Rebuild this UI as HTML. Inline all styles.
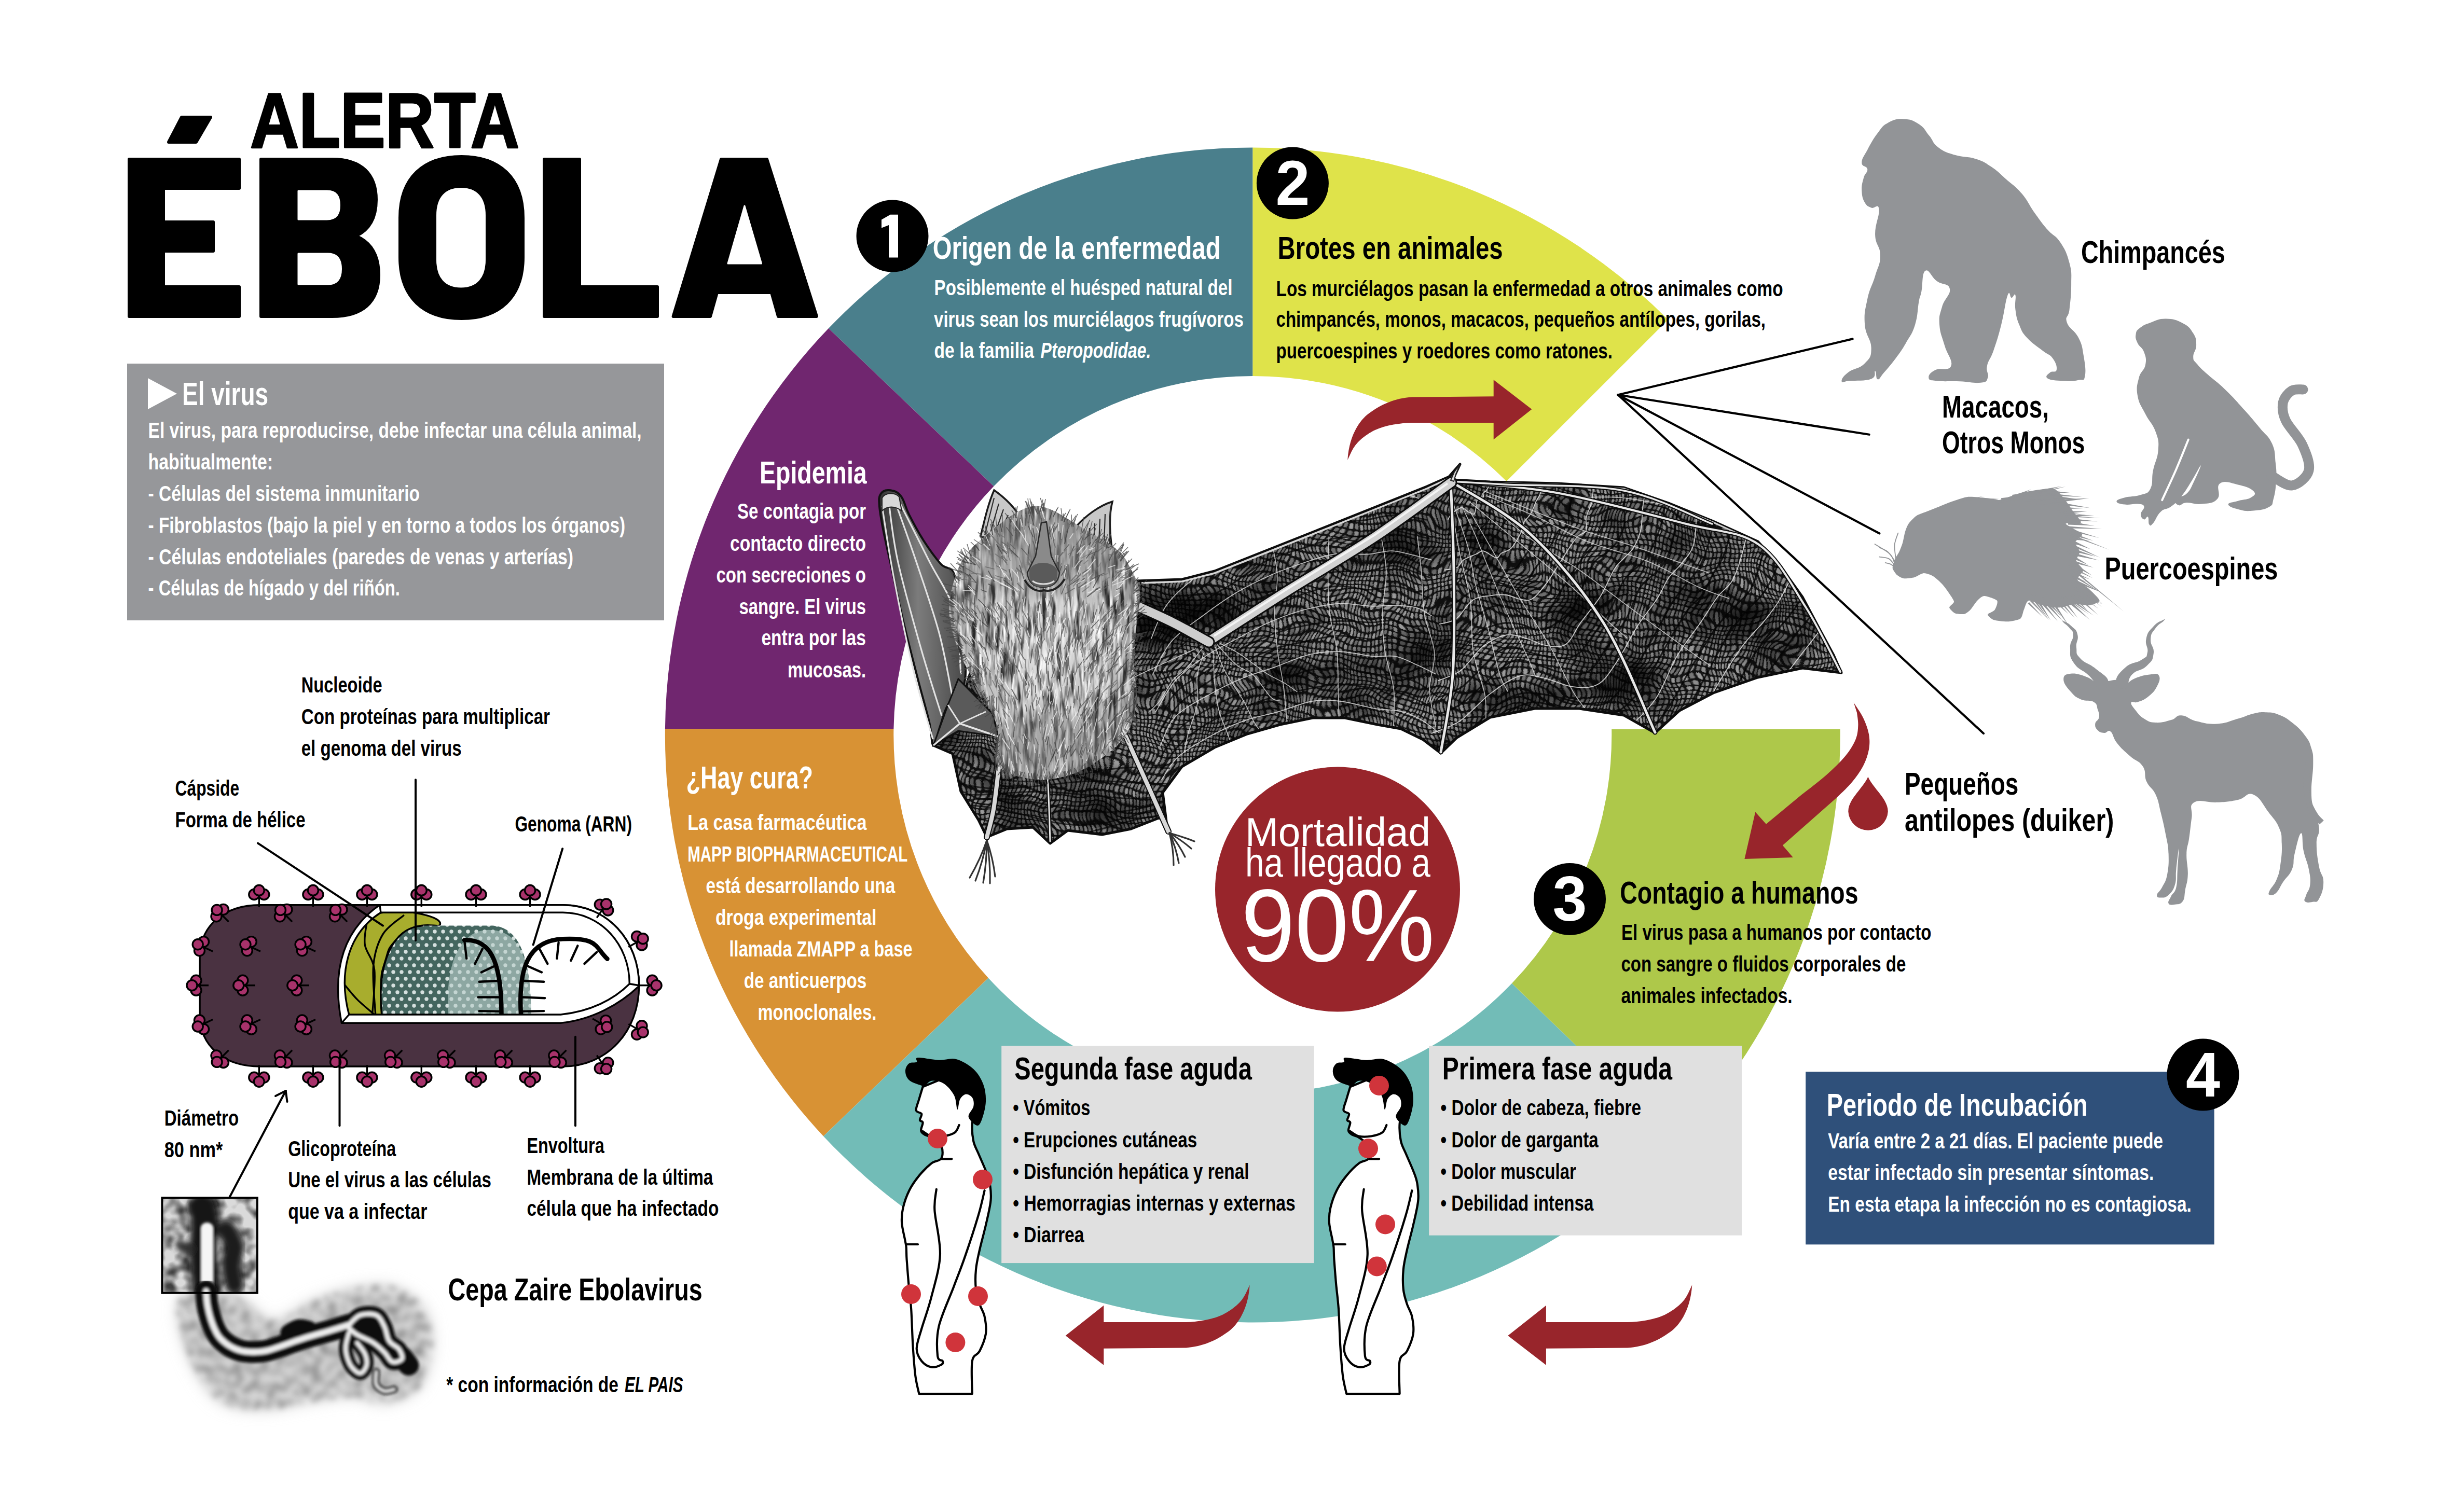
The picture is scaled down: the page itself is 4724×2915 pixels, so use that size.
<!DOCTYPE html>
<html lang="es"><head><meta charset="utf-8"><title>Alerta Ébola</title>
<style>html,body{margin:0;padding:0;background:#fff}body{width:4724px;height:2915px;overflow:hidden}svg{display:block}text{font-family:"Liberation Sans",sans-serif}</style>
</head><body>
<svg width="4724" height="2915" viewBox="0 0 4724 2915" font-family="Liberation Sans, sans-serif">
<rect width="4724" height="2915" fill="#fff"/>
<path d="M3215.1,616.2 A1132.5,1132.5 0 0 0 2414.3,284.5 L2414.3,725.0 A692.0,692.0 0 0 1 2903.6,927.7Z" fill="#DFE34A"/>
<path d="M2414.3,284.5 A1132.5,1132.5 0 0 0 1596.9,633.1 L1915.3,937.6 A692.0,692.0 0 0 1 2414.3,725.0Z" fill="#4A7F8C"/>
<path d="M1596.9,633.1 A1132.5,1132.5 0 0 0 1281.9,1405.2 L1722.4,1405.2 A692.0,692.0 0 0 1 1915.3,937.6Z" fill="#70266F"/>
<path d="M1281.9,1405.2 A1132.5,1132.5 0 0 0 1587.0,2190.4 L1904.9,1885.4 A692.0,692.0 0 0 1 1722.4,1405.2Z" fill="#D89234"/>
<path d="M1587.0,2190.4 A1132.5,1132.5 0 0 0 3230.3,2202.3 L2914.0,1895.7 A692.0,692.0 0 0 1 1904.9,1885.4Z" fill="#72BCB7"/>
<path d="M3230.3,2202.3 A1132.5,1132.5 0 0 0 3546.7,1405.7 L3106.2,1405.7 A692.0,692.0 0 0 1 2914.0,1895.7Z" fill="#AEC84A"/>
<g fill="#000" stroke="#000" stroke-width="6" stroke-linejoin="round">
<path d="M249,307 H461 V363 H315 V428 H411 V484 H315 V553 H461 V610 H249 Z"/>
<path d="M503,307 H640 C698,307 725,337 725,385 C725,420 712,443 686,455 C717,468 730,495 730,530 C730,583 698,610 640,610 H503 Z"/>
<path d="M771,420 C771,342 817,302 889.5,302 C962,302 1008,342 1008,420 V496 C1008,574 962,614 889.5,614 C817,614 771,574 771,496 Z"/>
<path d="M1049,307 H1117 V553 H1267 V610 H1049 Z"/>
<path d="M1390,307 H1478 L1574,610 H1500 L1487,564 H1382 L1369,610 H1297.6 Z"/>
<path d="M350,226 H406 L378,274 H325 Z"/>
</g>
<g fill="#fff" stroke="#fff" stroke-width="3" stroke-linejoin="round">
<path d="M575,368 H630 C649,368 654.5,379 654.5,395.5 C654.5,412 649,423 630,423 H575 Z"/>
<path d="M575,489 H632 C651,489 657.5,501 657.5,518.5 C657.5,536 651,548 632,548 H575 Z"/>
<path d="M842.5,415 C842.5,381 859,363.5 888.5,363.5 C918,363.5 934.5,381 934.5,415 V501 C934.5,535 918,553 888.5,553 C859,553 842.5,535 842.5,501 Z"/>
<path d="M1435,397 L1467.5,508 H1403 Z"/>
</g>
<text x="482.0" y="284.0" font-size="150" font-weight="bold" fill="#000" textLength="519.0" lengthAdjust="spacingAndGlyphs" text-anchor="start" stroke="#000" stroke-width="3.5" stroke-linejoin="round">ALERTA</text>
<defs>
<pattern id="wingtex" width="17" height="26" patternUnits="userSpaceOnUse" patternTransform="rotate(8)">
<rect width="17" height="26" fill="#121212"/>
<rect x="1.5" y="2" width="6" height="10" rx="2.6" fill="#9a9a9a"/><rect x="10" y="1" width="5.5" height="10" rx="2.6" fill="#777"/>
<rect x="2" y="15" width="5.5" height="9.5" rx="2.6" fill="#6e6e6e"/><rect x="9.5" y="14.5" width="6" height="10" rx="2.6" fill="#8c8c8c"/>
</pattern>
<filter id="wob" x="0" y="0" width="100%" height="100%" color-interpolation-filters="sRGB">
<feTurbulence type="fractalNoise" baseFrequency="0.009 0.012" numOctaves="2" seed="3" result="t"/>
<feDisplacementMap in="SourceGraphic" in2="t" scale="70" xChannelSelector="R" yChannelSelector="G"/>
</filter>
<filter id="blotch" x="0" y="0" width="100%" height="100%" color-interpolation-filters="sRGB">
<feTurbulence type="fractalNoise" baseFrequency="0.006 0.008" numOctaves="3" seed="9" result="n"/>
<feColorMatrix in="n" type="matrix" values="0 0 0 0 0  0 0 0 0 0  0 0 0 0 0  2.2 0 0 0 -0.95"/>
</filter>
<filter id="furtex" x="0" y="0" width="100%" height="100%" color-interpolation-filters="sRGB">
<feTurbulence type="fractalNoise" baseFrequency="0.11 0.016" numOctaves="3" seed="21" result="n"/>
<feColorMatrix in="n" type="matrix" values="0 0 0 0 0.16  0 0 0 0 0.16  0 0 0 0 0.16  3.2 0 0 0 -1.35"/>
</filter>
<filter id="furtex2" x="0" y="0" width="100%" height="100%" color-interpolation-filters="sRGB">
<feTurbulence type="fractalNoise" baseFrequency="0.13 0.02" numOctaves="2" seed="5" result="n"/>
<feColorMatrix in="n" type="matrix" values="0 0 0 0 1  0 0 0 0 1  0 0 0 0 1  0 3.0 0 0 -1.45"/>
</filter>
<radialGradient id="fur" cx="50%" cy="52%" r="58%"><stop offset="0" stop-color="#E2E2E2"/><stop offset="0.55" stop-color="#C2C2C2"/><stop offset="1" stop-color="#858585"/></radialGradient>
<linearGradient id="fold" x1="0" y1="0" x2="1" y2="0"><stop offset="0" stop-color="#333"/><stop offset="0.45" stop-color="#7c7c7c"/><stop offset="1" stop-color="#484848"/></linearGradient>
</defs>
<clipPath id="wingclip"><path d="M2190.0,1120.0 L2278.0,1117.0 L2341.0,1101.0 L2404.0,1076.0 L2530.0,1026.0 L2655.0,976.0 L2750.0,938.0 L2793.0,919.0 L2814.0,895.0 L2800.0,925.0 L2872.0,929.0 L3001.0,932.0 L3130.0,940.0 L3216.0,970.0 L3302.0,1005.0 L3388.0,1044.0 L3431.0,1091.0 L3474.0,1151.0 L3508.0,1215.0 L3534.0,1263.0 L3549.0,1297.0 L3474.0,1288.0 L3388.0,1306.0 L3302.0,1336.0 L3237.0,1370.0 L3190.0,1413.0 L3130.0,1379.0 L3044.0,1366.0 L2958.0,1366.0 L2872.0,1383.0 L2808.0,1422.0 L2777.0,1452.0 L2743.0,1426.0 L2700.0,1405.0 L2655.0,1397.0 L2592.0,1384.0 L2530.0,1384.0 L2467.0,1397.0 L2404.0,1415.0 L2341.0,1441.0 L2278.0,1478.0 L2241.0,1528.0 L2250.0,1600.0 L2236.0,1576.0 L2180.0,1598.0 L2124.0,1609.0 L2058.0,1601.0 L2024.0,1626.0 L1991.0,1595.0 L1941.0,1598.0 L1902.0,1614.0 L1886.0,1581.0 L1852.0,1526.0 L1836.0,1453.0 L1799.0,1437.0 L1847.0,1409.0 L1860.0,1330.0 L1900.0,1200.0Z"/></clipPath>
<g clip-path="url(#wingclip)">
<rect x="1750" y="850" width="1850" height="820" fill="url(#wingtex)" filter="url(#wob)"/>
<rect x="1750" y="850" width="1850" height="820" fill="#000" filter="url(#blotch)"/>
<path d="M2865.5,929.7 C2866.2,930.9 2869.9,934.2 2869.6,937.0 C2869.4,939.8 2865.8,943.9 2863.9,946.3 C2862.0,948.7 2859.0,949.5 2858.2,951.5 C2857.5,953.5 2860.7,957.1 2859.3,958.3 C2857.9,959.5 2852.2,956.2 2849.8,958.5 C2847.4,960.7 2845.6,969.3 2844.9,971.9 C2844.1,974.6 2845.7,971.2 2845.2,974.3 C2844.7,977.4 2844.1,988.2 2841.8,990.5 C2839.6,992.7 2835.4,989.8 2831.7,987.9 C2828.0,986.0 2822.1,980.6 2819.4,979.1 C2816.7,977.6 2818.0,977.8 2815.5,978.8 C2813.0,979.8 2807.7,982.6 2804.2,985.3 C2800.7,988.0 2796.8,992.0 2794.5,994.9 C2792.2,997.8 2791.2,1001.3 2790.5,1002.6" fill="none" stroke="#e6e6e6" stroke-width="1.8" opacity="0.85"/>
<path d="M2900.2,931.1 C2900.0,933.1 2899.7,940.1 2899.1,943.5 C2898.4,947.0 2896.5,947.7 2896.4,951.7 C2896.2,955.7 2898.9,964.5 2898.1,967.7 C2897.3,970.8 2894.6,969.7 2891.6,970.7 C2888.6,971.7 2883.3,971.2 2880.2,973.5 C2877.0,975.8 2874.4,979.5 2872.6,984.4 C2870.7,989.2 2871.0,997.9 2868.9,1002.6 C2866.9,1007.3 2863.3,1010.1 2860.4,1012.8 C2857.5,1015.4 2856.3,1019.5 2851.3,1018.7 C2846.4,1018.0 2834.7,1009.7 2830.9,1008.2 C2827.1,1006.7 2830.9,1008.4 2828.6,1009.7 C2826.4,1011.0 2822.9,1012.6 2817.6,1015.9 C2812.2,1019.1 2800.9,1026.6 2796.5,1029.2 C2792.2,1031.8 2792.4,1031.1 2791.5,1031.4" fill="none" stroke="#050505" stroke-width="3.2" opacity="0.8"/>
<path d="M2929.9,928.5 C2931.1,932.0 2938.1,943.8 2937.4,949.0 C2936.8,954.2 2928.7,956.4 2925.9,959.9 C2923.2,963.3 2921.7,966.5 2920.9,969.6 C2920.1,972.8 2923.0,975.1 2921.3,978.7 C2919.6,982.3 2914.7,986.1 2910.7,991.4 C2906.7,996.8 2901.5,1004.5 2897.3,1010.9 C2893.1,1017.2 2889.6,1024.7 2885.5,1029.7 C2881.5,1034.8 2877.2,1039.2 2873.0,1041.2 C2868.8,1043.1 2863.7,1041.4 2860.5,1041.5 C2857.3,1041.5 2858.4,1041.5 2853.7,1041.3 C2848.9,1041.2 2838.3,1040.1 2831.9,1040.7 C2825.5,1041.3 2819.7,1041.4 2815.4,1044.9 C2811.0,1048.5 2811.4,1057.3 2805.9,1062.0 C2800.4,1066.7 2786.3,1071.3 2782.4,1073.2" fill="none" stroke="#050505" stroke-width="3.2" opacity="0.8"/>
<path d="M2965.1,928.3 C2965.8,931.8 2969.9,942.9 2969.2,949.3 C2968.5,955.6 2963.4,960.5 2960.6,966.6 C2957.9,972.8 2955.0,981.3 2952.6,986.2 C2950.1,991.1 2948.5,992.7 2945.9,996.2 C2943.3,999.7 2939.5,1001.9 2937.0,1007.2 C2934.4,1012.6 2934.7,1020.0 2930.7,1028.2 C2926.7,1036.4 2919.1,1050.3 2912.9,1056.7 C2906.8,1063.1 2898.4,1063.4 2893.6,1066.6 C2888.8,1069.7 2889.7,1076.2 2884.0,1075.5 C2878.4,1074.8 2865.9,1063.6 2859.5,1062.4 C2853.1,1061.1 2852.1,1065.2 2845.6,1068.0 C2839.1,1070.9 2827.0,1075.2 2820.7,1079.6 C2814.4,1083.9 2814.0,1091.1 2807.8,1094.3 C2801.5,1097.5 2787.3,1098.1 2783.2,1098.9" fill="none" stroke="#e6e6e6" stroke-width="1.8" opacity="0.85"/>
<path d="M2997.4,935.9 C2997.4,939.5 2998.2,949.8 2997.6,957.6 C2996.9,965.3 2994.6,976.4 2993.2,982.6 C2991.8,988.8 2992.3,990.0 2989.4,994.7 C2986.4,999.4 2979.9,1006.4 2975.4,1010.7 C2970.8,1015.1 2965.9,1013.9 2962.0,1020.7 C2958.2,1027.6 2956.7,1042.6 2952.4,1051.7 C2948.1,1060.9 2941.6,1068.3 2936.3,1075.5 C2931.1,1082.7 2928.3,1091.3 2920.8,1095.2 C2913.4,1099.0 2899.4,1099.7 2891.7,1098.5 C2884.0,1097.4 2881.6,1089.8 2874.5,1088.3 C2867.5,1086.7 2856.7,1087.1 2849.3,1089.1 C2841.9,1091.2 2837.5,1093.7 2830.0,1100.4 C2822.4,1107.2 2811.4,1123.5 2804.1,1129.9 C2796.9,1136.3 2789.4,1137.5 2786.4,1139.0" fill="none" stroke="#050505" stroke-width="3.2" opacity="0.8"/>
<path d="M3037.9,932.7 C3036.6,936.5 3032.6,945.5 3030.3,955.4 C3027.9,965.3 3025.1,982.4 3023.8,992.0 C3022.4,1001.5 3025.5,1007.5 3022.2,1012.7 C3018.9,1017.9 3008.6,1018.4 3004.0,1023.2 C2999.3,1028.0 2999.0,1033.2 2994.3,1041.5 C2989.6,1049.8 2982.4,1062.8 2975.7,1073.0 C2969.0,1083.3 2960.0,1093.4 2953.9,1102.9 C2947.8,1112.4 2945.4,1125.4 2939.0,1130.2 C2932.6,1135.0 2923.5,1132.4 2915.5,1131.4 C2907.5,1130.3 2900.2,1126.0 2891.1,1124.0 C2881.9,1121.9 2869.1,1116.9 2860.4,1119.1 C2851.7,1121.3 2847.8,1129.8 2838.7,1136.9 C2829.7,1144.0 2815.5,1155.6 2806.2,1161.5 C2796.9,1167.5 2786.8,1170.8 2782.9,1172.7" fill="none" stroke="#050505" stroke-width="3.2" opacity="0.8"/>
<path d="M3071.2,931.2 C3070.7,937.0 3070.7,954.6 3068.4,965.7 C3066.1,976.8 3059.3,988.2 3057.3,997.7 C3055.4,1007.3 3059.6,1017.2 3056.9,1023.2 C3054.2,1029.3 3046.5,1028.5 3041.2,1034.0 C3035.8,1039.4 3031.4,1046.2 3024.9,1055.8 C3018.5,1065.3 3010.6,1079.0 3002.6,1091.3 C2994.6,1103.6 2985.4,1119.0 2976.9,1129.6 C2968.5,1140.3 2959.7,1151.0 2951.8,1155.3 C2943.9,1159.5 2937.7,1156.6 2929.5,1155.2 C2921.4,1153.8 2912.7,1148.1 2903.2,1147.0 C2893.6,1145.8 2883.2,1146.5 2872.3,1148.3 C2861.4,1150.0 2848.7,1149.9 2837.8,1157.4 C2826.8,1164.9 2817.3,1185.5 2806.6,1193.1 C2796.0,1200.7 2779.4,1201.5 2773.9,1203.2" fill="none" stroke="#e6e6e6" stroke-width="1.8" opacity="0.85"/>
<path d="M3108.0,934.5 C3106.8,941.0 3103.2,961.1 3100.7,973.1 C3098.1,985.0 3096.1,997.0 3092.7,1006.5 C3089.4,1016.0 3084.1,1022.4 3080.7,1030.1 C3077.2,1037.7 3076.4,1045.9 3072.1,1052.5 C3067.7,1059.1 3061.5,1060.7 3054.5,1069.6 C3047.5,1078.5 3038.8,1092.2 3029.8,1105.9 C3020.8,1119.6 3008.8,1138.5 3000.4,1151.8 C2992.1,1165.1 2988.5,1179.3 2979.8,1185.8 C2971.1,1192.4 2959.7,1193.4 2948.4,1190.9 C2937.1,1188.4 2923.4,1174.6 2912.0,1170.9 C2900.6,1167.2 2891.6,1165.3 2880.0,1168.6 C2868.5,1171.9 2854.3,1181.3 2842.8,1190.5 C2831.4,1199.7 2823.2,1214.9 2811.5,1223.9 C2799.8,1232.9 2779.1,1241.1 2772.7,1244.5" fill="none" stroke="#050505" stroke-width="3.2" opacity="0.8"/>
<path d="M3142.8,933.0 C3140.8,939.0 3132.6,956.4 3130.7,969.0 C3128.8,981.6 3133.4,996.4 3131.2,1008.7 C3129.0,1021.0 3123.2,1033.5 3117.5,1042.8 C3111.9,1052.1 3104.5,1057.9 3097.3,1064.6 C3090.0,1071.2 3081.2,1073.1 3074.0,1082.8 C3066.8,1092.5 3061.5,1107.6 3054.2,1122.8 C3046.9,1138.0 3040.6,1160.1 3030.3,1173.9 C3020.1,1187.8 3003.8,1199.2 2992.7,1205.9 C2981.7,1212.6 2974.9,1214.9 2964.2,1214.4 C2953.5,1213.9 2940.5,1204.9 2928.6,1202.9 C2916.7,1200.9 2905.5,1199.8 2892.9,1202.3 C2880.3,1204.7 2866.6,1208.9 2853.0,1217.4 C2839.5,1225.9 2825.8,1243.8 2811.5,1253.4 C2797.2,1263.1 2774.6,1271.7 2767.3,1275.4" fill="none" stroke="#050505" stroke-width="3.2" opacity="0.8"/>
<path d="M3174.1,930.8 C3172.8,938.5 3168.3,961.5 3166.4,976.7 C3164.4,991.9 3165.4,1008.8 3162.3,1022.0 C3159.3,1035.2 3154.0,1046.7 3148.3,1056.0 C3142.7,1065.3 3134.5,1070.8 3128.2,1077.9 C3122.0,1084.9 3118.2,1086.1 3111.0,1098.1 C3103.7,1110.1 3095.5,1132.5 3084.7,1149.6 C3073.9,1166.8 3057.5,1185.3 3046.3,1200.8 C3035.1,1216.3 3028.8,1235.4 3017.5,1242.6 C3006.2,1249.8 2990.5,1246.0 2978.3,1244.1 C2966.1,1242.3 2956.6,1234.8 2944.1,1231.5 C2931.7,1228.2 2918.0,1221.6 2903.6,1224.1 C2889.3,1226.6 2872.9,1235.1 2858.2,1246.5 C2843.5,1257.9 2830.1,1281.5 2815.6,1292.5 C2801.1,1303.5 2778.6,1309.1 2771.2,1312.4" fill="none" stroke="#e6e6e6" stroke-width="1.8" opacity="0.85"/>
<path d="M3203.1,938.6 C3203.8,946.7 3208.7,971.8 3207.2,987.5 C3205.6,1003.3 3198.7,1019.6 3193.7,1033.2 C3188.7,1046.7 3182.3,1060.0 3177.2,1068.9 C3172.0,1077.8 3170.7,1078.6 3163.0,1086.7 C3155.3,1094.8 3140.3,1103.5 3130.9,1117.4 C3121.5,1131.3 3116.3,1152.6 3106.6,1169.9 C3096.9,1187.3 3084.1,1205.9 3072.9,1221.2 C3061.6,1236.6 3051.5,1254.3 3039.3,1262.2 C3027.0,1270.1 3013.7,1269.3 2999.1,1268.7 C2984.5,1268.1 2967.4,1262.1 2951.7,1258.6 C2936.0,1255.1 2919.8,1244.1 2904.9,1247.8 C2890.0,1251.5 2876.8,1268.1 2862.3,1280.8 C2847.9,1293.5 2833.4,1313.2 2818.3,1323.9 C2803.2,1334.6 2779.6,1341.3 2771.9,1344.7" fill="none" stroke="#050505" stroke-width="3.2" opacity="0.8"/>
<path d="M3244.4,931.0 C3242.6,940.4 3236.6,969.2 3233.3,987.6 C3229.9,1005.9 3227.7,1026.2 3224.2,1041.0 C3220.6,1055.8 3217.3,1066.2 3212.1,1076.4 C3206.9,1086.6 3201.5,1092.8 3193.0,1102.1 C3184.5,1111.5 3170.9,1117.7 3161.3,1132.6 C3151.7,1147.4 3146.6,1170.8 3135.3,1191.1 C3123.9,1211.4 3105.5,1236.9 3093.0,1254.2 C3080.6,1271.5 3074.0,1287.7 3060.8,1294.9 C3047.5,1302.1 3029.1,1299.5 3013.4,1297.5 C2997.8,1295.5 2982.5,1286.9 2966.8,1282.9 C2951.0,1278.9 2934.6,1269.2 2918.9,1273.4 C2903.2,1277.5 2889.6,1293.7 2872.3,1307.8 C2855.1,1321.8 2833.3,1345.8 2815.5,1357.7 C2797.7,1369.6 2774.0,1375.7 2765.7,1379.3" fill="none" stroke="#050505" stroke-width="3.2" opacity="0.8"/>
<path d="M3275.8,931.3 C3274.9,941.3 3272.1,971.0 3270.1,991.0 C3268.1,1011.0 3268.8,1035.4 3263.8,1051.5 C3258.8,1067.5 3248.1,1076.8 3240.2,1087.2 C3232.2,1097.7 3223.6,1103.1 3216.0,1114.1 C3208.4,1125.2 3204.2,1138.3 3194.4,1153.5 C3184.7,1168.7 3170.4,1184.6 3157.3,1205.1 C3144.2,1225.6 3128.7,1257.6 3115.8,1276.6 C3103.0,1295.5 3094.2,1311.1 3080.2,1319.0 C3066.3,1327.0 3049.4,1326.2 3032.1,1324.2 C3014.8,1322.3 2993.6,1310.9 2976.4,1307.3 C2959.2,1303.8 2946.5,1298.0 2929.1,1303.1 C2911.6,1308.2 2890.8,1323.5 2871.7,1337.9 C2852.5,1352.3 2832.9,1377.0 2814.1,1389.7 C2795.3,1402.4 2768.1,1410.0 2758.9,1414.0" fill="none" stroke="#e6e6e6" stroke-width="1.8" opacity="0.85"/>
<path d="M3305.4,933.2 C3305.1,943.6 3306.2,975.5 3303.8,995.7 C3301.3,1016.0 3295.8,1038.2 3290.9,1054.9 C3286.1,1071.5 3281.9,1083.0 3274.5,1095.4 C3267.2,1107.9 3255.9,1117.7 3246.9,1129.4 C3237.9,1141.1 3230.8,1149.1 3220.8,1165.6 C3210.8,1182.0 3199.3,1205.9 3186.8,1227.9 C3174.2,1249.9 3160.2,1276.4 3145.5,1297.4 C3130.7,1318.4 3114.2,1344.2 3098.3,1353.9 C3082.4,1363.6 3067.9,1357.8 3049.9,1355.7 C3032.0,1353.6 3010.0,1344.6 2990.7,1341.5 C2971.3,1338.3 2951.7,1333.3 2933.7,1336.7 C2915.7,1340.1 2901.9,1347.8 2882.5,1362.1 C2863.0,1376.4 2837.8,1408.6 2817.0,1422.3 C2796.2,1436.0 2767.7,1440.8 2757.9,1444.5" fill="none" stroke="#050505" stroke-width="3.2" opacity="0.8"/>
<path d="M3345.2,936.0 C3344.4,946.2 3343.6,975.5 3340.0,997.2 C3336.5,1018.9 3330.6,1047.7 3324.1,1066.1 C3317.7,1084.4 3308.2,1094.0 3301.2,1107.2 C3294.1,1120.4 3290.0,1133.8 3281.8,1145.5 C3273.7,1157.2 3264.3,1159.9 3252.2,1177.2 C3240.1,1194.4 3223.6,1224.3 3209.0,1249.2 C3194.5,1274.1 3181.0,1305.8 3164.9,1326.7 C3148.8,1347.6 3130.4,1365.5 3112.7,1374.6 C3095.0,1383.7 3076.3,1383.1 3058.6,1381.4 C3040.8,1379.8 3024.8,1369.0 3006.1,1364.6 C2987.4,1360.2 2967.4,1350.4 2946.5,1355.0 C2925.7,1359.5 2901.3,1374.8 2880.9,1391.9 C2860.6,1409.0 2844.4,1443.1 2824.6,1457.6 C2804.8,1472.1 2772.6,1475.4 2762.2,1479.0" fill="none" stroke="#050505" stroke-width="3.2" opacity="0.8"/>
<path d="M3371.5,941.8 C3371.4,952.9 3373.0,986.4 3370.5,1008.1 C3367.9,1029.9 3361.8,1053.6 3356.3,1072.4 C3350.9,1091.1 3345.4,1107.9 3337.9,1120.8 C3330.4,1133.7 3321.2,1136.6 3311.1,1149.8 C3301.1,1163.0 3290.9,1180.8 3277.6,1200.2 C3264.4,1219.6 3246.1,1241.3 3231.5,1266.0 C3216.9,1290.7 3206.7,1325.6 3190.2,1348.6 C3173.8,1371.5 3151.2,1393.4 3132.7,1403.6 C3114.2,1413.8 3097.6,1411.2 3079.2,1409.7 C3060.9,1408.2 3042.9,1398.1 3022.6,1394.6 C3002.2,1391.1 2979.2,1384.2 2957.2,1388.9 C2935.3,1393.7 2913.1,1406.9 2890.9,1422.9 C2868.6,1439.0 2845.5,1469.1 2823.7,1485.4 C2802.0,1501.7 2770.9,1514.8 2760.4,1520.7" fill="none" stroke="#e6e6e6" stroke-width="1.8" opacity="0.85"/>
<path d="M3407.5,942.0 C3407.4,953.8 3409.2,989.7 3407.0,1012.8 C3404.8,1035.8 3399.7,1059.6 3394.2,1080.2 C3388.6,1100.9 3382.1,1121.6 3373.5,1136.7 C3364.8,1151.7 3353.4,1158.1 3342.2,1170.6 C3331.0,1183.1 3319.7,1193.0 3306.4,1211.6 C3293.1,1230.1 3278.8,1255.0 3262.6,1282.0 C3246.4,1309.1 3227.9,1348.6 3209.2,1373.9 C3190.6,1399.2 3169.5,1421.9 3150.8,1433.6 C3132.1,1445.4 3117.4,1446.1 3097.1,1444.4 C3076.8,1442.6 3050.8,1428.9 3029.0,1423.2 C3007.2,1417.6 2988.2,1405.5 2966.2,1410.5 C2944.1,1415.6 2920.3,1435.9 2896.7,1453.7 C2873.1,1471.4 2847.7,1500.3 2824.6,1516.9 C2801.6,1533.6 2769.2,1547.5 2758.2,1553.6" fill="none" stroke="#050505" stroke-width="3.2" opacity="0.8"/>
<path d="M3445.9,941.0 C3445.4,952.5 3446.5,984.6 3443.0,1009.8 C3439.6,1034.9 3432.5,1069.8 3425.1,1092.0 C3417.7,1114.3 3408.7,1128.9 3398.8,1143.2 C3388.9,1157.6 3377.3,1164.7 3365.9,1178.2 C3354.5,1191.7 3344.3,1202.3 3330.6,1224.3 C3316.9,1246.3 3299.7,1281.1 3283.6,1310.2 C3267.6,1339.3 3251.5,1373.4 3234.3,1399.0 C3217.1,1424.6 3199.8,1451.5 3180.2,1463.8 C3160.7,1476.2 3139.3,1476.7 3117.2,1473.0 C3095.2,1469.3 3071.6,1446.9 3047.8,1441.7 C3024.1,1436.5 3000.1,1434.1 2974.8,1441.6 C2949.5,1449.0 2921.4,1468.2 2896.0,1486.3 C2870.6,1504.5 2847.2,1533.7 2822.5,1550.4 C2797.7,1567.2 2760.0,1580.7 2747.5,1586.7" fill="none" stroke="#050505" stroke-width="3.2" opacity="0.8"/>
<path d="M3479.0,934.5 C3478.6,948.5 3480.0,990.9 3476.4,1018.3 C3472.8,1045.7 3464.6,1076.6 3457.2,1099.1 C3449.7,1121.6 3440.8,1137.4 3431.7,1153.4 C3422.5,1169.4 3414.4,1179.7 3402.1,1195.1 C3389.8,1210.6 3373.2,1225.2 3357.8,1246.2 C3342.4,1267.2 3327.1,1292.3 3309.8,1321.1 C3292.5,1349.9 3273.8,1390.3 3254.2,1419.1 C3234.6,1447.8 3213.1,1479.6 3192.1,1493.8 C3171.0,1507.9 3149.7,1508.3 3127.8,1504.1 C3105.8,1499.9 3083.5,1474.3 3060.3,1468.6 C3037.0,1463.0 3014.5,1462.5 2988.1,1470.2 C2961.6,1478.0 2928.7,1496.3 2901.8,1515.2 C2874.9,1534.0 2851.5,1565.9 2826.7,1583.2 C2802.0,1600.4 2765.4,1612.8 2753.2,1618.7" fill="none" stroke="#e6e6e6" stroke-width="1.8" opacity="0.85"/>
<path d="M3512.1,943.9 C3511.4,957.1 3510.8,995.7 3507.9,1023.3 C3505.0,1051.0 3501.7,1086.5 3494.6,1109.8 C3487.6,1133.1 3476.3,1146.8 3465.8,1163.1 C3455.3,1179.3 3445.4,1192.0 3431.9,1207.4 C3418.5,1222.7 3400.8,1232.9 3385.1,1255.3 C3369.4,1277.8 3355.5,1309.6 3337.8,1342.1 C3320.2,1374.5 3299.6,1420.9 3279.2,1450.0 C3258.7,1479.2 3237.1,1503.9 3215.0,1516.9 C3192.8,1529.9 3169.8,1530.6 3146.3,1527.9 C3122.7,1525.2 3098.4,1505.7 3073.6,1500.6 C3048.8,1495.5 3024.1,1490.9 2997.5,1497.1 C2970.9,1503.3 2942.6,1517.1 2913.9,1537.6 C2885.2,1558.0 2852.6,1600.1 2825.2,1620.0 C2797.7,1639.9 2761.6,1650.9 2748.9,1657.1" fill="none" stroke="#050505" stroke-width="3.2" opacity="0.8"/>
<path d="M3544.5,937.8 C3543.9,952.9 3544.6,999.0 3541.2,1028.8 C3537.7,1058.6 3530.7,1092.0 3523.7,1116.4 C3516.7,1140.8 3510.0,1156.9 3499.1,1175.1 C3488.2,1193.4 3471.4,1208.5 3458.3,1225.9 C3445.2,1243.3 3437.0,1256.8 3420.4,1279.3 C3403.8,1301.9 3378.6,1329.1 3358.7,1361.3 C3338.7,1393.4 3320.8,1441.9 3300.4,1472.3 C3280.1,1502.7 3259.5,1530.0 3236.6,1543.4 C3213.6,1556.8 3188.6,1555.3 3162.5,1552.9 C3136.3,1550.6 3106.4,1534.6 3079.7,1529.2 C3053.1,1523.9 3029.7,1514.1 3002.3,1520.7 C2975.0,1527.3 2944.9,1547.9 2915.8,1569.0 C2886.6,1590.1 2856.0,1626.4 2827.7,1647.2 C2799.4,1668.0 2759.7,1686.0 2746.1,1693.8" fill="none" stroke="#050505" stroke-width="3.2" opacity="0.8"/>
<path d="M3575.6,936.8 C3575.7,953.0 3579.0,1003.3 3576.1,1033.9 C3573.3,1064.6 3566.5,1095.2 3558.4,1120.7 C3550.3,1146.2 3538.3,1168.4 3527.5,1187.2 C3516.8,1205.9 3507.7,1214.9 3494.1,1233.1 C3480.5,1251.2 3463.7,1270.7 3445.9,1296.2 C3428.1,1321.7 3406.8,1351.7 3387.2,1386.0 C3367.6,1420.3 3350.2,1470.6 3328.1,1502.0 C3306.0,1533.3 3280.1,1559.6 3254.5,1574.1 C3228.9,1588.7 3201.6,1593.4 3174.6,1589.5 C3147.7,1585.5 3119.8,1557.7 3092.7,1550.5 C3065.6,1543.2 3039.9,1538.4 3011.8,1546.0 C2983.7,1553.7 2953.8,1574.4 2924.4,1596.3 C2894.9,1618.2 2865.9,1655.5 2834.9,1677.2 C2803.9,1698.9 2754.5,1718.4 2738.4,1726.6" fill="none" stroke="#e6e6e6" stroke-width="1.8" opacity="0.85"/>
<path d="M2855.8,937.0 C2868.9,937.3 2905.4,935.3 2934.5,938.7 C2963.5,942.1 2998.2,953.9 3029.8,957.3 C3061.5,960.7 3092.0,956.1 3124.3,959.3 C3156.6,962.4 3198.6,971.5 3223.4,976.0 C3248.3,980.6 3265.2,984.7 3273.5,986.5" fill="none" stroke="#e0e0e0" stroke-width="1.6" opacity="0.8"/>
<path d="M2860.1,946.6 C2873.9,952.2 2911.2,967.4 2943.1,980.0 C2975.0,992.7 3018.4,1010.8 3051.4,1022.6 C3084.5,1034.4 3109.7,1040.1 3141.6,1050.7 C3173.5,1061.4 3217.7,1077.4 3243.0,1086.4 C3268.3,1095.4 3284.9,1101.5 3293.3,1104.5" fill="none" stroke="#e0e0e0" stroke-width="1.6" opacity="0.8"/>
<path d="M2864.5,955.6 C2880.6,962.4 2929.0,981.6 2961.5,996.4 C2993.9,1011.1 3023.6,1029.8 3059.4,1044.1 C3095.2,1058.5 3141.1,1068.0 3176.4,1082.5 C3211.8,1096.9 3245.6,1118.8 3271.6,1130.7 C3297.6,1142.7 3322.3,1150.1 3332.4,1154.0" fill="none" stroke="#e0e0e0" stroke-width="1.6" opacity="0.8"/>
<path d="M2861.0,964.2 C2875.6,976.5 2918.1,1015.5 2948.5,1037.8 C2978.9,1060.2 3009.1,1074.7 3043.3,1098.5 C3077.5,1122.3 3119.9,1155.7 3153.7,1180.5 C3187.4,1205.3 3221.9,1230.0 3245.8,1247.3 C3269.7,1264.6 3288.7,1278.0 3297.3,1284.1" fill="none" stroke="#e0e0e0" stroke-width="1.6" opacity="0.8"/>
<path d="M2832.5,967.6 C2843.3,976.6 2875.7,1003.5 2897.4,1021.5 C2919.2,1039.4 2939.5,1055.6 2963.0,1075.3 C2986.5,1095.0 3015.8,1119.4 3038.5,1139.8 C3061.2,1160.2 3082.9,1182.7 3099.2,1197.8 C3115.5,1212.8 3130.0,1224.7 3136.1,1230.1" fill="none" stroke="#e0e0e0" stroke-width="1.6" opacity="0.8"/>
<path d="M2832.0,984.0 C2839.9,997.8 2862.9,1037.6 2879.5,1066.5 C2896.1,1095.3 2913.9,1127.7 2931.6,1157.1 C2949.3,1186.6 2969.0,1213.7 2985.7,1243.1 C3002.4,1272.5 3019.3,1311.7 3032.0,1333.6 C3044.7,1355.4 3057.1,1367.5 3062.1,1374.3" fill="none" stroke="#e0e0e0" stroke-width="1.6" opacity="0.8"/>
<path d="M2819.6,979.7 C2823.8,989.0 2835.5,1013.1 2844.9,1035.4 C2854.3,1057.8 2865.2,1087.0 2876.3,1113.7 C2887.3,1140.5 2900.3,1171.4 2911.3,1196.1 C2922.2,1220.7 2933.7,1243.6 2941.8,1261.5 C2949.8,1279.5 2956.5,1296.6 2959.4,1303.6" fill="none" stroke="#e0e0e0" stroke-width="1.6" opacity="0.8"/>
<path d="M2802.9,976.5 C2807.4,989.9 2823.0,1031.4 2829.8,1056.5 C2836.7,1081.6 2837.6,1101.5 2844.0,1127.2 C2850.3,1152.9 2860.1,1181.9 2867.8,1210.6 C2875.5,1239.3 2883.9,1279.0 2890.3,1299.4 C2896.7,1319.9 2903.6,1327.8 2906.2,1333.5" fill="none" stroke="#e0e0e0" stroke-width="1.6" opacity="0.8"/>
<path d="M2799.4,986.9 C2801.8,1000.2 2807.7,1038.3 2813.4,1066.8 C2819.2,1095.3 2829.5,1126.4 2833.9,1157.9 C2838.2,1189.4 2834.8,1225.3 2839.4,1255.7 C2844.1,1286.1 2857.9,1317.0 2862.0,1340.2 C2866.0,1363.3 2863.2,1385.7 2863.5,1394.8" fill="none" stroke="#e0e0e0" stroke-width="1.6" opacity="0.8"/>
<path d="M2238.9,1503.3 C2244.5,1495.7 2255.3,1472.4 2272.4,1457.6 C2289.5,1442.8 2319.8,1426.2 2341.4,1414.6 C2363.0,1403.0 2381.9,1395.2 2402.2,1388.1 C2422.5,1381.1 2442.0,1378.5 2463.2,1372.4 C2484.4,1366.4 2508.8,1355.3 2529.3,1351.9 C2549.7,1348.5 2565.6,1349.9 2586.1,1352.3 C2606.5,1354.7 2633.0,1363.2 2652.0,1366.4 C2670.9,1369.6 2685.3,1367.9 2699.7,1371.3 C2714.1,1374.8 2725.9,1380.4 2738.3,1387.3 C2750.6,1394.1 2767.7,1408.4 2773.6,1412.6" fill="none" stroke="#e6e6e6" stroke-width="1.7" opacity="0.8"/>
<path d="M2240.0,1483.1 C2245.8,1474.9 2259.2,1449.4 2275.1,1433.9 C2291.0,1418.5 2314.8,1402.1 2335.1,1390.3 C2355.5,1378.5 2376.6,1371.1 2397.2,1363.2 C2417.9,1355.2 2437.1,1348.7 2459.0,1342.6 C2480.9,1336.5 2507.8,1330.5 2528.8,1326.6 C2549.7,1322.7 2564.0,1319.0 2584.7,1319.2 C2605.3,1319.4 2634.2,1325.0 2652.7,1327.8 C2671.3,1330.5 2680.9,1331.3 2695.8,1335.7 C2710.8,1340.2 2729.3,1348.1 2742.6,1354.7 C2756.0,1361.3 2770.3,1372.0 2775.9,1375.4" fill="none" stroke="#050505" stroke-width="3" opacity="0.75"/>
<path d="M2237.3,1459.8 C2243.7,1450.3 2258.6,1419.0 2275.3,1402.7 C2292.1,1386.4 2317.1,1373.6 2337.6,1362.2 C2358.1,1350.7 2378.2,1342.2 2398.3,1334.2 C2418.5,1326.2 2437.6,1321.1 2458.3,1314.2 C2479.0,1307.2 2501.8,1296.9 2522.5,1292.5 C2543.2,1288.1 2561.6,1286.7 2582.6,1287.9 C2603.6,1289.2 2630.4,1297.2 2648.7,1299.7 C2667.1,1302.2 2678.7,1300.1 2692.9,1303.0 C2707.1,1305.9 2720.9,1310.4 2733.8,1317.2 C2746.8,1323.9 2764.6,1338.9 2770.7,1343.2" fill="none" stroke="#050505" stroke-width="3" opacity="0.75"/>
<path d="M2235.6,1439.2 C2240.7,1429.5 2249.6,1398.1 2266.1,1381.0 C2282.6,1364.0 2312.9,1349.3 2334.7,1336.9 C2356.4,1324.5 2376.4,1315.0 2396.5,1306.7 C2416.6,1298.3 2433.8,1294.4 2455.1,1286.9 C2476.4,1279.4 2502.8,1266.8 2524.4,1261.7 C2546.0,1256.6 2564.7,1255.7 2584.9,1256.3 C2605.2,1256.9 2628.4,1263.8 2646.0,1265.3 C2663.6,1266.9 2675.7,1262.7 2690.4,1265.7 C2705.1,1268.7 2721.4,1277.7 2734.1,1283.3 C2746.9,1289.0 2761.6,1296.9 2767.1,1299.6" fill="none" stroke="#e6e6e6" stroke-width="1.7" opacity="0.8"/>
<path d="M2232.9,1414.1 C2239.3,1404.9 2254.9,1375.5 2271.6,1358.5 C2288.2,1341.5 2311.9,1325.8 2332.8,1312.2 C2353.6,1298.5 2376.4,1286.9 2396.6,1276.7 C2416.8,1266.6 2433.3,1258.1 2454.1,1251.3 C2474.9,1244.4 2500.5,1239.9 2521.4,1235.7 C2542.3,1231.4 2558.4,1226.2 2579.4,1225.7 C2600.5,1225.2 2629.8,1232.0 2647.7,1232.7 C2665.6,1233.5 2673.0,1228.6 2686.7,1230.3 C2700.5,1232.0 2717.0,1237.9 2730.3,1243.0 C2743.5,1248.1 2760.3,1258.1 2766.3,1261.1" fill="none" stroke="#050505" stroke-width="3" opacity="0.75"/>
<path d="M2232.4,1392.4 C2238.0,1382.9 2249.6,1352.2 2266.1,1335.2 C2282.6,1318.2 2310.3,1304.5 2331.1,1290.6 C2352.0,1276.6 2370.6,1263.1 2391.1,1251.7 C2411.6,1240.2 2433.3,1229.8 2454.3,1222.1 C2475.3,1214.4 2495.6,1209.7 2517.2,1205.6 C2538.8,1201.5 2562.7,1198.3 2583.9,1197.3 C2605.0,1196.4 2627.6,1200.0 2644.3,1199.9 C2661.0,1199.8 2669.9,1194.8 2684.1,1196.6 C2698.4,1198.5 2716.8,1206.3 2729.7,1211.2 C2742.7,1216.1 2756.5,1223.6 2761.9,1226.0" fill="none" stroke="#050505" stroke-width="3" opacity="0.75"/>
<path d="M2227.1,1372.8 C2233.7,1362.5 2250.4,1328.9 2266.6,1310.9 C2282.8,1292.9 2303.2,1278.7 2324.3,1264.6 C2345.4,1250.5 2372.0,1237.6 2393.2,1226.4 C2414.5,1215.2 2431.8,1205.9 2451.8,1197.5 C2471.8,1189.1 2491.5,1181.4 2513.1,1175.7 C2534.8,1170.1 2560.3,1164.8 2581.9,1163.6 C2603.5,1162.5 2625.8,1168.1 2642.7,1168.7 C2659.7,1169.3 2669.0,1166.6 2683.6,1167.1 C2698.1,1167.5 2717.3,1168.2 2730.0,1171.6 C2742.7,1175.0 2754.7,1184.8 2759.7,1187.5" fill="none" stroke="#e6e6e6" stroke-width="1.7" opacity="0.8"/>
<path d="M2225.6,1349.6 C2231.4,1339.6 2244.3,1308.2 2260.6,1289.4 C2277.0,1270.6 2303.2,1251.1 2323.9,1236.7 C2344.6,1222.3 2364.3,1213.5 2385.0,1202.8 C2405.7,1192.0 2426.5,1181.9 2448.1,1172.2 C2469.6,1162.5 2492.9,1151.5 2514.3,1144.5 C2535.7,1137.5 2555.2,1131.4 2576.5,1130.1 C2597.8,1128.9 2623.9,1137.0 2642.3,1136.9 C2660.6,1136.9 2672.9,1129.2 2686.5,1129.8 C2700.2,1130.4 2711.9,1136.4 2724.0,1140.6 C2736.1,1144.8 2753.4,1152.7 2759.3,1155.2" fill="none" stroke="#050505" stroke-width="3" opacity="0.75"/>
<path d="M2220.9,1326.1 C2227.9,1315.0 2245.6,1279.1 2262.6,1259.5 C2279.7,1239.8 2303.4,1223.1 2323.4,1208.1 C2343.3,1193.1 2360.7,1180.1 2382.3,1169.4 C2403.8,1158.8 2431.1,1153.5 2452.9,1144.0 C2474.7,1134.5 2492.9,1119.4 2513.3,1112.5 C2533.7,1105.5 2554.9,1104.4 2575.4,1102.4 C2595.8,1100.4 2617.9,1102.7 2636.1,1100.7 C2654.2,1098.8 2670.0,1090.5 2684.4,1090.6 C2698.9,1090.8 2710.6,1097.9 2722.6,1101.7 C2734.5,1105.6 2750.6,1111.6 2756.1,1113.6" fill="none" stroke="#050505" stroke-width="3" opacity="0.75"/>
<path d="M2221.6,1300.4 C2227.7,1289.7 2241.5,1255.4 2258.2,1236.1 C2274.8,1216.8 2300.4,1200.5 2321.5,1184.7 C2342.7,1168.9 2364.0,1153.9 2385.1,1141.3 C2406.3,1128.7 2426.9,1118.6 2448.4,1109.2 C2469.8,1099.7 2493.1,1091.6 2513.7,1084.8 C2534.2,1078.0 2551.4,1071.0 2571.8,1068.3 C2592.1,1065.6 2617.6,1069.6 2636.0,1068.5 C2654.4,1067.5 2667.6,1061.8 2682.1,1062.0 C2696.5,1062.3 2709.9,1067.0 2722.9,1070.0 C2735.8,1072.9 2753.6,1078.2 2759.7,1079.8" fill="none" stroke="#e6e6e6" stroke-width="1.7" opacity="0.8"/>
<path d="M2218.3,1280.0 C2224.6,1269.5 2239.7,1237.1 2256.5,1217.2 C2273.4,1197.4 2298.4,1176.7 2319.2,1160.7 C2340.0,1144.7 2360.7,1134.7 2381.5,1121.2 C2402.2,1107.8 2422.2,1090.6 2443.6,1079.9 C2465.0,1069.3 2488.4,1064.1 2509.8,1057.2 C2531.2,1050.3 2551.0,1042.4 2571.9,1038.3 C2592.7,1034.2 2617.2,1035.1 2635.0,1032.4 C2652.8,1029.7 2664.9,1022.5 2678.7,1022.1 C2692.6,1021.6 2705.3,1026.8 2718.0,1029.6 C2730.7,1032.3 2748.9,1037.2 2755.0,1038.7" fill="none" stroke="#050505" stroke-width="3" opacity="0.75"/>
<path d="M2213.4,1259.6 C2220.2,1247.6 2237.2,1208.8 2254.2,1187.9 C2271.2,1167.0 2294.8,1150.9 2315.5,1134.2 C2336.1,1117.4 2356.1,1100.1 2377.9,1087.5 C2399.7,1075.0 2424.7,1068.8 2446.3,1058.7 C2467.9,1048.6 2487.1,1035.3 2507.3,1026.9 C2527.5,1018.6 2547.1,1012.4 2567.4,1008.4 C2587.6,1004.4 2610.6,1005.3 2628.8,1003.0 C2647.0,1000.6 2662.0,995.3 2676.5,994.2 C2691.0,993.1 2703.5,995.0 2715.8,996.3 C2728.0,997.7 2744.3,1001.3 2750.0,1002.3" fill="none" stroke="#050505" stroke-width="3" opacity="0.75"/>
<path d="M2218.6,1231.5 C2223.8,1220.3 2234.1,1185.3 2250.0,1164.4 C2265.8,1143.5 2291.7,1122.3 2313.6,1106.0 C2335.5,1089.7 2360.1,1080.0 2381.2,1066.5 C2402.3,1053.1 2419.6,1038.0 2440.2,1025.4 C2460.8,1012.7 2484.3,998.3 2504.7,990.4 C2525.0,982.4 2541.8,981.4 2562.2,977.7 C2582.7,974.0 2608.3,970.9 2627.5,968.0 C2646.7,965.1 2662.6,962.4 2677.5,960.3 C2692.4,958.3 2704.8,954.4 2716.8,955.7 C2728.8,956.9 2743.9,965.8 2749.4,967.9" fill="none" stroke="#e6e6e6" stroke-width="1.7" opacity="0.8"/>
<path d="M2351.1,1240.2 C2357.6,1243.6 2374.8,1251.4 2389.7,1261.0 C2404.6,1270.6 2426.5,1288.8 2440.5,1297.9 C2454.6,1307.1 2464.1,1309.9 2474.0,1315.9 C2484.0,1321.9 2496.1,1331.1 2500.5,1334.1" fill="none" stroke="#e0e0e0" stroke-width="1.6" opacity="0.8"/>
<path d="M2345.6,1242.4 C2351.9,1249.0 2371.8,1272.4 2383.5,1282.2 C2395.1,1292.0 2404.4,1290.9 2415.6,1301.3 C2426.7,1311.8 2441.7,1337.0 2450.4,1345.1 C2459.0,1353.2 2464.5,1349.1 2467.4,1349.9" fill="none" stroke="#e0e0e0" stroke-width="1.6" opacity="0.8"/>
<path d="M2342.4,1247.1 C2345.6,1255.1 2352.4,1277.7 2361.5,1295.0 C2370.6,1312.4 2387.1,1334.4 2396.8,1351.3 C2406.5,1368.2 2411.8,1384.5 2419.7,1396.6 C2427.6,1408.7 2440.3,1419.3 2444.4,1423.8" fill="none" stroke="#e0e0e0" stroke-width="1.6" opacity="0.8"/>
<path d="M2339.4,1257.0 C2339.6,1265.8 2338.9,1291.3 2340.5,1309.9 C2342.1,1328.5 2344.8,1351.2 2349.0,1368.7 C2353.3,1386.2 2361.9,1403.0 2366.1,1414.7 C2370.4,1426.4 2373.1,1434.9 2374.5,1439.0" fill="none" stroke="#e0e0e0" stroke-width="1.6" opacity="0.8"/>
<path d="M2320.0,1259.0 C2317.9,1266.5 2309.3,1287.5 2307.3,1303.7 C2305.2,1319.8 2310.7,1337.6 2307.9,1356.0 C2305.0,1374.3 2294.4,1397.9 2290.1,1413.7 C2285.9,1429.6 2283.9,1444.8 2282.6,1451.1" fill="none" stroke="#e0e0e0" stroke-width="1.6" opacity="0.8"/>
<path d="M2316.4,1250.7 C2311.6,1256.8 2296.7,1277.8 2287.6,1287.6 C2278.5,1297.5 2270.6,1299.2 2261.9,1309.8 C2253.2,1320.4 2243.0,1341.0 2235.3,1351.3 C2227.6,1361.7 2218.9,1368.6 2215.6,1372.0" fill="none" stroke="#e0e0e0" stroke-width="1.6" opacity="0.8"/>
<path d="M2305.7,1250.3 C2296.9,1254.3 2270.1,1266.5 2252.7,1274.5 C2235.2,1282.5 2219.4,1289.5 2201.0,1298.3 C2182.7,1307.2 2158.2,1319.6 2142.4,1327.6 C2126.6,1335.6 2112.1,1343.2 2106.1,1346.4" fill="none" stroke="#e0e0e0" stroke-width="1.6" opacity="0.8"/>
<path d="M2448.8,1033.3 C2451.0,1045.8 2460.4,1084.1 2461.7,1108.5 C2463.0,1132.9 2456.6,1155.3 2456.7,1179.9 C2456.8,1204.4 2459.5,1231.9 2462.4,1256.0 C2465.3,1280.1 2470.7,1299.2 2474.0,1324.4 C2477.2,1349.7 2480.6,1393.7 2481.9,1407.6" fill="none" stroke="#dedede" stroke-width="1.6" opacity="0.8"/>
<path d="M2561.5,1034.5 C2561.1,1045.5 2559.5,1076.6 2559.6,1100.8 C2559.8,1125.1 2559.5,1154.4 2562.4,1180.0 C2565.2,1205.5 2573.9,1228.7 2576.7,1254.3 C2579.5,1279.9 2578.5,1307.7 2579.3,1333.6 C2580.1,1359.5 2581.1,1397.2 2581.5,1409.9" fill="none" stroke="#dedede" stroke-width="1.6" opacity="0.8"/>
<path d="M2661.4,1030.5 C2663.1,1042.4 2671.2,1077.3 2671.8,1101.9 C2672.4,1126.4 2665.4,1152.6 2664.9,1177.7 C2664.4,1202.9 2665.3,1227.3 2668.8,1252.8 C2672.4,1278.2 2683.7,1304.8 2686.4,1330.3 C2689.2,1355.9 2685.5,1393.4 2685.3,1406.1" fill="none" stroke="#dedede" stroke-width="1.6" opacity="0.8"/>
<path d="M2731.8,1033.8 C2733.0,1045.2 2737.2,1077.3 2739.4,1102.1 C2741.7,1126.8 2741.0,1156.2 2745.2,1182.3 C2749.4,1208.4 2762.9,1234.0 2764.6,1258.4 C2766.3,1282.9 2754.8,1305.1 2755.2,1328.9 C2755.7,1352.8 2765.3,1389.5 2767.3,1401.6" fill="none" stroke="#dedede" stroke-width="1.6" opacity="0.8"/>
<path d="M1850.0,1480.9 C1857.5,1483.2 1880.0,1490.8 1895.0,1494.6 C1910.0,1498.5 1925.0,1501.9 1940.0,1503.9 C1955.0,1505.9 1970.0,1506.8 1985.0,1506.7 C2000.0,1506.6 2015.0,1505.2 2030.0,1503.3 C2045.0,1501.4 2060.0,1498.0 2075.0,1495.1 C2090.0,1492.2 2105.0,1488.3 2120.0,1485.9 C2135.0,1483.4 2150.0,1481.4 2165.0,1480.3 C2180.0,1479.2 2195.0,1479.2 2210.0,1479.3 C2225.0,1479.5 2247.5,1480.8 2255.0,1481.1" fill="none" stroke="#050505" stroke-width="3" opacity="0.7"/>
<path d="M1850.0,1511.0 C1857.5,1512.3 1880.0,1517.3 1895.0,1518.8 C1910.0,1520.3 1925.0,1520.5 1940.0,1520.2 C1955.0,1519.9 1970.0,1518.2 1985.0,1516.8 C2000.0,1515.4 2015.0,1513.5 2030.0,1512.0 C2045.0,1510.4 2060.0,1508.6 2075.0,1507.6 C2090.0,1506.5 2105.0,1505.7 2120.0,1505.7 C2135.0,1505.7 2150.0,1506.8 2165.0,1507.6 C2180.0,1508.4 2195.0,1510.1 2210.0,1510.6 C2225.0,1511.2 2247.5,1511.0 2255.0,1511.1" fill="none" stroke="#050505" stroke-width="3" opacity="0.7"/>
<path d="M1850.0,1531.8 C1857.5,1531.9 1880.0,1532.5 1895.0,1532.0 C1910.0,1531.6 1925.0,1529.9 1940.0,1529.0 C1955.0,1528.1 1970.0,1526.8 1985.0,1526.5 C2000.0,1526.2 2015.0,1526.6 2030.0,1527.3 C2045.0,1528.1 2060.0,1529.5 2075.0,1530.8 C2090.0,1532.2 2105.0,1534.0 2120.0,1535.3 C2135.0,1536.7 2150.0,1538.5 2165.0,1539.0 C2180.0,1539.6 2195.0,1539.7 2210.0,1538.5 C2225.0,1537.3 2247.5,1532.9 2255.0,1531.7" fill="none" stroke="#050505" stroke-width="3" opacity="0.7"/>
<path d="M1850.0,1542.6 C1857.5,1542.3 1880.0,1540.9 1895.0,1540.5 C1910.0,1540.2 1925.0,1539.9 1940.0,1540.7 C1955.0,1541.5 1970.0,1543.0 1985.0,1545.2 C2000.0,1547.4 2015.0,1550.9 2030.0,1553.7 C2045.0,1556.5 2060.0,1559.9 2075.0,1561.9 C2090.0,1563.9 2105.0,1565.5 2120.0,1565.8 C2135.0,1566.2 2150.0,1565.8 2165.0,1564.1 C2180.0,1562.4 2195.0,1559.3 2210.0,1555.7 C2225.0,1552.1 2247.5,1544.6 2255.0,1542.4" fill="none" stroke="#050505" stroke-width="3" opacity="0.7"/>
<path d="M1850.0,1551.8 C1857.5,1552.3 1880.0,1553.1 1895.0,1554.9 C1910.0,1556.7 1925.0,1559.6 1940.0,1562.8 C1955.0,1566.0 1970.0,1570.4 1985.0,1574.1 C2000.0,1577.9 2015.0,1582.5 2030.0,1585.2 C2045.0,1588.0 2060.0,1590.2 2075.0,1590.5 C2090.0,1590.9 2105.0,1589.7 2120.0,1587.6 C2135.0,1585.5 2150.0,1581.9 2165.0,1578.1 C2180.0,1574.3 2195.0,1569.2 2210.0,1564.8 C2225.0,1560.4 2247.5,1553.9 2255.0,1551.7" fill="none" stroke="#050505" stroke-width="3" opacity="0.7"/>
<path d="M1850.0,1569.4 C1857.5,1571.2 1880.0,1576.3 1895.0,1580.3 C1910.0,1584.3 1925.0,1589.4 1940.0,1593.5 C1955.0,1597.6 1970.0,1602.1 1985.0,1605.1 C2000.0,1608.0 2015.0,1610.6 2030.0,1611.3 C2045.0,1611.9 2060.0,1610.9 2075.0,1608.9 C2090.0,1606.8 2105.0,1602.7 2120.0,1599.0 C2135.0,1595.3 2150.0,1590.5 2165.0,1586.6 C2180.0,1582.7 2195.0,1578.7 2210.0,1575.8 C2225.0,1573.0 2247.5,1570.5 2255.0,1569.5" fill="none" stroke="#050505" stroke-width="3" opacity="0.7"/>
</g>
<path d="M2190.0,1120.0 L2278.0,1117.0 L2341.0,1101.0 L2404.0,1076.0 L2530.0,1026.0 L2655.0,976.0 L2750.0,938.0 L2793.0,919.0 L2814.0,895.0 L2800.0,925.0 L2872.0,929.0 L3001.0,932.0 L3130.0,940.0 L3216.0,970.0 L3302.0,1005.0 L3388.0,1044.0 L3431.0,1091.0 L3474.0,1151.0 L3508.0,1215.0 L3534.0,1263.0 L3549.0,1297.0 L3474.0,1288.0 L3388.0,1306.0 L3302.0,1336.0 L3237.0,1370.0 L3190.0,1413.0 L3130.0,1379.0 L3044.0,1366.0 L2958.0,1366.0 L2872.0,1383.0 L2808.0,1422.0 L2777.0,1452.0 L2743.0,1426.0 L2700.0,1405.0 L2655.0,1397.0 L2592.0,1384.0 L2530.0,1384.0 L2467.0,1397.0 L2404.0,1415.0 L2341.0,1441.0 L2278.0,1478.0 L2241.0,1528.0 L2250.0,1600.0 L2236.0,1576.0 L2180.0,1598.0 L2124.0,1609.0 L2058.0,1601.0 L2024.0,1626.0 L1991.0,1595.0 L1941.0,1598.0 L1902.0,1614.0 L1886.0,1581.0 L1852.0,1526.0 L1836.0,1453.0 L1799.0,1437.0 L1847.0,1409.0 L1860.0,1330.0 L1900.0,1200.0Z" fill="none" stroke="#0c0c0c" stroke-width="5" stroke-linejoin="round"/>
<path d="M2800,927 L2872,931 L3001,934 L3130,942 L3216,972 L3302,1007 L3388,1046" fill="none" stroke="#cfcfcf" stroke-width="3"/>
<path d="M2200,1124 L2278,1121 L2341,1105 L2404,1080 L2530,1030 L2655,980 L2750,942 L2793,922" fill="none" stroke="#d6d6d6" stroke-width="3.5"/>
<path d="M2796.0,928.0 C2797.0,956.7 2801.3,1038.0 2802.0,1100.0 C2802.7,1162.0 2804.2,1241.7 2800.0,1300.0 C2795.8,1358.3 2780.8,1425.0 2777.0,1450.0" fill="none" stroke="#0c0c0c" stroke-width="9" stroke-linecap="round"/>
<path d="M2796.0,928.0 C2797.0,956.7 2801.3,1038.0 2802.0,1100.0 C2802.7,1162.0 2804.2,1241.7 2800.0,1300.0 C2795.8,1358.3 2780.8,1425.0 2777.0,1450.0" fill="none" stroke="#E8E8E8" stroke-width="5" stroke-linecap="round"/>
<path d="M2796.0,928.0 C2821.7,945.0 2901.0,984.7 2950.0,1030.0 C2999.0,1075.3 3050.0,1136.3 3090.0,1200.0 C3130.0,1263.7 3173.3,1376.7 3190.0,1412.0" fill="none" stroke="#0c0c0c" stroke-width="9" stroke-linecap="round"/>
<path d="M2796.0,928.0 C2821.7,945.0 2901.0,984.7 2950.0,1030.0 C2999.0,1075.3 3050.0,1136.3 3090.0,1200.0 C3130.0,1263.7 3173.3,1376.7 3190.0,1412.0" fill="none" stroke="#E8E8E8" stroke-width="5" stroke-linecap="round"/>
<path d="M2796.0,928.0 C2830.0,931.7 2924.3,936.3 3000.0,950.0 C3075.7,963.7 3185.0,993.3 3250.0,1010.0 C3315.0,1026.7 3351.7,1023.3 3390.0,1050.0 C3428.3,1076.7 3453.8,1129.2 3480.0,1170.0 C3506.2,1210.8 3535.8,1274.2 3547.0,1295.0" fill="none" stroke="#0c0c0c" stroke-width="8" stroke-linecap="round"/>
<path d="M2796.0,928.0 C2830.0,931.7 2924.3,936.3 3000.0,950.0 C3075.7,963.7 3185.0,993.3 3250.0,1010.0 C3315.0,1026.7 3351.7,1023.3 3390.0,1050.0 C3428.3,1076.7 3453.8,1129.2 3480.0,1170.0 C3506.2,1210.8 3535.8,1274.2 3547.0,1295.0" fill="none" stroke="#E8E8E8" stroke-width="4" stroke-linecap="round"/>
<path d="M2796.0,928.0 C2813.3,929.0 2844.3,931.0 2900.0,934.0 C2955.7,937.0 3063.3,933.3 3130.0,946.0 C3196.7,958.7 3271.7,999.3 3300.0,1010.0" fill="none" stroke="#0c0c0c" stroke-width="7.5" stroke-linecap="round"/>
<path d="M2796.0,928.0 C2813.3,929.0 2844.3,931.0 2900.0,934.0 C2955.7,937.0 3063.3,933.3 3130.0,946.0 C3196.7,958.7 3271.7,999.3 3300.0,1010.0" fill="none" stroke="#E8E8E8" stroke-width="3.5" stroke-linecap="round"/>
<path d="M2330.0,1236.0 C2355.0,1220.0 2426.7,1173.5 2480.0,1140.0 C2533.3,1106.5 2597.2,1070.0 2650.0,1035.0 C2702.8,1000.0 2772.5,947.5 2797.0,930.0" fill="none" stroke="#0c0c0c" stroke-width="23" stroke-linecap="round"/>
<path d="M2330.0,1236.0 C2355.0,1220.0 2426.7,1173.5 2480.0,1140.0 C2533.3,1106.5 2597.2,1070.0 2650.0,1035.0 C2702.8,1000.0 2772.5,947.5 2797.0,930.0" fill="none" stroke="#D2D2D2" stroke-width="17" stroke-linecap="round"/>
<path d="M2340,1226 L2480,1136 L2650,1031 L2790,932" fill="none" stroke="#f4f4f4" stroke-width="4"/>
<path d="M2195.0,1170.0 C2205.8,1175.0 2237.5,1188.7 2260.0,1200.0 C2282.5,1211.3 2318.3,1231.7 2330.0,1238.0" fill="none" stroke="#0c0c0c" stroke-width="23" stroke-linecap="round"/>
<path d="M2195.0,1170.0 C2205.8,1175.0 2237.5,1188.7 2260.0,1200.0 C2282.5,1211.3 2318.3,1231.7 2330.0,1238.0" fill="none" stroke="#CDCDCD" stroke-width="17" stroke-linecap="round"/>
<path d="M2796,926 L2803,910 L2814,895 L2806,914 L2802,928Z" fill="#ddd" stroke="#222" stroke-width="2"/>
<path d="M1697.0,953.0 C1700.6,946.8 1705.2,944.4 1713.0,945.0 C1720.8,945.6 1728.2,946.6 1736.0,956.0 C1743.8,965.4 1743.2,974.8 1752.0,992.0 C1760.8,1009.2 1767.8,1023.0 1780.0,1042.0 C1792.2,1061.0 1801.0,1073.4 1813.0,1087.0 C1825.0,1100.6 1832.6,1087.4 1840.0,1110.0 C1847.4,1132.6 1846.0,1160.0 1850.0,1200.0 C1854.0,1240.0 1864.6,1278.2 1860.0,1310.0 C1855.4,1341.8 1836.6,1341.0 1827.0,1359.0 C1817.4,1377.0 1817.6,1384.4 1812.0,1400.0 C1806.4,1415.6 1803.2,1438.6 1799.0,1437.0 C1794.8,1435.4 1797.0,1417.6 1791.0,1392.0 C1785.0,1366.4 1779.0,1347.8 1769.0,1309.0 C1759.0,1270.2 1751.0,1240.2 1741.0,1198.0 C1731.0,1155.8 1726.8,1133.6 1719.0,1098.0 C1711.2,1062.4 1706.8,1044.4 1702.0,1020.0 C1697.2,995.6 1696.0,989.4 1695.0,976.0 C1694.0,962.6 1693.4,959.2 1697.0,953.0Z" fill="url(#fold)" stroke="#111" stroke-width="4"/>
<path d="M1712.0,960.0 C1715.0,980.0 1719.5,1031.7 1730.0,1080.0 C1740.5,1128.3 1760.8,1200.0 1775.0,1250.0 C1789.2,1300.0 1808.3,1358.3 1815.0,1380.0" fill="none" stroke="#E2E2E2" stroke-width="3.2"/>
<path d="M1722.0,958.0 C1729.2,978.3 1750.3,1036.3 1765.0,1080.0 C1779.7,1123.7 1798.3,1176.7 1810.0,1220.0 C1821.7,1263.3 1830.8,1320.0 1835.0,1340.0" fill="none" stroke="#E2E2E2" stroke-width="3.2"/>
<path d="M1700.0,975.0 C1703.7,997.5 1712.0,1057.5 1722.0,1110.0 C1732.0,1162.5 1747.3,1237.5 1760.0,1290.0 C1772.7,1342.5 1791.7,1402.5 1798.0,1425.0" fill="none" stroke="#E2E2E2" stroke-width="3.2"/>
<path d="M1732.0,965.0 C1741.7,984.2 1772.0,1044.2 1790.0,1080.0 C1808.0,1115.8 1829.7,1143.3 1840.0,1180.0 C1850.3,1216.7 1850.0,1280.0 1852.0,1300.0" fill="none" stroke="#E2E2E2" stroke-width="3.2"/>
<path d="M1700,960 C1705,950 1725,948 1733,958 L1738,985 C1725,975 1710,975 1700,985Z" fill="#d8d8d8" stroke="#222" stroke-width="2"/>
<path d="M1799,1437 L1847,1409 L1924,1420 L1913,1376 L1847,1309 L1827,1359 Z" fill="#5a5a5a" stroke="#111" stroke-width="3"/>
<path d="M1799,1437 L1850,1395 L1924,1420" fill="none" stroke="#e4e4e4" stroke-width="3.5"/>
<path d="M1827,1359 L1850,1395 M1850,1395 L1900,1372" fill="none" stroke="#e4e4e4" stroke-width="3"/>
<path d="M1925.0,1480.0 C1923.3,1493.3 1918.8,1537.7 1915.0,1560.0 C1911.2,1582.3 1904.2,1605.0 1902.0,1614.0" fill="none" stroke="#0c0c0c" stroke-width="12" stroke-linecap="round"/>
<path d="M1925.0,1480.0 C1923.3,1493.3 1918.8,1537.7 1915.0,1560.0 C1911.2,1582.3 1904.2,1605.0 1902.0,1614.0" fill="none" stroke="#d8d8d8" stroke-width="8" stroke-linecap="round"/>
<path d="M2170.0,1420.0 C2177.5,1436.7 2201.3,1489.5 2215.0,1520.0 C2228.7,1550.5 2245.8,1589.2 2252.0,1603.0" fill="none" stroke="#0c0c0c" stroke-width="12" stroke-linecap="round"/>
<path d="M2170.0,1420.0 C2177.5,1436.7 2201.3,1489.5 2215.0,1520.0 C2228.7,1550.5 2245.8,1589.2 2252.0,1603.0" fill="none" stroke="#d8d8d8" stroke-width="8" stroke-linecap="round"/>
<path d="M2019.0,1490.0 C2019.5,1501.7 2021.2,1538.0 2022.0,1560.0 C2022.8,1582.0 2023.7,1611.7 2024.0,1622.0" fill="none" stroke="#0c0c0c" stroke-width="7" stroke-linecap="round"/>
<path d="M2019.0,1490.0 C2019.5,1501.7 2021.2,1538.0 2022.0,1560.0 C2022.8,1582.0 2023.7,1611.7 2024.0,1622.0" fill="none" stroke="#E8E8E8" stroke-width="3" stroke-linecap="round"/>
<path d="M1902,1620 Q1890,1656 1869,1692" fill="none" stroke="#333" stroke-width="3.2" stroke-linecap="round"/>
<path d="M1902,1620 Q1895,1659 1880,1698" fill="none" stroke="#333" stroke-width="3.2" stroke-linecap="round"/>
<path d="M1902,1620 Q1902,1661 1895,1702" fill="none" stroke="#333" stroke-width="3.2" stroke-linecap="round"/>
<path d="M1902,1620 Q1909,1662 1908,1703" fill="none" stroke="#333" stroke-width="3.2" stroke-linecap="round"/>
<path d="M1902,1620 Q1914,1655 1918,1690" fill="none" stroke="#333" stroke-width="3.2" stroke-linecap="round"/>
<path d="M2254,1606 Q2262,1637 2262,1668" fill="none" stroke="#333" stroke-width="3.2" stroke-linecap="round"/>
<path d="M2254,1606 Q2267,1635 2272,1664" fill="none" stroke="#333" stroke-width="3.2" stroke-linecap="round"/>
<path d="M2254,1606 Q2273,1629 2284,1652" fill="none" stroke="#333" stroke-width="3.2" stroke-linecap="round"/>
<path d="M2254,1606 Q2279,1621 2296,1636" fill="none" stroke="#333" stroke-width="3.2" stroke-linecap="round"/>
<path d="M2254,1606 Q2282,1614 2302,1622" fill="none" stroke="#333" stroke-width="3.2" stroke-linecap="round"/>
<path d="M1916,945 C1940,962 1958,982 1968,1000 L1952,1055 L1890,1034 C1898,1000 1905,970 1916,945Z" fill="#C8C8C8" stroke="#1a1a1a" stroke-width="3.5"/>
<path d="M2144,967 C2118,975 2092,995 2075,1014 L2088,1064 L2143,1056 C2138,1020 2138,990 2144,967Z" fill="#C8C8C8" stroke="#1a1a1a" stroke-width="3.5"/>
<line x1="1898" y1="1032" x2="1916" y2="960" stroke="#2a2a2a" stroke-width="2.2"/>
<line x1="2138" y1="1052" x2="2140" y2="982" stroke="#2a2a2a" stroke-width="2.2"/>
<line x1="1908" y1="1030" x2="1925" y2="971" stroke="#2a2a2a" stroke-width="2.2"/>
<line x1="2128" y1="1050" x2="2130" y2="991" stroke="#2a2a2a" stroke-width="2.2"/>
<line x1="1918" y1="1028" x2="1934" y2="982" stroke="#2a2a2a" stroke-width="2.2"/>
<line x1="2118" y1="1048" x2="2120" y2="1000" stroke="#2a2a2a" stroke-width="2.2"/>
<line x1="1928" y1="1026" x2="1943" y2="993" stroke="#2a2a2a" stroke-width="2.2"/>
<line x1="2108" y1="1046" x2="2110" y2="1009" stroke="#2a2a2a" stroke-width="2.2"/>
<line x1="1938" y1="1024" x2="1952" y2="1004" stroke="#2a2a2a" stroke-width="2.2"/>
<line x1="2098" y1="1044" x2="2100" y2="1018" stroke="#2a2a2a" stroke-width="2.2"/>
<clipPath id="bodyclip"><path d="M2013.0,978.0 C1993.8,973.2 1983.3,976.3 1965.0,985.0 C1946.7,993.7 1920.8,1015.0 1903.0,1030.0 C1885.2,1045.0 1869.2,1058.3 1858.0,1075.0 C1846.8,1091.7 1840.7,1111.3 1836.0,1130.0 C1831.3,1148.7 1828.2,1166.5 1830.0,1187.0 C1831.8,1207.5 1839.5,1232.7 1847.0,1253.0 C1854.5,1273.3 1864.0,1288.5 1875.0,1309.0 C1886.0,1329.5 1904.8,1357.5 1913.0,1376.0 C1921.2,1394.5 1923.0,1405.2 1924.0,1420.0 C1925.0,1434.8 1915.2,1453.0 1919.0,1465.0 C1922.8,1477.0 1931.3,1485.7 1947.0,1492.0 C1962.7,1498.3 1990.8,1503.8 2013.0,1503.0 C2035.2,1502.2 2058.7,1496.2 2080.0,1487.0 C2101.3,1477.8 2125.3,1461.0 2141.0,1448.0 C2156.7,1435.0 2165.7,1424.8 2174.0,1409.0 C2182.3,1393.2 2189.0,1374.3 2191.0,1353.0 C2193.0,1331.7 2186.0,1306.8 2186.0,1281.0 C2186.0,1255.2 2189.2,1221.2 2191.0,1198.0 C2192.8,1174.8 2198.8,1158.7 2197.0,1142.0 C2195.2,1125.3 2187.5,1111.8 2180.0,1098.0 C2172.5,1084.2 2168.7,1073.0 2152.0,1059.0 C2135.3,1045.0 2103.2,1027.5 2080.0,1014.0 C2056.8,1000.5 2032.2,982.8 2013.0,978.0Z"/></clipPath>
<path d="M2013.0,978.0 C1993.8,973.2 1983.3,976.3 1965.0,985.0 C1946.7,993.7 1920.8,1015.0 1903.0,1030.0 C1885.2,1045.0 1869.2,1058.3 1858.0,1075.0 C1846.8,1091.7 1840.7,1111.3 1836.0,1130.0 C1831.3,1148.7 1828.2,1166.5 1830.0,1187.0 C1831.8,1207.5 1839.5,1232.7 1847.0,1253.0 C1854.5,1273.3 1864.0,1288.5 1875.0,1309.0 C1886.0,1329.5 1904.8,1357.5 1913.0,1376.0 C1921.2,1394.5 1923.0,1405.2 1924.0,1420.0 C1925.0,1434.8 1915.2,1453.0 1919.0,1465.0 C1922.8,1477.0 1931.3,1485.7 1947.0,1492.0 C1962.7,1498.3 1990.8,1503.8 2013.0,1503.0 C2035.2,1502.2 2058.7,1496.2 2080.0,1487.0 C2101.3,1477.8 2125.3,1461.0 2141.0,1448.0 C2156.7,1435.0 2165.7,1424.8 2174.0,1409.0 C2182.3,1393.2 2189.0,1374.3 2191.0,1353.0 C2193.0,1331.7 2186.0,1306.8 2186.0,1281.0 C2186.0,1255.2 2189.2,1221.2 2191.0,1198.0 C2192.8,1174.8 2198.8,1158.7 2197.0,1142.0 C2195.2,1125.3 2187.5,1111.8 2180.0,1098.0 C2172.5,1084.2 2168.7,1073.0 2152.0,1059.0 C2135.3,1045.0 2103.2,1027.5 2080.0,1014.0 C2056.8,1000.5 2032.2,982.8 2013.0,978.0Z" fill="url(#fur)"/>
<g clip-path="url(#bodyclip)" stroke-linecap="round">
<rect x="1820" y="960" width="390" height="560" fill="#000" filter="url(#furtex)"/>
<rect x="1820" y="960" width="390" height="560" fill="#fff" filter="url(#furtex2)"/>
<ellipse cx="2013" cy="1070" rx="140" ry="80" fill="#8a8a8a" opacity="0.5" filter="url(#bl8)"/>
<ellipse cx="2013" cy="1430" rx="120" ry="60" fill="#8a8a8a" opacity="0.45" filter="url(#bl8)"/>
<line x1="2194" y1="993" x2="2212" y2="978" stroke="#4a4a4a" stroke-width="1.8" opacity="0.7"/>
<line x1="1880" y1="1216" x2="1891" y2="1225" stroke="#777" stroke-width="1.8" opacity="0.7"/>
<line x1="1879" y1="1182" x2="1885" y2="1192" stroke="#3a3a3a" stroke-width="1.8" opacity="0.7"/>
<line x1="2083" y1="1357" x2="2078" y2="1372" stroke="#3a3a3a" stroke-width="1.8" opacity="0.7"/>
<line x1="2035" y1="1101" x2="2040" y2="1074" stroke="#5a5a5a" stroke-width="1.8" opacity="0.7"/>
<line x1="1942" y1="1481" x2="1948" y2="1492" stroke="#777" stroke-width="1.8" opacity="0.7"/>
<line x1="2072" y1="1002" x2="2077" y2="980" stroke="#f0f0f0" stroke-width="1.8" opacity="0.7"/>
<line x1="2161" y1="1469" x2="2141" y2="1486" stroke="#4a4a4a" stroke-width="1.8" opacity="0.7"/>
<line x1="1970" y1="1392" x2="1974" y2="1405" stroke="#777" stroke-width="1.8" opacity="0.7"/>
<line x1="2131" y1="1229" x2="2119" y2="1250" stroke="#6a6a6a" stroke-width="1.8" opacity="0.7"/>
<line x1="1995" y1="1506" x2="1992" y2="1520" stroke="#6a6a6a" stroke-width="1.8" opacity="0.7"/>
<line x1="1984" y1="995" x2="1973" y2="971" stroke="#777" stroke-width="1.8" opacity="0.7"/>
<line x1="1832" y1="1068" x2="1816" y2="1064" stroke="#fff" stroke-width="1.8" opacity="0.7"/>
<line x1="2097" y1="1115" x2="2105" y2="1105" stroke="#f0f0f0" stroke-width="1.8" opacity="0.7"/>
<line x1="1962" y1="1383" x2="1960" y2="1394" stroke="#5a5a5a" stroke-width="1.8" opacity="0.7"/>
<line x1="2144" y1="1213" x2="2138" y2="1226" stroke="#777" stroke-width="1.8" opacity="0.7"/>
<line x1="2079" y1="1133" x2="2094" y2="1122" stroke="#4a4a4a" stroke-width="1.8" opacity="0.7"/>
<line x1="1882" y1="1292" x2="1893" y2="1306" stroke="#777" stroke-width="1.8" opacity="0.7"/>
<line x1="2089" y1="1249" x2="2086" y2="1267" stroke="#6a6a6a" stroke-width="1.8" opacity="0.7"/>
<line x1="1881" y1="1081" x2="1860" y2="1072" stroke="#6a6a6a" stroke-width="1.8" opacity="0.7"/>
<line x1="1877" y1="1249" x2="1889" y2="1260" stroke="#777" stroke-width="1.8" opacity="0.7"/>
<line x1="1907" y1="992" x2="1888" y2="982" stroke="#777" stroke-width="1.8" opacity="0.7"/>
<line x1="1829" y1="1381" x2="1835" y2="1391" stroke="#f0f0f0" stroke-width="1.8" opacity="0.7"/>
<line x1="1907" y1="1342" x2="1908" y2="1368" stroke="#4a4a4a" stroke-width="1.8" opacity="0.7"/>
<line x1="2123" y1="1110" x2="2134" y2="1106" stroke="#6a6a6a" stroke-width="1.8" opacity="0.7"/>
<line x1="1848" y1="1177" x2="1857" y2="1189" stroke="#4a4a4a" stroke-width="1.8" opacity="0.7"/>
<line x1="2177" y1="1079" x2="2192" y2="1075" stroke="#fff" stroke-width="1.8" opacity="0.7"/>
<line x1="1916" y1="1020" x2="1904" y2="1008" stroke="#4a4a4a" stroke-width="1.8" opacity="0.7"/>
<line x1="2007" y1="1109" x2="2011" y2="1094" stroke="#3a3a3a" stroke-width="1.8" opacity="0.7"/>
<line x1="2168" y1="1035" x2="2193" y2="1028" stroke="#5a5a5a" stroke-width="1.8" opacity="0.7"/>
<line x1="1846" y1="1238" x2="1856" y2="1250" stroke="#5a5a5a" stroke-width="1.8" opacity="0.7"/>
<line x1="1852" y1="989" x2="1838" y2="980" stroke="#5a5a5a" stroke-width="1.8" opacity="0.7"/>
<line x1="1925" y1="1331" x2="1932" y2="1350" stroke="#5a5a5a" stroke-width="1.8" opacity="0.7"/>
<line x1="1837" y1="1352" x2="1846" y2="1358" stroke="#777" stroke-width="1.8" opacity="0.7"/>
<line x1="1981" y1="1194" x2="1978" y2="1220" stroke="#6a6a6a" stroke-width="1.8" opacity="0.7"/>
<line x1="2192" y1="1178" x2="2181" y2="1188" stroke="#6a6a6a" stroke-width="1.8" opacity="0.7"/>
<line x1="1962" y1="1498" x2="1968" y2="1510" stroke="#fff" stroke-width="1.8" opacity="0.7"/>
<line x1="1909" y1="1251" x2="1909" y2="1261" stroke="#777" stroke-width="1.8" opacity="0.7"/>
<line x1="2013" y1="1321" x2="2011" y2="1341" stroke="#f0f0f0" stroke-width="1.8" opacity="0.7"/>
<line x1="2088" y1="1400" x2="2088" y2="1411" stroke="#f0f0f0" stroke-width="1.8" opacity="0.7"/>
<line x1="2097" y1="1346" x2="2081" y2="1365" stroke="#4a4a4a" stroke-width="1.8" opacity="0.7"/>
<line x1="1952" y1="1342" x2="1958" y2="1358" stroke="#5a5a5a" stroke-width="1.8" opacity="0.7"/>
<line x1="2110" y1="1258" x2="2107" y2="1274" stroke="#4a4a4a" stroke-width="1.8" opacity="0.7"/>
<line x1="2174" y1="1368" x2="2153" y2="1381" stroke="#fff" stroke-width="1.8" opacity="0.7"/>
<line x1="1943" y1="1428" x2="1944" y2="1439" stroke="#777" stroke-width="1.8" opacity="0.7"/>
<line x1="2154" y1="1440" x2="2148" y2="1458" stroke="#f0f0f0" stroke-width="1.8" opacity="0.7"/>
<line x1="2089" y1="1107" x2="2102" y2="1096" stroke="#fff" stroke-width="1.8" opacity="0.7"/>
<line x1="1949" y1="1150" x2="1948" y2="1175" stroke="#777" stroke-width="1.8" opacity="0.7"/>
<line x1="2199" y1="1316" x2="2187" y2="1325" stroke="#4a4a4a" stroke-width="1.8" opacity="0.7"/>
<line x1="1873" y1="1174" x2="1882" y2="1183" stroke="#3a3a3a" stroke-width="1.8" opacity="0.7"/>
<line x1="2004" y1="1345" x2="2000" y2="1359" stroke="#5a5a5a" stroke-width="1.8" opacity="0.7"/>
<line x1="1984" y1="1311" x2="1978" y2="1338" stroke="#3a3a3a" stroke-width="1.8" opacity="0.7"/>
<line x1="1885" y1="1509" x2="1896" y2="1521" stroke="#777" stroke-width="1.8" opacity="0.7"/>
<line x1="2203" y1="1035" x2="2210" y2="1028" stroke="#777" stroke-width="1.8" opacity="0.7"/>
<line x1="2150" y1="1062" x2="2158" y2="1047" stroke="#f0f0f0" stroke-width="1.8" opacity="0.7"/>
<line x1="2144" y1="1123" x2="2161" y2="1111" stroke="#f0f0f0" stroke-width="1.8" opacity="0.7"/>
<line x1="1879" y1="1281" x2="1889" y2="1292" stroke="#f0f0f0" stroke-width="1.8" opacity="0.7"/>
<line x1="1881" y1="1065" x2="1855" y2="1057" stroke="#5a5a5a" stroke-width="1.8" opacity="0.7"/>
<line x1="2160" y1="1204" x2="2148" y2="1213" stroke="#777" stroke-width="1.8" opacity="0.7"/>
<line x1="1880" y1="1308" x2="1892" y2="1322" stroke="#5a5a5a" stroke-width="1.8" opacity="0.7"/>
<line x1="2035" y1="1272" x2="2042" y2="1294" stroke="#fff" stroke-width="1.8" opacity="0.7"/>
<line x1="1855" y1="1069" x2="1831" y2="1054" stroke="#4a4a4a" stroke-width="1.8" opacity="0.7"/>
<line x1="2202" y1="1191" x2="2190" y2="1207" stroke="#777" stroke-width="1.8" opacity="0.7"/>
<line x1="1847" y1="1267" x2="1855" y2="1280" stroke="#5a5a5a" stroke-width="1.8" opacity="0.7"/>
<line x1="2154" y1="1507" x2="2137" y2="1523" stroke="#4a4a4a" stroke-width="1.8" opacity="0.7"/>
<line x1="2151" y1="1480" x2="2142" y2="1492" stroke="#3a3a3a" stroke-width="1.8" opacity="0.7"/>
<line x1="2111" y1="1137" x2="2120" y2="1132" stroke="#4a4a4a" stroke-width="1.8" opacity="0.7"/>
<line x1="1849" y1="1167" x2="1860" y2="1177" stroke="#fff" stroke-width="1.8" opacity="0.7"/>
<line x1="2013" y1="1136" x2="2014" y2="1114" stroke="#f0f0f0" stroke-width="1.8" opacity="0.7"/>
<line x1="2200" y1="1024" x2="2217" y2="1022" stroke="#fff" stroke-width="1.8" opacity="0.7"/>
<line x1="1980" y1="1455" x2="1986" y2="1466" stroke="#5a5a5a" stroke-width="1.8" opacity="0.7"/>
<line x1="1973" y1="1169" x2="1971" y2="1186" stroke="#fff" stroke-width="1.8" opacity="0.7"/>
<line x1="1996" y1="1139" x2="1982" y2="1122" stroke="#777" stroke-width="1.8" opacity="0.7"/>
<line x1="1861" y1="1151" x2="1878" y2="1167" stroke="#777" stroke-width="1.8" opacity="0.7"/>
<line x1="1941" y1="1081" x2="1932" y2="1072" stroke="#5a5a5a" stroke-width="1.8" opacity="0.7"/>
<line x1="1958" y1="1203" x2="1962" y2="1219" stroke="#5a5a5a" stroke-width="1.8" opacity="0.7"/>
<line x1="2186" y1="1424" x2="2183" y2="1436" stroke="#3a3a3a" stroke-width="1.8" opacity="0.7"/>
<line x1="2112" y1="1029" x2="2128" y2="1021" stroke="#4a4a4a" stroke-width="1.8" opacity="0.7"/>
<line x1="2015" y1="1391" x2="2012" y2="1402" stroke="#6a6a6a" stroke-width="1.8" opacity="0.7"/>
<line x1="2185" y1="1144" x2="2198" y2="1134" stroke="#3a3a3a" stroke-width="1.8" opacity="0.7"/>
<line x1="1881" y1="1313" x2="1887" y2="1326" stroke="#777" stroke-width="1.8" opacity="0.7"/>
<line x1="1956" y1="1207" x2="1964" y2="1234" stroke="#3a3a3a" stroke-width="1.8" opacity="0.7"/>
<line x1="1871" y1="1369" x2="1881" y2="1384" stroke="#f0f0f0" stroke-width="1.8" opacity="0.7"/>
<line x1="1971" y1="1094" x2="1964" y2="1075" stroke="#777" stroke-width="1.8" opacity="0.7"/>
<line x1="2175" y1="1255" x2="2170" y2="1265" stroke="#3a3a3a" stroke-width="1.8" opacity="0.7"/>
<line x1="2179" y1="1052" x2="2202" y2="1036" stroke="#fff" stroke-width="1.8" opacity="0.7"/>
<line x1="2062" y1="1072" x2="2070" y2="1053" stroke="#3a3a3a" stroke-width="1.8" opacity="0.7"/>
<line x1="2155" y1="1038" x2="2173" y2="1034" stroke="#4a4a4a" stroke-width="1.8" opacity="0.7"/>
<line x1="1896" y1="1469" x2="1904" y2="1478" stroke="#3a3a3a" stroke-width="1.8" opacity="0.7"/>
<line x1="2019" y1="1507" x2="2012" y2="1528" stroke="#5a5a5a" stroke-width="1.8" opacity="0.7"/>
<line x1="2022" y1="1158" x2="2028" y2="1175" stroke="#6a6a6a" stroke-width="1.8" opacity="0.7"/>
<line x1="1931" y1="1318" x2="1938" y2="1341" stroke="#6a6a6a" stroke-width="1.8" opacity="0.7"/>
<line x1="2158" y1="1009" x2="2166" y2="1001" stroke="#f0f0f0" stroke-width="1.8" opacity="0.7"/>
<line x1="2034" y1="1459" x2="2037" y2="1475" stroke="#3a3a3a" stroke-width="1.8" opacity="0.7"/>
<line x1="1952" y1="1472" x2="1959" y2="1485" stroke="#6a6a6a" stroke-width="1.8" opacity="0.7"/>
<line x1="1894" y1="1180" x2="1903" y2="1204" stroke="#3a3a3a" stroke-width="1.8" opacity="0.7"/>
<line x1="1859" y1="1320" x2="1877" y2="1341" stroke="#4a4a4a" stroke-width="1.8" opacity="0.7"/>
<line x1="2038" y1="1507" x2="2030" y2="1528" stroke="#f0f0f0" stroke-width="1.8" opacity="0.7"/>
<line x1="2064" y1="1120" x2="2079" y2="1104" stroke="#4a4a4a" stroke-width="1.8" opacity="0.7"/>
<line x1="2116" y1="1063" x2="2124" y2="1056" stroke="#5a5a5a" stroke-width="1.8" opacity="0.7"/>
<line x1="1869" y1="1478" x2="1877" y2="1489" stroke="#3a3a3a" stroke-width="1.8" opacity="0.7"/>
<line x1="2088" y1="1368" x2="2085" y2="1385" stroke="#4a4a4a" stroke-width="1.8" opacity="0.7"/>
<line x1="1852" y1="1114" x2="1832" y2="1107" stroke="#5a5a5a" stroke-width="1.8" opacity="0.7"/>
<line x1="1999" y1="1244" x2="2003" y2="1266" stroke="#4a4a4a" stroke-width="1.8" opacity="0.7"/>
<line x1="2012" y1="1033" x2="2003" y2="1010" stroke="#f0f0f0" stroke-width="1.8" opacity="0.7"/>
<line x1="1855" y1="1320" x2="1863" y2="1331" stroke="#6a6a6a" stroke-width="1.8" opacity="0.7"/>
<line x1="2053" y1="1212" x2="2052" y2="1227" stroke="#6a6a6a" stroke-width="1.8" opacity="0.7"/>
<line x1="2075" y1="1115" x2="2083" y2="1108" stroke="#777" stroke-width="1.8" opacity="0.7"/>
<line x1="1918" y1="1192" x2="1919" y2="1207" stroke="#6a6a6a" stroke-width="1.8" opacity="0.7"/>
<line x1="1931" y1="1025" x2="1926" y2="1002" stroke="#3a3a3a" stroke-width="1.8" opacity="0.7"/>
<line x1="2032" y1="1024" x2="2038" y2="1014" stroke="#5a5a5a" stroke-width="1.8" opacity="0.7"/>
<line x1="1831" y1="986" x2="1815" y2="970" stroke="#f0f0f0" stroke-width="1.8" opacity="0.7"/>
<line x1="2186" y1="983" x2="2201" y2="972" stroke="#5a5a5a" stroke-width="1.8" opacity="0.7"/>
<line x1="1890" y1="1243" x2="1894" y2="1254" stroke="#4a4a4a" stroke-width="1.8" opacity="0.7"/>
<line x1="2196" y1="1506" x2="2178" y2="1518" stroke="#fff" stroke-width="1.8" opacity="0.7"/>
<line x1="1867" y1="1001" x2="1860" y2="980" stroke="#f0f0f0" stroke-width="1.8" opacity="0.7"/>
<line x1="2074" y1="1088" x2="2086" y2="1081" stroke="#5a5a5a" stroke-width="1.8" opacity="0.7"/>
<line x1="2141" y1="1248" x2="2134" y2="1256" stroke="#fff" stroke-width="1.8" opacity="0.7"/>
<line x1="2089" y1="1395" x2="2078" y2="1420" stroke="#6a6a6a" stroke-width="1.8" opacity="0.7"/>
<line x1="2120" y1="1035" x2="2126" y2="1027" stroke="#f0f0f0" stroke-width="1.8" opacity="0.7"/>
<line x1="1964" y1="1419" x2="1973" y2="1435" stroke="#777" stroke-width="1.8" opacity="0.7"/>
<line x1="2028" y1="1030" x2="2034" y2="1016" stroke="#777" stroke-width="1.8" opacity="0.7"/>
<line x1="2039" y1="1007" x2="2038" y2="985" stroke="#777" stroke-width="1.8" opacity="0.7"/>
<line x1="2020" y1="1129" x2="2025" y2="1115" stroke="#6a6a6a" stroke-width="1.8" opacity="0.7"/>
<line x1="2002" y1="1504" x2="2006" y2="1516" stroke="#4a4a4a" stroke-width="1.8" opacity="0.7"/>
<line x1="2148" y1="1026" x2="2160" y2="1021" stroke="#777" stroke-width="1.8" opacity="0.7"/>
<line x1="2024" y1="1189" x2="2015" y2="1215" stroke="#6a6a6a" stroke-width="1.8" opacity="0.7"/>
<line x1="2137" y1="1094" x2="2149" y2="1090" stroke="#fff" stroke-width="1.8" opacity="0.7"/>
<line x1="2096" y1="1055" x2="2102" y2="1046" stroke="#3a3a3a" stroke-width="1.8" opacity="0.7"/>
<line x1="2013" y1="1463" x2="2008" y2="1486" stroke="#6a6a6a" stroke-width="1.8" opacity="0.7"/>
<line x1="1983" y1="1012" x2="1978" y2="1002" stroke="#6a6a6a" stroke-width="1.8" opacity="0.7"/>
<line x1="1950" y1="1234" x2="1948" y2="1261" stroke="#777" stroke-width="1.8" opacity="0.7"/>
<line x1="2198" y1="1471" x2="2187" y2="1481" stroke="#777" stroke-width="1.8" opacity="0.7"/>
<line x1="1923" y1="1169" x2="1929" y2="1184" stroke="#6a6a6a" stroke-width="1.8" opacity="0.7"/>
<line x1="1952" y1="1033" x2="1940" y2="1017" stroke="#4a4a4a" stroke-width="1.8" opacity="0.7"/>
<line x1="2026" y1="1266" x2="2028" y2="1277" stroke="#5a5a5a" stroke-width="1.8" opacity="0.7"/>
<line x1="1837" y1="1164" x2="1849" y2="1180" stroke="#fff" stroke-width="1.8" opacity="0.7"/>
<line x1="1828" y1="1190" x2="1847" y2="1199" stroke="#4a4a4a" stroke-width="1.8" opacity="0.7"/>
<line x1="1964" y1="1293" x2="1971" y2="1313" stroke="#777" stroke-width="1.8" opacity="0.7"/>
<line x1="1846" y1="1069" x2="1823" y2="1065" stroke="#5a5a5a" stroke-width="1.8" opacity="0.7"/>
<line x1="1845" y1="1020" x2="1832" y2="1014" stroke="#f0f0f0" stroke-width="1.8" opacity="0.7"/>
<line x1="2184" y1="1319" x2="2177" y2="1339" stroke="#3a3a3a" stroke-width="1.8" opacity="0.7"/>
<line x1="1857" y1="1501" x2="1868" y2="1513" stroke="#f0f0f0" stroke-width="1.8" opacity="0.7"/>
<line x1="1884" y1="1124" x2="1857" y2="1116" stroke="#6a6a6a" stroke-width="1.8" opacity="0.7"/>
<line x1="1843" y1="1307" x2="1850" y2="1328" stroke="#3a3a3a" stroke-width="1.8" opacity="0.7"/>
<line x1="2059" y1="1339" x2="2054" y2="1363" stroke="#6a6a6a" stroke-width="1.8" opacity="0.7"/>
<line x1="1984" y1="1337" x2="1981" y2="1348" stroke="#f0f0f0" stroke-width="1.8" opacity="0.7"/>
<line x1="1857" y1="1340" x2="1865" y2="1361" stroke="#f0f0f0" stroke-width="1.8" opacity="0.7"/>
<line x1="1870" y1="1143" x2="1861" y2="1136" stroke="#3a3a3a" stroke-width="1.8" opacity="0.7"/>
<line x1="2188" y1="1162" x2="2172" y2="1177" stroke="#6a6a6a" stroke-width="1.8" opacity="0.7"/>
<line x1="1943" y1="1485" x2="1942" y2="1499" stroke="#6a6a6a" stroke-width="1.8" opacity="0.7"/>
<line x1="1948" y1="1046" x2="1947" y2="1033" stroke="#5a5a5a" stroke-width="1.8" opacity="0.7"/>
<line x1="2005" y1="987" x2="2002" y2="970" stroke="#fff" stroke-width="1.8" opacity="0.7"/>
<line x1="2092" y1="1237" x2="2082" y2="1253" stroke="#6a6a6a" stroke-width="1.8" opacity="0.7"/>
<line x1="1865" y1="1371" x2="1872" y2="1383" stroke="#5a5a5a" stroke-width="1.8" opacity="0.7"/>
<line x1="2138" y1="1322" x2="2123" y2="1338" stroke="#6a6a6a" stroke-width="1.8" opacity="0.7"/>
<line x1="2043" y1="1425" x2="2040" y2="1443" stroke="#6a6a6a" stroke-width="1.8" opacity="0.7"/>
<line x1="1950" y1="1347" x2="1959" y2="1368" stroke="#777" stroke-width="1.8" opacity="0.7"/>
<line x1="1842" y1="1468" x2="1853" y2="1477" stroke="#4a4a4a" stroke-width="1.8" opacity="0.7"/>
<line x1="1989" y1="1304" x2="1982" y2="1329" stroke="#6a6a6a" stroke-width="1.8" opacity="0.7"/>
<line x1="1972" y1="1033" x2="1959" y2="1016" stroke="#fff" stroke-width="1.8" opacity="0.7"/>
<line x1="1941" y1="1428" x2="1944" y2="1448" stroke="#777" stroke-width="1.8" opacity="0.7"/>
<line x1="2011" y1="1234" x2="2005" y2="1250" stroke="#5a5a5a" stroke-width="1.8" opacity="0.7"/>
<line x1="1862" y1="1393" x2="1876" y2="1407" stroke="#777" stroke-width="1.8" opacity="0.7"/>
<line x1="1956" y1="1058" x2="1947" y2="1049" stroke="#5a5a5a" stroke-width="1.8" opacity="0.7"/>
<line x1="2087" y1="1167" x2="2080" y2="1180" stroke="#f0f0f0" stroke-width="1.8" opacity="0.7"/>
<line x1="2141" y1="1500" x2="2136" y2="1512" stroke="#5a5a5a" stroke-width="1.8" opacity="0.7"/>
<line x1="2079" y1="1125" x2="2090" y2="1115" stroke="#3a3a3a" stroke-width="1.8" opacity="0.7"/>
<line x1="1929" y1="1124" x2="1911" y2="1115" stroke="#f0f0f0" stroke-width="1.8" opacity="0.7"/>
<line x1="1973" y1="1414" x2="1978" y2="1424" stroke="#f0f0f0" stroke-width="1.8" opacity="0.7"/>
<line x1="2104" y1="1259" x2="2089" y2="1277" stroke="#5a5a5a" stroke-width="1.8" opacity="0.7"/>
<line x1="1941" y1="1201" x2="1944" y2="1220" stroke="#6a6a6a" stroke-width="1.8" opacity="0.7"/>
<line x1="1997" y1="1170" x2="1992" y2="1188" stroke="#777" stroke-width="1.8" opacity="0.7"/>
<line x1="2101" y1="1448" x2="2094" y2="1467" stroke="#fff" stroke-width="1.8" opacity="0.7"/>
<line x1="2107" y1="1133" x2="2120" y2="1109" stroke="#3a3a3a" stroke-width="1.8" opacity="0.7"/>
<line x1="1899" y1="1168" x2="1917" y2="1189" stroke="#fff" stroke-width="1.8" opacity="0.7"/>
<line x1="1851" y1="986" x2="1832" y2="966" stroke="#fff" stroke-width="1.8" opacity="0.7"/>
<line x1="2195" y1="1496" x2="2183" y2="1510" stroke="#fff" stroke-width="1.8" opacity="0.7"/>
<line x1="1895" y1="1254" x2="1901" y2="1267" stroke="#fff" stroke-width="1.8" opacity="0.7"/>
<line x1="1864" y1="1045" x2="1843" y2="1037" stroke="#3a3a3a" stroke-width="1.8" opacity="0.7"/>
<line x1="2037" y1="1495" x2="2040" y2="1510" stroke="#5a5a5a" stroke-width="1.8" opacity="0.7"/>
<line x1="1908" y1="1117" x2="1889" y2="1112" stroke="#f0f0f0" stroke-width="1.8" opacity="0.7"/>
<line x1="2177" y1="1434" x2="2172" y2="1452" stroke="#777" stroke-width="1.8" opacity="0.7"/>
<line x1="2204" y1="1279" x2="2196" y2="1289" stroke="#f0f0f0" stroke-width="1.8" opacity="0.7"/>
<line x1="2022" y1="1488" x2="2029" y2="1513" stroke="#3a3a3a" stroke-width="1.8" opacity="0.7"/>
<line x1="1982" y1="1051" x2="1971" y2="1033" stroke="#f0f0f0" stroke-width="1.8" opacity="0.7"/>
<line x1="2045" y1="1379" x2="2048" y2="1390" stroke="#f0f0f0" stroke-width="1.8" opacity="0.7"/>
<line x1="1907" y1="1184" x2="1914" y2="1196" stroke="#6a6a6a" stroke-width="1.8" opacity="0.7"/>
<line x1="1831" y1="1386" x2="1842" y2="1402" stroke="#5a5a5a" stroke-width="1.8" opacity="0.7"/>
<line x1="2023" y1="1160" x2="2017" y2="1176" stroke="#4a4a4a" stroke-width="1.8" opacity="0.7"/>
<line x1="1882" y1="1107" x2="1861" y2="1095" stroke="#5a5a5a" stroke-width="1.8" opacity="0.7"/>
<line x1="1895" y1="1336" x2="1903" y2="1355" stroke="#777" stroke-width="1.8" opacity="0.7"/>
<line x1="2158" y1="1070" x2="2168" y2="1058" stroke="#5a5a5a" stroke-width="1.8" opacity="0.7"/>
<line x1="2106" y1="1080" x2="2110" y2="1067" stroke="#3a3a3a" stroke-width="1.8" opacity="0.7"/>
<line x1="1855" y1="1382" x2="1868" y2="1394" stroke="#4a4a4a" stroke-width="1.8" opacity="0.7"/>
<line x1="1966" y1="1162" x2="1962" y2="1179" stroke="#4a4a4a" stroke-width="1.8" opacity="0.7"/>
<line x1="1984" y1="1332" x2="1980" y2="1345" stroke="#5a5a5a" stroke-width="1.8" opacity="0.7"/>
<line x1="2039" y1="1480" x2="2026" y2="1503" stroke="#3a3a3a" stroke-width="1.8" opacity="0.7"/>
<line x1="2015" y1="1175" x2="2010" y2="1187" stroke="#4a4a4a" stroke-width="1.8" opacity="0.7"/>
<line x1="1886" y1="1236" x2="1893" y2="1246" stroke="#4a4a4a" stroke-width="1.8" opacity="0.7"/>
<line x1="1879" y1="1356" x2="1887" y2="1365" stroke="#fff" stroke-width="1.8" opacity="0.7"/>
<line x1="1915" y1="1429" x2="1919" y2="1445" stroke="#fff" stroke-width="1.8" opacity="0.7"/>
<line x1="1871" y1="1117" x2="1864" y2="1108" stroke="#4a4a4a" stroke-width="1.8" opacity="0.7"/>
<line x1="2101" y1="1335" x2="2097" y2="1355" stroke="#5a5a5a" stroke-width="1.8" opacity="0.7"/>
<line x1="2025" y1="1262" x2="2020" y2="1281" stroke="#3a3a3a" stroke-width="1.8" opacity="0.7"/>
<line x1="1856" y1="1090" x2="1840" y2="1089" stroke="#f0f0f0" stroke-width="1.8" opacity="0.7"/>
<line x1="2180" y1="1336" x2="2162" y2="1347" stroke="#3a3a3a" stroke-width="1.8" opacity="0.7"/>
<line x1="1937" y1="1398" x2="1944" y2="1418" stroke="#f0f0f0" stroke-width="1.8" opacity="0.7"/>
<line x1="2011" y1="991" x2="2004" y2="974" stroke="#fff" stroke-width="1.8" opacity="0.7"/>
<line x1="1834" y1="1382" x2="1845" y2="1388" stroke="#4a4a4a" stroke-width="1.8" opacity="0.7"/>
<line x1="1977" y1="1414" x2="1986" y2="1430" stroke="#6a6a6a" stroke-width="1.8" opacity="0.7"/>
<line x1="2058" y1="1004" x2="2055" y2="988" stroke="#4a4a4a" stroke-width="1.8" opacity="0.7"/>
<line x1="1941" y1="992" x2="1927" y2="976" stroke="#5a5a5a" stroke-width="1.8" opacity="0.7"/>
<line x1="2086" y1="1105" x2="2097" y2="1098" stroke="#4a4a4a" stroke-width="1.8" opacity="0.7"/>
<line x1="2161" y1="1284" x2="2151" y2="1299" stroke="#5a5a5a" stroke-width="1.8" opacity="0.7"/>
<line x1="2186" y1="1235" x2="2168" y2="1254" stroke="#fff" stroke-width="1.8" opacity="0.7"/>
<line x1="1887" y1="1245" x2="1895" y2="1255" stroke="#fff" stroke-width="1.8" opacity="0.7"/>
<line x1="1944" y1="1270" x2="1946" y2="1286" stroke="#fff" stroke-width="1.8" opacity="0.7"/>
<line x1="1862" y1="1341" x2="1871" y2="1357" stroke="#f0f0f0" stroke-width="1.8" opacity="0.7"/>
<line x1="2020" y1="1175" x2="2020" y2="1189" stroke="#777" stroke-width="1.8" opacity="0.7"/>
<line x1="2147" y1="1277" x2="2139" y2="1297" stroke="#3a3a3a" stroke-width="1.8" opacity="0.7"/>
<line x1="2069" y1="1494" x2="2067" y2="1505" stroke="#f0f0f0" stroke-width="1.8" opacity="0.7"/>
<line x1="1844" y1="1285" x2="1856" y2="1292" stroke="#fff" stroke-width="1.8" opacity="0.7"/>
<line x1="2017" y1="1200" x2="2010" y2="1218" stroke="#6a6a6a" stroke-width="1.8" opacity="0.7"/>
<line x1="1883" y1="1141" x2="1867" y2="1130" stroke="#4a4a4a" stroke-width="1.8" opacity="0.7"/>
<line x1="2071" y1="1342" x2="2069" y2="1364" stroke="#4a4a4a" stroke-width="1.8" opacity="0.7"/>
<line x1="2085" y1="1401" x2="2073" y2="1422" stroke="#4a4a4a" stroke-width="1.8" opacity="0.7"/>
<line x1="1870" y1="1227" x2="1889" y2="1242" stroke="#777" stroke-width="1.8" opacity="0.7"/>
<line x1="2075" y1="1224" x2="2069" y2="1240" stroke="#fff" stroke-width="1.8" opacity="0.7"/>
<line x1="2154" y1="1497" x2="2149" y2="1511" stroke="#6a6a6a" stroke-width="1.8" opacity="0.7"/>
<line x1="1943" y1="1070" x2="1934" y2="1049" stroke="#fff" stroke-width="1.8" opacity="0.7"/>
<line x1="2062" y1="1038" x2="2068" y2="1029" stroke="#f0f0f0" stroke-width="1.8" opacity="0.7"/>
<line x1="1980" y1="1183" x2="1987" y2="1196" stroke="#6a6a6a" stroke-width="1.8" opacity="0.7"/>
<line x1="2068" y1="1236" x2="2067" y2="1246" stroke="#4a4a4a" stroke-width="1.8" opacity="0.7"/>
<line x1="2015" y1="1499" x2="2014" y2="1511" stroke="#4a4a4a" stroke-width="1.8" opacity="0.7"/>
<line x1="2021" y1="1141" x2="2020" y2="1127" stroke="#fff" stroke-width="1.8" opacity="0.7"/>
<line x1="1926" y1="1387" x2="1931" y2="1396" stroke="#3a3a3a" stroke-width="1.8" opacity="0.7"/>
<line x1="1935" y1="1484" x2="1934" y2="1508" stroke="#5a5a5a" stroke-width="1.8" opacity="0.7"/>
<line x1="1866" y1="1087" x2="1861" y2="1078" stroke="#3a3a3a" stroke-width="1.8" opacity="0.7"/>
<line x1="2153" y1="1259" x2="2143" y2="1270" stroke="#4a4a4a" stroke-width="1.8" opacity="0.7"/>
<line x1="2179" y1="1167" x2="2171" y2="1180" stroke="#5a5a5a" stroke-width="1.8" opacity="0.7"/>
<line x1="1937" y1="1434" x2="1941" y2="1448" stroke="#4a4a4a" stroke-width="1.8" opacity="0.7"/>
<line x1="2125" y1="1465" x2="2118" y2="1482" stroke="#6a6a6a" stroke-width="1.8" opacity="0.7"/>
<line x1="2115" y1="1270" x2="2097" y2="1289" stroke="#5a5a5a" stroke-width="1.8" opacity="0.7"/>
<line x1="2048" y1="1197" x2="2050" y2="1210" stroke="#3a3a3a" stroke-width="1.8" opacity="0.7"/>
<line x1="2059" y1="1069" x2="2078" y2="1054" stroke="#777" stroke-width="1.8" opacity="0.7"/>
<line x1="2101" y1="1142" x2="2122" y2="1136" stroke="#fff" stroke-width="1.8" opacity="0.7"/>
<line x1="1847" y1="1003" x2="1837" y2="978" stroke="#4a4a4a" stroke-width="1.8" opacity="0.7"/>
<line x1="2188" y1="1450" x2="2183" y2="1464" stroke="#fff" stroke-width="1.8" opacity="0.7"/>
<line x1="2059" y1="1439" x2="2055" y2="1463" stroke="#4a4a4a" stroke-width="1.8" opacity="0.7"/>
<line x1="1978" y1="1321" x2="1979" y2="1332" stroke="#fff" stroke-width="1.8" opacity="0.7"/>
<line x1="2039" y1="1102" x2="2046" y2="1086" stroke="#6a6a6a" stroke-width="1.8" opacity="0.7"/>
<line x1="1853" y1="1181" x2="1875" y2="1197" stroke="#f0f0f0" stroke-width="1.8" opacity="0.7"/>
<line x1="2107" y1="1503" x2="2093" y2="1519" stroke="#5a5a5a" stroke-width="1.8" opacity="0.7"/>
<line x1="1941" y1="1089" x2="1935" y2="1071" stroke="#6a6a6a" stroke-width="1.8" opacity="0.7"/>
<line x1="2106" y1="1440" x2="2106" y2="1451" stroke="#5a5a5a" stroke-width="1.8" opacity="0.7"/>
<line x1="1995" y1="1168" x2="1997" y2="1183" stroke="#777" stroke-width="1.8" opacity="0.7"/>
<line x1="1834" y1="1441" x2="1854" y2="1453" stroke="#fff" stroke-width="1.8" opacity="0.7"/>
<line x1="2159" y1="1216" x2="2138" y2="1233" stroke="#f0f0f0" stroke-width="1.8" opacity="0.7"/>
<line x1="2178" y1="1448" x2="2173" y2="1461" stroke="#777" stroke-width="1.8" opacity="0.7"/>
<line x1="2186" y1="1324" x2="2173" y2="1342" stroke="#4a4a4a" stroke-width="1.8" opacity="0.7"/>
<line x1="2053" y1="1016" x2="2062" y2="995" stroke="#777" stroke-width="1.8" opacity="0.7"/>
<line x1="2095" y1="979" x2="2105" y2="957" stroke="#5a5a5a" stroke-width="1.8" opacity="0.7"/>
<line x1="1859" y1="1175" x2="1878" y2="1195" stroke="#fff" stroke-width="1.8" opacity="0.7"/>
<line x1="2172" y1="1002" x2="2192" y2="987" stroke="#f0f0f0" stroke-width="1.8" opacity="0.7"/>
<line x1="2073" y1="1006" x2="2090" y2="991" stroke="#5a5a5a" stroke-width="1.8" opacity="0.7"/>
<line x1="2109" y1="1283" x2="2099" y2="1300" stroke="#777" stroke-width="1.8" opacity="0.7"/>
<line x1="1885" y1="984" x2="1876" y2="965" stroke="#f0f0f0" stroke-width="1.8" opacity="0.7"/>
<line x1="2101" y1="1483" x2="2094" y2="1501" stroke="#6a6a6a" stroke-width="1.8" opacity="0.7"/>
<line x1="1949" y1="1468" x2="1954" y2="1486" stroke="#f0f0f0" stroke-width="1.8" opacity="0.7"/>
<line x1="2193" y1="1335" x2="2187" y2="1352" stroke="#777" stroke-width="1.8" opacity="0.7"/>
<line x1="2202" y1="1278" x2="2188" y2="1297" stroke="#3a3a3a" stroke-width="1.8" opacity="0.7"/>
<line x1="1828" y1="1265" x2="1839" y2="1274" stroke="#fff" stroke-width="1.8" opacity="0.7"/>
<line x1="1929" y1="1164" x2="1940" y2="1176" stroke="#fff" stroke-width="1.8" opacity="0.7"/>
<line x1="1979" y1="1396" x2="1976" y2="1416" stroke="#4a4a4a" stroke-width="1.8" opacity="0.7"/>
<line x1="1893" y1="1034" x2="1870" y2="1024" stroke="#fff" stroke-width="1.8" opacity="0.7"/>
<line x1="1898" y1="981" x2="1880" y2="972" stroke="#fff" stroke-width="1.8" opacity="0.7"/>
<line x1="2136" y1="1434" x2="2123" y2="1452" stroke="#5a5a5a" stroke-width="1.8" opacity="0.7"/>
<line x1="2133" y1="1458" x2="2127" y2="1467" stroke="#f0f0f0" stroke-width="1.8" opacity="0.7"/>
<line x1="2125" y1="1122" x2="2138" y2="1113" stroke="#777" stroke-width="1.8" opacity="0.7"/>
<line x1="1910" y1="1305" x2="1910" y2="1321" stroke="#6a6a6a" stroke-width="1.8" opacity="0.7"/>
<line x1="2162" y1="1065" x2="2174" y2="1048" stroke="#f0f0f0" stroke-width="1.8" opacity="0.7"/>
<line x1="1890" y1="1162" x2="1907" y2="1182" stroke="#f0f0f0" stroke-width="1.8" opacity="0.7"/>
<line x1="2150" y1="1229" x2="2139" y2="1248" stroke="#f0f0f0" stroke-width="1.8" opacity="0.7"/>
<line x1="2089" y1="1004" x2="2104" y2="991" stroke="#777" stroke-width="1.8" opacity="0.7"/>
<line x1="1834" y1="1145" x2="1812" y2="1136" stroke="#6a6a6a" stroke-width="1.8" opacity="0.7"/>
<line x1="2053" y1="1436" x2="2055" y2="1446" stroke="#fff" stroke-width="1.8" opacity="0.7"/>
<line x1="2059" y1="1269" x2="2061" y2="1291" stroke="#3a3a3a" stroke-width="1.8" opacity="0.7"/>
<line x1="2003" y1="1126" x2="2001" y2="1110" stroke="#5a5a5a" stroke-width="1.8" opacity="0.7"/>
<line x1="1826" y1="1469" x2="1841" y2="1476" stroke="#6a6a6a" stroke-width="1.8" opacity="0.7"/>
<line x1="2050" y1="1115" x2="2052" y2="1090" stroke="#6a6a6a" stroke-width="1.8" opacity="0.7"/>
<line x1="2082" y1="1073" x2="2098" y2="1052" stroke="#f0f0f0" stroke-width="1.8" opacity="0.7"/>
<line x1="2062" y1="1326" x2="2058" y2="1343" stroke="#6a6a6a" stroke-width="1.8" opacity="0.7"/>
<line x1="1963" y1="1113" x2="1950" y2="1097" stroke="#f0f0f0" stroke-width="1.8" opacity="0.7"/>
<line x1="2130" y1="1426" x2="2125" y2="1443" stroke="#fff" stroke-width="1.8" opacity="0.7"/>
<line x1="2128" y1="1305" x2="2123" y2="1330" stroke="#f0f0f0" stroke-width="1.8" opacity="0.7"/>
<line x1="2037" y1="1220" x2="2032" y2="1230" stroke="#777" stroke-width="1.8" opacity="0.7"/>
<line x1="2035" y1="1445" x2="2025" y2="1468" stroke="#3a3a3a" stroke-width="1.8" opacity="0.7"/>
<line x1="1867" y1="1259" x2="1878" y2="1275" stroke="#3a3a3a" stroke-width="1.8" opacity="0.7"/>
<line x1="2153" y1="1249" x2="2147" y2="1276" stroke="#3a3a3a" stroke-width="1.8" opacity="0.7"/>
<line x1="2154" y1="1401" x2="2142" y2="1415" stroke="#6a6a6a" stroke-width="1.8" opacity="0.7"/>
<line x1="2050" y1="1265" x2="2046" y2="1276" stroke="#fff" stroke-width="1.8" opacity="0.7"/>
<line x1="2167" y1="1334" x2="2157" y2="1351" stroke="#5a5a5a" stroke-width="1.8" opacity="0.7"/>
<line x1="2201" y1="1468" x2="2194" y2="1489" stroke="#4a4a4a" stroke-width="1.8" opacity="0.7"/>
<line x1="2055" y1="1101" x2="2058" y2="1088" stroke="#777" stroke-width="1.8" opacity="0.7"/>
<line x1="2024" y1="1497" x2="2029" y2="1521" stroke="#4a4a4a" stroke-width="1.8" opacity="0.7"/>
<line x1="2113" y1="1001" x2="2117" y2="977" stroke="#4a4a4a" stroke-width="1.8" opacity="0.7"/>
<line x1="2126" y1="1313" x2="2111" y2="1328" stroke="#5a5a5a" stroke-width="1.8" opacity="0.7"/>
<line x1="2131" y1="1457" x2="2127" y2="1468" stroke="#3a3a3a" stroke-width="1.8" opacity="0.7"/>
<line x1="2180" y1="994" x2="2194" y2="983" stroke="#f0f0f0" stroke-width="1.8" opacity="0.7"/>
<line x1="2074" y1="1179" x2="2071" y2="1201" stroke="#3a3a3a" stroke-width="1.8" opacity="0.7"/>
<line x1="1916" y1="1121" x2="1905" y2="1101" stroke="#3a3a3a" stroke-width="1.8" opacity="0.7"/>
<line x1="1921" y1="1345" x2="1921" y2="1367" stroke="#3a3a3a" stroke-width="1.8" opacity="0.7"/>
<line x1="2197" y1="1332" x2="2184" y2="1350" stroke="#6a6a6a" stroke-width="1.8" opacity="0.7"/>
<line x1="1828" y1="1192" x2="1840" y2="1199" stroke="#3a3a3a" stroke-width="1.8" opacity="0.7"/>
<line x1="1836" y1="1501" x2="1845" y2="1509" stroke="#777" stroke-width="1.8" opacity="0.7"/>
<line x1="2069" y1="1298" x2="2073" y2="1320" stroke="#fff" stroke-width="1.8" opacity="0.7"/>
<line x1="2040" y1="1099" x2="2040" y2="1076" stroke="#3a3a3a" stroke-width="1.8" opacity="0.7"/>
<line x1="2031" y1="1489" x2="2032" y2="1503" stroke="#6a6a6a" stroke-width="1.8" opacity="0.7"/>
<line x1="2060" y1="1373" x2="2057" y2="1383" stroke="#f0f0f0" stroke-width="1.8" opacity="0.7"/>
<line x1="1850" y1="1119" x2="1828" y2="1106" stroke="#4a4a4a" stroke-width="1.8" opacity="0.7"/>
<line x1="2158" y1="1176" x2="2153" y2="1200" stroke="#777" stroke-width="1.8" opacity="0.7"/>
<line x1="2201" y1="1404" x2="2194" y2="1415" stroke="#6a6a6a" stroke-width="1.8" opacity="0.7"/>
<line x1="1868" y1="1078" x2="1858" y2="1070" stroke="#4a4a4a" stroke-width="1.8" opacity="0.7"/>
<line x1="2139" y1="1397" x2="2130" y2="1419" stroke="#3a3a3a" stroke-width="1.8" opacity="0.7"/>
<line x1="1972" y1="1226" x2="1973" y2="1240" stroke="#5a5a5a" stroke-width="1.8" opacity="0.7"/>
<line x1="2180" y1="1198" x2="2168" y2="1207" stroke="#5a5a5a" stroke-width="1.8" opacity="0.7"/>
<line x1="2182" y1="1041" x2="2199" y2="1026" stroke="#5a5a5a" stroke-width="1.8" opacity="0.7"/>
<line x1="2176" y1="1028" x2="2189" y2="1021" stroke="#5a5a5a" stroke-width="1.8" opacity="0.7"/>
<line x1="1936" y1="1375" x2="1940" y2="1402" stroke="#4a4a4a" stroke-width="1.8" opacity="0.7"/>
<line x1="2064" y1="1437" x2="2064" y2="1457" stroke="#3a3a3a" stroke-width="1.8" opacity="0.7"/>
<line x1="2106" y1="1438" x2="2095" y2="1462" stroke="#777" stroke-width="1.8" opacity="0.7"/>
<line x1="2163" y1="1120" x2="2177" y2="1108" stroke="#5a5a5a" stroke-width="1.8" opacity="0.7"/>
<line x1="2190" y1="1048" x2="2206" y2="1035" stroke="#4a4a4a" stroke-width="1.8" opacity="0.7"/>
<line x1="2120" y1="1324" x2="2114" y2="1336" stroke="#777" stroke-width="1.8" opacity="0.7"/>
<line x1="1973" y1="1115" x2="1965" y2="1090" stroke="#3a3a3a" stroke-width="1.8" opacity="0.7"/>
<line x1="1925" y1="1167" x2="1939" y2="1188" stroke="#4a4a4a" stroke-width="1.8" opacity="0.7"/>
<line x1="1970" y1="1298" x2="1980" y2="1318" stroke="#fff" stroke-width="1.8" opacity="0.7"/>
<line x1="1950" y1="1119" x2="1945" y2="1098" stroke="#3a3a3a" stroke-width="1.8" opacity="0.7"/>
<line x1="1989" y1="1466" x2="1995" y2="1484" stroke="#6a6a6a" stroke-width="1.8" opacity="0.7"/>
<line x1="2180" y1="1197" x2="2172" y2="1211" stroke="#fff" stroke-width="1.8" opacity="0.7"/>
<line x1="2122" y1="1261" x2="2107" y2="1277" stroke="#4a4a4a" stroke-width="1.8" opacity="0.7"/>
<line x1="1873" y1="1293" x2="1887" y2="1314" stroke="#777" stroke-width="1.8" opacity="0.7"/>
<line x1="2103" y1="1279" x2="2095" y2="1287" stroke="#3a3a3a" stroke-width="1.8" opacity="0.7"/>
<line x1="2180" y1="1045" x2="2193" y2="1039" stroke="#5a5a5a" stroke-width="1.8" opacity="0.7"/>
<line x1="2033" y1="1432" x2="2038" y2="1453" stroke="#3a3a3a" stroke-width="1.8" opacity="0.7"/>
<line x1="2006" y1="1024" x2="2007" y2="999" stroke="#4a4a4a" stroke-width="1.8" opacity="0.7"/>
<line x1="2027" y1="1039" x2="2032" y2="1015" stroke="#5a5a5a" stroke-width="1.8" opacity="0.7"/>
<line x1="2174" y1="1171" x2="2165" y2="1187" stroke="#fff" stroke-width="1.8" opacity="0.7"/>
<line x1="2046" y1="1436" x2="2039" y2="1449" stroke="#f0f0f0" stroke-width="1.8" opacity="0.7"/>
<line x1="1934" y1="1199" x2="1942" y2="1223" stroke="#6a6a6a" stroke-width="1.8" opacity="0.7"/>
<line x1="2054" y1="1245" x2="2056" y2="1257" stroke="#777" stroke-width="1.8" opacity="0.7"/>
<line x1="1964" y1="1022" x2="1966" y2="999" stroke="#3a3a3a" stroke-width="1.8" opacity="0.7"/>
<line x1="1998" y1="1243" x2="2002" y2="1269" stroke="#6a6a6a" stroke-width="1.8" opacity="0.7"/>
<line x1="2178" y1="1338" x2="2175" y2="1350" stroke="#fff" stroke-width="1.8" opacity="0.7"/>
<line x1="1977" y1="1013" x2="1976" y2="1000" stroke="#4a4a4a" stroke-width="1.8" opacity="0.7"/>
<line x1="2041" y1="1023" x2="2040" y2="1010" stroke="#fff" stroke-width="1.8" opacity="0.7"/>
<line x1="1937" y1="1169" x2="1942" y2="1177" stroke="#4a4a4a" stroke-width="1.8" opacity="0.7"/>
<line x1="2009" y1="1041" x2="1998" y2="1017" stroke="#fff" stroke-width="1.8" opacity="0.7"/>
<line x1="2104" y1="1276" x2="2101" y2="1289" stroke="#3a3a3a" stroke-width="1.8" opacity="0.7"/>
<line x1="1932" y1="996" x2="1927" y2="979" stroke="#3a3a3a" stroke-width="1.8" opacity="0.7"/>
<line x1="1866" y1="990" x2="1856" y2="975" stroke="#f0f0f0" stroke-width="1.8" opacity="0.7"/>
<line x1="2115" y1="1417" x2="2113" y2="1436" stroke="#5a5a5a" stroke-width="1.8" opacity="0.7"/>
<line x1="2173" y1="1083" x2="2184" y2="1078" stroke="#4a4a4a" stroke-width="1.8" opacity="0.7"/>
<line x1="2186" y1="1304" x2="2166" y2="1321" stroke="#f0f0f0" stroke-width="1.8" opacity="0.7"/>
<line x1="2195" y1="1411" x2="2179" y2="1422" stroke="#777" stroke-width="1.8" opacity="0.7"/>
<line x1="2154" y1="1104" x2="2168" y2="1097" stroke="#4a4a4a" stroke-width="1.8" opacity="0.7"/>
<line x1="2051" y1="1112" x2="2056" y2="1090" stroke="#f0f0f0" stroke-width="1.8" opacity="0.7"/>
<line x1="2090" y1="1363" x2="2090" y2="1375" stroke="#4a4a4a" stroke-width="1.8" opacity="0.7"/>
<line x1="1918" y1="1197" x2="1923" y2="1210" stroke="#3a3a3a" stroke-width="1.8" opacity="0.7"/>
<line x1="1892" y1="1496" x2="1908" y2="1513" stroke="#777" stroke-width="1.8" opacity="0.7"/>
<line x1="2022" y1="1499" x2="2016" y2="1522" stroke="#6a6a6a" stroke-width="1.8" opacity="0.7"/>
<line x1="1980" y1="1320" x2="1983" y2="1336" stroke="#fff" stroke-width="1.8" opacity="0.7"/>
<line x1="1920" y1="1221" x2="1932" y2="1241" stroke="#4a4a4a" stroke-width="1.8" opacity="0.7"/>
<line x1="2146" y1="1178" x2="2141" y2="1193" stroke="#3a3a3a" stroke-width="1.8" opacity="0.7"/>
<line x1="2193" y1="1064" x2="2214" y2="1061" stroke="#fff" stroke-width="1.8" opacity="0.7"/>
<line x1="1869" y1="1047" x2="1852" y2="1028" stroke="#3a3a3a" stroke-width="1.8" opacity="0.7"/>
<line x1="2028" y1="1390" x2="2031" y2="1401" stroke="#fff" stroke-width="1.8" opacity="0.7"/>
<line x1="2005" y1="1079" x2="2000" y2="1062" stroke="#5a5a5a" stroke-width="1.8" opacity="0.7"/>
<line x1="1941" y1="1229" x2="1946" y2="1252" stroke="#6a6a6a" stroke-width="1.8" opacity="0.7"/>
<line x1="1898" y1="1035" x2="1875" y2="1025" stroke="#777" stroke-width="1.8" opacity="0.7"/>
<line x1="2036" y1="1101" x2="2040" y2="1082" stroke="#5a5a5a" stroke-width="1.8" opacity="0.7"/>
<line x1="1838" y1="1197" x2="1843" y2="1213" stroke="#f0f0f0" stroke-width="1.8" opacity="0.7"/>
<line x1="2155" y1="1280" x2="2147" y2="1288" stroke="#777" stroke-width="1.8" opacity="0.7"/>
<line x1="2074" y1="1242" x2="2069" y2="1257" stroke="#5a5a5a" stroke-width="1.8" opacity="0.7"/>
<line x1="2045" y1="1454" x2="2038" y2="1475" stroke="#6a6a6a" stroke-width="1.8" opacity="0.7"/>
<line x1="1875" y1="1139" x2="1856" y2="1138" stroke="#f0f0f0" stroke-width="1.8" opacity="0.7"/>
<line x1="1982" y1="1248" x2="1981" y2="1269" stroke="#f0f0f0" stroke-width="1.8" opacity="0.7"/>
<line x1="2116" y1="1210" x2="2101" y2="1231" stroke="#f0f0f0" stroke-width="1.8" opacity="0.7"/>
<line x1="1943" y1="1207" x2="1946" y2="1222" stroke="#f0f0f0" stroke-width="1.8" opacity="0.7"/>
<line x1="2057" y1="1026" x2="2060" y2="1009" stroke="#6a6a6a" stroke-width="1.8" opacity="0.7"/>
<line x1="2033" y1="1020" x2="2039" y2="1011" stroke="#5a5a5a" stroke-width="1.8" opacity="0.7"/>
<line x1="2071" y1="1330" x2="2072" y2="1346" stroke="#fff" stroke-width="1.8" opacity="0.7"/>
<line x1="1902" y1="1220" x2="1906" y2="1231" stroke="#4a4a4a" stroke-width="1.8" opacity="0.7"/>
<line x1="2052" y1="1276" x2="2048" y2="1303" stroke="#4a4a4a" stroke-width="1.8" opacity="0.7"/>
<line x1="2142" y1="1175" x2="2123" y2="1195" stroke="#4a4a4a" stroke-width="1.8" opacity="0.7"/>
<line x1="2092" y1="1441" x2="2084" y2="1461" stroke="#5a5a5a" stroke-width="1.8" opacity="0.7"/>
<line x1="1888" y1="1095" x2="1873" y2="1073" stroke="#6a6a6a" stroke-width="1.8" opacity="0.7"/>
<line x1="2145" y1="1460" x2="2137" y2="1484" stroke="#777" stroke-width="1.8" opacity="0.7"/>
<line x1="2120" y1="1206" x2="2114" y2="1221" stroke="#6a6a6a" stroke-width="1.8" opacity="0.7"/>
<line x1="2017" y1="1484" x2="2009" y2="1505" stroke="#4a4a4a" stroke-width="1.8" opacity="0.7"/>
<line x1="1842" y1="1179" x2="1852" y2="1185" stroke="#6a6a6a" stroke-width="1.8" opacity="0.7"/>
<line x1="2079" y1="1091" x2="2084" y2="1081" stroke="#4a4a4a" stroke-width="1.8" opacity="0.7"/>
<line x1="1965" y1="1138" x2="1947" y2="1127" stroke="#f0f0f0" stroke-width="1.8" opacity="0.7"/>
<line x1="2060" y1="1152" x2="2059" y2="1170" stroke="#f0f0f0" stroke-width="1.8" opacity="0.7"/>
<line x1="1913" y1="1361" x2="1922" y2="1371" stroke="#5a5a5a" stroke-width="1.8" opacity="0.7"/>
<line x1="2004" y1="1019" x2="2007" y2="1009" stroke="#6a6a6a" stroke-width="1.8" opacity="0.7"/>
<line x1="1960" y1="1225" x2="1969" y2="1247" stroke="#5a5a5a" stroke-width="1.8" opacity="0.7"/>
<line x1="2053" y1="1488" x2="2056" y2="1516" stroke="#4a4a4a" stroke-width="1.8" opacity="0.7"/>
<line x1="2178" y1="1091" x2="2201" y2="1077" stroke="#3a3a3a" stroke-width="1.8" opacity="0.7"/>
<line x1="2144" y1="1338" x2="2125" y2="1355" stroke="#777" stroke-width="1.8" opacity="0.7"/>
<line x1="1838" y1="1130" x2="1820" y2="1113" stroke="#6a6a6a" stroke-width="1.8" opacity="0.7"/>
<line x1="2183" y1="1291" x2="2179" y2="1305" stroke="#fff" stroke-width="1.8" opacity="0.7"/>
<line x1="2052" y1="1206" x2="2047" y2="1221" stroke="#5a5a5a" stroke-width="1.8" opacity="0.7"/>
<line x1="2033" y1="1186" x2="2034" y2="1196" stroke="#fff" stroke-width="1.8" opacity="0.7"/>
<line x1="1842" y1="1284" x2="1860" y2="1296" stroke="#3a3a3a" stroke-width="1.8" opacity="0.7"/>
<line x1="1938" y1="1131" x2="1928" y2="1128" stroke="#6a6a6a" stroke-width="1.8" opacity="0.7"/>
<line x1="2051" y1="1366" x2="2056" y2="1385" stroke="#4a4a4a" stroke-width="1.8" opacity="0.7"/>
<line x1="1834" y1="1025" x2="1822" y2="1009" stroke="#6a6a6a" stroke-width="1.8" opacity="0.7"/>
<line x1="1862" y1="1179" x2="1879" y2="1200" stroke="#fff" stroke-width="1.8" opacity="0.7"/>
<line x1="2165" y1="1362" x2="2154" y2="1379" stroke="#777" stroke-width="1.8" opacity="0.7"/>
<line x1="2143" y1="1249" x2="2124" y2="1265" stroke="#f0f0f0" stroke-width="1.8" opacity="0.7"/>
<line x1="2059" y1="1293" x2="2063" y2="1311" stroke="#6a6a6a" stroke-width="1.8" opacity="0.7"/>
<line x1="1828" y1="1284" x2="1848" y2="1300" stroke="#f0f0f0" stroke-width="1.8" opacity="0.7"/>
<line x1="2011" y1="1367" x2="2008" y2="1377" stroke="#4a4a4a" stroke-width="1.8" opacity="0.7"/>
<line x1="2165" y1="1174" x2="2145" y2="1193" stroke="#6a6a6a" stroke-width="1.8" opacity="0.7"/>
<line x1="2095" y1="1365" x2="2083" y2="1380" stroke="#3a3a3a" stroke-width="1.8" opacity="0.7"/>
<line x1="1993" y1="1104" x2="1982" y2="1087" stroke="#6a6a6a" stroke-width="1.8" opacity="0.7"/>
<line x1="2180" y1="1037" x2="2192" y2="1028" stroke="#fff" stroke-width="1.8" opacity="0.7"/>
<line x1="2015" y1="1068" x2="2014" y2="1049" stroke="#777" stroke-width="1.8" opacity="0.7"/>
<line x1="1990" y1="1292" x2="1984" y2="1317" stroke="#f0f0f0" stroke-width="1.8" opacity="0.7"/>
<line x1="2026" y1="1352" x2="2019" y2="1369" stroke="#fff" stroke-width="1.8" opacity="0.7"/>
<line x1="1958" y1="1506" x2="1964" y2="1515" stroke="#4a4a4a" stroke-width="1.8" opacity="0.7"/>
<line x1="2201" y1="1484" x2="2192" y2="1492" stroke="#3a3a3a" stroke-width="1.8" opacity="0.7"/>
<line x1="2124" y1="1455" x2="2121" y2="1482" stroke="#fff" stroke-width="1.8" opacity="0.7"/>
<line x1="2046" y1="1039" x2="2049" y2="1013" stroke="#f0f0f0" stroke-width="1.8" opacity="0.7"/>
<line x1="1928" y1="1254" x2="1938" y2="1273" stroke="#4a4a4a" stroke-width="1.8" opacity="0.7"/>
<line x1="1923" y1="1484" x2="1925" y2="1496" stroke="#3a3a3a" stroke-width="1.8" opacity="0.7"/>
<line x1="2177" y1="1424" x2="2161" y2="1437" stroke="#3a3a3a" stroke-width="1.8" opacity="0.7"/>
<line x1="2160" y1="1475" x2="2157" y2="1491" stroke="#777" stroke-width="1.8" opacity="0.7"/>
<line x1="2103" y1="1233" x2="2091" y2="1247" stroke="#fff" stroke-width="1.8" opacity="0.7"/>
<line x1="1901" y1="1141" x2="1891" y2="1137" stroke="#3a3a3a" stroke-width="1.8" opacity="0.7"/>
<line x1="2114" y1="1175" x2="2106" y2="1200" stroke="#4a4a4a" stroke-width="1.8" opacity="0.7"/>
<line x1="1996" y1="1338" x2="2000" y2="1347" stroke="#6a6a6a" stroke-width="1.8" opacity="0.7"/>
<line x1="2174" y1="1421" x2="2154" y2="1435" stroke="#777" stroke-width="1.8" opacity="0.7"/>
<line x1="2172" y1="1335" x2="2155" y2="1348" stroke="#fff" stroke-width="1.8" opacity="0.7"/>
<line x1="1942" y1="1065" x2="1923" y2="1053" stroke="#5a5a5a" stroke-width="1.8" opacity="0.7"/>
<line x1="2077" y1="999" x2="2092" y2="977" stroke="#fff" stroke-width="1.8" opacity="0.7"/>
<line x1="2002" y1="1232" x2="1995" y2="1256" stroke="#6a6a6a" stroke-width="1.8" opacity="0.7"/>
<line x1="2000" y1="978" x2="2000" y2="956" stroke="#f0f0f0" stroke-width="1.8" opacity="0.7"/>
<line x1="2143" y1="1168" x2="2134" y2="1181" stroke="#6a6a6a" stroke-width="1.8" opacity="0.7"/>
<line x1="2199" y1="1290" x2="2177" y2="1307" stroke="#6a6a6a" stroke-width="1.8" opacity="0.7"/>
<line x1="2167" y1="1312" x2="2151" y2="1334" stroke="#3a3a3a" stroke-width="1.8" opacity="0.7"/>
<line x1="2202" y1="1183" x2="2193" y2="1191" stroke="#5a5a5a" stroke-width="1.8" opacity="0.7"/>
<line x1="2108" y1="1372" x2="2102" y2="1387" stroke="#3a3a3a" stroke-width="1.8" opacity="0.7"/>
<line x1="1954" y1="1498" x2="1957" y2="1512" stroke="#3a3a3a" stroke-width="1.8" opacity="0.7"/>
<line x1="2024" y1="1195" x2="2026" y2="1220" stroke="#777" stroke-width="1.8" opacity="0.7"/>
<line x1="1926" y1="1259" x2="1933" y2="1272" stroke="#f0f0f0" stroke-width="1.8" opacity="0.7"/>
<line x1="2120" y1="1404" x2="2118" y2="1419" stroke="#6a6a6a" stroke-width="1.8" opacity="0.7"/>
<line x1="1846" y1="1040" x2="1830" y2="1021" stroke="#777" stroke-width="1.8" opacity="0.7"/>
<line x1="2120" y1="1055" x2="2135" y2="1041" stroke="#777" stroke-width="1.8" opacity="0.7"/>
<line x1="2001" y1="1177" x2="1998" y2="1187" stroke="#6a6a6a" stroke-width="1.8" opacity="0.7"/>
<line x1="1971" y1="1008" x2="1969" y2="993" stroke="#4a4a4a" stroke-width="1.8" opacity="0.7"/>
<line x1="1890" y1="1215" x2="1895" y2="1242" stroke="#777" stroke-width="1.8" opacity="0.7"/>
<line x1="2202" y1="1450" x2="2189" y2="1471" stroke="#3a3a3a" stroke-width="1.8" opacity="0.7"/>
<line x1="2053" y1="1408" x2="2049" y2="1430" stroke="#4a4a4a" stroke-width="1.8" opacity="0.7"/>
<line x1="2098" y1="1255" x2="2092" y2="1264" stroke="#f0f0f0" stroke-width="1.8" opacity="0.7"/>
<line x1="2136" y1="1238" x2="2134" y2="1260" stroke="#3a3a3a" stroke-width="1.8" opacity="0.7"/>
<line x1="2072" y1="972" x2="2081" y2="946" stroke="#5a5a5a" stroke-width="1.8" opacity="0.7"/>
<line x1="2099" y1="1349" x2="2088" y2="1366" stroke="#6a6a6a" stroke-width="1.8" opacity="0.7"/>
<line x1="2021" y1="1421" x2="2018" y2="1436" stroke="#3a3a3a" stroke-width="1.8" opacity="0.7"/>
<line x1="2118" y1="1168" x2="2118" y2="1195" stroke="#f0f0f0" stroke-width="1.8" opacity="0.7"/>
<line x1="2202" y1="1389" x2="2185" y2="1409" stroke="#fff" stroke-width="1.8" opacity="0.7"/>
<line x1="2058" y1="1306" x2="2058" y2="1320" stroke="#4a4a4a" stroke-width="1.8" opacity="0.7"/>
<line x1="1832" y1="1428" x2="1842" y2="1442" stroke="#777" stroke-width="1.8" opacity="0.7"/>
<line x1="2186" y1="1139" x2="2206" y2="1139" stroke="#3a3a3a" stroke-width="1.8" opacity="0.7"/>
<line x1="2001" y1="1162" x2="2002" y2="1176" stroke="#4a4a4a" stroke-width="1.8" opacity="0.7"/>
<line x1="1913" y1="1341" x2="1916" y2="1355" stroke="#4a4a4a" stroke-width="1.8" opacity="0.7"/>
<line x1="2016" y1="1238" x2="2020" y2="1256" stroke="#f0f0f0" stroke-width="1.8" opacity="0.7"/>
<line x1="1965" y1="1461" x2="1969" y2="1472" stroke="#5a5a5a" stroke-width="1.8" opacity="0.7"/>
<line x1="2155" y1="1438" x2="2144" y2="1447" stroke="#f0f0f0" stroke-width="1.8" opacity="0.7"/>
<line x1="2075" y1="1022" x2="2080" y2="1012" stroke="#6a6a6a" stroke-width="1.8" opacity="0.7"/>
<line x1="1863" y1="1369" x2="1878" y2="1382" stroke="#f0f0f0" stroke-width="1.8" opacity="0.7"/>
<line x1="2126" y1="972" x2="2138" y2="957" stroke="#fff" stroke-width="1.8" opacity="0.7"/>
<line x1="1996" y1="1047" x2="1991" y2="1019" stroke="#3a3a3a" stroke-width="1.8" opacity="0.7"/>
<line x1="2008" y1="1122" x2="2008" y2="1110" stroke="#fff" stroke-width="1.8" opacity="0.7"/>
<line x1="1956" y1="1435" x2="1967" y2="1453" stroke="#6a6a6a" stroke-width="1.8" opacity="0.7"/>
<line x1="2160" y1="1180" x2="2153" y2="1202" stroke="#777" stroke-width="1.8" opacity="0.7"/>
<line x1="1904" y1="972" x2="1895" y2="966" stroke="#f0f0f0" stroke-width="1.8" opacity="0.7"/>
<line x1="2147" y1="1419" x2="2139" y2="1426" stroke="#5a5a5a" stroke-width="1.8" opacity="0.7"/>
<line x1="1876" y1="1291" x2="1883" y2="1315" stroke="#4a4a4a" stroke-width="1.8" opacity="0.7"/>
<line x1="2047" y1="1214" x2="2044" y2="1235" stroke="#4a4a4a" stroke-width="1.8" opacity="0.7"/>
<line x1="2084" y1="1407" x2="2070" y2="1427" stroke="#f0f0f0" stroke-width="1.8" opacity="0.7"/>
<line x1="2102" y1="1419" x2="2100" y2="1437" stroke="#6a6a6a" stroke-width="1.8" opacity="0.7"/>
<line x1="2005" y1="1503" x2="2007" y2="1528" stroke="#5a5a5a" stroke-width="1.8" opacity="0.7"/>
<line x1="2113" y1="1447" x2="2108" y2="1467" stroke="#3a3a3a" stroke-width="1.8" opacity="0.7"/>
<line x1="2200" y1="1450" x2="2186" y2="1463" stroke="#777" stroke-width="1.8" opacity="0.7"/>
<line x1="1850" y1="1219" x2="1866" y2="1238" stroke="#fff" stroke-width="1.8" opacity="0.7"/>
<line x1="1857" y1="1174" x2="1867" y2="1200" stroke="#3a3a3a" stroke-width="1.8" opacity="0.7"/>
<line x1="2042" y1="1190" x2="2041" y2="1201" stroke="#3a3a3a" stroke-width="1.8" opacity="0.7"/>
<line x1="2018" y1="1323" x2="2022" y2="1334" stroke="#3a3a3a" stroke-width="1.8" opacity="0.7"/>
<line x1="2154" y1="1269" x2="2145" y2="1292" stroke="#777" stroke-width="1.8" opacity="0.7"/>
<line x1="2184" y1="1278" x2="2179" y2="1294" stroke="#3a3a3a" stroke-width="1.8" opacity="0.7"/>
<line x1="2146" y1="1479" x2="2142" y2="1490" stroke="#777" stroke-width="1.8" opacity="0.7"/>
<line x1="1956" y1="1426" x2="1959" y2="1440" stroke="#6a6a6a" stroke-width="1.8" opacity="0.7"/>
<line x1="1836" y1="1406" x2="1844" y2="1412" stroke="#777" stroke-width="1.8" opacity="0.7"/>
<line x1="1956" y1="1070" x2="1936" y2="1051" stroke="#777" stroke-width="1.8" opacity="0.7"/>
<line x1="1931" y1="1298" x2="1933" y2="1312" stroke="#f0f0f0" stroke-width="1.8" opacity="0.7"/>
<line x1="2133" y1="1084" x2="2144" y2="1077" stroke="#777" stroke-width="1.8" opacity="0.7"/>
<line x1="2046" y1="1109" x2="2054" y2="1096" stroke="#3a3a3a" stroke-width="1.8" opacity="0.7"/>
<line x1="2118" y1="1284" x2="2117" y2="1298" stroke="#fff" stroke-width="1.8" opacity="0.7"/>
<line x1="1879" y1="1378" x2="1895" y2="1399" stroke="#f0f0f0" stroke-width="1.8" opacity="0.7"/>
<line x1="2064" y1="1362" x2="2060" y2="1376" stroke="#4a4a4a" stroke-width="1.8" opacity="0.7"/>
<line x1="2046" y1="1145" x2="2054" y2="1126" stroke="#4a4a4a" stroke-width="1.8" opacity="0.7"/>
<line x1="2201" y1="1182" x2="2182" y2="1193" stroke="#4a4a4a" stroke-width="1.8" opacity="0.7"/>
<line x1="1964" y1="1204" x2="1967" y2="1224" stroke="#777" stroke-width="1.8" opacity="0.7"/>
<line x1="2137" y1="989" x2="2145" y2="966" stroke="#777" stroke-width="1.8" opacity="0.7"/>
<line x1="1915" y1="1037" x2="1897" y2="1018" stroke="#5a5a5a" stroke-width="1.8" opacity="0.7"/>
<line x1="1833" y1="1184" x2="1851" y2="1205" stroke="#777" stroke-width="1.8" opacity="0.7"/>
<line x1="1857" y1="1093" x2="1844" y2="1089" stroke="#4a4a4a" stroke-width="1.8" opacity="0.7"/>
<line x1="2076" y1="1067" x2="2090" y2="1052" stroke="#fff" stroke-width="1.8" opacity="0.7"/>
<line x1="2053" y1="1307" x2="2049" y2="1322" stroke="#6a6a6a" stroke-width="1.8" opacity="0.7"/>
<line x1="2025" y1="1254" x2="2032" y2="1280" stroke="#5a5a5a" stroke-width="1.8" opacity="0.7"/>
<line x1="2059" y1="1266" x2="2059" y2="1283" stroke="#6a6a6a" stroke-width="1.8" opacity="0.7"/>
<line x1="2012" y1="1451" x2="2014" y2="1464" stroke="#777" stroke-width="1.8" opacity="0.7"/>
<line x1="2013" y1="1508" x2="2014" y2="1519" stroke="#3a3a3a" stroke-width="1.8" opacity="0.7"/>
<line x1="1945" y1="1376" x2="1956" y2="1398" stroke="#fff" stroke-width="1.8" opacity="0.7"/>
<line x1="2010" y1="1422" x2="2013" y2="1447" stroke="#5a5a5a" stroke-width="1.8" opacity="0.7"/>
<line x1="1859" y1="1334" x2="1876" y2="1356" stroke="#6a6a6a" stroke-width="1.8" opacity="0.7"/>
<line x1="2108" y1="1181" x2="2106" y2="1192" stroke="#4a4a4a" stroke-width="1.8" opacity="0.7"/>
<line x1="1892" y1="1355" x2="1905" y2="1380" stroke="#3a3a3a" stroke-width="1.8" opacity="0.7"/>
<line x1="2072" y1="1214" x2="2073" y2="1240" stroke="#3a3a3a" stroke-width="1.8" opacity="0.7"/>
<line x1="2067" y1="1218" x2="2066" y2="1236" stroke="#f0f0f0" stroke-width="1.8" opacity="0.7"/>
<line x1="2123" y1="1301" x2="2117" y2="1309" stroke="#777" stroke-width="1.8" opacity="0.7"/>
<line x1="2053" y1="1145" x2="2071" y2="1134" stroke="#5a5a5a" stroke-width="1.8" opacity="0.7"/>
<line x1="1955" y1="1248" x2="1953" y2="1262" stroke="#5a5a5a" stroke-width="1.8" opacity="0.7"/>
<line x1="1934" y1="1056" x2="1921" y2="1045" stroke="#6a6a6a" stroke-width="1.8" opacity="0.7"/>
<line x1="1958" y1="1450" x2="1960" y2="1471" stroke="#f0f0f0" stroke-width="1.8" opacity="0.7"/>
<line x1="1892" y1="1304" x2="1897" y2="1320" stroke="#6a6a6a" stroke-width="1.8" opacity="0.7"/>
<line x1="2096" y1="1206" x2="2093" y2="1231" stroke="#5a5a5a" stroke-width="1.8" opacity="0.7"/>
<line x1="1970" y1="1509" x2="1973" y2="1521" stroke="#777" stroke-width="1.8" opacity="0.7"/>
<line x1="1990" y1="1097" x2="1983" y2="1085" stroke="#5a5a5a" stroke-width="1.8" opacity="0.7"/>
<line x1="2200" y1="978" x2="2211" y2="956" stroke="#5a5a5a" stroke-width="1.8" opacity="0.7"/>
<line x1="2193" y1="1396" x2="2187" y2="1413" stroke="#4a4a4a" stroke-width="1.8" opacity="0.7"/>
<line x1="1949" y1="1340" x2="1956" y2="1364" stroke="#777" stroke-width="1.8" opacity="0.7"/>
<line x1="2071" y1="1432" x2="2060" y2="1450" stroke="#4a4a4a" stroke-width="1.8" opacity="0.7"/>
<line x1="2006" y1="1165" x2="2007" y2="1183" stroke="#4a4a4a" stroke-width="1.8" opacity="0.7"/>
<line x1="1901" y1="1235" x2="1913" y2="1252" stroke="#3a3a3a" stroke-width="1.8" opacity="0.7"/>
<line x1="2058" y1="1000" x2="2060" y2="983" stroke="#3a3a3a" stroke-width="1.8" opacity="0.7"/>
<line x1="1911" y1="1342" x2="1917" y2="1369" stroke="#5a5a5a" stroke-width="1.8" opacity="0.7"/>
<line x1="1917" y1="1230" x2="1921" y2="1244" stroke="#fff" stroke-width="1.8" opacity="0.7"/>
<line x1="2070" y1="1026" x2="2070" y2="1014" stroke="#777" stroke-width="1.8" opacity="0.7"/>
<line x1="1836" y1="1452" x2="1845" y2="1465" stroke="#6a6a6a" stroke-width="1.8" opacity="0.7"/>
<line x1="2083" y1="1507" x2="2079" y2="1526" stroke="#fff" stroke-width="1.8" opacity="0.7"/>
<line x1="2110" y1="1202" x2="2110" y2="1227" stroke="#f0f0f0" stroke-width="1.8" opacity="0.7"/>
<line x1="1874" y1="1244" x2="1881" y2="1257" stroke="#5a5a5a" stroke-width="1.8" opacity="0.7"/>
<line x1="1990" y1="1410" x2="1993" y2="1434" stroke="#6a6a6a" stroke-width="1.8" opacity="0.7"/>
<line x1="2198" y1="1112" x2="2220" y2="1101" stroke="#5a5a5a" stroke-width="1.8" opacity="0.7"/>
<line x1="2086" y1="1141" x2="2099" y2="1131" stroke="#6a6a6a" stroke-width="1.8" opacity="0.7"/>
<line x1="1908" y1="1161" x2="1922" y2="1182" stroke="#6a6a6a" stroke-width="1.8" opacity="0.7"/>
<line x1="2103" y1="1107" x2="2113" y2="1096" stroke="#777" stroke-width="1.8" opacity="0.7"/>
<line x1="2023" y1="1356" x2="2022" y2="1372" stroke="#fff" stroke-width="1.8" opacity="0.7"/>
<line x1="1865" y1="1236" x2="1883" y2="1256" stroke="#6a6a6a" stroke-width="1.8" opacity="0.7"/>
<line x1="1855" y1="1162" x2="1860" y2="1178" stroke="#f0f0f0" stroke-width="1.8" opacity="0.7"/>
<line x1="1873" y1="983" x2="1865" y2="958" stroke="#5a5a5a" stroke-width="1.8" opacity="0.7"/>
<line x1="2102" y1="1383" x2="2100" y2="1403" stroke="#6a6a6a" stroke-width="1.8" opacity="0.7"/>
<line x1="1851" y1="1096" x2="1834" y2="1079" stroke="#4a4a4a" stroke-width="1.8" opacity="0.7"/>
<line x1="2002" y1="979" x2="2002" y2="966" stroke="#777" stroke-width="1.8" opacity="0.7"/>
<line x1="1895" y1="1007" x2="1879" y2="996" stroke="#777" stroke-width="1.8" opacity="0.7"/>
<line x1="2013" y1="1195" x2="2012" y2="1214" stroke="#6a6a6a" stroke-width="1.8" opacity="0.7"/>
<line x1="2145" y1="1257" x2="2126" y2="1273" stroke="#f0f0f0" stroke-width="1.8" opacity="0.7"/>
<line x1="2165" y1="1459" x2="2158" y2="1468" stroke="#5a5a5a" stroke-width="1.8" opacity="0.7"/>
<line x1="1919" y1="1301" x2="1924" y2="1318" stroke="#4a4a4a" stroke-width="1.8" opacity="0.7"/>
<line x1="1890" y1="1457" x2="1903" y2="1470" stroke="#777" stroke-width="1.8" opacity="0.7"/>
<line x1="1995" y1="1202" x2="1992" y2="1225" stroke="#f0f0f0" stroke-width="1.8" opacity="0.7"/>
<line x1="2163" y1="1285" x2="2151" y2="1300" stroke="#5a5a5a" stroke-width="1.8" opacity="0.7"/>
<line x1="1944" y1="1418" x2="1948" y2="1437" stroke="#5a5a5a" stroke-width="1.8" opacity="0.7"/>
<line x1="1932" y1="1407" x2="1939" y2="1431" stroke="#3a3a3a" stroke-width="1.8" opacity="0.7"/>
<line x1="2168" y1="1495" x2="2164" y2="1505" stroke="#4a4a4a" stroke-width="1.8" opacity="0.7"/>
<line x1="1851" y1="1131" x2="1836" y2="1115" stroke="#f0f0f0" stroke-width="1.8" opacity="0.7"/>
<line x1="2060" y1="1484" x2="2049" y2="1505" stroke="#4a4a4a" stroke-width="1.8" opacity="0.7"/>
<line x1="2013" y1="1411" x2="2012" y2="1424" stroke="#5a5a5a" stroke-width="1.8" opacity="0.7"/>
<line x1="2116" y1="1501" x2="2106" y2="1519" stroke="#6a6a6a" stroke-width="1.8" opacity="0.7"/>
<line x1="2181" y1="1360" x2="2170" y2="1368" stroke="#5a5a5a" stroke-width="1.8" opacity="0.7"/>
<line x1="2110" y1="1004" x2="2123" y2="995" stroke="#6a6a6a" stroke-width="1.8" opacity="0.7"/>
<line x1="1843" y1="1480" x2="1861" y2="1495" stroke="#fff" stroke-width="1.8" opacity="0.7"/>
<line x1="1876" y1="1293" x2="1883" y2="1306" stroke="#3a3a3a" stroke-width="1.8" opacity="0.7"/>
<line x1="1959" y1="1284" x2="1964" y2="1295" stroke="#3a3a3a" stroke-width="1.8" opacity="0.7"/>
<line x1="2068" y1="1215" x2="2063" y2="1227" stroke="#5a5a5a" stroke-width="1.8" opacity="0.7"/>
<line x1="2075" y1="1125" x2="2090" y2="1118" stroke="#f0f0f0" stroke-width="1.8" opacity="0.7"/>
<line x1="2094" y1="1076" x2="2104" y2="1062" stroke="#3a3a3a" stroke-width="1.8" opacity="0.7"/>
<line x1="2103" y1="1054" x2="2112" y2="1040" stroke="#5a5a5a" stroke-width="1.8" opacity="0.7"/>
<line x1="1940" y1="1101" x2="1921" y2="1091" stroke="#5a5a5a" stroke-width="1.8" opacity="0.7"/>
<line x1="2127" y1="1161" x2="2117" y2="1187" stroke="#3a3a3a" stroke-width="1.8" opacity="0.7"/>
<line x1="2093" y1="1424" x2="2083" y2="1438" stroke="#777" stroke-width="1.8" opacity="0.7"/>
<line x1="1999" y1="985" x2="1999" y2="968" stroke="#5a5a5a" stroke-width="1.8" opacity="0.7"/>
<line x1="1828" y1="1377" x2="1841" y2="1391" stroke="#f0f0f0" stroke-width="1.8" opacity="0.7"/>
<line x1="1845" y1="1014" x2="1838" y2="999" stroke="#fff" stroke-width="1.8" opacity="0.7"/>
<line x1="2059" y1="1193" x2="2057" y2="1208" stroke="#5a5a5a" stroke-width="1.8" opacity="0.7"/>
<line x1="2149" y1="1150" x2="2158" y2="1144" stroke="#fff" stroke-width="1.8" opacity="0.7"/>
<line x1="2080" y1="1478" x2="2077" y2="1501" stroke="#6a6a6a" stroke-width="1.8" opacity="0.7"/>
<line x1="2138" y1="1355" x2="2126" y2="1373" stroke="#6a6a6a" stroke-width="1.8" opacity="0.7"/>
<line x1="1941" y1="1068" x2="1932" y2="1060" stroke="#3a3a3a" stroke-width="1.8" opacity="0.7"/>
<line x1="2083" y1="1378" x2="2072" y2="1402" stroke="#6a6a6a" stroke-width="1.8" opacity="0.7"/>
<line x1="1855" y1="1046" x2="1843" y2="1037" stroke="#f0f0f0" stroke-width="1.8" opacity="0.7"/>
<line x1="2021" y1="1342" x2="2024" y2="1364" stroke="#3a3a3a" stroke-width="1.8" opacity="0.7"/>
<line x1="1973" y1="1417" x2="1977" y2="1436" stroke="#4a4a4a" stroke-width="1.8" opacity="0.7"/>
<line x1="2095" y1="1216" x2="2093" y2="1234" stroke="#4a4a4a" stroke-width="1.8" opacity="0.7"/>
<line x1="2103" y1="1295" x2="2102" y2="1316" stroke="#6a6a6a" stroke-width="1.8" opacity="0.7"/>
<line x1="2204" y1="1258" x2="2187" y2="1275" stroke="#6a6a6a" stroke-width="1.8" opacity="0.7"/>
<line x1="2007" y1="1125" x2="2011" y2="1106" stroke="#5a5a5a" stroke-width="1.8" opacity="0.7"/>
<line x1="1954" y1="1222" x2="1955" y2="1239" stroke="#f0f0f0" stroke-width="1.8" opacity="0.7"/>
<line x1="2159" y1="1264" x2="2146" y2="1282" stroke="#3a3a3a" stroke-width="1.8" opacity="0.7"/>
<line x1="2045" y1="1400" x2="2050" y2="1425" stroke="#6a6a6a" stroke-width="1.8" opacity="0.7"/>
<line x1="2074" y1="1082" x2="2083" y2="1067" stroke="#777" stroke-width="1.8" opacity="0.7"/>
<line x1="2143" y1="1350" x2="2128" y2="1373" stroke="#f0f0f0" stroke-width="1.8" opacity="0.7"/>
<line x1="2057" y1="1366" x2="2048" y2="1381" stroke="#6a6a6a" stroke-width="1.8" opacity="0.7"/>
<line x1="2112" y1="1213" x2="2109" y2="1239" stroke="#fff" stroke-width="1.8" opacity="0.7"/>
<line x1="2103" y1="1435" x2="2098" y2="1445" stroke="#fff" stroke-width="1.8" opacity="0.7"/>
<line x1="1842" y1="1407" x2="1850" y2="1414" stroke="#4a4a4a" stroke-width="1.8" opacity="0.7"/>
<line x1="1945" y1="1463" x2="1943" y2="1488" stroke="#fff" stroke-width="1.8" opacity="0.7"/>
<line x1="2141" y1="1322" x2="2131" y2="1330" stroke="#777" stroke-width="1.8" opacity="0.7"/>
<line x1="1890" y1="1084" x2="1875" y2="1073" stroke="#f0f0f0" stroke-width="1.8" opacity="0.7"/>
<line x1="1889" y1="992" x2="1877" y2="973" stroke="#5a5a5a" stroke-width="1.8" opacity="0.7"/>
<line x1="2103" y1="1331" x2="2102" y2="1343" stroke="#777" stroke-width="1.8" opacity="0.7"/>
<line x1="2002" y1="1373" x2="2004" y2="1384" stroke="#fff" stroke-width="1.8" opacity="0.7"/>
<line x1="1858" y1="1340" x2="1869" y2="1350" stroke="#3a3a3a" stroke-width="1.8" opacity="0.7"/>
<line x1="2128" y1="1306" x2="2126" y2="1322" stroke="#fff" stroke-width="1.8" opacity="0.7"/>
<line x1="2040" y1="1310" x2="2044" y2="1332" stroke="#fff" stroke-width="1.8" opacity="0.7"/>
<line x1="1912" y1="1014" x2="1905" y2="990" stroke="#fff" stroke-width="1.8" opacity="0.7"/>
<line x1="2131" y1="1181" x2="2113" y2="1201" stroke="#f0f0f0" stroke-width="1.8" opacity="0.7"/>
<line x1="1839" y1="1057" x2="1822" y2="1040" stroke="#5a5a5a" stroke-width="1.8" opacity="0.7"/>
<line x1="1885" y1="1217" x2="1893" y2="1226" stroke="#f0f0f0" stroke-width="1.8" opacity="0.7"/>
<line x1="1857" y1="1370" x2="1865" y2="1392" stroke="#777" stroke-width="1.8" opacity="0.7"/>
<line x1="2003" y1="973" x2="2001" y2="960" stroke="#f0f0f0" stroke-width="1.8" opacity="0.7"/>
<line x1="1952" y1="1207" x2="1958" y2="1225" stroke="#f0f0f0" stroke-width="1.8" opacity="0.7"/>
<line x1="1957" y1="985" x2="1951" y2="965" stroke="#fff" stroke-width="1.8" opacity="0.7"/>
<line x1="2037" y1="1361" x2="2041" y2="1383" stroke="#6a6a6a" stroke-width="1.8" opacity="0.7"/>
<line x1="2189" y1="1430" x2="2176" y2="1438" stroke="#3a3a3a" stroke-width="1.8" opacity="0.7"/>
<line x1="1947" y1="1000" x2="1943" y2="977" stroke="#f0f0f0" stroke-width="1.8" opacity="0.7"/>
<line x1="1878" y1="1424" x2="1880" y2="1434" stroke="#6a6a6a" stroke-width="1.8" opacity="0.7"/>
<line x1="2138" y1="1080" x2="2146" y2="1064" stroke="#3a3a3a" stroke-width="1.8" opacity="0.7"/>
<line x1="1906" y1="1320" x2="1917" y2="1345" stroke="#6a6a6a" stroke-width="1.8" opacity="0.7"/>
<line x1="2038" y1="1252" x2="2040" y2="1265" stroke="#6a6a6a" stroke-width="1.8" opacity="0.7"/>
<line x1="1925" y1="1229" x2="1924" y2="1242" stroke="#6a6a6a" stroke-width="1.8" opacity="0.7"/>
<line x1="1923" y1="1373" x2="1929" y2="1395" stroke="#f0f0f0" stroke-width="1.8" opacity="0.7"/>
<line x1="2064" y1="1301" x2="2064" y2="1316" stroke="#3a3a3a" stroke-width="1.8" opacity="0.7"/>
<line x1="1926" y1="1308" x2="1933" y2="1318" stroke="#fff" stroke-width="1.8" opacity="0.7"/>
<line x1="2186" y1="1381" x2="2171" y2="1392" stroke="#5a5a5a" stroke-width="1.8" opacity="0.7"/>
<line x1="1947" y1="998" x2="1928" y2="981" stroke="#5a5a5a" stroke-width="1.8" opacity="0.7"/>
<line x1="2044" y1="1203" x2="2042" y2="1217" stroke="#f0f0f0" stroke-width="1.8" opacity="0.7"/>
<line x1="2193" y1="1013" x2="2210" y2="1000" stroke="#3a3a3a" stroke-width="1.8" opacity="0.7"/>
<line x1="2186" y1="1505" x2="2171" y2="1520" stroke="#fff" stroke-width="1.8" opacity="0.7"/>
<line x1="1858" y1="1396" x2="1863" y2="1415" stroke="#3a3a3a" stroke-width="1.8" opacity="0.7"/>
<line x1="1936" y1="1036" x2="1924" y2="1029" stroke="#6a6a6a" stroke-width="1.8" opacity="0.7"/>
<line x1="2040" y1="1062" x2="2039" y2="1051" stroke="#6a6a6a" stroke-width="1.8" opacity="0.7"/>
<line x1="1977" y1="1359" x2="1979" y2="1371" stroke="#3a3a3a" stroke-width="1.8" opacity="0.7"/>
<line x1="1864" y1="1468" x2="1874" y2="1486" stroke="#6a6a6a" stroke-width="1.8" opacity="0.7"/>
<line x1="1881" y1="1395" x2="1883" y2="1405" stroke="#6a6a6a" stroke-width="1.8" opacity="0.7"/>
<line x1="2136" y1="1011" x2="2146" y2="998" stroke="#777" stroke-width="1.8" opacity="0.7"/>
<line x1="2061" y1="1076" x2="2065" y2="1067" stroke="#777" stroke-width="1.8" opacity="0.7"/>
<line x1="1961" y1="1141" x2="1944" y2="1125" stroke="#777" stroke-width="1.8" opacity="0.7"/>
<line x1="1906" y1="1285" x2="1909" y2="1296" stroke="#f0f0f0" stroke-width="1.8" opacity="0.7"/>
<line x1="2052" y1="1048" x2="2058" y2="1021" stroke="#3a3a3a" stroke-width="1.8" opacity="0.7"/>
<line x1="1861" y1="1463" x2="1868" y2="1472" stroke="#6a6a6a" stroke-width="1.8" opacity="0.7"/>
<line x1="1894" y1="1300" x2="1896" y2="1315" stroke="#fff" stroke-width="1.8" opacity="0.7"/>
<line x1="1879" y1="1088" x2="1868" y2="1079" stroke="#3a3a3a" stroke-width="1.8" opacity="0.7"/>
<line x1="2031" y1="1042" x2="2030" y2="1019" stroke="#4a4a4a" stroke-width="1.8" opacity="0.7"/>
<line x1="2125" y1="1338" x2="2119" y2="1351" stroke="#4a4a4a" stroke-width="1.8" opacity="0.7"/>
<line x1="1977" y1="1232" x2="1983" y2="1250" stroke="#fff" stroke-width="1.8" opacity="0.7"/>
<line x1="2158" y1="1488" x2="2141" y2="1501" stroke="#3a3a3a" stroke-width="1.8" opacity="0.7"/>
<line x1="1986" y1="1201" x2="1983" y2="1226" stroke="#6a6a6a" stroke-width="1.8" opacity="0.7"/>
<line x1="1832" y1="1212" x2="1853" y2="1228" stroke="#4a4a4a" stroke-width="1.8" opacity="0.7"/>
<line x1="2015" y1="1403" x2="2010" y2="1426" stroke="#5a5a5a" stroke-width="1.8" opacity="0.7"/>
<line x1="1879" y1="1040" x2="1866" y2="1018" stroke="#6a6a6a" stroke-width="1.8" opacity="0.7"/>
<line x1="1868" y1="1358" x2="1881" y2="1379" stroke="#777" stroke-width="1.8" opacity="0.7"/>
<line x1="2024" y1="1035" x2="2023" y2="1016" stroke="#3a3a3a" stroke-width="1.8" opacity="0.7"/>
<line x1="2087" y1="1466" x2="2079" y2="1484" stroke="#777" stroke-width="1.8" opacity="0.7"/>
<line x1="1964" y1="1255" x2="1975" y2="1272" stroke="#4a4a4a" stroke-width="1.8" opacity="0.7"/>
<line x1="2096" y1="1313" x2="2095" y2="1335" stroke="#6a6a6a" stroke-width="1.8" opacity="0.7"/>
<line x1="2014" y1="1359" x2="2008" y2="1375" stroke="#5a5a5a" stroke-width="1.8" opacity="0.7"/>
<line x1="1860" y1="1303" x2="1869" y2="1319" stroke="#777" stroke-width="1.8" opacity="0.7"/>
<line x1="1924" y1="1343" x2="1937" y2="1365" stroke="#6a6a6a" stroke-width="1.8" opacity="0.7"/>
<line x1="2131" y1="1509" x2="2128" y2="1523" stroke="#f0f0f0" stroke-width="1.8" opacity="0.7"/>
<line x1="2050" y1="1390" x2="2044" y2="1402" stroke="#4a4a4a" stroke-width="1.8" opacity="0.7"/>
<line x1="2048" y1="1452" x2="2053" y2="1479" stroke="#5a5a5a" stroke-width="1.8" opacity="0.7"/>
<line x1="1874" y1="984" x2="1861" y2="970" stroke="#5a5a5a" stroke-width="1.8" opacity="0.7"/>
<line x1="2169" y1="1397" x2="2163" y2="1418" stroke="#fff" stroke-width="1.8" opacity="0.7"/>
<line x1="1930" y1="1250" x2="1942" y2="1274" stroke="#5a5a5a" stroke-width="1.8" opacity="0.7"/>
<line x1="1923" y1="1278" x2="1930" y2="1287" stroke="#fff" stroke-width="1.8" opacity="0.7"/>
<line x1="2000" y1="1085" x2="2003" y2="1074" stroke="#5a5a5a" stroke-width="1.8" opacity="0.7"/>
<line x1="1962" y1="1259" x2="1976" y2="1280" stroke="#f0f0f0" stroke-width="1.8" opacity="0.7"/>
<line x1="2054" y1="1444" x2="2045" y2="1461" stroke="#777" stroke-width="1.8" opacity="0.7"/>
<line x1="1856" y1="1316" x2="1867" y2="1324" stroke="#6a6a6a" stroke-width="1.8" opacity="0.7"/>
<line x1="1839" y1="1099" x2="1820" y2="1094" stroke="#777" stroke-width="1.8" opacity="0.7"/>
<line x1="1901" y1="1286" x2="1909" y2="1295" stroke="#5a5a5a" stroke-width="1.8" opacity="0.7"/>
<line x1="1894" y1="1470" x2="1898" y2="1480" stroke="#3a3a3a" stroke-width="1.8" opacity="0.7"/>
<line x1="2187" y1="1312" x2="2180" y2="1332" stroke="#5a5a5a" stroke-width="1.8" opacity="0.7"/>
<line x1="1897" y1="1376" x2="1899" y2="1389" stroke="#fff" stroke-width="1.8" opacity="0.7"/>
<line x1="1877" y1="1206" x2="1884" y2="1219" stroke="#fff" stroke-width="1.8" opacity="0.7"/>
<line x1="2146" y1="1319" x2="2140" y2="1329" stroke="#4a4a4a" stroke-width="1.8" opacity="0.7"/>
<line x1="2023" y1="1001" x2="2030" y2="979" stroke="#3a3a3a" stroke-width="1.8" opacity="0.7"/>
<line x1="2203" y1="1188" x2="2195" y2="1196" stroke="#6a6a6a" stroke-width="1.8" opacity="0.7"/>
<line x1="2025" y1="1211" x2="2025" y2="1235" stroke="#777" stroke-width="1.8" opacity="0.7"/>
<line x1="1905" y1="1368" x2="1913" y2="1379" stroke="#6a6a6a" stroke-width="1.8" opacity="0.7"/>
<line x1="2008" y1="1316" x2="2012" y2="1330" stroke="#f0f0f0" stroke-width="1.8" opacity="0.7"/>
<line x1="1922" y1="1191" x2="1934" y2="1205" stroke="#5a5a5a" stroke-width="1.8" opacity="0.7"/>
<line x1="1866" y1="985" x2="1851" y2="979" stroke="#6a6a6a" stroke-width="1.8" opacity="0.7"/>
<line x1="1840" y1="1099" x2="1827" y2="1096" stroke="#f0f0f0" stroke-width="1.8" opacity="0.7"/>
<line x1="1884" y1="1467" x2="1892" y2="1474" stroke="#777" stroke-width="1.8" opacity="0.7"/>
<line x1="2018" y1="1420" x2="2015" y2="1430" stroke="#3a3a3a" stroke-width="1.8" opacity="0.7"/>
<line x1="2181" y1="1069" x2="2192" y2="1059" stroke="#777" stroke-width="1.8" opacity="0.7"/>
<line x1="1874" y1="1442" x2="1882" y2="1452" stroke="#f0f0f0" stroke-width="1.8" opacity="0.7"/>
<line x1="1953" y1="1132" x2="1934" y2="1118" stroke="#3a3a3a" stroke-width="1.8" opacity="0.7"/>
<line x1="2203" y1="1356" x2="2187" y2="1378" stroke="#777" stroke-width="1.8" opacity="0.7"/>
<line x1="2067" y1="1093" x2="2068" y2="1073" stroke="#6a6a6a" stroke-width="1.8" opacity="0.7"/>
<line x1="1931" y1="1067" x2="1921" y2="1050" stroke="#3a3a3a" stroke-width="1.8" opacity="0.7"/>
<line x1="2199" y1="1301" x2="2187" y2="1325" stroke="#f0f0f0" stroke-width="1.8" opacity="0.7"/>
<line x1="2085" y1="1132" x2="2109" y2="1117" stroke="#fff" stroke-width="1.8" opacity="0.7"/>
<line x1="1938" y1="1387" x2="1944" y2="1405" stroke="#fff" stroke-width="1.8" opacity="0.7"/>
<line x1="2142" y1="1183" x2="2138" y2="1199" stroke="#5a5a5a" stroke-width="1.8" opacity="0.7"/>
<line x1="2103" y1="1395" x2="2094" y2="1410" stroke="#f0f0f0" stroke-width="1.8" opacity="0.7"/>
<line x1="2007" y1="1003" x2="2001" y2="980" stroke="#5a5a5a" stroke-width="1.8" opacity="0.7"/>
<line x1="2164" y1="1190" x2="2152" y2="1204" stroke="#f0f0f0" stroke-width="1.8" opacity="0.7"/>
<line x1="2037" y1="1372" x2="2030" y2="1385" stroke="#f0f0f0" stroke-width="1.8" opacity="0.7"/>
<line x1="2027" y1="1400" x2="2020" y2="1414" stroke="#777" stroke-width="1.8" opacity="0.7"/>
<line x1="2161" y1="1040" x2="2187" y2="1032" stroke="#5a5a5a" stroke-width="1.8" opacity="0.7"/>
<line x1="2014" y1="1211" x2="2013" y2="1233" stroke="#5a5a5a" stroke-width="1.8" opacity="0.7"/>
<line x1="2135" y1="1393" x2="2133" y2="1413" stroke="#fff" stroke-width="1.8" opacity="0.7"/>
<line x1="1943" y1="1053" x2="1931" y2="1045" stroke="#5a5a5a" stroke-width="1.8" opacity="0.7"/>
<line x1="2096" y1="1150" x2="2116" y2="1135" stroke="#3a3a3a" stroke-width="1.8" opacity="0.7"/>
<line x1="1871" y1="1206" x2="1876" y2="1220" stroke="#3a3a3a" stroke-width="1.8" opacity="0.7"/>
<line x1="2161" y1="1075" x2="2173" y2="1065" stroke="#6a6a6a" stroke-width="1.8" opacity="0.7"/>
<line x1="2091" y1="1285" x2="2089" y2="1313" stroke="#5a5a5a" stroke-width="1.8" opacity="0.7"/>
<line x1="2104" y1="1368" x2="2099" y2="1386" stroke="#3a3a3a" stroke-width="1.8" opacity="0.7"/>
<line x1="2172" y1="1047" x2="2186" y2="1025" stroke="#3a3a3a" stroke-width="1.8" opacity="0.7"/>
<line x1="2029" y1="1152" x2="2026" y2="1169" stroke="#4a4a4a" stroke-width="1.8" opacity="0.7"/>
<line x1="1993" y1="1013" x2="1986" y2="990" stroke="#4a4a4a" stroke-width="1.8" opacity="0.7"/>
<line x1="2017" y1="1192" x2="2022" y2="1205" stroke="#f0f0f0" stroke-width="1.8" opacity="0.7"/>
<line x1="2127" y1="1407" x2="2116" y2="1422" stroke="#f0f0f0" stroke-width="1.8" opacity="0.7"/>
<line x1="1861" y1="1270" x2="1876" y2="1288" stroke="#5a5a5a" stroke-width="1.8" opacity="0.7"/>
<line x1="2100" y1="1254" x2="2098" y2="1271" stroke="#fff" stroke-width="1.8" opacity="0.7"/>
<line x1="2001" y1="990" x2="2000" y2="965" stroke="#5a5a5a" stroke-width="1.8" opacity="0.7"/>
<line x1="2140" y1="1269" x2="2131" y2="1276" stroke="#777" stroke-width="1.8" opacity="0.7"/>
<line x1="2087" y1="1223" x2="2079" y2="1244" stroke="#fff" stroke-width="1.8" opacity="0.7"/>
<line x1="1927" y1="1176" x2="1927" y2="1197" stroke="#fff" stroke-width="1.8" opacity="0.7"/>
<line x1="2152" y1="1450" x2="2148" y2="1471" stroke="#fff" stroke-width="1.8" opacity="0.7"/>
<line x1="1962" y1="1109" x2="1957" y2="1099" stroke="#777" stroke-width="1.8" opacity="0.7"/>
<line x1="1863" y1="1170" x2="1877" y2="1190" stroke="#4a4a4a" stroke-width="1.8" opacity="0.7"/>
<line x1="2175" y1="1050" x2="2189" y2="1046" stroke="#5a5a5a" stroke-width="1.8" opacity="0.7"/>
<line x1="2053" y1="1324" x2="2052" y2="1352" stroke="#6a6a6a" stroke-width="1.8" opacity="0.7"/>
<line x1="2186" y1="1271" x2="2176" y2="1279" stroke="#777" stroke-width="1.8" opacity="0.7"/>
<line x1="2062" y1="1180" x2="2062" y2="1195" stroke="#fff" stroke-width="1.8" opacity="0.7"/>
<line x1="1950" y1="1236" x2="1957" y2="1263" stroke="#777" stroke-width="1.8" opacity="0.7"/>
<line x1="2079" y1="1370" x2="2076" y2="1380" stroke="#777" stroke-width="1.8" opacity="0.7"/>
<line x1="2131" y1="1418" x2="2129" y2="1441" stroke="#3a3a3a" stroke-width="1.8" opacity="0.7"/>
<line x1="1908" y1="1012" x2="1885" y2="998" stroke="#fff" stroke-width="1.8" opacity="0.7"/>
<line x1="2172" y1="1044" x2="2188" y2="1023" stroke="#3a3a3a" stroke-width="1.8" opacity="0.7"/>
<line x1="2108" y1="1214" x2="2097" y2="1230" stroke="#5a5a5a" stroke-width="1.8" opacity="0.7"/>
<line x1="1856" y1="1272" x2="1875" y2="1285" stroke="#777" stroke-width="1.8" opacity="0.7"/>
<line x1="2124" y1="1349" x2="2111" y2="1373" stroke="#777" stroke-width="1.8" opacity="0.7"/>
<line x1="1839" y1="1091" x2="1820" y2="1077" stroke="#5a5a5a" stroke-width="1.8" opacity="0.7"/>
<line x1="2008" y1="1474" x2="2014" y2="1496" stroke="#f0f0f0" stroke-width="1.8" opacity="0.7"/>
<line x1="2163" y1="1208" x2="2160" y2="1220" stroke="#3a3a3a" stroke-width="1.8" opacity="0.7"/>
<line x1="1947" y1="1134" x2="1927" y2="1124" stroke="#f0f0f0" stroke-width="1.8" opacity="0.7"/>
<line x1="2152" y1="993" x2="2171" y2="978" stroke="#f0f0f0" stroke-width="1.8" opacity="0.7"/>
<line x1="1977" y1="1398" x2="1971" y2="1423" stroke="#777" stroke-width="1.8" opacity="0.7"/>
<line x1="2006" y1="1402" x2="2005" y2="1413" stroke="#f0f0f0" stroke-width="1.8" opacity="0.7"/>
<line x1="1954" y1="1498" x2="1955" y2="1512" stroke="#4a4a4a" stroke-width="1.8" opacity="0.7"/>
<line x1="2148" y1="1379" x2="2143" y2="1400" stroke="#777" stroke-width="1.8" opacity="0.7"/>
<line x1="2188" y1="1228" x2="2175" y2="1245" stroke="#3a3a3a" stroke-width="1.8" opacity="0.7"/>
<line x1="1871" y1="1348" x2="1875" y2="1366" stroke="#6a6a6a" stroke-width="1.8" opacity="0.7"/>
<line x1="2129" y1="1470" x2="2118" y2="1488" stroke="#f0f0f0" stroke-width="1.8" opacity="0.7"/>
<line x1="2163" y1="980" x2="2185" y2="965" stroke="#5a5a5a" stroke-width="1.8" opacity="0.7"/>
<line x1="1977" y1="1323" x2="1978" y2="1342" stroke="#f0f0f0" stroke-width="1.8" opacity="0.7"/>
<line x1="2130" y1="989" x2="2134" y2="976" stroke="#f0f0f0" stroke-width="1.8" opacity="0.7"/>
<line x1="1886" y1="1156" x2="1901" y2="1171" stroke="#3a3a3a" stroke-width="1.8" opacity="0.7"/>
<line x1="2151" y1="1099" x2="2167" y2="1095" stroke="#f0f0f0" stroke-width="1.8" opacity="0.7"/>
<line x1="1988" y1="1317" x2="1988" y2="1340" stroke="#5a5a5a" stroke-width="1.8" opacity="0.7"/>
<line x1="2036" y1="1343" x2="2033" y2="1368" stroke="#fff" stroke-width="1.8" opacity="0.7"/>
<line x1="1973" y1="1207" x2="1983" y2="1230" stroke="#777" stroke-width="1.8" opacity="0.7"/>
<line x1="2159" y1="1491" x2="2149" y2="1512" stroke="#777" stroke-width="1.8" opacity="0.7"/>
<line x1="2105" y1="1274" x2="2090" y2="1295" stroke="#f0f0f0" stroke-width="1.8" opacity="0.7"/>
<line x1="1893" y1="1277" x2="1900" y2="1300" stroke="#4a4a4a" stroke-width="1.8" opacity="0.7"/>
<line x1="2124" y1="985" x2="2141" y2="964" stroke="#5a5a5a" stroke-width="1.8" opacity="0.7"/>
<line x1="1996" y1="1491" x2="1992" y2="1510" stroke="#4a4a4a" stroke-width="1.8" opacity="0.7"/>
<line x1="1998" y1="1217" x2="2008" y2="1238" stroke="#6a6a6a" stroke-width="1.8" opacity="0.7"/>
<line x1="2197" y1="1258" x2="2187" y2="1278" stroke="#777" stroke-width="1.8" opacity="0.7"/>
<line x1="2163" y1="1421" x2="2155" y2="1433" stroke="#3a3a3a" stroke-width="1.8" opacity="0.7"/>
<line x1="1843" y1="1238" x2="1854" y2="1253" stroke="#f0f0f0" stroke-width="1.8" opacity="0.7"/>
<line x1="2028" y1="1317" x2="2029" y2="1330" stroke="#777" stroke-width="1.8" opacity="0.7"/>
<line x1="2103" y1="1076" x2="2114" y2="1060" stroke="#5a5a5a" stroke-width="1.8" opacity="0.7"/>
<line x1="1825" y1="1257" x2="1834" y2="1269" stroke="#6a6a6a" stroke-width="1.8" opacity="0.7"/>
<line x1="1948" y1="1280" x2="1952" y2="1307" stroke="#6a6a6a" stroke-width="1.8" opacity="0.7"/>
<line x1="1832" y1="1267" x2="1844" y2="1286" stroke="#4a4a4a" stroke-width="1.8" opacity="0.7"/>
<line x1="1955" y1="1198" x2="1967" y2="1215" stroke="#6a6a6a" stroke-width="1.8" opacity="0.7"/>
<line x1="2057" y1="1246" x2="2059" y2="1264" stroke="#f0f0f0" stroke-width="1.8" opacity="0.7"/>
<line x1="1944" y1="1073" x2="1941" y2="1047" stroke="#5a5a5a" stroke-width="1.8" opacity="0.7"/>
<line x1="2050" y1="1196" x2="2044" y2="1208" stroke="#f0f0f0" stroke-width="1.8" opacity="0.7"/>
<line x1="2082" y1="1164" x2="2078" y2="1187" stroke="#777" stroke-width="1.8" opacity="0.7"/>
<line x1="2028" y1="1187" x2="2030" y2="1204" stroke="#3a3a3a" stroke-width="1.8" opacity="0.7"/>
<line x1="2097" y1="1330" x2="2092" y2="1344" stroke="#fff" stroke-width="1.8" opacity="0.7"/>
<line x1="1863" y1="1268" x2="1877" y2="1280" stroke="#f0f0f0" stroke-width="1.8" opacity="0.7"/>
<line x1="2153" y1="1316" x2="2141" y2="1329" stroke="#6a6a6a" stroke-width="1.8" opacity="0.7"/>
<line x1="2123" y1="1017" x2="2127" y2="996" stroke="#3a3a3a" stroke-width="1.8" opacity="0.7"/>
<line x1="2160" y1="1005" x2="2173" y2="1000" stroke="#4a4a4a" stroke-width="1.8" opacity="0.7"/>
<line x1="2082" y1="1207" x2="2084" y2="1231" stroke="#5a5a5a" stroke-width="1.8" opacity="0.7"/>
<line x1="2029" y1="1246" x2="2023" y2="1268" stroke="#fff" stroke-width="1.8" opacity="0.7"/>
<line x1="2043" y1="1242" x2="2045" y2="1261" stroke="#3a3a3a" stroke-width="1.8" opacity="0.7"/>
<line x1="1997" y1="1338" x2="1992" y2="1352" stroke="#6a6a6a" stroke-width="1.8" opacity="0.7"/>
<line x1="2198" y1="1241" x2="2184" y2="1262" stroke="#777" stroke-width="1.8" opacity="0.7"/>
<line x1="1963" y1="1155" x2="1960" y2="1173" stroke="#777" stroke-width="1.8" opacity="0.7"/>
<line x1="1842" y1="1323" x2="1852" y2="1341" stroke="#3a3a3a" stroke-width="1.8" opacity="0.7"/>
<line x1="2027" y1="1146" x2="2038" y2="1132" stroke="#f0f0f0" stroke-width="1.8" opacity="0.7"/>
<line x1="2115" y1="1426" x2="2111" y2="1439" stroke="#5a5a5a" stroke-width="1.8" opacity="0.7"/>
<line x1="1924" y1="1166" x2="1930" y2="1180" stroke="#6a6a6a" stroke-width="1.8" opacity="0.7"/>
<line x1="2159" y1="997" x2="2166" y2="987" stroke="#777" stroke-width="1.8" opacity="0.7"/>
<line x1="1880" y1="1037" x2="1859" y2="1030" stroke="#3a3a3a" stroke-width="1.8" opacity="0.7"/>
<line x1="1970" y1="1417" x2="1979" y2="1437" stroke="#777" stroke-width="1.8" opacity="0.7"/>
<line x1="1940" y1="1265" x2="1950" y2="1280" stroke="#4a4a4a" stroke-width="1.8" opacity="0.7"/>
<line x1="2193" y1="1289" x2="2171" y2="1302" stroke="#6a6a6a" stroke-width="1.8" opacity="0.7"/>
<line x1="1836" y1="1115" x2="1820" y2="1107" stroke="#5a5a5a" stroke-width="1.8" opacity="0.7"/>
<line x1="2155" y1="1006" x2="2170" y2="989" stroke="#f0f0f0" stroke-width="1.8" opacity="0.7"/>
<line x1="1837" y1="1383" x2="1847" y2="1390" stroke="#fff" stroke-width="1.8" opacity="0.7"/>
<line x1="2021" y1="1031" x2="2033" y2="1008" stroke="#4a4a4a" stroke-width="1.8" opacity="0.7"/>
<line x1="1916" y1="1263" x2="1917" y2="1290" stroke="#6a6a6a" stroke-width="1.8" opacity="0.7"/>
<line x1="1986" y1="1025" x2="1987" y2="1011" stroke="#fff" stroke-width="1.8" opacity="0.7"/>
<line x1="1931" y1="1077" x2="1918" y2="1068" stroke="#6a6a6a" stroke-width="1.8" opacity="0.7"/>
<line x1="1927" y1="1034" x2="1914" y2="1014" stroke="#5a5a5a" stroke-width="1.8" opacity="0.7"/>
<line x1="1937" y1="1250" x2="1939" y2="1260" stroke="#777" stroke-width="1.8" opacity="0.7"/>
<line x1="1998" y1="1042" x2="1997" y2="1029" stroke="#5a5a5a" stroke-width="1.8" opacity="0.7"/>
<line x1="1832" y1="1028" x2="1810" y2="1020" stroke="#fff" stroke-width="1.8" opacity="0.7"/>
<line x1="1851" y1="1301" x2="1872" y2="1316" stroke="#fff" stroke-width="1.8" opacity="0.7"/>
<line x1="2027" y1="1397" x2="2020" y2="1417" stroke="#fff" stroke-width="1.8" opacity="0.7"/>
<line x1="2101" y1="1337" x2="2097" y2="1362" stroke="#fff" stroke-width="1.8" opacity="0.7"/>
<line x1="1951" y1="1136" x2="1930" y2="1124" stroke="#fff" stroke-width="1.8" opacity="0.7"/>
<line x1="1895" y1="1296" x2="1897" y2="1309" stroke="#fff" stroke-width="1.8" opacity="0.7"/>
<line x1="2054" y1="1446" x2="2051" y2="1463" stroke="#777" stroke-width="1.8" opacity="0.7"/>
<line x1="2116" y1="1235" x2="2102" y2="1256" stroke="#5a5a5a" stroke-width="1.8" opacity="0.7"/>
<line x1="2117" y1="1245" x2="2111" y2="1272" stroke="#fff" stroke-width="1.8" opacity="0.7"/>
<line x1="2081" y1="1055" x2="2089" y2="1049" stroke="#6a6a6a" stroke-width="1.8" opacity="0.7"/>
<line x1="1933" y1="1458" x2="1933" y2="1473" stroke="#777" stroke-width="1.8" opacity="0.7"/>
<line x1="2155" y1="1152" x2="2151" y2="1174" stroke="#f0f0f0" stroke-width="1.8" opacity="0.7"/>
<line x1="1963" y1="1217" x2="1967" y2="1231" stroke="#3a3a3a" stroke-width="1.8" opacity="0.7"/>
<line x1="1925" y1="1335" x2="1934" y2="1354" stroke="#5a5a5a" stroke-width="1.8" opacity="0.7"/>
<line x1="1945" y1="1117" x2="1936" y2="1105" stroke="#fff" stroke-width="1.8" opacity="0.7"/>
<line x1="1837" y1="1230" x2="1856" y2="1245" stroke="#4a4a4a" stroke-width="1.8" opacity="0.7"/>
<line x1="2087" y1="1112" x2="2100" y2="1102" stroke="#777" stroke-width="1.8" opacity="0.7"/>
<line x1="1871" y1="1254" x2="1879" y2="1262" stroke="#777" stroke-width="1.8" opacity="0.7"/>
<line x1="2042" y1="1276" x2="2039" y2="1302" stroke="#777" stroke-width="1.8" opacity="0.7"/>
<line x1="1980" y1="1189" x2="1981" y2="1209" stroke="#f0f0f0" stroke-width="1.8" opacity="0.7"/>
<line x1="2128" y1="1200" x2="2127" y2="1210" stroke="#fff" stroke-width="1.8" opacity="0.7"/>
<line x1="1828" y1="1359" x2="1842" y2="1383" stroke="#f0f0f0" stroke-width="1.8" opacity="0.7"/>
<line x1="2098" y1="1380" x2="2089" y2="1394" stroke="#f0f0f0" stroke-width="1.8" opacity="0.7"/>
<line x1="2188" y1="1274" x2="2175" y2="1286" stroke="#777" stroke-width="1.8" opacity="0.7"/>
<line x1="1907" y1="1405" x2="1918" y2="1430" stroke="#3a3a3a" stroke-width="1.8" opacity="0.7"/>
<line x1="2107" y1="1277" x2="2107" y2="1298" stroke="#777" stroke-width="1.8" opacity="0.7"/>
<line x1="1925" y1="1321" x2="1929" y2="1333" stroke="#4a4a4a" stroke-width="1.8" opacity="0.7"/>
<line x1="2085" y1="1410" x2="2076" y2="1423" stroke="#4a4a4a" stroke-width="1.8" opacity="0.7"/>
<line x1="2048" y1="1307" x2="2050" y2="1323" stroke="#f0f0f0" stroke-width="1.8" opacity="0.7"/>
<line x1="2007" y1="1211" x2="2006" y2="1224" stroke="#3a3a3a" stroke-width="1.8" opacity="0.7"/>
<line x1="1955" y1="1300" x2="1951" y2="1328" stroke="#fff" stroke-width="1.8" opacity="0.7"/>
<line x1="2120" y1="1139" x2="2133" y2="1125" stroke="#6a6a6a" stroke-width="1.8" opacity="0.7"/>
<line x1="1908" y1="1052" x2="1900" y2="1033" stroke="#fff" stroke-width="1.8" opacity="0.7"/>
<line x1="2045" y1="1375" x2="2037" y2="1398" stroke="#777" stroke-width="1.8" opacity="0.7"/>
<line x1="1989" y1="1393" x2="1991" y2="1405" stroke="#3a3a3a" stroke-width="1.8" opacity="0.7"/>
<line x1="2054" y1="1192" x2="2048" y2="1202" stroke="#fff" stroke-width="1.8" opacity="0.7"/>
<line x1="1841" y1="1502" x2="1848" y2="1517" stroke="#4a4a4a" stroke-width="1.8" opacity="0.7"/>
<line x1="1883" y1="1167" x2="1892" y2="1191" stroke="#777" stroke-width="1.8" opacity="0.7"/>
<line x1="2098" y1="1506" x2="2090" y2="1520" stroke="#777" stroke-width="1.8" opacity="0.7"/>
<line x1="2123" y1="1494" x2="2114" y2="1504" stroke="#5a5a5a" stroke-width="1.8" opacity="0.7"/>
<line x1="2170" y1="1214" x2="2161" y2="1227" stroke="#fff" stroke-width="1.8" opacity="0.7"/>
<line x1="1910" y1="1405" x2="1921" y2="1430" stroke="#777" stroke-width="1.8" opacity="0.7"/>
<line x1="2099" y1="1353" x2="2094" y2="1363" stroke="#fff" stroke-width="1.8" opacity="0.7"/>
<line x1="1875" y1="1202" x2="1882" y2="1214" stroke="#3a3a3a" stroke-width="1.8" opacity="0.7"/>
<line x1="2118" y1="1232" x2="2108" y2="1253" stroke="#4a4a4a" stroke-width="1.8" opacity="0.7"/>
<line x1="2171" y1="1025" x2="2185" y2="1018" stroke="#777" stroke-width="1.8" opacity="0.7"/>
<line x1="1958" y1="1166" x2="1961" y2="1181" stroke="#4a4a4a" stroke-width="1.8" opacity="0.7"/>
<line x1="2165" y1="1388" x2="2160" y2="1414" stroke="#3a3a3a" stroke-width="1.8" opacity="0.7"/>
<line x1="2086" y1="1464" x2="2086" y2="1489" stroke="#3a3a3a" stroke-width="1.8" opacity="0.7"/>
<line x1="2133" y1="1472" x2="2118" y2="1496" stroke="#777" stroke-width="1.8" opacity="0.7"/>
<line x1="1850" y1="1225" x2="1862" y2="1241" stroke="#3a3a3a" stroke-width="1.8" opacity="0.7"/>
<line x1="1834" y1="1212" x2="1842" y2="1220" stroke="#5a5a5a" stroke-width="1.8" opacity="0.7"/>
<line x1="2182" y1="1439" x2="2173" y2="1454" stroke="#f0f0f0" stroke-width="1.8" opacity="0.7"/>
<line x1="2170" y1="1484" x2="2162" y2="1493" stroke="#6a6a6a" stroke-width="1.8" opacity="0.7"/>
<line x1="1889" y1="1369" x2="1905" y2="1384" stroke="#5a5a5a" stroke-width="1.8" opacity="0.7"/>
<line x1="1870" y1="1111" x2="1850" y2="1100" stroke="#3a3a3a" stroke-width="1.8" opacity="0.7"/>
<line x1="1843" y1="1122" x2="1820" y2="1117" stroke="#f0f0f0" stroke-width="1.8" opacity="0.7"/>
<line x1="1930" y1="1003" x2="1910" y2="984" stroke="#777" stroke-width="1.8" opacity="0.7"/>
<line x1="1947" y1="1081" x2="1943" y2="1072" stroke="#777" stroke-width="1.8" opacity="0.7"/>
<line x1="2046" y1="1436" x2="2042" y2="1447" stroke="#fff" stroke-width="1.8" opacity="0.7"/>
<line x1="2105" y1="1202" x2="2103" y2="1215" stroke="#fff" stroke-width="1.8" opacity="0.7"/>
<line x1="2069" y1="1123" x2="2083" y2="1106" stroke="#5a5a5a" stroke-width="1.8" opacity="0.7"/>
<line x1="2025" y1="1328" x2="2018" y2="1350" stroke="#3a3a3a" stroke-width="1.8" opacity="0.7"/>
<line x1="2003" y1="1484" x2="1998" y2="1498" stroke="#777" stroke-width="1.8" opacity="0.7"/>
<line x1="2193" y1="1244" x2="2172" y2="1259" stroke="#f0f0f0" stroke-width="1.8" opacity="0.7"/>
<line x1="2093" y1="1254" x2="2093" y2="1280" stroke="#f0f0f0" stroke-width="1.8" opacity="0.7"/>
<line x1="2100" y1="1278" x2="2097" y2="1294" stroke="#3a3a3a" stroke-width="1.8" opacity="0.7"/>
<line x1="1839" y1="1115" x2="1825" y2="1107" stroke="#4a4a4a" stroke-width="1.8" opacity="0.7"/>
<line x1="1875" y1="1484" x2="1887" y2="1497" stroke="#5a5a5a" stroke-width="1.8" opacity="0.7"/>
<line x1="1954" y1="998" x2="1953" y2="984" stroke="#4a4a4a" stroke-width="1.8" opacity="0.7"/>
<line x1="2064" y1="1488" x2="2059" y2="1507" stroke="#fff" stroke-width="1.8" opacity="0.7"/>
<line x1="1827" y1="1273" x2="1831" y2="1282" stroke="#4a4a4a" stroke-width="1.8" opacity="0.7"/>
<line x1="1840" y1="1416" x2="1848" y2="1427" stroke="#5a5a5a" stroke-width="1.8" opacity="0.7"/>
<line x1="1874" y1="1510" x2="1884" y2="1520" stroke="#4a4a4a" stroke-width="1.8" opacity="0.7"/>
<line x1="1848" y1="991" x2="1836" y2="987" stroke="#4a4a4a" stroke-width="1.8" opacity="0.7"/>
<line x1="1940" y1="1354" x2="1945" y2="1368" stroke="#3a3a3a" stroke-width="1.8" opacity="0.7"/>
<line x1="2123" y1="1068" x2="2131" y2="1060" stroke="#6a6a6a" stroke-width="1.8" opacity="0.7"/>
<line x1="2158" y1="1430" x2="2150" y2="1443" stroke="#f0f0f0" stroke-width="1.8" opacity="0.7"/>
<line x1="2014" y1="1314" x2="2006" y2="1340" stroke="#fff" stroke-width="1.8" opacity="0.7"/>
<line x1="2133" y1="1339" x2="2130" y2="1352" stroke="#f0f0f0" stroke-width="1.8" opacity="0.7"/>
<line x1="1859" y1="1262" x2="1868" y2="1272" stroke="#fff" stroke-width="1.8" opacity="0.7"/>
<line x1="2175" y1="1072" x2="2189" y2="1069" stroke="#f0f0f0" stroke-width="1.8" opacity="0.7"/>
<line x1="1952" y1="1153" x2="1957" y2="1172" stroke="#4a4a4a" stroke-width="1.8" opacity="0.7"/>
<line x1="2080" y1="1060" x2="2087" y2="1037" stroke="#4a4a4a" stroke-width="1.8" opacity="0.7"/>
<line x1="2088" y1="1475" x2="2074" y2="1498" stroke="#4a4a4a" stroke-width="1.8" opacity="0.7"/>
<line x1="2197" y1="1211" x2="2192" y2="1224" stroke="#3a3a3a" stroke-width="1.8" opacity="0.7"/>
<line x1="2002" y1="1358" x2="2008" y2="1372" stroke="#fff" stroke-width="1.8" opacity="0.7"/>
<line x1="2123" y1="1290" x2="2117" y2="1309" stroke="#4a4a4a" stroke-width="1.8" opacity="0.7"/>
<line x1="2166" y1="1374" x2="2156" y2="1399" stroke="#f0f0f0" stroke-width="1.8" opacity="0.7"/>
<line x1="1862" y1="1008" x2="1853" y2="990" stroke="#3a3a3a" stroke-width="1.8" opacity="0.7"/>
<line x1="1957" y1="1026" x2="1958" y2="1016" stroke="#4a4a4a" stroke-width="1.8" opacity="0.7"/>
<line x1="1827" y1="1254" x2="1850" y2="1270" stroke="#777" stroke-width="1.8" opacity="0.7"/>
<line x1="2164" y1="1028" x2="2175" y2="1004" stroke="#f0f0f0" stroke-width="1.8" opacity="0.7"/>
<line x1="1990" y1="1391" x2="1993" y2="1410" stroke="#5a5a5a" stroke-width="1.8" opacity="0.7"/>
<line x1="1927" y1="1471" x2="1943" y2="1492" stroke="#3a3a3a" stroke-width="1.8" opacity="0.7"/>
<line x1="2058" y1="1130" x2="2079" y2="1117" stroke="#4a4a4a" stroke-width="1.8" opacity="0.7"/>
<line x1="1842" y1="1491" x2="1850" y2="1506" stroke="#3a3a3a" stroke-width="1.8" opacity="0.7"/>
<line x1="2038" y1="1238" x2="2035" y2="1256" stroke="#4a4a4a" stroke-width="1.8" opacity="0.7"/>
<line x1="1964" y1="1502" x2="1973" y2="1520" stroke="#777" stroke-width="1.8" opacity="0.7"/>
<line x1="2107" y1="1058" x2="2118" y2="1040" stroke="#5a5a5a" stroke-width="1.8" opacity="0.7"/>
<line x1="2003" y1="1257" x2="1995" y2="1282" stroke="#6a6a6a" stroke-width="1.8" opacity="0.7"/>
<line x1="2118" y1="1435" x2="2109" y2="1454" stroke="#4a4a4a" stroke-width="1.8" opacity="0.7"/>
<line x1="1874" y1="1136" x2="1867" y2="1129" stroke="#fff" stroke-width="1.8" opacity="0.7"/>
<line x1="2150" y1="1115" x2="2162" y2="1102" stroke="#4a4a4a" stroke-width="1.8" opacity="0.7"/>
<line x1="2200" y1="1337" x2="2193" y2="1353" stroke="#3a3a3a" stroke-width="1.8" opacity="0.7"/>
<line x1="2004" y1="1251" x2="2002" y2="1271" stroke="#fff" stroke-width="1.8" opacity="0.7"/>
<line x1="2188" y1="1309" x2="2178" y2="1320" stroke="#5a5a5a" stroke-width="1.8" opacity="0.7"/>
<line x1="2147" y1="1491" x2="2141" y2="1513" stroke="#3a3a3a" stroke-width="1.8" opacity="0.7"/>
<line x1="2202" y1="1268" x2="2189" y2="1292" stroke="#fff" stroke-width="1.8" opacity="0.7"/>
<line x1="1845" y1="1040" x2="1829" y2="1031" stroke="#777" stroke-width="1.8" opacity="0.7"/>
<line x1="1905" y1="1392" x2="1915" y2="1405" stroke="#777" stroke-width="1.8" opacity="0.7"/>
<line x1="1888" y1="1195" x2="1903" y2="1208" stroke="#3a3a3a" stroke-width="1.8" opacity="0.7"/>
<line x1="1988" y1="1095" x2="1987" y2="1083" stroke="#5a5a5a" stroke-width="1.8" opacity="0.7"/>
<line x1="1924" y1="1047" x2="1912" y2="1034" stroke="#6a6a6a" stroke-width="1.8" opacity="0.7"/>
<line x1="2088" y1="1160" x2="2090" y2="1184" stroke="#5a5a5a" stroke-width="1.8" opacity="0.7"/>
<line x1="2025" y1="1114" x2="2019" y2="1092" stroke="#4a4a4a" stroke-width="1.8" opacity="0.7"/>
<line x1="1851" y1="1421" x2="1864" y2="1430" stroke="#f0f0f0" stroke-width="1.8" opacity="0.7"/>
<line x1="1948" y1="1489" x2="1952" y2="1511" stroke="#6a6a6a" stroke-width="1.8" opacity="0.7"/>
<line x1="2089" y1="1503" x2="2090" y2="1513" stroke="#4a4a4a" stroke-width="1.8" opacity="0.7"/>
<line x1="2070" y1="979" x2="2086" y2="961" stroke="#fff" stroke-width="1.8" opacity="0.7"/>
<line x1="2082" y1="986" x2="2093" y2="975" stroke="#5a5a5a" stroke-width="1.8" opacity="0.7"/>
<line x1="2035" y1="1330" x2="2029" y2="1358" stroke="#fff" stroke-width="1.8" opacity="0.7"/>
<line x1="1882" y1="1415" x2="1890" y2="1435" stroke="#3a3a3a" stroke-width="1.8" opacity="0.7"/>
<line x1="2140" y1="1357" x2="2137" y2="1385" stroke="#3a3a3a" stroke-width="1.8" opacity="0.7"/>
<line x1="2101" y1="1435" x2="2100" y2="1449" stroke="#3a3a3a" stroke-width="1.8" opacity="0.7"/>
<line x1="2200" y1="1005" x2="2207" y2="996" stroke="#f0f0f0" stroke-width="1.8" opacity="0.7"/>
<line x1="2159" y1="1510" x2="2152" y2="1531" stroke="#4a4a4a" stroke-width="1.8" opacity="0.7"/>
<line x1="1867" y1="984" x2="1857" y2="980" stroke="#5a5a5a" stroke-width="1.8" opacity="0.7"/>
<line x1="1908" y1="1403" x2="1912" y2="1414" stroke="#3a3a3a" stroke-width="1.8" opacity="0.7"/>
<line x1="1832" y1="1248" x2="1841" y2="1257" stroke="#5a5a5a" stroke-width="1.8" opacity="0.7"/>
<line x1="2155" y1="1043" x2="2161" y2="1034" stroke="#fff" stroke-width="1.8" opacity="0.7"/>
<line x1="2166" y1="1157" x2="2156" y2="1171" stroke="#6a6a6a" stroke-width="1.8" opacity="0.7"/>
<line x1="2104" y1="1426" x2="2097" y2="1450" stroke="#fff" stroke-width="1.8" opacity="0.7"/>
<line x1="1892" y1="1346" x2="1897" y2="1372" stroke="#4a4a4a" stroke-width="1.8" opacity="0.7"/>
<line x1="2023" y1="1252" x2="2017" y2="1277" stroke="#4a4a4a" stroke-width="1.8" opacity="0.7"/>
<line x1="2159" y1="1114" x2="2175" y2="1113" stroke="#6a6a6a" stroke-width="1.8" opacity="0.7"/>
<line x1="2109" y1="1510" x2="2100" y2="1523" stroke="#3a3a3a" stroke-width="1.8" opacity="0.7"/>
<line x1="1977" y1="1271" x2="1976" y2="1288" stroke="#6a6a6a" stroke-width="1.8" opacity="0.7"/>
<line x1="2070" y1="1011" x2="2071" y2="993" stroke="#4a4a4a" stroke-width="1.8" opacity="0.7"/>
<line x1="1842" y1="1380" x2="1851" y2="1403" stroke="#5a5a5a" stroke-width="1.8" opacity="0.7"/>
<line x1="1982" y1="1067" x2="1984" y2="1050" stroke="#3a3a3a" stroke-width="1.8" opacity="0.7"/>
<line x1="2131" y1="983" x2="2135" y2="963" stroke="#6a6a6a" stroke-width="1.8" opacity="0.7"/>
<line x1="2011" y1="1482" x2="2015" y2="1496" stroke="#4a4a4a" stroke-width="1.8" opacity="0.7"/>
<line x1="1999" y1="1224" x2="2003" y2="1237" stroke="#5a5a5a" stroke-width="1.8" opacity="0.7"/>
<line x1="1841" y1="1362" x2="1849" y2="1372" stroke="#fff" stroke-width="1.8" opacity="0.7"/>
<line x1="2171" y1="1207" x2="2163" y2="1233" stroke="#3a3a3a" stroke-width="1.8" opacity="0.7"/>
<line x1="1973" y1="1137" x2="1961" y2="1125" stroke="#5a5a5a" stroke-width="1.8" opacity="0.7"/>
<line x1="1998" y1="1350" x2="1997" y2="1361" stroke="#5a5a5a" stroke-width="1.8" opacity="0.7"/>
<line x1="1891" y1="1407" x2="1894" y2="1426" stroke="#3a3a3a" stroke-width="1.8" opacity="0.7"/>
<line x1="2031" y1="1317" x2="2027" y2="1333" stroke="#fff" stroke-width="1.8" opacity="0.7"/>
<line x1="2057" y1="1237" x2="2051" y2="1251" stroke="#5a5a5a" stroke-width="1.8" opacity="0.7"/>
<line x1="1996" y1="1322" x2="1996" y2="1335" stroke="#3a3a3a" stroke-width="1.8" opacity="0.7"/>
<line x1="2011" y1="1113" x2="2008" y2="1094" stroke="#5a5a5a" stroke-width="1.8" opacity="0.7"/>
<line x1="2025" y1="1436" x2="2029" y2="1448" stroke="#5a5a5a" stroke-width="1.8" opacity="0.7"/>
<line x1="2027" y1="1462" x2="2020" y2="1479" stroke="#5a5a5a" stroke-width="1.8" opacity="0.7"/>
<line x1="2134" y1="1245" x2="2129" y2="1269" stroke="#fff" stroke-width="1.8" opacity="0.7"/>
<line x1="1865" y1="1019" x2="1855" y2="1012" stroke="#fff" stroke-width="1.8" opacity="0.7"/>
<line x1="2032" y1="1210" x2="2031" y2="1237" stroke="#777" stroke-width="1.8" opacity="0.7"/>
<line x1="1965" y1="1261" x2="1961" y2="1286" stroke="#6a6a6a" stroke-width="1.8" opacity="0.7"/>
<line x1="1856" y1="1225" x2="1875" y2="1240" stroke="#fff" stroke-width="1.8" opacity="0.7"/>
<line x1="2023" y1="1333" x2="2023" y2="1355" stroke="#fff" stroke-width="1.8" opacity="0.7"/>
<line x1="1955" y1="1402" x2="1953" y2="1421" stroke="#3a3a3a" stroke-width="1.8" opacity="0.7"/>
<line x1="2137" y1="1076" x2="2145" y2="1065" stroke="#777" stroke-width="1.8" opacity="0.7"/>
<line x1="1928" y1="1459" x2="1938" y2="1476" stroke="#5a5a5a" stroke-width="1.8" opacity="0.7"/>
<line x1="1836" y1="1509" x2="1847" y2="1532" stroke="#5a5a5a" stroke-width="1.8" opacity="0.7"/>
<line x1="2033" y1="1450" x2="2029" y2="1460" stroke="#3a3a3a" stroke-width="1.8" opacity="0.7"/>
<line x1="1829" y1="1477" x2="1837" y2="1499" stroke="#5a5a5a" stroke-width="1.8" opacity="0.7"/>
<line x1="1852" y1="1193" x2="1858" y2="1203" stroke="#6a6a6a" stroke-width="1.8" opacity="0.7"/>
<line x1="1909" y1="1049" x2="1896" y2="1041" stroke="#6a6a6a" stroke-width="1.8" opacity="0.7"/>
<line x1="2046" y1="1192" x2="2049" y2="1208" stroke="#777" stroke-width="1.8" opacity="0.7"/>
<line x1="1915" y1="1131" x2="1905" y2="1126" stroke="#3a3a3a" stroke-width="1.8" opacity="0.7"/>
<line x1="1875" y1="994" x2="1856" y2="988" stroke="#4a4a4a" stroke-width="1.8" opacity="0.7"/>
<line x1="2008" y1="1275" x2="2003" y2="1301" stroke="#fff" stroke-width="1.8" opacity="0.7"/>
<line x1="1868" y1="1370" x2="1879" y2="1379" stroke="#4a4a4a" stroke-width="1.8" opacity="0.7"/>
<line x1="1949" y1="970" x2="1941" y2="956" stroke="#3a3a3a" stroke-width="1.8" opacity="0.7"/>
<line x1="2016" y1="1267" x2="2015" y2="1278" stroke="#6a6a6a" stroke-width="1.8" opacity="0.7"/>
<line x1="1949" y1="1159" x2="1951" y2="1174" stroke="#fff" stroke-width="1.8" opacity="0.7"/>
<line x1="2046" y1="1326" x2="2045" y2="1345" stroke="#777" stroke-width="1.8" opacity="0.7"/>
<line x1="1844" y1="1451" x2="1849" y2="1467" stroke="#fff" stroke-width="1.8" opacity="0.7"/>
<line x1="1834" y1="1228" x2="1843" y2="1236" stroke="#6a6a6a" stroke-width="1.8" opacity="0.7"/>
<line x1="2199" y1="1273" x2="2188" y2="1283" stroke="#4a4a4a" stroke-width="1.8" opacity="0.7"/>
<line x1="1969" y1="983" x2="1964" y2="966" stroke="#4a4a4a" stroke-width="1.8" opacity="0.7"/>
<line x1="2200" y1="1190" x2="2182" y2="1211" stroke="#777" stroke-width="1.8" opacity="0.7"/>
<line x1="2033" y1="1289" x2="2027" y2="1307" stroke="#3a3a3a" stroke-width="1.8" opacity="0.7"/>
<line x1="2116" y1="1344" x2="2102" y2="1367" stroke="#f0f0f0" stroke-width="1.8" opacity="0.7"/>
<line x1="2144" y1="1116" x2="2159" y2="1100" stroke="#6a6a6a" stroke-width="1.8" opacity="0.7"/>
<line x1="2162" y1="1341" x2="2149" y2="1360" stroke="#777" stroke-width="1.8" opacity="0.7"/>
<line x1="2138" y1="1481" x2="2130" y2="1492" stroke="#6a6a6a" stroke-width="1.8" opacity="0.7"/>
<line x1="2039" y1="1464" x2="2032" y2="1486" stroke="#fff" stroke-width="1.8" opacity="0.7"/>
<line x1="2192" y1="1314" x2="2181" y2="1328" stroke="#777" stroke-width="1.8" opacity="0.7"/>
<line x1="1832" y1="1074" x2="1820" y2="1068" stroke="#5a5a5a" stroke-width="1.8" opacity="0.7"/>
<line x1="2021" y1="1353" x2="2014" y2="1375" stroke="#4a4a4a" stroke-width="1.8" opacity="0.7"/>
<line x1="2092" y1="996" x2="2102" y2="987" stroke="#5a5a5a" stroke-width="1.8" opacity="0.7"/>
<line x1="1854" y1="1226" x2="1870" y2="1246" stroke="#5a5a5a" stroke-width="1.8" opacity="0.7"/>
<line x1="2131" y1="1235" x2="2121" y2="1255" stroke="#4a4a4a" stroke-width="1.8" opacity="0.7"/>
<line x1="1940" y1="1486" x2="1946" y2="1499" stroke="#6a6a6a" stroke-width="1.8" opacity="0.7"/>
<line x1="2193" y1="1284" x2="2174" y2="1294" stroke="#4a4a4a" stroke-width="1.8" opacity="0.7"/>
<line x1="2099" y1="1060" x2="2110" y2="1056" stroke="#f0f0f0" stroke-width="1.8" opacity="0.7"/>
<line x1="2071" y1="1095" x2="2080" y2="1082" stroke="#f0f0f0" stroke-width="1.8" opacity="0.7"/>
<line x1="2153" y1="1158" x2="2142" y2="1172" stroke="#3a3a3a" stroke-width="1.8" opacity="0.7"/>
<line x1="2091" y1="1040" x2="2102" y2="1026" stroke="#3a3a3a" stroke-width="1.8" opacity="0.7"/>
<line x1="2021" y1="1054" x2="2022" y2="1040" stroke="#777" stroke-width="1.8" opacity="0.7"/>
<line x1="2070" y1="1414" x2="2071" y2="1430" stroke="#4a4a4a" stroke-width="1.8" opacity="0.7"/>
<line x1="2023" y1="1436" x2="2026" y2="1455" stroke="#6a6a6a" stroke-width="1.8" opacity="0.7"/>
<line x1="2023" y1="1208" x2="2018" y2="1219" stroke="#4a4a4a" stroke-width="1.8" opacity="0.7"/>
<line x1="1955" y1="1460" x2="1957" y2="1481" stroke="#6a6a6a" stroke-width="1.8" opacity="0.7"/>
<line x1="2132" y1="1266" x2="2128" y2="1279" stroke="#f0f0f0" stroke-width="1.8" opacity="0.7"/>
<line x1="2089" y1="1087" x2="2097" y2="1080" stroke="#777" stroke-width="1.8" opacity="0.7"/>
<line x1="1997" y1="1102" x2="1987" y2="1082" stroke="#3a3a3a" stroke-width="1.8" opacity="0.7"/>
<line x1="2155" y1="1003" x2="2168" y2="990" stroke="#5a5a5a" stroke-width="1.8" opacity="0.7"/>
<line x1="1881" y1="1089" x2="1856" y2="1082" stroke="#3a3a3a" stroke-width="1.8" opacity="0.7"/>
<line x1="1934" y1="1174" x2="1936" y2="1191" stroke="#777" stroke-width="1.8" opacity="0.7"/>
<line x1="2105" y1="1116" x2="2128" y2="1105" stroke="#4a4a4a" stroke-width="1.8" opacity="0.7"/>
<line x1="2089" y1="1271" x2="2078" y2="1287" stroke="#3a3a3a" stroke-width="1.8" opacity="0.7"/>
<line x1="1847" y1="991" x2="1833" y2="979" stroke="#fff" stroke-width="1.8" opacity="0.7"/>
<line x1="2004" y1="1454" x2="2001" y2="1471" stroke="#6a6a6a" stroke-width="1.8" opacity="0.7"/>
<line x1="1877" y1="1442" x2="1884" y2="1450" stroke="#f0f0f0" stroke-width="1.8" opacity="0.7"/>
<line x1="2035" y1="1085" x2="2035" y2="1071" stroke="#fff" stroke-width="1.8" opacity="0.7"/>
<line x1="1835" y1="1088" x2="1810" y2="1084" stroke="#fff" stroke-width="1.8" opacity="0.7"/>
<line x1="1964" y1="1122" x2="1961" y2="1103" stroke="#fff" stroke-width="1.8" opacity="0.7"/>
<line x1="2069" y1="1356" x2="2073" y2="1380" stroke="#f0f0f0" stroke-width="1.8" opacity="0.7"/>
<line x1="1958" y1="1348" x2="1961" y2="1364" stroke="#fff" stroke-width="1.8" opacity="0.7"/>
<line x1="2145" y1="1055" x2="2169" y2="1047" stroke="#4a4a4a" stroke-width="1.8" opacity="0.7"/>
<line x1="2132" y1="1057" x2="2143" y2="1053" stroke="#3a3a3a" stroke-width="1.8" opacity="0.7"/>
<line x1="2193" y1="1417" x2="2179" y2="1429" stroke="#3a3a3a" stroke-width="1.8" opacity="0.7"/>
<line x1="2141" y1="1186" x2="2124" y2="1208" stroke="#fff" stroke-width="1.8" opacity="0.7"/>
<line x1="1852" y1="1193" x2="1861" y2="1201" stroke="#4a4a4a" stroke-width="1.8" opacity="0.7"/>
<line x1="2039" y1="1482" x2="2032" y2="1496" stroke="#6a6a6a" stroke-width="1.8" opacity="0.7"/>
<line x1="1831" y1="1260" x2="1841" y2="1286" stroke="#fff" stroke-width="1.8" opacity="0.7"/>
<line x1="2027" y1="1117" x2="2034" y2="1097" stroke="#777" stroke-width="1.8" opacity="0.7"/>
<line x1="2184" y1="1019" x2="2189" y2="1009" stroke="#fff" stroke-width="1.8" opacity="0.7"/>
<line x1="2047" y1="1461" x2="2047" y2="1475" stroke="#fff" stroke-width="1.8" opacity="0.7"/>
<line x1="1903" y1="1366" x2="1918" y2="1382" stroke="#5a5a5a" stroke-width="1.8" opacity="0.7"/>
<line x1="2181" y1="1446" x2="2177" y2="1459" stroke="#777" stroke-width="1.8" opacity="0.7"/>
<line x1="1876" y1="1367" x2="1885" y2="1390" stroke="#6a6a6a" stroke-width="1.8" opacity="0.7"/>
<line x1="2112" y1="1018" x2="2126" y2="999" stroke="#f0f0f0" stroke-width="1.8" opacity="0.7"/>
<line x1="2089" y1="1434" x2="2083" y2="1454" stroke="#777" stroke-width="1.8" opacity="0.7"/>
<line x1="2131" y1="1349" x2="2129" y2="1360" stroke="#4a4a4a" stroke-width="1.8" opacity="0.7"/>
<line x1="2177" y1="1402" x2="2166" y2="1418" stroke="#f0f0f0" stroke-width="1.8" opacity="0.7"/>
<line x1="2112" y1="1046" x2="2129" y2="1025" stroke="#4a4a4a" stroke-width="1.8" opacity="0.7"/>
<line x1="2196" y1="1153" x2="2186" y2="1166" stroke="#fff" stroke-width="1.8" opacity="0.7"/>
<line x1="1953" y1="1387" x2="1956" y2="1409" stroke="#777" stroke-width="1.8" opacity="0.7"/>
<line x1="2200" y1="1249" x2="2190" y2="1254" stroke="#f0f0f0" stroke-width="1.8" opacity="0.7"/>
<line x1="2179" y1="1178" x2="2171" y2="1193" stroke="#fff" stroke-width="1.8" opacity="0.7"/>
<line x1="2088" y1="1158" x2="2085" y2="1170" stroke="#5a5a5a" stroke-width="1.8" opacity="0.7"/>
<line x1="2053" y1="1470" x2="2043" y2="1488" stroke="#fff" stroke-width="1.8" opacity="0.7"/>
<line x1="2112" y1="1186" x2="2110" y2="1197" stroke="#fff" stroke-width="1.8" opacity="0.7"/>
<line x1="1855" y1="1171" x2="1874" y2="1190" stroke="#3a3a3a" stroke-width="1.8" opacity="0.7"/>
<line x1="1934" y1="1503" x2="1940" y2="1521" stroke="#777" stroke-width="1.8" opacity="0.7"/>
<line x1="2136" y1="1070" x2="2147" y2="1068" stroke="#6a6a6a" stroke-width="1.8" opacity="0.7"/>
<line x1="2152" y1="1262" x2="2141" y2="1279" stroke="#6a6a6a" stroke-width="1.8" opacity="0.7"/>
<line x1="1956" y1="1510" x2="1968" y2="1527" stroke="#4a4a4a" stroke-width="1.8" opacity="0.7"/>
<line x1="1956" y1="1434" x2="1963" y2="1450" stroke="#5a5a5a" stroke-width="1.8" opacity="0.7"/>
<line x1="2127" y1="1215" x2="2116" y2="1226" stroke="#f0f0f0" stroke-width="1.8" opacity="0.7"/>
<line x1="2181" y1="1109" x2="2190" y2="1103" stroke="#f0f0f0" stroke-width="1.8" opacity="0.7"/>
<line x1="2120" y1="1034" x2="2144" y2="1021" stroke="#5a5a5a" stroke-width="1.8" opacity="0.7"/>
<line x1="2174" y1="1222" x2="2167" y2="1247" stroke="#f0f0f0" stroke-width="1.8" opacity="0.7"/>
<line x1="1859" y1="1263" x2="1868" y2="1286" stroke="#f0f0f0" stroke-width="1.8" opacity="0.7"/>
<line x1="2041" y1="1105" x2="2046" y2="1092" stroke="#3a3a3a" stroke-width="1.8" opacity="0.7"/>
<line x1="1910" y1="1012" x2="1902" y2="1003" stroke="#4a4a4a" stroke-width="1.8" opacity="0.7"/>
<line x1="2076" y1="1108" x2="2082" y2="1092" stroke="#f0f0f0" stroke-width="1.8" opacity="0.7"/>
<line x1="2058" y1="1116" x2="2060" y2="1089" stroke="#5a5a5a" stroke-width="1.8" opacity="0.7"/>
<line x1="2068" y1="1404" x2="2062" y2="1426" stroke="#777" stroke-width="1.8" opacity="0.7"/>
<line x1="2145" y1="1128" x2="2164" y2="1121" stroke="#f0f0f0" stroke-width="1.8" opacity="0.7"/>
<line x1="2021" y1="1047" x2="2020" y2="1022" stroke="#3a3a3a" stroke-width="1.8" opacity="0.7"/>
<line x1="1848" y1="1483" x2="1866" y2="1501" stroke="#fff" stroke-width="1.8" opacity="0.7"/>
<line x1="2041" y1="1260" x2="2048" y2="1285" stroke="#fff" stroke-width="1.8" opacity="0.7"/>
<line x1="2018" y1="1496" x2="2013" y2="1517" stroke="#3a3a3a" stroke-width="1.8" opacity="0.7"/>
<line x1="1890" y1="1283" x2="1892" y2="1305" stroke="#5a5a5a" stroke-width="1.8" opacity="0.7"/>
<line x1="2079" y1="1474" x2="2073" y2="1491" stroke="#777" stroke-width="1.8" opacity="0.7"/>
<line x1="2154" y1="1417" x2="2137" y2="1432" stroke="#6a6a6a" stroke-width="1.8" opacity="0.7"/>
<line x1="1992" y1="1299" x2="1992" y2="1310" stroke="#f0f0f0" stroke-width="1.8" opacity="0.7"/>
<line x1="1933" y1="1456" x2="1936" y2="1476" stroke="#fff" stroke-width="1.8" opacity="0.7"/>
<line x1="1896" y1="1277" x2="1902" y2="1300" stroke="#4a4a4a" stroke-width="1.8" opacity="0.7"/>
<line x1="2043" y1="1237" x2="2037" y2="1259" stroke="#f0f0f0" stroke-width="1.8" opacity="0.7"/>
<line x1="2058" y1="1444" x2="2051" y2="1458" stroke="#3a3a3a" stroke-width="1.8" opacity="0.7"/>
<line x1="1910" y1="1174" x2="1914" y2="1191" stroke="#3a3a3a" stroke-width="1.8" opacity="0.7"/>
<line x1="2030" y1="1265" x2="2029" y2="1281" stroke="#fff" stroke-width="1.8" opacity="0.7"/>
<line x1="2000" y1="1238" x2="2004" y2="1247" stroke="#4a4a4a" stroke-width="1.8" opacity="0.7"/>
<line x1="1986" y1="1361" x2="1987" y2="1384" stroke="#4a4a4a" stroke-width="1.8" opacity="0.7"/>
<line x1="2044" y1="1050" x2="2040" y2="1026" stroke="#6a6a6a" stroke-width="1.8" opacity="0.7"/>
<line x1="1913" y1="1312" x2="1920" y2="1326" stroke="#6a6a6a" stroke-width="1.8" opacity="0.7"/>
<line x1="2166" y1="1393" x2="2160" y2="1402" stroke="#6a6a6a" stroke-width="1.8" opacity="0.7"/>
<line x1="1916" y1="1097" x2="1900" y2="1093" stroke="#5a5a5a" stroke-width="1.8" opacity="0.7"/>
<line x1="1962" y1="1149" x2="1955" y2="1137" stroke="#f0f0f0" stroke-width="1.8" opacity="0.7"/>
<line x1="2030" y1="1384" x2="2029" y2="1412" stroke="#f0f0f0" stroke-width="1.8" opacity="0.7"/>
<line x1="2127" y1="1282" x2="2116" y2="1300" stroke="#6a6a6a" stroke-width="1.8" opacity="0.7"/>
<line x1="2004" y1="1160" x2="2001" y2="1172" stroke="#3a3a3a" stroke-width="1.8" opacity="0.7"/>
<line x1="2162" y1="1112" x2="2178" y2="1102" stroke="#6a6a6a" stroke-width="1.8" opacity="0.7"/>
<line x1="2087" y1="1239" x2="2085" y2="1258" stroke="#4a4a4a" stroke-width="1.8" opacity="0.7"/>
<line x1="2164" y1="1248" x2="2155" y2="1254" stroke="#777" stroke-width="1.8" opacity="0.7"/>
<line x1="2114" y1="1386" x2="2108" y2="1410" stroke="#f0f0f0" stroke-width="1.8" opacity="0.7"/>
<line x1="2039" y1="1290" x2="2031" y2="1307" stroke="#777" stroke-width="1.8" opacity="0.7"/>
<line x1="1887" y1="986" x2="1877" y2="974" stroke="#6a6a6a" stroke-width="1.8" opacity="0.7"/>
<line x1="2013" y1="1018" x2="2014" y2="1008" stroke="#6a6a6a" stroke-width="1.8" opacity="0.7"/>
<line x1="1920" y1="1087" x2="1909" y2="1068" stroke="#777" stroke-width="1.8" opacity="0.7"/>
<line x1="1991" y1="1035" x2="1982" y2="1014" stroke="#3a3a3a" stroke-width="1.8" opacity="0.7"/>
<line x1="1960" y1="1289" x2="1967" y2="1312" stroke="#f0f0f0" stroke-width="1.8" opacity="0.7"/>
<line x1="1965" y1="971" x2="1949" y2="949" stroke="#6a6a6a" stroke-width="1.8" opacity="0.7"/>
<line x1="1877" y1="975" x2="1869" y2="969" stroke="#fff" stroke-width="1.8" opacity="0.7"/>
<line x1="2153" y1="1311" x2="2141" y2="1321" stroke="#6a6a6a" stroke-width="1.8" opacity="0.7"/>
<line x1="1894" y1="993" x2="1879" y2="971" stroke="#4a4a4a" stroke-width="1.8" opacity="0.7"/>
<line x1="2184" y1="1079" x2="2191" y2="1070" stroke="#6a6a6a" stroke-width="1.8" opacity="0.7"/>
<line x1="2003" y1="1391" x2="2005" y2="1413" stroke="#4a4a4a" stroke-width="1.8" opacity="0.7"/>
<line x1="1922" y1="1162" x2="1932" y2="1178" stroke="#4a4a4a" stroke-width="1.8" opacity="0.7"/>
<line x1="2170" y1="1117" x2="2184" y2="1110" stroke="#fff" stroke-width="1.8" opacity="0.7"/>
<line x1="1870" y1="1267" x2="1879" y2="1278" stroke="#f0f0f0" stroke-width="1.8" opacity="0.7"/>
<line x1="2016" y1="1164" x2="2018" y2="1189" stroke="#777" stroke-width="1.8" opacity="0.7"/>
<line x1="1833" y1="1434" x2="1842" y2="1444" stroke="#5a5a5a" stroke-width="1.8" opacity="0.7"/>
<line x1="1872" y1="1116" x2="1855" y2="1103" stroke="#6a6a6a" stroke-width="1.8" opacity="0.7"/>
<line x1="2029" y1="1257" x2="2025" y2="1276" stroke="#5a5a5a" stroke-width="1.8" opacity="0.7"/>
<line x1="1839" y1="1461" x2="1856" y2="1477" stroke="#fff" stroke-width="1.8" opacity="0.7"/>
<line x1="1873" y1="1179" x2="1882" y2="1204" stroke="#4a4a4a" stroke-width="1.8" opacity="0.7"/>
<line x1="2071" y1="1486" x2="2065" y2="1506" stroke="#6a6a6a" stroke-width="1.8" opacity="0.7"/>
<line x1="2054" y1="1111" x2="2056" y2="1092" stroke="#4a4a4a" stroke-width="1.8" opacity="0.7"/>
<line x1="1873" y1="1177" x2="1882" y2="1197" stroke="#6a6a6a" stroke-width="1.8" opacity="0.7"/>
<line x1="2016" y1="1461" x2="2013" y2="1478" stroke="#4a4a4a" stroke-width="1.8" opacity="0.7"/>
<line x1="2174" y1="1075" x2="2189" y2="1063" stroke="#6a6a6a" stroke-width="1.8" opacity="0.7"/>
<line x1="1935" y1="989" x2="1934" y2="974" stroke="#f0f0f0" stroke-width="1.8" opacity="0.7"/>
<line x1="1996" y1="1203" x2="2004" y2="1225" stroke="#4a4a4a" stroke-width="1.8" opacity="0.7"/>
<line x1="2067" y1="1151" x2="2064" y2="1175" stroke="#f0f0f0" stroke-width="1.8" opacity="0.7"/>
<line x1="1959" y1="1003" x2="1962" y2="985" stroke="#f0f0f0" stroke-width="1.8" opacity="0.7"/>
<line x1="2044" y1="972" x2="2037" y2="946" stroke="#f0f0f0" stroke-width="1.8" opacity="0.7"/>
<line x1="2086" y1="1268" x2="2086" y2="1283" stroke="#f0f0f0" stroke-width="1.8" opacity="0.7"/>
<line x1="2178" y1="1387" x2="2167" y2="1413" stroke="#f0f0f0" stroke-width="1.8" opacity="0.7"/>
<line x1="2138" y1="993" x2="2153" y2="981" stroke="#6a6a6a" stroke-width="1.8" opacity="0.7"/>
<line x1="2190" y1="1478" x2="2183" y2="1489" stroke="#f0f0f0" stroke-width="1.8" opacity="0.7"/>
<line x1="1932" y1="1424" x2="1946" y2="1444" stroke="#fff" stroke-width="1.8" opacity="0.7"/>
<line x1="2200" y1="1075" x2="2207" y2="1067" stroke="#3a3a3a" stroke-width="1.8" opacity="0.7"/>
<line x1="2129" y1="1241" x2="2122" y2="1266" stroke="#4a4a4a" stroke-width="1.8" opacity="0.7"/>
<line x1="2034" y1="1055" x2="2030" y2="1042" stroke="#5a5a5a" stroke-width="1.8" opacity="0.7"/>
<line x1="1875" y1="1162" x2="1891" y2="1182" stroke="#777" stroke-width="1.8" opacity="0.7"/>
<line x1="2139" y1="1202" x2="2127" y2="1217" stroke="#777" stroke-width="1.8" opacity="0.7"/>
<line x1="2045" y1="1486" x2="2035" y2="1503" stroke="#fff" stroke-width="1.8" opacity="0.7"/>
<line x1="1993" y1="1368" x2="1992" y2="1381" stroke="#6a6a6a" stroke-width="1.8" opacity="0.7"/>
<line x1="2043" y1="1277" x2="2045" y2="1302" stroke="#5a5a5a" stroke-width="1.8" opacity="0.7"/>
<line x1="2120" y1="1142" x2="2136" y2="1129" stroke="#6a6a6a" stroke-width="1.8" opacity="0.7"/>
<line x1="2192" y1="1302" x2="2183" y2="1317" stroke="#f0f0f0" stroke-width="1.8" opacity="0.7"/>
<line x1="1873" y1="1250" x2="1876" y2="1263" stroke="#6a6a6a" stroke-width="1.8" opacity="0.7"/>
<line x1="1898" y1="1248" x2="1905" y2="1274" stroke="#3a3a3a" stroke-width="1.8" opacity="0.7"/>
<line x1="1958" y1="1480" x2="1965" y2="1498" stroke="#5a5a5a" stroke-width="1.8" opacity="0.7"/>
<line x1="1996" y1="1059" x2="1991" y2="1043" stroke="#4a4a4a" stroke-width="1.8" opacity="0.7"/>
<line x1="1965" y1="1501" x2="1970" y2="1517" stroke="#5a5a5a" stroke-width="1.8" opacity="0.7"/>
<line x1="1962" y1="1432" x2="1962" y2="1448" stroke="#3a3a3a" stroke-width="1.8" opacity="0.7"/>
<line x1="2056" y1="1132" x2="2072" y2="1116" stroke="#777" stroke-width="1.8" opacity="0.7"/>
<line x1="1932" y1="1066" x2="1926" y2="1052" stroke="#777" stroke-width="1.8" opacity="0.7"/>
<line x1="2136" y1="1033" x2="2142" y2="1016" stroke="#4a4a4a" stroke-width="1.8" opacity="0.7"/>
<line x1="1898" y1="1470" x2="1907" y2="1483" stroke="#5a5a5a" stroke-width="1.8" opacity="0.7"/>
<line x1="1854" y1="1022" x2="1850" y2="1012" stroke="#5a5a5a" stroke-width="1.8" opacity="0.7"/>
<line x1="1963" y1="1266" x2="1970" y2="1288" stroke="#6a6a6a" stroke-width="1.8" opacity="0.7"/>
<line x1="2027" y1="1387" x2="2034" y2="1410" stroke="#3a3a3a" stroke-width="1.8" opacity="0.7"/>
<line x1="1889" y1="1378" x2="1904" y2="1400" stroke="#4a4a4a" stroke-width="1.8" opacity="0.7"/>
<line x1="2094" y1="1165" x2="2090" y2="1191" stroke="#fff" stroke-width="1.8" opacity="0.7"/>
<line x1="2071" y1="1232" x2="2062" y2="1253" stroke="#f0f0f0" stroke-width="1.8" opacity="0.7"/>
<line x1="2093" y1="1036" x2="2104" y2="1030" stroke="#4a4a4a" stroke-width="1.8" opacity="0.7"/>
<line x1="1893" y1="1267" x2="1895" y2="1288" stroke="#4a4a4a" stroke-width="1.8" opacity="0.7"/>
<line x1="2037" y1="1417" x2="2034" y2="1436" stroke="#4a4a4a" stroke-width="1.8" opacity="0.7"/>
<line x1="2198" y1="1326" x2="2190" y2="1335" stroke="#3a3a3a" stroke-width="1.8" opacity="0.7"/>
<line x1="2017" y1="1275" x2="2017" y2="1298" stroke="#4a4a4a" stroke-width="1.8" opacity="0.7"/>
<line x1="2117" y1="1303" x2="2117" y2="1328" stroke="#f0f0f0" stroke-width="1.8" opacity="0.7"/>
<line x1="2095" y1="1347" x2="2090" y2="1370" stroke="#4a4a4a" stroke-width="1.8" opacity="0.7"/>
<line x1="2087" y1="1447" x2="2082" y2="1460" stroke="#4a4a4a" stroke-width="1.8" opacity="0.7"/>
<line x1="1906" y1="1025" x2="1894" y2="1014" stroke="#4a4a4a" stroke-width="1.8" opacity="0.7"/>
<line x1="2013" y1="1000" x2="2006" y2="978" stroke="#fff" stroke-width="1.8" opacity="0.7"/>
<line x1="1842" y1="1369" x2="1850" y2="1379" stroke="#fff" stroke-width="1.8" opacity="0.7"/>
<line x1="1990" y1="1252" x2="1986" y2="1278" stroke="#3a3a3a" stroke-width="1.8" opacity="0.7"/>
<line x1="2161" y1="1015" x2="2183" y2="1004" stroke="#f0f0f0" stroke-width="1.8" opacity="0.7"/>
<line x1="1903" y1="1467" x2="1908" y2="1493" stroke="#fff" stroke-width="1.8" opacity="0.7"/>
<line x1="2093" y1="1206" x2="2088" y2="1220" stroke="#6a6a6a" stroke-width="1.8" opacity="0.7"/>
<line x1="2143" y1="1246" x2="2134" y2="1270" stroke="#777" stroke-width="1.8" opacity="0.7"/>
<line x1="2055" y1="1026" x2="2061" y2="1015" stroke="#5a5a5a" stroke-width="1.8" opacity="0.7"/>
<line x1="2081" y1="1380" x2="2070" y2="1405" stroke="#fff" stroke-width="1.8" opacity="0.7"/>
<line x1="2086" y1="1472" x2="2080" y2="1489" stroke="#777" stroke-width="1.8" opacity="0.7"/>
<line x1="1912" y1="1116" x2="1901" y2="1109" stroke="#fff" stroke-width="1.8" opacity="0.7"/>
<line x1="2196" y1="1460" x2="2187" y2="1478" stroke="#4a4a4a" stroke-width="1.8" opacity="0.7"/>
<line x1="2193" y1="1264" x2="2179" y2="1286" stroke="#3a3a3a" stroke-width="1.8" opacity="0.7"/>
<line x1="1991" y1="1012" x2="1991" y2="994" stroke="#3a3a3a" stroke-width="1.8" opacity="0.7"/>
<line x1="2192" y1="1172" x2="2179" y2="1195" stroke="#6a6a6a" stroke-width="1.8" opacity="0.7"/>
<line x1="1952" y1="1213" x2="1954" y2="1231" stroke="#f0f0f0" stroke-width="1.8" opacity="0.7"/>
<line x1="1877" y1="1276" x2="1897" y2="1293" stroke="#777" stroke-width="1.8" opacity="0.7"/>
<line x1="2096" y1="1363" x2="2093" y2="1389" stroke="#f0f0f0" stroke-width="1.8" opacity="0.7"/>
<line x1="2204" y1="1485" x2="2196" y2="1505" stroke="#3a3a3a" stroke-width="1.8" opacity="0.7"/>
<line x1="1878" y1="975" x2="1867" y2="957" stroke="#777" stroke-width="1.8" opacity="0.7"/>
<line x1="1835" y1="1138" x2="1809" y2="1139" stroke="#f0f0f0" stroke-width="1.8" opacity="0.7"/>
<line x1="2116" y1="1042" x2="2122" y2="1034" stroke="#777" stroke-width="1.8" opacity="0.7"/>
<line x1="2008" y1="1261" x2="2013" y2="1273" stroke="#777" stroke-width="1.8" opacity="0.7"/>
<line x1="2203" y1="1385" x2="2187" y2="1393" stroke="#6a6a6a" stroke-width="1.8" opacity="0.7"/>
<line x1="2077" y1="1372" x2="2065" y2="1390" stroke="#f0f0f0" stroke-width="1.8" opacity="0.7"/>
<line x1="1964" y1="1225" x2="1970" y2="1234" stroke="#6a6a6a" stroke-width="1.8" opacity="0.7"/>
<line x1="2000" y1="1168" x2="2000" y2="1191" stroke="#5a5a5a" stroke-width="1.8" opacity="0.7"/>
<line x1="2055" y1="974" x2="2069" y2="959" stroke="#4a4a4a" stroke-width="1.8" opacity="0.7"/>
<line x1="2140" y1="1478" x2="2125" y2="1501" stroke="#777" stroke-width="1.8" opacity="0.7"/>
<line x1="2188" y1="1146" x2="2205" y2="1142" stroke="#f0f0f0" stroke-width="1.8" opacity="0.7"/>
<line x1="1926" y1="1118" x2="1915" y2="1113" stroke="#777" stroke-width="1.8" opacity="0.7"/>
<line x1="1954" y1="1268" x2="1957" y2="1281" stroke="#fff" stroke-width="1.8" opacity="0.7"/>
<line x1="1867" y1="1325" x2="1877" y2="1333" stroke="#3a3a3a" stroke-width="1.8" opacity="0.7"/>
<line x1="1887" y1="1240" x2="1900" y2="1253" stroke="#4a4a4a" stroke-width="1.8" opacity="0.7"/>
<line x1="1866" y1="1437" x2="1874" y2="1452" stroke="#6a6a6a" stroke-width="1.8" opacity="0.7"/>
<line x1="2044" y1="1071" x2="2056" y2="1059" stroke="#777" stroke-width="1.8" opacity="0.7"/>
<line x1="2096" y1="1395" x2="2095" y2="1405" stroke="#4a4a4a" stroke-width="1.8" opacity="0.7"/>
<line x1="2157" y1="1192" x2="2146" y2="1209" stroke="#777" stroke-width="1.8" opacity="0.7"/>
<line x1="2110" y1="1494" x2="2101" y2="1511" stroke="#5a5a5a" stroke-width="1.8" opacity="0.7"/>
<line x1="2098" y1="1002" x2="2101" y2="977" stroke="#5a5a5a" stroke-width="1.8" opacity="0.7"/>
<line x1="2042" y1="1181" x2="2042" y2="1204" stroke="#fff" stroke-width="1.8" opacity="0.7"/>
<line x1="2200" y1="1213" x2="2190" y2="1234" stroke="#3a3a3a" stroke-width="1.8" opacity="0.7"/>
<line x1="2093" y1="1433" x2="2095" y2="1454" stroke="#4a4a4a" stroke-width="1.8" opacity="0.7"/>
<line x1="1905" y1="1235" x2="1920" y2="1254" stroke="#777" stroke-width="1.8" opacity="0.7"/>
<line x1="1885" y1="1417" x2="1893" y2="1435" stroke="#fff" stroke-width="1.8" opacity="0.7"/>
<line x1="2114" y1="1281" x2="2103" y2="1301" stroke="#fff" stroke-width="1.8" opacity="0.7"/>
<line x1="2039" y1="1082" x2="2039" y2="1071" stroke="#fff" stroke-width="1.8" opacity="0.7"/>
<line x1="1970" y1="1015" x2="1967" y2="1002" stroke="#fff" stroke-width="1.8" opacity="0.7"/>
<line x1="1933" y1="1379" x2="1941" y2="1394" stroke="#f0f0f0" stroke-width="1.8" opacity="0.7"/>
<line x1="1939" y1="1116" x2="1919" y2="1110" stroke="#5a5a5a" stroke-width="1.8" opacity="0.7"/>
<line x1="2079" y1="1323" x2="2077" y2="1348" stroke="#3a3a3a" stroke-width="1.8" opacity="0.7"/>
<line x1="2196" y1="1509" x2="2188" y2="1518" stroke="#6a6a6a" stroke-width="1.8" opacity="0.7"/>
<line x1="2175" y1="1271" x2="2158" y2="1292" stroke="#3a3a3a" stroke-width="1.8" opacity="0.7"/>
<line x1="2077" y1="1234" x2="2073" y2="1251" stroke="#fff" stroke-width="1.8" opacity="0.7"/>
<line x1="2025" y1="1116" x2="2028" y2="1100" stroke="#f0f0f0" stroke-width="1.8" opacity="0.7"/>
<line x1="2042" y1="1386" x2="2041" y2="1398" stroke="#4a4a4a" stroke-width="1.8" opacity="0.7"/>
<line x1="1910" y1="1463" x2="1913" y2="1482" stroke="#4a4a4a" stroke-width="1.8" opacity="0.7"/>
<line x1="1860" y1="1448" x2="1865" y2="1463" stroke="#5a5a5a" stroke-width="1.8" opacity="0.7"/>
<line x1="1980" y1="1297" x2="1992" y2="1321" stroke="#6a6a6a" stroke-width="1.8" opacity="0.7"/>
<line x1="1930" y1="1321" x2="1946" y2="1342" stroke="#4a4a4a" stroke-width="1.8" opacity="0.7"/>
<line x1="2128" y1="1469" x2="2126" y2="1486" stroke="#5a5a5a" stroke-width="1.8" opacity="0.7"/>
<line x1="2083" y1="1029" x2="2100" y2="1011" stroke="#6a6a6a" stroke-width="1.8" opacity="0.7"/>
<line x1="1865" y1="1289" x2="1877" y2="1302" stroke="#777" stroke-width="1.8" opacity="0.7"/>
<line x1="2123" y1="1428" x2="2120" y2="1448" stroke="#5a5a5a" stroke-width="1.8" opacity="0.7"/>
<line x1="1972" y1="1420" x2="1973" y2="1433" stroke="#f0f0f0" stroke-width="1.8" opacity="0.7"/>
<line x1="1907" y1="1171" x2="1916" y2="1180" stroke="#777" stroke-width="1.8" opacity="0.7"/>
<line x1="1871" y1="1180" x2="1885" y2="1195" stroke="#f0f0f0" stroke-width="1.8" opacity="0.7"/>
<line x1="1865" y1="1229" x2="1874" y2="1243" stroke="#4a4a4a" stroke-width="1.8" opacity="0.7"/>
<line x1="2085" y1="1220" x2="2086" y2="1247" stroke="#4a4a4a" stroke-width="1.8" opacity="0.7"/>
<line x1="1977" y1="1043" x2="1975" y2="1022" stroke="#f0f0f0" stroke-width="1.8" opacity="0.7"/>
<line x1="1996" y1="1423" x2="2001" y2="1436" stroke="#5a5a5a" stroke-width="1.8" opacity="0.7"/>
<line x1="2001" y1="1501" x2="1998" y2="1518" stroke="#fff" stroke-width="1.8" opacity="0.7"/>
<line x1="1940" y1="1158" x2="1951" y2="1172" stroke="#5a5a5a" stroke-width="1.8" opacity="0.7"/>
<line x1="1978" y1="980" x2="1982" y2="963" stroke="#777" stroke-width="1.8" opacity="0.7"/>
<line x1="1971" y1="1156" x2="1973" y2="1174" stroke="#f0f0f0" stroke-width="1.8" opacity="0.7"/>
<line x1="2171" y1="1403" x2="2156" y2="1419" stroke="#f0f0f0" stroke-width="1.8" opacity="0.7"/>
<line x1="1915" y1="1372" x2="1921" y2="1391" stroke="#777" stroke-width="1.8" opacity="0.7"/>
<line x1="1960" y1="1191" x2="1970" y2="1208" stroke="#3a3a3a" stroke-width="1.8" opacity="0.7"/>
<line x1="2007" y1="1291" x2="2001" y2="1315" stroke="#5a5a5a" stroke-width="1.8" opacity="0.7"/>
<line x1="2183" y1="1372" x2="2169" y2="1391" stroke="#3a3a3a" stroke-width="1.8" opacity="0.7"/>
<line x1="1868" y1="1439" x2="1879" y2="1448" stroke="#777" stroke-width="1.8" opacity="0.7"/>
<line x1="1878" y1="1288" x2="1892" y2="1301" stroke="#4a4a4a" stroke-width="1.8" opacity="0.7"/>
<line x1="1895" y1="1019" x2="1881" y2="998" stroke="#4a4a4a" stroke-width="1.8" opacity="0.7"/>
<line x1="1826" y1="1152" x2="1844" y2="1167" stroke="#f0f0f0" stroke-width="1.8" opacity="0.7"/>
<line x1="1961" y1="1159" x2="1959" y2="1173" stroke="#777" stroke-width="1.8" opacity="0.7"/>
<line x1="1937" y1="1111" x2="1926" y2="1090" stroke="#fff" stroke-width="1.8" opacity="0.7"/>
<line x1="1881" y1="1123" x2="1868" y2="1107" stroke="#3a3a3a" stroke-width="1.8" opacity="0.7"/>
<line x1="2069" y1="1130" x2="2081" y2="1115" stroke="#6a6a6a" stroke-width="1.8" opacity="0.7"/>
<line x1="1972" y1="1107" x2="1959" y2="1095" stroke="#5a5a5a" stroke-width="1.8" opacity="0.7"/>
<line x1="2058" y1="1362" x2="2059" y2="1388" stroke="#5a5a5a" stroke-width="1.8" opacity="0.7"/>
<line x1="1914" y1="1238" x2="1918" y2="1253" stroke="#777" stroke-width="1.8" opacity="0.7"/>
<line x1="2045" y1="1040" x2="2044" y2="1028" stroke="#3a3a3a" stroke-width="1.8" opacity="0.7"/>
<line x1="2043" y1="1446" x2="2041" y2="1465" stroke="#f0f0f0" stroke-width="1.8" opacity="0.7"/>
<line x1="2161" y1="1104" x2="2183" y2="1096" stroke="#fff" stroke-width="1.8" opacity="0.7"/>
<line x1="2190" y1="1062" x2="2204" y2="1041" stroke="#f0f0f0" stroke-width="1.8" opacity="0.7"/>
<line x1="1832" y1="1339" x2="1850" y2="1353" stroke="#3a3a3a" stroke-width="1.8" opacity="0.7"/>
<line x1="1954" y1="1137" x2="1936" y2="1121" stroke="#777" stroke-width="1.8" opacity="0.7"/>
<line x1="2180" y1="1384" x2="2171" y2="1398" stroke="#4a4a4a" stroke-width="1.8" opacity="0.7"/>
<line x1="2015" y1="1154" x2="2020" y2="1178" stroke="#fff" stroke-width="1.8" opacity="0.7"/>
<line x1="1923" y1="1034" x2="1916" y2="1017" stroke="#6a6a6a" stroke-width="1.8" opacity="0.7"/>
<line x1="2204" y1="1493" x2="2193" y2="1500" stroke="#f0f0f0" stroke-width="1.8" opacity="0.7"/>
<line x1="1919" y1="1246" x2="1929" y2="1269" stroke="#5a5a5a" stroke-width="1.8" opacity="0.7"/>
<line x1="2068" y1="1467" x2="2065" y2="1491" stroke="#3a3a3a" stroke-width="1.8" opacity="0.7"/>
<line x1="1962" y1="1074" x2="1945" y2="1057" stroke="#3a3a3a" stroke-width="1.8" opacity="0.7"/>
<line x1="2060" y1="1501" x2="2055" y2="1525" stroke="#777" stroke-width="1.8" opacity="0.7"/>
<line x1="1910" y1="1481" x2="1917" y2="1491" stroke="#777" stroke-width="1.8" opacity="0.7"/>
<line x1="1872" y1="1226" x2="1880" y2="1238" stroke="#f0f0f0" stroke-width="1.8" opacity="0.7"/>
<line x1="2011" y1="1273" x2="2008" y2="1292" stroke="#f0f0f0" stroke-width="1.8" opacity="0.7"/>
<line x1="2156" y1="1204" x2="2148" y2="1226" stroke="#6a6a6a" stroke-width="1.8" opacity="0.7"/>
<line x1="1980" y1="1216" x2="1984" y2="1227" stroke="#fff" stroke-width="1.8" opacity="0.7"/>
<line x1="1926" y1="1453" x2="1933" y2="1478" stroke="#4a4a4a" stroke-width="1.8" opacity="0.7"/>
<line x1="1865" y1="1413" x2="1873" y2="1424" stroke="#fff" stroke-width="1.8" opacity="0.7"/>
<line x1="1970" y1="1176" x2="1982" y2="1197" stroke="#5a5a5a" stroke-width="1.8" opacity="0.7"/>
<line x1="1993" y1="1241" x2="1989" y2="1259" stroke="#777" stroke-width="1.8" opacity="0.7"/>
<line x1="1879" y1="1146" x2="1866" y2="1132" stroke="#fff" stroke-width="1.8" opacity="0.7"/>
<line x1="1939" y1="1085" x2="1930" y2="1073" stroke="#4a4a4a" stroke-width="1.8" opacity="0.7"/>
<line x1="1905" y1="1180" x2="1917" y2="1199" stroke="#6a6a6a" stroke-width="1.8" opacity="0.7"/>
<line x1="2097" y1="1096" x2="2111" y2="1078" stroke="#fff" stroke-width="1.8" opacity="0.7"/>
<line x1="1978" y1="1476" x2="1985" y2="1495" stroke="#f0f0f0" stroke-width="1.8" opacity="0.7"/>
<line x1="1890" y1="1185" x2="1892" y2="1205" stroke="#f0f0f0" stroke-width="1.8" opacity="0.7"/>
<line x1="2158" y1="1175" x2="2146" y2="1191" stroke="#5a5a5a" stroke-width="1.8" opacity="0.7"/>
<line x1="1907" y1="1060" x2="1894" y2="1047" stroke="#fff" stroke-width="1.8" opacity="0.7"/>
<line x1="2103" y1="1259" x2="2093" y2="1271" stroke="#4a4a4a" stroke-width="1.8" opacity="0.7"/>
<line x1="1993" y1="1132" x2="1986" y2="1110" stroke="#5a5a5a" stroke-width="1.8" opacity="0.7"/>
<line x1="2036" y1="1358" x2="2038" y2="1370" stroke="#6a6a6a" stroke-width="1.8" opacity="0.7"/>
<line x1="2098" y1="1070" x2="2114" y2="1063" stroke="#4a4a4a" stroke-width="1.8" opacity="0.7"/>
<line x1="1857" y1="1118" x2="1843" y2="1113" stroke="#4a4a4a" stroke-width="1.8" opacity="0.7"/>
<line x1="1945" y1="1281" x2="1949" y2="1304" stroke="#3a3a3a" stroke-width="1.8" opacity="0.7"/>
<line x1="1833" y1="1412" x2="1842" y2="1419" stroke="#3a3a3a" stroke-width="1.8" opacity="0.7"/>
<line x1="2054" y1="1208" x2="2055" y2="1220" stroke="#777" stroke-width="1.8" opacity="0.7"/>
<line x1="1996" y1="1213" x2="1994" y2="1225" stroke="#5a5a5a" stroke-width="1.8" opacity="0.7"/>
<line x1="1983" y1="1008" x2="1984" y2="993" stroke="#3a3a3a" stroke-width="1.8" opacity="0.7"/>
<line x1="2193" y1="1086" x2="2203" y2="1085" stroke="#f0f0f0" stroke-width="1.8" opacity="0.7"/>
<line x1="1836" y1="1155" x2="1851" y2="1167" stroke="#f0f0f0" stroke-width="1.8" opacity="0.7"/>
<line x1="2019" y1="1397" x2="2013" y2="1424" stroke="#f0f0f0" stroke-width="1.8" opacity="0.7"/>
<line x1="2118" y1="1433" x2="2111" y2="1447" stroke="#6a6a6a" stroke-width="1.8" opacity="0.7"/>
<line x1="2147" y1="1391" x2="2131" y2="1411" stroke="#f0f0f0" stroke-width="1.8" opacity="0.7"/>
<line x1="2014" y1="1218" x2="2014" y2="1230" stroke="#f0f0f0" stroke-width="1.8" opacity="0.7"/>
<line x1="1897" y1="1374" x2="1907" y2="1384" stroke="#f0f0f0" stroke-width="1.8" opacity="0.7"/>
<line x1="2051" y1="1061" x2="2060" y2="1050" stroke="#4a4a4a" stroke-width="1.8" opacity="0.7"/>
<line x1="2112" y1="1234" x2="2105" y2="1247" stroke="#f0f0f0" stroke-width="1.8" opacity="0.7"/>
<line x1="2086" y1="1437" x2="2081" y2="1455" stroke="#3a3a3a" stroke-width="1.8" opacity="0.7"/>
<line x1="2100" y1="1351" x2="2094" y2="1375" stroke="#777" stroke-width="1.8" opacity="0.7"/>
<line x1="2079" y1="1280" x2="2072" y2="1301" stroke="#5a5a5a" stroke-width="1.8" opacity="0.7"/>
<line x1="2157" y1="1247" x2="2144" y2="1262" stroke="#3a3a3a" stroke-width="1.8" opacity="0.7"/>
<line x1="2095" y1="1401" x2="2096" y2="1422" stroke="#777" stroke-width="1.8" opacity="0.7"/>
<line x1="1858" y1="1403" x2="1862" y2="1413" stroke="#6a6a6a" stroke-width="1.8" opacity="0.7"/>
<line x1="1927" y1="1247" x2="1926" y2="1271" stroke="#f0f0f0" stroke-width="1.8" opacity="0.7"/>
<line x1="2119" y1="1041" x2="2135" y2="1035" stroke="#6a6a6a" stroke-width="1.8" opacity="0.7"/>
<line x1="2063" y1="1480" x2="2058" y2="1500" stroke="#777" stroke-width="1.8" opacity="0.7"/>
<line x1="2101" y1="1364" x2="2089" y2="1386" stroke="#4a4a4a" stroke-width="1.8" opacity="0.7"/>
<line x1="2190" y1="1164" x2="2181" y2="1173" stroke="#6a6a6a" stroke-width="1.8" opacity="0.7"/>
<line x1="1918" y1="1163" x2="1922" y2="1177" stroke="#777" stroke-width="1.8" opacity="0.7"/>
<line x1="1868" y1="1469" x2="1879" y2="1494" stroke="#6a6a6a" stroke-width="1.8" opacity="0.7"/>
<line x1="1875" y1="1396" x2="1881" y2="1419" stroke="#f0f0f0" stroke-width="1.8" opacity="0.7"/>
<line x1="1987" y1="1191" x2="1991" y2="1215" stroke="#fff" stroke-width="1.8" opacity="0.7"/>
<line x1="1849" y1="1258" x2="1857" y2="1268" stroke="#4a4a4a" stroke-width="1.8" opacity="0.7"/>
<line x1="2154" y1="1241" x2="2148" y2="1267" stroke="#6a6a6a" stroke-width="1.8" opacity="0.7"/>
<line x1="1835" y1="1486" x2="1844" y2="1493" stroke="#5a5a5a" stroke-width="1.8" opacity="0.7"/>
<line x1="1882" y1="1366" x2="1884" y2="1382" stroke="#fff" stroke-width="1.8" opacity="0.7"/>
<line x1="2204" y1="1411" x2="2195" y2="1423" stroke="#fff" stroke-width="1.8" opacity="0.7"/>
<line x1="2105" y1="1432" x2="2095" y2="1449" stroke="#777" stroke-width="1.8" opacity="0.7"/>
<line x1="1907" y1="997" x2="1895" y2="980" stroke="#fff" stroke-width="1.8" opacity="0.7"/>
<line x1="1939" y1="1476" x2="1942" y2="1489" stroke="#4a4a4a" stroke-width="1.8" opacity="0.7"/>
<line x1="1827" y1="1127" x2="1801" y2="1126" stroke="#5a5a5a" stroke-width="1.8" opacity="0.7"/>
<line x1="1884" y1="1025" x2="1863" y2="1014" stroke="#6a6a6a" stroke-width="1.8" opacity="0.7"/>
<line x1="2002" y1="1377" x2="2007" y2="1396" stroke="#4a4a4a" stroke-width="1.8" opacity="0.7"/>
<line x1="2173" y1="1172" x2="2156" y2="1185" stroke="#fff" stroke-width="1.8" opacity="0.7"/>
<line x1="1829" y1="1429" x2="1841" y2="1444" stroke="#777" stroke-width="1.8" opacity="0.7"/>
<line x1="2073" y1="1444" x2="2064" y2="1458" stroke="#3a3a3a" stroke-width="1.8" opacity="0.7"/>
<line x1="1881" y1="1210" x2="1893" y2="1225" stroke="#f0f0f0" stroke-width="1.8" opacity="0.7"/>
<line x1="2118" y1="1184" x2="2113" y2="1199" stroke="#fff" stroke-width="1.8" opacity="0.7"/>
<line x1="1950" y1="1067" x2="1942" y2="1045" stroke="#6a6a6a" stroke-width="1.8" opacity="0.7"/>
<line x1="2102" y1="984" x2="2115" y2="968" stroke="#3a3a3a" stroke-width="1.8" opacity="0.7"/>
<line x1="2144" y1="1445" x2="2134" y2="1455" stroke="#f0f0f0" stroke-width="1.8" opacity="0.7"/>
<line x1="2150" y1="1029" x2="2172" y2="1023" stroke="#3a3a3a" stroke-width="1.8" opacity="0.7"/>
<line x1="2033" y1="1099" x2="2036" y2="1072" stroke="#6a6a6a" stroke-width="1.8" opacity="0.7"/>
<line x1="1887" y1="1061" x2="1876" y2="1044" stroke="#3a3a3a" stroke-width="1.8" opacity="0.7"/>
<line x1="2020" y1="1294" x2="2022" y2="1321" stroke="#3a3a3a" stroke-width="1.8" opacity="0.7"/>
<line x1="1863" y1="1281" x2="1868" y2="1307" stroke="#f0f0f0" stroke-width="1.8" opacity="0.7"/>
<line x1="2000" y1="1293" x2="1996" y2="1309" stroke="#5a5a5a" stroke-width="1.8" opacity="0.7"/>
<line x1="2052" y1="1423" x2="2040" y2="1447" stroke="#f0f0f0" stroke-width="1.8" opacity="0.7"/>
<line x1="2170" y1="1385" x2="2157" y2="1398" stroke="#6a6a6a" stroke-width="1.8" opacity="0.7"/>
<line x1="2156" y1="1497" x2="2150" y2="1507" stroke="#777" stroke-width="1.8" opacity="0.7"/>
<line x1="2164" y1="1325" x2="2161" y2="1340" stroke="#4a4a4a" stroke-width="1.8" opacity="0.7"/>
<line x1="1989" y1="1355" x2="1992" y2="1369" stroke="#3a3a3a" stroke-width="1.8" opacity="0.7"/>
<line x1="2132" y1="1364" x2="2123" y2="1390" stroke="#5a5a5a" stroke-width="1.8" opacity="0.7"/>
<line x1="2020" y1="1125" x2="2026" y2="1100" stroke="#5a5a5a" stroke-width="1.8" opacity="0.7"/>
<line x1="2148" y1="1336" x2="2139" y2="1353" stroke="#4a4a4a" stroke-width="1.8" opacity="0.7"/>
<line x1="2177" y1="1004" x2="2199" y2="999" stroke="#3a3a3a" stroke-width="1.8" opacity="0.7"/>
<line x1="1943" y1="1415" x2="1955" y2="1435" stroke="#fff" stroke-width="1.8" opacity="0.7"/>
<line x1="2151" y1="1330" x2="2141" y2="1339" stroke="#3a3a3a" stroke-width="1.8" opacity="0.7"/>
<line x1="2193" y1="1030" x2="2198" y2="1020" stroke="#4a4a4a" stroke-width="1.8" opacity="0.7"/>
<line x1="1972" y1="1384" x2="1974" y2="1396" stroke="#fff" stroke-width="1.8" opacity="0.7"/>
<line x1="1959" y1="1016" x2="1951" y2="1003" stroke="#f0f0f0" stroke-width="1.8" opacity="0.7"/>
<line x1="2059" y1="1153" x2="2051" y2="1170" stroke="#777" stroke-width="1.8" opacity="0.7"/>
<line x1="2185" y1="1193" x2="2173" y2="1204" stroke="#4a4a4a" stroke-width="1.8" opacity="0.7"/>
<line x1="1844" y1="1261" x2="1854" y2="1267" stroke="#6a6a6a" stroke-width="1.8" opacity="0.7"/>
<line x1="2084" y1="1076" x2="2105" y2="1065" stroke="#777" stroke-width="1.8" opacity="0.7"/>
<line x1="1937" y1="1238" x2="1935" y2="1254" stroke="#6a6a6a" stroke-width="1.8" opacity="0.7"/>
<line x1="2192" y1="1062" x2="2203" y2="1055" stroke="#f0f0f0" stroke-width="1.8" opacity="0.7"/>
<line x1="2202" y1="1419" x2="2192" y2="1444" stroke="#5a5a5a" stroke-width="1.8" opacity="0.7"/>
<line x1="2106" y1="1335" x2="2097" y2="1349" stroke="#5a5a5a" stroke-width="1.8" opacity="0.7"/>
<line x1="2181" y1="1333" x2="2174" y2="1342" stroke="#fff" stroke-width="1.8" opacity="0.7"/>
<line x1="2016" y1="1486" x2="2008" y2="1511" stroke="#f0f0f0" stroke-width="1.8" opacity="0.7"/>
<line x1="1844" y1="1281" x2="1847" y2="1291" stroke="#4a4a4a" stroke-width="1.8" opacity="0.7"/>
<line x1="2016" y1="1103" x2="2018" y2="1075" stroke="#5a5a5a" stroke-width="1.8" opacity="0.7"/>
<line x1="1852" y1="1440" x2="1868" y2="1455" stroke="#3a3a3a" stroke-width="1.8" opacity="0.7"/>
<line x1="1837" y1="1448" x2="1848" y2="1469" stroke="#f0f0f0" stroke-width="1.8" opacity="0.7"/>
<line x1="2126" y1="1466" x2="2124" y2="1484" stroke="#3a3a3a" stroke-width="1.8" opacity="0.7"/>
<line x1="2128" y1="1188" x2="2116" y2="1212" stroke="#6a6a6a" stroke-width="1.8" opacity="0.7"/>
<line x1="2127" y1="1000" x2="2137" y2="986" stroke="#fff" stroke-width="1.8" opacity="0.7"/>
<line x1="2005" y1="1308" x2="2006" y2="1330" stroke="#3a3a3a" stroke-width="1.8" opacity="0.7"/>
<line x1="2060" y1="1259" x2="2053" y2="1276" stroke="#f0f0f0" stroke-width="1.8" opacity="0.7"/>
<line x1="2156" y1="1399" x2="2146" y2="1425" stroke="#fff" stroke-width="1.8" opacity="0.7"/>
<line x1="1916" y1="1172" x2="1929" y2="1193" stroke="#6a6a6a" stroke-width="1.8" opacity="0.7"/>
<line x1="2000" y1="991" x2="1993" y2="971" stroke="#4a4a4a" stroke-width="1.8" opacity="0.7"/>
<line x1="1924" y1="1321" x2="1927" y2="1331" stroke="#5a5a5a" stroke-width="1.8" opacity="0.7"/>
<line x1="2172" y1="1358" x2="2160" y2="1380" stroke="#3a3a3a" stroke-width="1.8" opacity="0.7"/>
<line x1="1882" y1="1506" x2="1889" y2="1529" stroke="#6a6a6a" stroke-width="1.8" opacity="0.7"/>
<line x1="1950" y1="1329" x2="1961" y2="1349" stroke="#3a3a3a" stroke-width="1.8" opacity="0.7"/>
<line x1="2199" y1="1364" x2="2188" y2="1378" stroke="#3a3a3a" stroke-width="1.8" opacity="0.7"/>
<line x1="2127" y1="1464" x2="2113" y2="1485" stroke="#3a3a3a" stroke-width="1.8" opacity="0.7"/>
<line x1="1987" y1="1083" x2="1981" y2="1074" stroke="#6a6a6a" stroke-width="1.8" opacity="0.7"/>
<line x1="1877" y1="1198" x2="1882" y2="1208" stroke="#6a6a6a" stroke-width="1.8" opacity="0.7"/>
<line x1="1984" y1="1166" x2="1982" y2="1183" stroke="#777" stroke-width="1.8" opacity="0.7"/>
<line x1="2000" y1="1179" x2="2002" y2="1191" stroke="#fff" stroke-width="1.8" opacity="0.7"/>
<line x1="2152" y1="1139" x2="2164" y2="1124" stroke="#fff" stroke-width="1.8" opacity="0.7"/>
<line x1="1896" y1="1363" x2="1899" y2="1382" stroke="#fff" stroke-width="1.8" opacity="0.7"/>
<line x1="1927" y1="1161" x2="1928" y2="1171" stroke="#f0f0f0" stroke-width="1.8" opacity="0.7"/>
<line x1="2008" y1="1026" x2="2007" y2="1012" stroke="#3a3a3a" stroke-width="1.8" opacity="0.7"/>
<line x1="2118" y1="1195" x2="2103" y2="1211" stroke="#3a3a3a" stroke-width="1.8" opacity="0.7"/>
<line x1="2066" y1="1294" x2="2064" y2="1315" stroke="#5a5a5a" stroke-width="1.8" opacity="0.7"/>
<line x1="1887" y1="1325" x2="1895" y2="1342" stroke="#777" stroke-width="1.8" opacity="0.7"/>
<line x1="1919" y1="997" x2="1909" y2="981" stroke="#777" stroke-width="1.8" opacity="0.7"/>
<line x1="2068" y1="1230" x2="2059" y2="1253" stroke="#6a6a6a" stroke-width="1.8" opacity="0.7"/>
<line x1="1913" y1="1214" x2="1915" y2="1234" stroke="#777" stroke-width="1.8" opacity="0.7"/>
<line x1="1980" y1="1070" x2="1969" y2="1057" stroke="#4a4a4a" stroke-width="1.8" opacity="0.7"/>
<line x1="2021" y1="1274" x2="2026" y2="1292" stroke="#f0f0f0" stroke-width="1.8" opacity="0.7"/>
<line x1="1918" y1="1303" x2="1921" y2="1324" stroke="#4a4a4a" stroke-width="1.8" opacity="0.7"/>
<line x1="1949" y1="1264" x2="1945" y2="1290" stroke="#777" stroke-width="1.8" opacity="0.7"/>
<line x1="1996" y1="1444" x2="2001" y2="1461" stroke="#6a6a6a" stroke-width="1.8" opacity="0.7"/>
<line x1="1926" y1="1319" x2="1935" y2="1329" stroke="#777" stroke-width="1.8" opacity="0.7"/>
<line x1="2032" y1="1038" x2="2026" y2="1012" stroke="#f0f0f0" stroke-width="1.8" opacity="0.7"/>
<line x1="2177" y1="984" x2="2187" y2="974" stroke="#6a6a6a" stroke-width="1.8" opacity="0.7"/>
<line x1="2103" y1="1373" x2="2098" y2="1382" stroke="#f0f0f0" stroke-width="1.8" opacity="0.7"/>
<line x1="1937" y1="1315" x2="1945" y2="1329" stroke="#fff" stroke-width="1.8" opacity="0.7"/>
<line x1="1920" y1="1281" x2="1924" y2="1293" stroke="#fff" stroke-width="1.8" opacity="0.7"/>
<line x1="1965" y1="1031" x2="1952" y2="1019" stroke="#6a6a6a" stroke-width="1.8" opacity="0.7"/>
<line x1="2183" y1="1345" x2="2175" y2="1357" stroke="#6a6a6a" stroke-width="1.8" opacity="0.7"/>
<line x1="2144" y1="1222" x2="2125" y2="1239" stroke="#3a3a3a" stroke-width="1.8" opacity="0.7"/>
<line x1="2125" y1="1383" x2="2118" y2="1391" stroke="#5a5a5a" stroke-width="1.8" opacity="0.7"/>
<line x1="1872" y1="1399" x2="1882" y2="1416" stroke="#6a6a6a" stroke-width="1.8" opacity="0.7"/>
<line x1="1864" y1="1375" x2="1869" y2="1392" stroke="#777" stroke-width="1.8" opacity="0.7"/>
<line x1="2164" y1="1040" x2="2171" y2="1027" stroke="#fff" stroke-width="1.8" opacity="0.7"/>
<line x1="2124" y1="1171" x2="2121" y2="1198" stroke="#777" stroke-width="1.8" opacity="0.7"/>
<line x1="2180" y1="974" x2="2200" y2="965" stroke="#777" stroke-width="1.8" opacity="0.7"/>
<line x1="1896" y1="1166" x2="1900" y2="1176" stroke="#3a3a3a" stroke-width="1.8" opacity="0.7"/>
<line x1="2146" y1="976" x2="2160" y2="957" stroke="#3a3a3a" stroke-width="1.8" opacity="0.7"/>
<line x1="2192" y1="1293" x2="2181" y2="1306" stroke="#3a3a3a" stroke-width="1.8" opacity="0.7"/>
<line x1="1933" y1="1368" x2="1945" y2="1382" stroke="#5a5a5a" stroke-width="1.8" opacity="0.7"/>
<line x1="1863" y1="1113" x2="1844" y2="1097" stroke="#777" stroke-width="1.8" opacity="0.7"/>
<line x1="2040" y1="1076" x2="2048" y2="1065" stroke="#5a5a5a" stroke-width="1.8" opacity="0.7"/>
<line x1="2091" y1="1174" x2="2085" y2="1196" stroke="#5a5a5a" stroke-width="1.8" opacity="0.7"/>
<line x1="2075" y1="1050" x2="2086" y2="1033" stroke="#5a5a5a" stroke-width="1.8" opacity="0.7"/>
<line x1="1947" y1="1184" x2="1950" y2="1203" stroke="#777" stroke-width="1.8" opacity="0.7"/>
<line x1="1928" y1="1384" x2="1931" y2="1400" stroke="#4a4a4a" stroke-width="1.8" opacity="0.7"/>
<line x1="1976" y1="1151" x2="1973" y2="1165" stroke="#f0f0f0" stroke-width="1.8" opacity="0.7"/>
<line x1="1936" y1="1258" x2="1937" y2="1270" stroke="#3a3a3a" stroke-width="1.8" opacity="0.7"/>
<line x1="1990" y1="992" x2="1984" y2="970" stroke="#4a4a4a" stroke-width="1.8" opacity="0.7"/>
<line x1="2191" y1="1399" x2="2184" y2="1415" stroke="#3a3a3a" stroke-width="1.8" opacity="0.7"/>
<line x1="1903" y1="1179" x2="1910" y2="1187" stroke="#6a6a6a" stroke-width="1.8" opacity="0.7"/>
<line x1="2134" y1="1276" x2="2125" y2="1296" stroke="#f0f0f0" stroke-width="1.8" opacity="0.7"/>
<line x1="2003" y1="1182" x2="2005" y2="1210" stroke="#777" stroke-width="1.8" opacity="0.7"/>
<line x1="2070" y1="1501" x2="2069" y2="1517" stroke="#fff" stroke-width="1.8" opacity="0.7"/>
<line x1="2137" y1="1292" x2="2133" y2="1315" stroke="#5a5a5a" stroke-width="1.8" opacity="0.7"/>
<line x1="2097" y1="1143" x2="2107" y2="1138" stroke="#f0f0f0" stroke-width="1.8" opacity="0.7"/>
<line x1="1867" y1="1039" x2="1851" y2="1032" stroke="#777" stroke-width="1.8" opacity="0.7"/>
<line x1="1888" y1="1079" x2="1876" y2="1070" stroke="#777" stroke-width="1.8" opacity="0.7"/>
<line x1="1910" y1="973" x2="1900" y2="958" stroke="#fff" stroke-width="1.8" opacity="0.7"/>
<line x1="2154" y1="1376" x2="2139" y2="1396" stroke="#3a3a3a" stroke-width="1.8" opacity="0.7"/>
<line x1="2151" y1="1460" x2="2137" y2="1476" stroke="#777" stroke-width="1.8" opacity="0.7"/>
<line x1="1867" y1="1085" x2="1850" y2="1067" stroke="#5a5a5a" stroke-width="1.8" opacity="0.7"/>
<line x1="2172" y1="1165" x2="2157" y2="1182" stroke="#6a6a6a" stroke-width="1.8" opacity="0.7"/>
<line x1="2190" y1="1120" x2="2204" y2="1121" stroke="#4a4a4a" stroke-width="1.8" opacity="0.7"/>
<line x1="2146" y1="1218" x2="2138" y2="1243" stroke="#4a4a4a" stroke-width="1.8" opacity="0.7"/>
<line x1="2111" y1="1491" x2="2096" y2="1510" stroke="#f0f0f0" stroke-width="1.8" opacity="0.7"/>
<line x1="2054" y1="1366" x2="2049" y2="1380" stroke="#6a6a6a" stroke-width="1.8" opacity="0.7"/>
<line x1="1955" y1="1023" x2="1945" y2="1006" stroke="#777" stroke-width="1.8" opacity="0.7"/>
<line x1="1892" y1="1107" x2="1872" y2="1105" stroke="#6a6a6a" stroke-width="1.8" opacity="0.7"/>
<line x1="2153" y1="1280" x2="2133" y2="1295" stroke="#4a4a4a" stroke-width="1.8" opacity="0.7"/>
<line x1="1993" y1="1436" x2="1995" y2="1451" stroke="#fff" stroke-width="1.8" opacity="0.7"/>
<line x1="2020" y1="1356" x2="2019" y2="1371" stroke="#777" stroke-width="1.8" opacity="0.7"/>
<line x1="1825" y1="1042" x2="1812" y2="1023" stroke="#3a3a3a" stroke-width="1.8" opacity="0.7"/>
<line x1="1963" y1="1187" x2="1966" y2="1210" stroke="#5a5a5a" stroke-width="1.8" opacity="0.7"/>
<line x1="2198" y1="998" x2="2210" y2="992" stroke="#fff" stroke-width="1.8" opacity="0.7"/>
<line x1="1878" y1="1456" x2="1891" y2="1468" stroke="#f0f0f0" stroke-width="1.8" opacity="0.7"/>
<line x1="2152" y1="1137" x2="2161" y2="1132" stroke="#4a4a4a" stroke-width="1.8" opacity="0.7"/>
<line x1="1983" y1="1431" x2="1980" y2="1444" stroke="#f0f0f0" stroke-width="1.8" opacity="0.7"/>
<line x1="1895" y1="1001" x2="1873" y2="989" stroke="#6a6a6a" stroke-width="1.8" opacity="0.7"/>
<line x1="2114" y1="1097" x2="2122" y2="1085" stroke="#777" stroke-width="1.8" opacity="0.7"/>
<line x1="1842" y1="1422" x2="1852" y2="1438" stroke="#f0f0f0" stroke-width="1.8" opacity="0.7"/>
<line x1="1831" y1="1000" x2="1826" y2="988" stroke="#fff" stroke-width="1.8" opacity="0.7"/>
<line x1="1907" y1="1436" x2="1919" y2="1447" stroke="#6a6a6a" stroke-width="1.8" opacity="0.7"/>
<line x1="1936" y1="1035" x2="1935" y2="1017" stroke="#777" stroke-width="1.8" opacity="0.7"/>
<line x1="2096" y1="1150" x2="2114" y2="1134" stroke="#6a6a6a" stroke-width="1.8" opacity="0.7"/>
</g>
<line x1="2102" y1="1463" x2="2108" y2="1479" stroke="#4a4a4a" stroke-width="1.5" opacity="0.8"/>
<line x1="2182" y1="1231" x2="2199" y2="1225" stroke="#4a4a4a" stroke-width="1.5" opacity="0.8"/>
<line x1="1928" y1="1428" x2="1911" y2="1447" stroke="#4a4a4a" stroke-width="1.5" opacity="0.8"/>
<line x1="1886" y1="1313" x2="1872" y2="1326" stroke="#4a4a4a" stroke-width="1.5" opacity="0.8"/>
<line x1="2190" y1="1148" x2="2206" y2="1139" stroke="#4a4a4a" stroke-width="1.5" opacity="0.8"/>
<line x1="1842" y1="1149" x2="1824" y2="1145" stroke="#4a4a4a" stroke-width="1.5" opacity="0.8"/>
<line x1="2052" y1="1006" x2="2049" y2="990" stroke="#4a4a4a" stroke-width="1.5" opacity="0.8"/>
<line x1="1840" y1="1170" x2="1815" y2="1165" stroke="#4a4a4a" stroke-width="1.5" opacity="0.8"/>
<line x1="1925" y1="1398" x2="1914" y2="1415" stroke="#4a4a4a" stroke-width="1.5" opacity="0.8"/>
<line x1="1938" y1="1473" x2="1923" y2="1495" stroke="#4a4a4a" stroke-width="1.5" opacity="0.8"/>
<line x1="1988" y1="1491" x2="1992" y2="1514" stroke="#4a4a4a" stroke-width="1.5" opacity="0.8"/>
<line x1="1841" y1="1198" x2="1822" y2="1196" stroke="#4a4a4a" stroke-width="1.5" opacity="0.8"/>
<line x1="2187" y1="1137" x2="2210" y2="1119" stroke="#4a4a4a" stroke-width="1.5" opacity="0.8"/>
<line x1="1969" y1="1488" x2="1958" y2="1514" stroke="#4a4a4a" stroke-width="1.5" opacity="0.8"/>
<line x1="2063" y1="1483" x2="2068" y2="1503" stroke="#4a4a4a" stroke-width="1.5" opacity="0.8"/>
<line x1="2182" y1="1229" x2="2197" y2="1221" stroke="#4a4a4a" stroke-width="1.5" opacity="0.8"/>
<line x1="2068" y1="1016" x2="2073" y2="1000" stroke="#4a4a4a" stroke-width="1.5" opacity="0.8"/>
<line x1="1917" y1="1377" x2="1909" y2="1405" stroke="#4a4a4a" stroke-width="1.5" opacity="0.8"/>
<line x1="2011" y1="986" x2="2011" y2="969" stroke="#4a4a4a" stroke-width="1.5" opacity="0.8"/>
<line x1="1878" y1="1297" x2="1860" y2="1307" stroke="#4a4a4a" stroke-width="1.5" opacity="0.8"/>
<line x1="2185" y1="1198" x2="2206" y2="1184" stroke="#4a4a4a" stroke-width="1.5" opacity="0.8"/>
<line x1="1926" y1="1397" x2="1906" y2="1412" stroke="#4a4a4a" stroke-width="1.5" opacity="0.8"/>
<line x1="2052" y1="1486" x2="2050" y2="1509" stroke="#4a4a4a" stroke-width="1.5" opacity="0.8"/>
<line x1="2182" y1="1225" x2="2210" y2="1219" stroke="#4a4a4a" stroke-width="1.5" opacity="0.8"/>
<line x1="1918" y1="1369" x2="1898" y2="1382" stroke="#4a4a4a" stroke-width="1.5" opacity="0.8"/>
<line x1="1893" y1="1051" x2="1877" y2="1040" stroke="#4a4a4a" stroke-width="1.5" opacity="0.8"/>
<line x1="1845" y1="1212" x2="1823" y2="1216" stroke="#4a4a4a" stroke-width="1.5" opacity="0.8"/>
<line x1="1862" y1="1265" x2="1845" y2="1271" stroke="#4a4a4a" stroke-width="1.5" opacity="0.8"/>
<line x1="2149" y1="1427" x2="2164" y2="1440" stroke="#4a4a4a" stroke-width="1.5" opacity="0.8"/>
<line x1="1990" y1="989" x2="1983" y2="972" stroke="#4a4a4a" stroke-width="1.5" opacity="0.8"/>
<line x1="1884" y1="1310" x2="1862" y2="1312" stroke="#4a4a4a" stroke-width="1.5" opacity="0.8"/>
<line x1="2071" y1="1481" x2="2083" y2="1500" stroke="#4a4a4a" stroke-width="1.5" opacity="0.8"/>
<line x1="2159" y1="1082" x2="2173" y2="1063" stroke="#4a4a4a" stroke-width="1.5" opacity="0.8"/>
<line x1="2151" y1="1424" x2="2172" y2="1437" stroke="#4a4a4a" stroke-width="1.5" opacity="0.8"/>
<line x1="1879" y1="1299" x2="1866" y2="1310" stroke="#4a4a4a" stroke-width="1.5" opacity="0.8"/>
<line x1="1852" y1="1108" x2="1832" y2="1086" stroke="#4a4a4a" stroke-width="1.5" opacity="0.8"/>
<line x1="2071" y1="1481" x2="2075" y2="1505" stroke="#4a4a4a" stroke-width="1.5" opacity="0.8"/>
<line x1="1926" y1="1401" x2="1908" y2="1423" stroke="#4a4a4a" stroke-width="1.5" opacity="0.8"/>
<line x1="1925" y1="1421" x2="1920" y2="1444" stroke="#4a4a4a" stroke-width="1.5" opacity="0.8"/>
<line x1="1983" y1="991" x2="1979" y2="967" stroke="#4a4a4a" stroke-width="1.5" opacity="0.8"/>
<line x1="1922" y1="1433" x2="1920" y2="1459" stroke="#4a4a4a" stroke-width="1.5" opacity="0.8"/>
<line x1="1944" y1="1478" x2="1936" y2="1495" stroke="#4a4a4a" stroke-width="1.5" opacity="0.8"/>
<line x1="1922" y1="1401" x2="1920" y2="1422" stroke="#4a4a4a" stroke-width="1.5" opacity="0.8"/>
<line x1="1926" y1="1462" x2="1920" y2="1484" stroke="#4a4a4a" stroke-width="1.5" opacity="0.8"/>
<line x1="2182" y1="1333" x2="2201" y2="1337" stroke="#4a4a4a" stroke-width="1.5" opacity="0.8"/>
<line x1="1966" y1="1487" x2="1969" y2="1506" stroke="#4a4a4a" stroke-width="1.5" opacity="0.8"/>
<line x1="1863" y1="1081" x2="1852" y2="1058" stroke="#4a4a4a" stroke-width="1.5" opacity="0.8"/>
<line x1="1858" y1="1096" x2="1845" y2="1083" stroke="#4a4a4a" stroke-width="1.5" opacity="0.8"/>
<line x1="1882" y1="1305" x2="1856" y2="1309" stroke="#4a4a4a" stroke-width="1.5" opacity="0.8"/>
<line x1="1913" y1="1032" x2="1909" y2="1010" stroke="#4a4a4a" stroke-width="1.5" opacity="0.8"/>
<line x1="2172" y1="1390" x2="2193" y2="1402" stroke="#4a4a4a" stroke-width="1.5" opacity="0.8"/>
<line x1="2105" y1="1039" x2="2112" y2="1018" stroke="#4a4a4a" stroke-width="1.5" opacity="0.8"/>
<line x1="2132" y1="1056" x2="2140" y2="1029" stroke="#4a4a4a" stroke-width="1.5" opacity="0.8"/>
<line x1="2091" y1="1030" x2="2098" y2="1008" stroke="#4a4a4a" stroke-width="1.5" opacity="0.8"/>
<line x1="1857" y1="1259" x2="1829" y2="1251" stroke="#4a4a4a" stroke-width="1.5" opacity="0.8"/>
<line x1="1945" y1="1480" x2="1938" y2="1502" stroke="#4a4a4a" stroke-width="1.5" opacity="0.8"/>
<line x1="1896" y1="1048" x2="1888" y2="1032" stroke="#4a4a4a" stroke-width="1.5" opacity="0.8"/>
<line x1="2160" y1="1082" x2="2168" y2="1068" stroke="#4a4a4a" stroke-width="1.5" opacity="0.8"/>
<line x1="1917" y1="1379" x2="1914" y2="1396" stroke="#4a4a4a" stroke-width="1.5" opacity="0.8"/>
<line x1="1995" y1="1492" x2="1994" y2="1509" stroke="#4a4a4a" stroke-width="1.5" opacity="0.8"/>
<line x1="2098" y1="1034" x2="2105" y2="1005" stroke="#4a4a4a" stroke-width="1.5" opacity="0.8"/>
<line x1="1991" y1="989" x2="1985" y2="961" stroke="#4a4a4a" stroke-width="1.5" opacity="0.8"/>
<line x1="2000" y1="1493" x2="1989" y2="1518" stroke="#4a4a4a" stroke-width="1.5" opacity="0.8"/>
<line x1="1901" y1="1043" x2="1885" y2="1026" stroke="#4a4a4a" stroke-width="1.5" opacity="0.8"/>
<line x1="1861" y1="1264" x2="1834" y2="1266" stroke="#4a4a4a" stroke-width="1.5" opacity="0.8"/>
<line x1="1903" y1="1344" x2="1886" y2="1367" stroke="#4a4a4a" stroke-width="1.5" opacity="0.8"/>
<line x1="2183" y1="1126" x2="2194" y2="1113" stroke="#4a4a4a" stroke-width="1.5" opacity="0.8"/>
<line x1="1925" y1="1397" x2="1907" y2="1417" stroke="#4a4a4a" stroke-width="1.5" opacity="0.8"/>
<line x1="1896" y1="1331" x2="1884" y2="1345" stroke="#4a4a4a" stroke-width="1.5" opacity="0.8"/>
<line x1="1842" y1="1207" x2="1817" y2="1198" stroke="#4a4a4a" stroke-width="1.5" opacity="0.8"/>
<line x1="1935" y1="1472" x2="1934" y2="1490" stroke="#4a4a4a" stroke-width="1.5" opacity="0.8"/>
<line x1="2156" y1="1076" x2="2166" y2="1049" stroke="#4a4a4a" stroke-width="1.5" opacity="0.8"/>
<line x1="1839" y1="1180" x2="1818" y2="1173" stroke="#4a4a4a" stroke-width="1.5" opacity="0.8"/>
<line x1="2182" y1="1220" x2="2201" y2="1224" stroke="#4a4a4a" stroke-width="1.5" opacity="0.8"/>
<line x1="1992" y1="1491" x2="1989" y2="1518" stroke="#4a4a4a" stroke-width="1.5" opacity="0.8"/>
<line x1="1879" y1="1300" x2="1864" y2="1313" stroke="#4a4a4a" stroke-width="1.5" opacity="0.8"/>
<line x1="2024" y1="1493" x2="2019" y2="1512" stroke="#4a4a4a" stroke-width="1.5" opacity="0.8"/>
<line x1="1924" y1="1426" x2="1920" y2="1444" stroke="#4a4a4a" stroke-width="1.5" opacity="0.8"/>
<line x1="1923" y1="1025" x2="1909" y2="1001" stroke="#4a4a4a" stroke-width="1.5" opacity="0.8"/>
<line x1="2093" y1="1471" x2="2093" y2="1487" stroke="#4a4a4a" stroke-width="1.5" opacity="0.8"/>
<line x1="2150" y1="1069" x2="2166" y2="1050" stroke="#4a4a4a" stroke-width="1.5" opacity="0.8"/>
<line x1="1904" y1="1039" x2="1898" y2="1011" stroke="#4a4a4a" stroke-width="1.5" opacity="0.8"/>
<line x1="2179" y1="1263" x2="2200" y2="1263" stroke="#4a4a4a" stroke-width="1.5" opacity="0.8"/>
<line x1="1988" y1="1491" x2="1986" y2="1512" stroke="#4a4a4a" stroke-width="1.5" opacity="0.8"/>
<line x1="1841" y1="1147" x2="1822" y2="1135" stroke="#4a4a4a" stroke-width="1.5" opacity="0.8"/>
<line x1="2012" y1="1495" x2="2018" y2="1520" stroke="#4a4a4a" stroke-width="1.5" opacity="0.8"/>
<line x1="2053" y1="1486" x2="2050" y2="1505" stroke="#4a4a4a" stroke-width="1.5" opacity="0.8"/>
<line x1="1907" y1="1350" x2="1893" y2="1361" stroke="#4a4a4a" stroke-width="1.5" opacity="0.8"/>
<line x1="2037" y1="1489" x2="2045" y2="1505" stroke="#4a4a4a" stroke-width="1.5" opacity="0.8"/>
<line x1="2112" y1="1043" x2="2120" y2="1029" stroke="#4a4a4a" stroke-width="1.5" opacity="0.8"/>
<line x1="1950" y1="1006" x2="1937" y2="989" stroke="#4a4a4a" stroke-width="1.5" opacity="0.8"/>
<line x1="2186" y1="1182" x2="2201" y2="1173" stroke="#4a4a4a" stroke-width="1.5" opacity="0.8"/>
<line x1="1839" y1="1171" x2="1818" y2="1158" stroke="#4a4a4a" stroke-width="1.5" opacity="0.8"/>
<line x1="2175" y1="1108" x2="2193" y2="1097" stroke="#4a4a4a" stroke-width="1.5" opacity="0.8"/>
<line x1="2182" y1="1358" x2="2204" y2="1376" stroke="#4a4a4a" stroke-width="1.5" opacity="0.8"/>
<line x1="2133" y1="1056" x2="2141" y2="1040" stroke="#4a4a4a" stroke-width="1.5" opacity="0.8"/>
<line x1="2176" y1="1379" x2="2195" y2="1395" stroke="#4a4a4a" stroke-width="1.5" opacity="0.8"/>
<line x1="1906" y1="1350" x2="1893" y2="1374" stroke="#4a4a4a" stroke-width="1.5" opacity="0.8"/>
<line x1="2181" y1="1235" x2="2206" y2="1240" stroke="#4a4a4a" stroke-width="1.5" opacity="0.8"/>
<line x1="2187" y1="1164" x2="2206" y2="1161" stroke="#4a4a4a" stroke-width="1.5" opacity="0.8"/>
<line x1="2182" y1="1227" x2="2198" y2="1222" stroke="#4a4a4a" stroke-width="1.5" opacity="0.8"/>
<line x1="2159" y1="1415" x2="2172" y2="1424" stroke="#4a4a4a" stroke-width="1.5" opacity="0.8"/>
<line x1="2149" y1="1068" x2="2166" y2="1046" stroke="#4a4a4a" stroke-width="1.5" opacity="0.8"/>
<line x1="2186" y1="1191" x2="2200" y2="1180" stroke="#4a4a4a" stroke-width="1.5" opacity="0.8"/>
<line x1="2144" y1="1434" x2="2151" y2="1460" stroke="#4a4a4a" stroke-width="1.5" opacity="0.8"/>
<line x1="1839" y1="1199" x2="1820" y2="1187" stroke="#4a4a4a" stroke-width="1.5" opacity="0.8"/>
<line x1="1923" y1="1461" x2="1922" y2="1486" stroke="#4a4a4a" stroke-width="1.5" opacity="0.8"/>
<line x1="1992" y1="989" x2="1988" y2="967" stroke="#4a4a4a" stroke-width="1.5" opacity="0.8"/>
<line x1="1866" y1="1078" x2="1851" y2="1062" stroke="#4a4a4a" stroke-width="1.5" opacity="0.8"/>
<line x1="2181" y1="1289" x2="2195" y2="1301" stroke="#4a4a4a" stroke-width="1.5" opacity="0.8"/>
<line x1="1925" y1="1453" x2="1912" y2="1469" stroke="#4a4a4a" stroke-width="1.5" opacity="0.8"/>
<line x1="1926" y1="1424" x2="1919" y2="1441" stroke="#4a4a4a" stroke-width="1.5" opacity="0.8"/>
<line x1="1883" y1="1308" x2="1870" y2="1318" stroke="#4a4a4a" stroke-width="1.5" opacity="0.8"/>
<line x1="2005" y1="987" x2="2010" y2="963" stroke="#4a4a4a" stroke-width="1.5" opacity="0.8"/>
<line x1="2122" y1="1049" x2="2135" y2="1036" stroke="#4a4a4a" stroke-width="1.5" opacity="0.8"/>
<line x1="1841" y1="1154" x2="1826" y2="1144" stroke="#4a4a4a" stroke-width="1.5" opacity="0.8"/>
<line x1="1944" y1="1481" x2="1943" y2="1503" stroke="#4a4a4a" stroke-width="1.5" opacity="0.8"/>
<line x1="2048" y1="1004" x2="2045" y2="980" stroke="#4a4a4a" stroke-width="1.5" opacity="0.8"/>
<line x1="1849" y1="1233" x2="1831" y2="1228" stroke="#4a4a4a" stroke-width="1.5" opacity="0.8"/>
<line x1="2118" y1="1047" x2="2132" y2="1034" stroke="#4a4a4a" stroke-width="1.5" opacity="0.8"/>
<line x1="2045" y1="1004" x2="2054" y2="989" stroke="#4a4a4a" stroke-width="1.5" opacity="0.8"/>
<line x1="2099" y1="1466" x2="2107" y2="1492" stroke="#4a4a4a" stroke-width="1.5" opacity="0.8"/>
<line x1="1983" y1="1490" x2="1983" y2="1517" stroke="#4a4a4a" stroke-width="1.5" opacity="0.8"/>
<line x1="1923" y1="1435" x2="1918" y2="1458" stroke="#4a4a4a" stroke-width="1.5" opacity="0.8"/>
<line x1="1854" y1="1249" x2="1829" y2="1257" stroke="#4a4a4a" stroke-width="1.5" opacity="0.8"/>
<line x1="1926" y1="1445" x2="1913" y2="1461" stroke="#4a4a4a" stroke-width="1.5" opacity="0.8"/>
<line x1="2061" y1="1484" x2="2059" y2="1508" stroke="#4a4a4a" stroke-width="1.5" opacity="0.8"/>
<line x1="1894" y1="1049" x2="1889" y2="1027" stroke="#4a4a4a" stroke-width="1.5" opacity="0.8"/>
<line x1="1848" y1="1225" x2="1831" y2="1229" stroke="#4a4a4a" stroke-width="1.5" opacity="0.8"/>
<line x1="2182" y1="1323" x2="2207" y2="1335" stroke="#4a4a4a" stroke-width="1.5" opacity="0.8"/>
<line x1="1848" y1="1119" x2="1832" y2="1099" stroke="#4a4a4a" stroke-width="1.5" opacity="0.8"/>
<line x1="2120" y1="1048" x2="2129" y2="1028" stroke="#4a4a4a" stroke-width="1.5" opacity="0.8"/>
<line x1="1864" y1="1081" x2="1848" y2="1069" stroke="#4a4a4a" stroke-width="1.5" opacity="0.8"/>
<line x1="2110" y1="1459" x2="2115" y2="1476" stroke="#4a4a4a" stroke-width="1.5" opacity="0.8"/>
<line x1="2179" y1="1270" x2="2204" y2="1283" stroke="#4a4a4a" stroke-width="1.5" opacity="0.8"/>
<line x1="1845" y1="1124" x2="1830" y2="1099" stroke="#4a4a4a" stroke-width="1.5" opacity="0.8"/>
<line x1="1873" y1="1071" x2="1856" y2="1056" stroke="#4a4a4a" stroke-width="1.5" opacity="0.8"/>
<line x1="1908" y1="1036" x2="1899" y2="1015" stroke="#4a4a4a" stroke-width="1.5" opacity="0.8"/>
<line x1="2091" y1="1472" x2="2090" y2="1496" stroke="#4a4a4a" stroke-width="1.5" opacity="0.8"/>
<line x1="1863" y1="1266" x2="1838" y2="1277" stroke="#4a4a4a" stroke-width="1.5" opacity="0.8"/>
<line x1="2178" y1="1376" x2="2195" y2="1400" stroke="#4a4a4a" stroke-width="1.5" opacity="0.8"/>
<line x1="2155" y1="1419" x2="2168" y2="1429" stroke="#4a4a4a" stroke-width="1.5" opacity="0.8"/>
<line x1="2089" y1="1472" x2="2098" y2="1493" stroke="#4a4a4a" stroke-width="1.5" opacity="0.8"/>
<line x1="1928" y1="1414" x2="1914" y2="1436" stroke="#4a4a4a" stroke-width="1.5" opacity="0.8"/>
<line x1="1838" y1="1183" x2="1811" y2="1185" stroke="#4a4a4a" stroke-width="1.5" opacity="0.8"/>
<line x1="2179" y1="1258" x2="2195" y2="1262" stroke="#4a4a4a" stroke-width="1.5" opacity="0.8"/>
<line x1="1923" y1="1446" x2="1918" y2="1461" stroke="#4a4a4a" stroke-width="1.5" opacity="0.8"/>
<line x1="2005" y1="1494" x2="2000" y2="1513" stroke="#4a4a4a" stroke-width="1.5" opacity="0.8"/>
<line x1="2094" y1="1032" x2="2114" y2="1010" stroke="#4a4a4a" stroke-width="1.5" opacity="0.8"/>
<line x1="2181" y1="1240" x2="2203" y2="1248" stroke="#4a4a4a" stroke-width="1.5" opacity="0.8"/>
<line x1="2094" y1="1468" x2="2106" y2="1485" stroke="#4a4a4a" stroke-width="1.5" opacity="0.8"/>
<line x1="1853" y1="1243" x2="1826" y2="1249" stroke="#4a4a4a" stroke-width="1.5" opacity="0.8"/>
<line x1="1901" y1="1341" x2="1886" y2="1366" stroke="#4a4a4a" stroke-width="1.5" opacity="0.8"/>
<line x1="2173" y1="1102" x2="2187" y2="1091" stroke="#4a4a4a" stroke-width="1.5" opacity="0.8"/>
<line x1="1871" y1="1072" x2="1864" y2="1049" stroke="#4a4a4a" stroke-width="1.5" opacity="0.8"/>
<line x1="1864" y1="1269" x2="1842" y2="1285" stroke="#4a4a4a" stroke-width="1.5" opacity="0.8"/>
<line x1="2175" y1="1386" x2="2185" y2="1404" stroke="#4a4a4a" stroke-width="1.5" opacity="0.8"/>
<line x1="2004" y1="986" x2="2009" y2="971" stroke="#4a4a4a" stroke-width="1.5" opacity="0.8"/>
<line x1="1924" y1="1416" x2="1922" y2="1446" stroke="#4a4a4a" stroke-width="1.5" opacity="0.8"/>
<line x1="2182" y1="1329" x2="2207" y2="1338" stroke="#4a4a4a" stroke-width="1.5" opacity="0.8"/>
<line x1="1985" y1="990" x2="1981" y2="961" stroke="#4a4a4a" stroke-width="1.5" opacity="0.8"/>
<line x1="2167" y1="1093" x2="2182" y2="1077" stroke="#4a4a4a" stroke-width="1.5" opacity="0.8"/>
<line x1="2178" y1="1112" x2="2194" y2="1093" stroke="#4a4a4a" stroke-width="1.5" opacity="0.8"/>
<line x1="2160" y1="1415" x2="2167" y2="1437" stroke="#4a4a4a" stroke-width="1.5" opacity="0.8"/>
<line x1="1922" y1="1025" x2="1919" y2="995" stroke="#4a4a4a" stroke-width="1.5" opacity="0.8"/>
<line x1="1887" y1="1315" x2="1866" y2="1320" stroke="#4a4a4a" stroke-width="1.5" opacity="0.8"/>
<line x1="1872" y1="1285" x2="1851" y2="1292" stroke="#4a4a4a" stroke-width="1.5" opacity="0.8"/>
<line x1="1867" y1="1077" x2="1851" y2="1065" stroke="#4a4a4a" stroke-width="1.5" opacity="0.8"/>
<line x1="2060" y1="1484" x2="2065" y2="1505" stroke="#4a4a4a" stroke-width="1.5" opacity="0.8"/>
<line x1="2181" y1="1240" x2="2209" y2="1249" stroke="#4a4a4a" stroke-width="1.5" opacity="0.8"/>
<line x1="2169" y1="1094" x2="2176" y2="1080" stroke="#4a4a4a" stroke-width="1.5" opacity="0.8"/>
<line x1="2084" y1="1476" x2="2083" y2="1504" stroke="#4a4a4a" stroke-width="1.5" opacity="0.8"/>
<line x1="2166" y1="1406" x2="2183" y2="1422" stroke="#4a4a4a" stroke-width="1.5" opacity="0.8"/>
<line x1="1839" y1="1193" x2="1812" y2="1187" stroke="#4a4a4a" stroke-width="1.5" opacity="0.8"/>
<line x1="1860" y1="1262" x2="1834" y2="1271" stroke="#4a4a4a" stroke-width="1.5" opacity="0.8"/>
<line x1="1879" y1="1300" x2="1863" y2="1317" stroke="#4a4a4a" stroke-width="1.5" opacity="0.8"/>
<line x1="2182" y1="1318" x2="2200" y2="1328" stroke="#4a4a4a" stroke-width="1.5" opacity="0.8"/>
<line x1="2159" y1="1081" x2="2166" y2="1066" stroke="#4a4a4a" stroke-width="1.5" opacity="0.8"/>
<line x1="2167" y1="1405" x2="2187" y2="1419" stroke="#4a4a4a" stroke-width="1.5" opacity="0.8"/>
<line x1="1932" y1="1467" x2="1915" y2="1489" stroke="#4a4a4a" stroke-width="1.5" opacity="0.8"/>
<line x1="2028" y1="1492" x2="2026" y2="1510" stroke="#4a4a4a" stroke-width="1.5" opacity="0.8"/>
<line x1="2030" y1="996" x2="2040" y2="977" stroke="#4a4a4a" stroke-width="1.5" opacity="0.8"/>
<line x1="1942" y1="1477" x2="1934" y2="1491" stroke="#4a4a4a" stroke-width="1.5" opacity="0.8"/>
<line x1="1860" y1="1261" x2="1842" y2="1271" stroke="#4a4a4a" stroke-width="1.5" opacity="0.8"/>
<line x1="2186" y1="1190" x2="2207" y2="1174" stroke="#4a4a4a" stroke-width="1.5" opacity="0.8"/>
<line x1="1909" y1="1035" x2="1890" y2="1019" stroke="#4a4a4a" stroke-width="1.5" opacity="0.8"/>
<line x1="1922" y1="1443" x2="1917" y2="1468" stroke="#4a4a4a" stroke-width="1.5" opacity="0.8"/>
<line x1="2113" y1="1457" x2="2116" y2="1482" stroke="#4a4a4a" stroke-width="1.5" opacity="0.8"/>
<line x1="1859" y1="1093" x2="1843" y2="1086" stroke="#4a4a4a" stroke-width="1.5" opacity="0.8"/>
<line x1="1958" y1="998" x2="1958" y2="978" stroke="#4a4a4a" stroke-width="1.5" opacity="0.8"/>
<line x1="1879" y1="1299" x2="1862" y2="1317" stroke="#4a4a4a" stroke-width="1.5" opacity="0.8"/>
<line x1="2176" y1="1374" x2="2192" y2="1380" stroke="#4a4a4a" stroke-width="1.5" opacity="0.8"/>
<line x1="1888" y1="1316" x2="1866" y2="1326" stroke="#4a4a4a" stroke-width="1.5" opacity="0.8"/>
<line x1="1841" y1="1155" x2="1823" y2="1153" stroke="#4a4a4a" stroke-width="1.5" opacity="0.8"/>
<line x1="2170" y1="1098" x2="2195" y2="1087" stroke="#4a4a4a" stroke-width="1.5" opacity="0.8"/>
<line x1="2154" y1="1073" x2="2164" y2="1051" stroke="#4a4a4a" stroke-width="1.5" opacity="0.8"/>
<line x1="2086" y1="1027" x2="2101" y2="1002" stroke="#4a4a4a" stroke-width="1.5" opacity="0.8"/>
<line x1="2159" y1="1082" x2="2176" y2="1062" stroke="#4a4a4a" stroke-width="1.5" opacity="0.8"/>
<line x1="1901" y1="1339" x2="1877" y2="1353" stroke="#4a4a4a" stroke-width="1.5" opacity="0.8"/>
<line x1="2117" y1="1046" x2="2123" y2="1020" stroke="#4a4a4a" stroke-width="1.5" opacity="0.8"/>
<line x1="1922" y1="1459" x2="1918" y2="1485" stroke="#4a4a4a" stroke-width="1.5" opacity="0.8"/>
<line x1="2050" y1="1007" x2="2061" y2="985" stroke="#4a4a4a" stroke-width="1.5" opacity="0.8"/>
<line x1="1957" y1="998" x2="1961" y2="976" stroke="#4a4a4a" stroke-width="1.5" opacity="0.8"/>
<line x1="1839" y1="1181" x2="1813" y2="1176" stroke="#4a4a4a" stroke-width="1.5" opacity="0.8"/>
<line x1="1998" y1="988" x2="1991" y2="972" stroke="#4a4a4a" stroke-width="1.5" opacity="0.8"/>
<line x1="1918" y1="1028" x2="1914" y2="1011" stroke="#4a4a4a" stroke-width="1.5" opacity="0.8"/>
<line x1="2084" y1="1025" x2="2089" y2="997" stroke="#4a4a4a" stroke-width="1.5" opacity="0.8"/>
<line x1="1885" y1="1310" x2="1868" y2="1320" stroke="#4a4a4a" stroke-width="1.5" opacity="0.8"/>
<line x1="2182" y1="1332" x2="2203" y2="1335" stroke="#4a4a4a" stroke-width="1.5" opacity="0.8"/>
<line x1="1913" y1="1031" x2="1911" y2="1006" stroke="#4a4a4a" stroke-width="1.5" opacity="0.8"/>
<line x1="1841" y1="1204" x2="1817" y2="1196" stroke="#4a4a4a" stroke-width="1.5" opacity="0.8"/>
<line x1="2180" y1="1253" x2="2208" y2="1254" stroke="#4a4a4a" stroke-width="1.5" opacity="0.8"/>
<line x1="2178" y1="1373" x2="2197" y2="1394" stroke="#4a4a4a" stroke-width="1.5" opacity="0.8"/>
<line x1="2181" y1="1301" x2="2206" y2="1317" stroke="#4a4a4a" stroke-width="1.5" opacity="0.8"/>
<line x1="1899" y1="1337" x2="1889" y2="1352" stroke="#4a4a4a" stroke-width="1.5" opacity="0.8"/>
<line x1="2187" y1="1137" x2="2201" y2="1125" stroke="#4a4a4a" stroke-width="1.5" opacity="0.8"/>
<line x1="1862" y1="1086" x2="1846" y2="1078" stroke="#4a4a4a" stroke-width="1.5" opacity="0.8"/>
<line x1="2187" y1="1181" x2="2206" y2="1168" stroke="#4a4a4a" stroke-width="1.5" opacity="0.8"/>
<line x1="2179" y1="1374" x2="2190" y2="1396" stroke="#4a4a4a" stroke-width="1.5" opacity="0.8"/>
<line x1="2011" y1="986" x2="2015" y2="962" stroke="#4a4a4a" stroke-width="1.5" opacity="0.8"/>
<line x1="1952" y1="1485" x2="1952" y2="1506" stroke="#4a4a4a" stroke-width="1.5" opacity="0.8"/>
<line x1="1921" y1="1397" x2="1917" y2="1425" stroke="#4a4a4a" stroke-width="1.5" opacity="0.8"/>
<line x1="1957" y1="1486" x2="1950" y2="1501" stroke="#4a4a4a" stroke-width="1.5" opacity="0.8"/>
<line x1="1947" y1="1482" x2="1938" y2="1507" stroke="#4a4a4a" stroke-width="1.5" opacity="0.8"/>
<line x1="1987" y1="990" x2="1980" y2="974" stroke="#4a4a4a" stroke-width="1.5" opacity="0.8"/>
<line x1="2179" y1="1373" x2="2192" y2="1394" stroke="#4a4a4a" stroke-width="1.5" opacity="0.8"/>
<line x1="1987" y1="990" x2="1976" y2="966" stroke="#4a4a4a" stroke-width="1.5" opacity="0.8"/>
<line x1="1847" y1="1225" x2="1829" y2="1219" stroke="#4a4a4a" stroke-width="1.5" opacity="0.8"/>
<line x1="1977" y1="991" x2="1978" y2="967" stroke="#4a4a4a" stroke-width="1.5" opacity="0.8"/>
<line x1="1975" y1="1489" x2="1966" y2="1511" stroke="#4a4a4a" stroke-width="1.5" opacity="0.8"/>
<line x1="2008" y1="1494" x2="2011" y2="1517" stroke="#4a4a4a" stroke-width="1.5" opacity="0.8"/>
<line x1="1926" y1="1449" x2="1912" y2="1464" stroke="#4a4a4a" stroke-width="1.5" opacity="0.8"/>
<line x1="2182" y1="1222" x2="2205" y2="1228" stroke="#4a4a4a" stroke-width="1.5" opacity="0.8"/>
<line x1="1839" y1="1167" x2="1816" y2="1149" stroke="#4a4a4a" stroke-width="1.5" opacity="0.8"/>
<line x1="2008" y1="986" x2="2012" y2="970" stroke="#4a4a4a" stroke-width="1.5" opacity="0.8"/>
<line x1="1971" y1="1488" x2="1959" y2="1512" stroke="#4a4a4a" stroke-width="1.5" opacity="0.8"/>
<line x1="1934" y1="1470" x2="1929" y2="1497" stroke="#4a4a4a" stroke-width="1.5" opacity="0.8"/>
<line x1="1927" y1="1416" x2="1919" y2="1435" stroke="#4a4a4a" stroke-width="1.5" opacity="0.8"/>
<line x1="2014" y1="986" x2="2005" y2="960" stroke="#4a4a4a" stroke-width="1.5" opacity="0.8"/>
<line x1="2143" y1="1434" x2="2152" y2="1449" stroke="#4a4a4a" stroke-width="1.5" opacity="0.8"/>
<line x1="2191" y1="1154" x2="2207" y2="1138" stroke="#4a4a4a" stroke-width="1.5" opacity="0.8"/>
<line x1="2190" y1="1160" x2="2203" y2="1147" stroke="#4a4a4a" stroke-width="1.5" opacity="0.8"/>
<line x1="1861" y1="1085" x2="1848" y2="1068" stroke="#4a4a4a" stroke-width="1.5" opacity="0.8"/>
<line x1="2185" y1="1182" x2="2210" y2="1181" stroke="#4a4a4a" stroke-width="1.5" opacity="0.8"/>
<line x1="1915" y1="1368" x2="1909" y2="1387" stroke="#4a4a4a" stroke-width="1.5" opacity="0.8"/>
<line x1="1863" y1="1085" x2="1844" y2="1074" stroke="#4a4a4a" stroke-width="1.5" opacity="0.8"/>
<line x1="2048" y1="1486" x2="2060" y2="1512" stroke="#4a4a4a" stroke-width="1.5" opacity="0.8"/>
<line x1="2154" y1="1075" x2="2174" y2="1055" stroke="#4a4a4a" stroke-width="1.5" opacity="0.8"/>
<line x1="1886" y1="1059" x2="1871" y2="1045" stroke="#4a4a4a" stroke-width="1.5" opacity="0.8"/>
<line x1="2129" y1="1054" x2="2133" y2="1037" stroke="#4a4a4a" stroke-width="1.5" opacity="0.8"/>
<line x1="1920" y1="1455" x2="1918" y2="1472" stroke="#4a4a4a" stroke-width="1.5" opacity="0.8"/>
<line x1="2179" y1="1291" x2="2208" y2="1292" stroke="#4a4a4a" stroke-width="1.5" opacity="0.8"/>
<line x1="1871" y1="1284" x2="1850" y2="1299" stroke="#4a4a4a" stroke-width="1.5" opacity="0.8"/>
<line x1="1927" y1="1436" x2="1914" y2="1451" stroke="#4a4a4a" stroke-width="1.5" opacity="0.8"/>
<line x1="2127" y1="1053" x2="2135" y2="1030" stroke="#4a4a4a" stroke-width="1.5" opacity="0.8"/>
<line x1="1840" y1="1165" x2="1821" y2="1157" stroke="#4a4a4a" stroke-width="1.5" opacity="0.8"/>
<line x1="2188" y1="1169" x2="2204" y2="1157" stroke="#4a4a4a" stroke-width="1.5" opacity="0.8"/>
<line x1="1898" y1="1335" x2="1884" y2="1354" stroke="#4a4a4a" stroke-width="1.5" opacity="0.8"/>
<line x1="1903" y1="1344" x2="1890" y2="1367" stroke="#4a4a4a" stroke-width="1.5" opacity="0.8"/>
<line x1="1861" y1="1264" x2="1834" y2="1263" stroke="#4a4a4a" stroke-width="1.5" opacity="0.8"/>
<line x1="2139" y1="1438" x2="2156" y2="1456" stroke="#4a4a4a" stroke-width="1.5" opacity="0.8"/>
<line x1="2050" y1="1007" x2="2063" y2="981" stroke="#4a4a4a" stroke-width="1.5" opacity="0.8"/>
<line x1="1932" y1="1017" x2="1932" y2="992" stroke="#4a4a4a" stroke-width="1.5" opacity="0.8"/>
<line x1="2060" y1="1484" x2="2057" y2="1503" stroke="#4a4a4a" stroke-width="1.5" opacity="0.8"/>
<line x1="1855" y1="1254" x2="1839" y2="1253" stroke="#4a4a4a" stroke-width="1.5" opacity="0.8"/>
<line x1="2139" y1="1060" x2="2151" y2="1047" stroke="#4a4a4a" stroke-width="1.5" opacity="0.8"/>
<line x1="2185" y1="1351" x2="2197" y2="1368" stroke="#4a4a4a" stroke-width="1.5" opacity="0.8"/>
<line x1="2172" y1="1100" x2="2185" y2="1088" stroke="#4a4a4a" stroke-width="1.5" opacity="0.8"/>
<line x1="2066" y1="1014" x2="2065" y2="992" stroke="#4a4a4a" stroke-width="1.5" opacity="0.8"/>
<line x1="2112" y1="1458" x2="2115" y2="1487" stroke="#4a4a4a" stroke-width="1.5" opacity="0.8"/>
<line x1="1844" y1="1209" x2="1820" y2="1211" stroke="#4a4a4a" stroke-width="1.5" opacity="0.8"/>
<line x1="1855" y1="1104" x2="1827" y2="1094" stroke="#4a4a4a" stroke-width="1.5" opacity="0.8"/>
<line x1="1905" y1="1039" x2="1894" y2="1020" stroke="#4a4a4a" stroke-width="1.5" opacity="0.8"/>
<line x1="2157" y1="1417" x2="2176" y2="1440" stroke="#4a4a4a" stroke-width="1.5" opacity="0.8"/>
<line x1="2131" y1="1055" x2="2141" y2="1030" stroke="#4a4a4a" stroke-width="1.5" opacity="0.8"/>
<line x1="2124" y1="1449" x2="2139" y2="1467" stroke="#4a4a4a" stroke-width="1.5" opacity="0.8"/>
<line x1="1838" y1="1194" x2="1811" y2="1182" stroke="#4a4a4a" stroke-width="1.5" opacity="0.8"/>
<line x1="1838" y1="1184" x2="1819" y2="1180" stroke="#4a4a4a" stroke-width="1.5" opacity="0.8"/>
<line x1="2181" y1="1313" x2="2196" y2="1319" stroke="#4a4a4a" stroke-width="1.5" opacity="0.8"/>
<line x1="2178" y1="1288" x2="2208" y2="1285" stroke="#4a4a4a" stroke-width="1.5" opacity="0.8"/>
<line x1="1848" y1="1226" x2="1825" y2="1228" stroke="#4a4a4a" stroke-width="1.5" opacity="0.8"/>
<line x1="2061" y1="1013" x2="2074" y2="994" stroke="#4a4a4a" stroke-width="1.5" opacity="0.8"/>
<line x1="1960" y1="999" x2="1950" y2="984" stroke="#4a4a4a" stroke-width="1.5" opacity="0.8"/>
<line x1="2111" y1="1042" x2="2127" y2="1027" stroke="#4a4a4a" stroke-width="1.5" opacity="0.8"/>
<line x1="1845" y1="1218" x2="1825" y2="1211" stroke="#4a4a4a" stroke-width="1.5" opacity="0.8"/>
<line x1="1943" y1="1477" x2="1932" y2="1491" stroke="#4a4a4a" stroke-width="1.5" opacity="0.8"/>
<line x1="2163" y1="1410" x2="2175" y2="1432" stroke="#4a4a4a" stroke-width="1.5" opacity="0.8"/>
<line x1="2030" y1="996" x2="2038" y2="980" stroke="#4a4a4a" stroke-width="1.5" opacity="0.8"/>
<line x1="1867" y1="1077" x2="1845" y2="1062" stroke="#4a4a4a" stroke-width="1.5" opacity="0.8"/>
<line x1="1840" y1="1166" x2="1820" y2="1155" stroke="#4a4a4a" stroke-width="1.5" opacity="0.8"/>
<line x1="1866" y1="1078" x2="1859" y2="1061" stroke="#4a4a4a" stroke-width="1.5" opacity="0.8"/>
<line x1="2100" y1="1465" x2="2110" y2="1479" stroke="#4a4a4a" stroke-width="1.5" opacity="0.8"/>
<line x1="1844" y1="1132" x2="1818" y2="1125" stroke="#4a4a4a" stroke-width="1.5" opacity="0.8"/>
<line x1="1920" y1="1458" x2="1919" y2="1477" stroke="#4a4a4a" stroke-width="1.5" opacity="0.8"/>
<line x1="2065" y1="1015" x2="2077" y2="991" stroke="#4a4a4a" stroke-width="1.5" opacity="0.8"/>
<line x1="2180" y1="1277" x2="2196" y2="1289" stroke="#4a4a4a" stroke-width="1.5" opacity="0.8"/>
<line x1="2176" y1="1376" x2="2189" y2="1387" stroke="#4a4a4a" stroke-width="1.5" opacity="0.8"/>
<line x1="2186" y1="1131" x2="2195" y2="1117" stroke="#4a4a4a" stroke-width="1.5" opacity="0.8"/>
<line x1="1907" y1="1350" x2="1880" y2="1362" stroke="#4a4a4a" stroke-width="1.5" opacity="0.8"/>
<line x1="2155" y1="1077" x2="2172" y2="1063" stroke="#4a4a4a" stroke-width="1.5" opacity="0.8"/>
<path d="M2007,1008 L2017,1006 L2026,1072 L2042,1104 C2040,1124 2028,1132 2010,1132 C1992,1132 1982,1124 1980,1104 L1996,1072 Z" fill="#8a8a8a" stroke="#2a2a2a" stroke-width="2.5"/>
<path d="M1984,1100 C1990,1080 2030,1080 2038,1100 C2040,1124 2028,1132 2010,1132 C1992,1132 1982,1124 1984,1100Z" fill="#5a5a5a"/>
<path d="M1975,1118 C1985,1136 2000,1142 2012,1138 C2026,1142 2042,1134 2052,1116" fill="none" stroke="#222" stroke-width="4"/>
<path d="M1990,1120 C2000,1128 2022,1128 2032,1120" fill="none" stroke="#ddd" stroke-width="3"/>
<rect x="245" y="701" width="1035" height="495" fill="#96979A"/>
<path d="M285,729 L341,759 L285,789Z" fill="#fff"/>
<circle cx="2578" cy="1714.6" r="236" fill="#98252B"/>
<path d="M2597.3,886.7 C2599,860 2606,840 2614,825.7 C2624,808 2634,800 2640.8,795.2 C2655,785 2665,780 2676.7,775.4 C2690,770 2705,766.5 2721.6,765.5 L2878.7,764.3 L2878.7,732.3 L2952.3,788.9 L2878.7,847.2 L2878.7,814.9 L2721.6,814.9 C2710,815 2698,816.5 2685.7,818.5 C2672,821 2660,824.5 2649.8,829.3 C2640,834 2630,841 2622.8,847.2 C2615,854 2609,862 2604.9,870.6 Z" fill="#98252B"/>
<path d="M2597.3,886.7 C2599,860 2606,840 2614,825.7 C2624,808 2634,800 2640.8,795.2 C2655,785 2665,780 2676.7,775.4 C2690,770 2705,766.5 2721.6,765.5 L2878.7,764.3 L2878.7,732.3 L2952.3,788.9 L2878.7,847.2 L2878.7,814.9 L2721.6,814.9 C2710,815 2698,816.5 2685.7,818.5 C2672,821 2660,824.5 2649.8,829.3 C2640,834 2630,841 2622.8,847.2 C2615,854 2609,862 2604.9,870.6 Z" fill="#98252B" transform="translate(5006.0,3364.0) scale(-1,-1)"/>
<path d="M2597.3,886.7 C2599,860 2606,840 2614,825.7 C2624,808 2634,800 2640.8,795.2 C2655,785 2665,780 2676.7,775.4 C2690,770 2705,766.5 2721.6,765.5 L2878.7,764.3 L2878.7,732.3 L2952.3,788.9 L2878.7,847.2 L2878.7,814.9 L2721.6,814.9 C2710,815 2698,816.5 2685.7,818.5 C2672,821 2660,824.5 2649.8,829.3 C2640,834 2630,841 2622.8,847.2 C2615,854 2609,862 2604.9,870.6 Z" fill="#98252B" transform="translate(5858.6,3364.0) scale(-1,-1)"/>
<path d="M3572.8,1354.5 C3575.8,1359.4 3586.1,1373.6 3591.0,1383.8 C3595.9,1394.0 3600.2,1405.4 3602.0,1415.6 C3603.8,1425.8 3603.8,1434.8 3602.0,1445.0 C3600.2,1455.2 3596.5,1466.2 3591.0,1476.8 C3585.5,1487.4 3577.5,1498.4 3569.0,1508.6 C3560.5,1518.8 3544.7,1533.1 3539.8,1538.0 L3435.8,1629.7 L3455.8,1653 L3362.4,1655.9 L3383.2,1565.4 L3404,1588.8 L3471.3,1533.0 C3479.5,1526.5 3505.9,1506.5 3520.2,1493.9 C3534.5,1481.3 3547.5,1468.6 3556.9,1457.2 C3566.3,1445.8 3572.4,1435.2 3576.5,1425.4 C3580.6,1415.6 3580.9,1407.1 3581.3,1398.5 C3581.7,1389.9 3579.4,1378.1 3579.0,1374.0 Z" fill="#98252B"/>
<path d="M3600.4,1497.6 C3610,1520 3638.8,1540 3638.8,1564.5 A38.3,38.3 0 0 1 3562.3,1564.5 C3562.3,1540 3591,1520 3600.4,1497.6Z" fill="#98252B"/>
<line x1="3118.6" y1="761.3" x2="3570.6" y2="653.4" stroke="#000" stroke-width="4.2" stroke-linecap="round"/>
<line x1="3118.6" y1="761.3" x2="3602.6" y2="837.8" stroke="#000" stroke-width="4.2" stroke-linecap="round"/>
<line x1="3118.6" y1="761.3" x2="3622.3" y2="1028.4" stroke="#000" stroke-width="4.2" stroke-linecap="round"/>
<line x1="3118.6" y1="761.3" x2="3823" y2="1414" stroke="#000" stroke-width="4.2" stroke-linecap="round"/>
<rect x="1930.2" y="2016.4" width="602.4" height="418.7" fill="#E0E0E0"/>
<rect x="2754.2" y="2016.4" width="603" height="365.3" fill="#E0E0E0"/>
<rect x="3480.2" y="2066.3" width="787.5" height="333" fill="#2F507A"/>
<circle cx="1720" cy="455" r="69.5" fill="#000"/>
<path d="M1731,413.7 V496.5 H1713 V434 L1699,439.5 V423.5 L1716,413.7 Z" fill="#fff"/>
<circle cx="2491.4" cy="353" r="69.5" fill="#000"/>
<text x="2491.4" y="395" font-size="122" font-weight="bold" fill="#fff" text-anchor="middle" textLength="66" lengthAdjust="spacingAndGlyphs">2</text>
<circle cx="3025.5" cy="1733.4" r="69.5" fill="#000"/>
<text x="3025.5" y="1775.4" font-size="122" font-weight="bold" fill="#fff" text-anchor="middle" textLength="66" lengthAdjust="spacingAndGlyphs">3</text>
<circle cx="4246" cy="2072" r="69.5" fill="#000"/>
<text x="4246" y="2114" font-size="122" font-weight="bold" fill="#fff" text-anchor="middle" textLength="66" lengthAdjust="spacingAndGlyphs">4</text>
<path d="M1778.6,2095.2 C1777.4,2099.2 1773.6,2111.5 1771.4,2119.0 C1769.3,2126.6 1764.9,2135.7 1765.7,2140.5 C1766.5,2145.2 1775.0,2144.4 1776.2,2147.6 C1777.4,2150.8 1772.5,2156.7 1772.9,2159.5 C1773.3,2162.3 1778.2,2160.9 1778.6,2164.3 C1779.0,2167.7 1774.4,2176.0 1775.2,2180.0 C1776.0,2184.0 1780.0,2186.0 1783.3,2188.1 C1786.7,2190.2 1790.1,2189.3 1795.2,2192.9 C1800.4,2196.4 1811.1,2202.8 1814.3,2209.5 C1817.5,2216.3 1817.5,2227.8 1814.3,2233.3 C1811.1,2238.9 1802.4,2237.3 1795.2,2242.9 C1788.1,2248.4 1778.6,2257.9 1771.4,2266.7 C1764.3,2275.4 1757.5,2284.9 1752.4,2295.2 C1747.2,2305.6 1742.9,2318.3 1740.5,2328.6 C1738.1,2338.9 1737.5,2346.8 1738.1,2357.1 C1738.7,2367.5 1742.9,2382.5 1744.3,2390.5 C1745.7,2398.4 1746.1,2398.4 1746.7,2404.8 C1747.2,2411.1 1746.8,2416.7 1747.6,2428.6 C1748.4,2440.5 1750.0,2460.3 1751.4,2476.2 C1752.9,2492.1 1754.8,2504.0 1756.2,2523.8 C1757.5,2543.7 1758.2,2573.8 1759.5,2595.2 C1760.9,2616.7 1762.3,2637.1 1764.3,2652.4 C1766.3,2667.7 1770.2,2681.3 1771.4,2687.1 L1873.8,2687.1 C1873.8,2676.6 1871.4,2637.5 1873.8,2623.8 C1876.2,2610.1 1883.7,2613.5 1888.1,2604.8 C1892.5,2596.0 1898.4,2582.5 1900.0,2571.4 C1901.6,2560.3 1899.6,2547.6 1897.6,2538.1 C1895.6,2528.6 1890.9,2523.0 1888.1,2514.3 C1885.3,2505.6 1882.1,2496.8 1881.0,2485.7 C1879.8,2474.6 1879.8,2460.3 1881.0,2447.6 C1882.1,2434.9 1884.9,2423.8 1888.1,2409.5 C1891.3,2395.2 1896.4,2377.8 1900.0,2361.9 C1903.6,2346.0 1908.3,2327.8 1909.5,2314.3 C1910.8,2300.8 1909.2,2290.5 1907.6,2281.0 C1906.0,2271.4 1903.7,2266.7 1900.0,2257.1 C1896.3,2247.6 1889.7,2233.3 1885.7,2223.8 C1881.7,2214.3 1878.2,2209.5 1876.2,2200.0 C1874.2,2190.5 1873.0,2180.2 1873.8,2166.7 C1874.6,2153.2 1883.7,2132.5 1881.0,2119.0 C1878.2,2105.6 1867.5,2092.5 1857.1,2085.7 C1846.8,2079.0 1825.4,2079.8 1819.0,2078.6Z" fill="#fff" stroke="#000" stroke-width="4.2" stroke-linejoin="round"/>
<path d="M1804.8,2292.9 C1804.2,2299.6 1800.2,2312.3 1801.4,2333.3 C1802.6,2354.4 1812.9,2391.3 1811.9,2419.0 C1810.9,2446.8 1801.2,2476.2 1795.2,2500.0 C1789.3,2523.8 1781.0,2545.2 1776.2,2561.9 C1771.4,2578.6 1766.7,2589.7 1766.7,2600.0 C1766.7,2610.3 1771.4,2617.9 1776.2,2623.8 C1781.0,2629.8 1788.9,2634.5 1795.2,2635.7 C1801.6,2636.9 1810.7,2632.9 1814.3,2631.0 C1817.9,2629.0 1817.9,2626.6 1816.7,2623.8 C1815.5,2621.0 1808.3,2625.4 1807.1,2614.3 C1806.0,2603.2 1804.4,2579.4 1809.5,2557.1 C1814.7,2534.9 1829.8,2503.2 1838.1,2481.0 C1846.4,2458.7 1851.6,2446.8 1859.5,2423.8 C1867.5,2400.8 1879.4,2364.3 1885.7,2342.9 C1892.1,2321.4 1895.6,2303.2 1897.6,2295.2" fill="#fff" stroke="#000" stroke-width="4.2" stroke-linecap="round" stroke-linejoin="round"/>
<line x1="1747.6" y1="2399.0" x2="1769.0" y2="2399.0" stroke="#000" stroke-width="4.2" stroke-linecap="round"/>
<line x1="1814.3" y1="2234.3" x2="1834.3" y2="2234.3" stroke="#000" stroke-width="4.2" stroke-linecap="round"/>
<path d="M1778.6,2181.0 C1781.3,2182.5 1788.5,2188.9 1795.2,2190.5 C1802.0,2192.1 1811.5,2191.7 1819.0,2190.5 C1826.6,2189.3 1835.6,2186.9 1840.5,2183.3 C1845.4,2179.8 1847.2,2171.4 1848.6,2169.0" fill="none" stroke="#000" stroke-width="4.2" stroke-linecap="round"/>
<path d="M1745.2,2061.9 C1746.0,2057.5 1748.8,2052.4 1752.4,2050.0 C1756.0,2047.6 1763.9,2049.4 1766.7,2047.6 C1769.4,2045.8 1761.9,2039.7 1769.0,2039.0 C1776.2,2038.4 1797.2,2043.3 1809.5,2043.8 C1821.8,2044.3 1831.7,2039.0 1842.9,2041.9 C1854.0,2044.8 1867.5,2052.9 1876.2,2061.0 C1884.9,2069.0 1891.3,2080.0 1895.2,2090.5 C1899.2,2101.0 1900.4,2112.7 1900.0,2123.8 C1899.6,2134.9 1895.6,2149.4 1892.9,2157.1 C1890.1,2164.8 1887.7,2170.6 1883.3,2170.0 C1879.0,2169.4 1867.9,2159.4 1866.7,2153.3 C1865.5,2147.2 1874.9,2139.4 1876.2,2133.3 C1877.5,2127.2 1876.7,2120.6 1874.3,2116.7 C1871.9,2112.7 1865.9,2109.1 1861.9,2109.5 C1857.9,2109.9 1853.3,2114.1 1850.5,2119.0 C1847.7,2124.0 1847.1,2140.2 1845.2,2139.0 C1843.3,2137.9 1843.4,2120.2 1839.0,2111.9 C1834.7,2103.6 1826.3,2093.7 1819.0,2089.0 C1811.7,2084.4 1801.6,2082.8 1795.2,2083.8 C1788.9,2084.8 1784.1,2093.7 1781.0,2095.2 C1777.8,2096.7 1780.2,2094.4 1776.2,2092.9 C1772.2,2091.3 1761.9,2088.5 1757.1,2085.7 C1752.4,2082.9 1749.6,2080.2 1747.6,2076.2 C1745.6,2072.2 1744.4,2066.3 1745.2,2061.9Z" fill="#000"/>
<circle cx="1807" cy="2195" r="19" fill="#D0343B"/>
<circle cx="1894" cy="2274" r="19" fill="#D0343B"/>
<circle cx="1756" cy="2495" r="19" fill="#D0343B"/>
<circle cx="1885" cy="2499" r="19" fill="#D0343B"/>
<circle cx="1841.4" cy="2588" r="19" fill="#D0343B"/>
<path d="M2602.4,2095.2 C2601.2,2099.2 2597.4,2111.5 2595.2,2119.0 C2593.1,2126.6 2588.7,2135.7 2589.5,2140.5 C2590.3,2145.2 2598.8,2144.4 2600.0,2147.6 C2601.2,2150.8 2596.3,2156.7 2596.7,2159.5 C2597.1,2162.3 2602.0,2160.9 2602.4,2164.3 C2602.8,2167.7 2598.2,2176.0 2599.0,2180.0 C2599.8,2184.0 2603.8,2186.0 2607.1,2188.1 C2610.5,2190.2 2613.9,2189.3 2619.0,2192.9 C2624.2,2196.4 2634.9,2202.8 2638.1,2209.5 C2641.3,2216.3 2641.3,2227.8 2638.1,2233.3 C2634.9,2238.9 2626.2,2237.3 2619.0,2242.9 C2611.9,2248.4 2602.4,2257.9 2595.2,2266.7 C2588.1,2275.4 2581.3,2284.9 2576.2,2295.2 C2571.0,2305.6 2566.7,2318.3 2564.3,2328.6 C2561.9,2338.9 2561.3,2346.8 2561.9,2357.1 C2562.5,2367.5 2566.7,2382.5 2568.1,2390.5 C2569.5,2398.4 2569.9,2398.4 2570.5,2404.8 C2571.0,2411.1 2570.6,2416.7 2571.4,2428.6 C2572.2,2440.5 2573.8,2460.3 2575.2,2476.2 C2576.7,2492.1 2578.6,2504.0 2580.0,2523.8 C2581.3,2543.7 2582.0,2573.8 2583.3,2595.2 C2584.7,2616.7 2586.1,2637.1 2588.1,2652.4 C2590.1,2667.7 2594.0,2681.3 2595.2,2687.1 L2697.6,2687.1 C2697.6,2676.6 2695.2,2637.5 2697.6,2623.8 C2700.0,2610.1 2707.5,2613.5 2711.9,2604.8 C2716.3,2596.0 2722.2,2582.5 2723.8,2571.4 C2725.4,2560.3 2723.4,2547.6 2721.4,2538.1 C2719.4,2528.6 2714.7,2523.0 2711.9,2514.3 C2709.1,2505.6 2705.9,2496.8 2704.8,2485.7 C2703.6,2474.6 2703.6,2460.3 2704.8,2447.6 C2705.9,2434.9 2708.7,2423.8 2711.9,2409.5 C2715.1,2395.2 2720.2,2377.8 2723.8,2361.9 C2727.4,2346.0 2732.1,2327.8 2733.3,2314.3 C2734.6,2300.8 2733.0,2290.5 2731.4,2281.0 C2729.8,2271.4 2727.5,2266.7 2723.8,2257.1 C2720.1,2247.6 2713.5,2233.3 2709.5,2223.8 C2705.5,2214.3 2702.0,2209.5 2700.0,2200.0 C2698.0,2190.5 2696.8,2180.2 2697.6,2166.7 C2698.4,2153.2 2707.5,2132.5 2704.8,2119.0 C2702.0,2105.6 2691.3,2092.5 2680.9,2085.7 C2670.6,2079.0 2649.2,2079.8 2642.8,2078.6Z" fill="#fff" stroke="#000" stroke-width="4.2" stroke-linejoin="round"/>
<path d="M2628.6,2292.9 C2628.0,2299.6 2624.0,2312.3 2625.2,2333.3 C2626.4,2354.4 2636.7,2391.3 2635.7,2419.0 C2634.7,2446.8 2625.0,2476.2 2619.0,2500.0 C2613.1,2523.8 2604.8,2545.2 2600.0,2561.9 C2595.2,2578.6 2590.5,2589.7 2590.5,2600.0 C2590.5,2610.3 2595.2,2617.9 2600.0,2623.8 C2604.8,2629.8 2612.7,2634.5 2619.0,2635.7 C2625.4,2636.9 2634.5,2632.9 2638.1,2631.0 C2641.7,2629.0 2641.7,2626.6 2640.5,2623.8 C2639.3,2621.0 2632.1,2625.4 2630.9,2614.3 C2629.8,2603.2 2628.2,2579.4 2633.3,2557.1 C2638.5,2534.9 2653.6,2503.2 2661.9,2481.0 C2670.2,2458.7 2675.4,2446.8 2683.3,2423.8 C2691.3,2400.8 2703.2,2364.3 2709.5,2342.9 C2715.9,2321.4 2719.4,2303.2 2721.4,2295.2" fill="#fff" stroke="#000" stroke-width="4.2" stroke-linecap="round" stroke-linejoin="round"/>
<line x1="2571.4" y1="2399.0" x2="2592.8" y2="2399.0" stroke="#000" stroke-width="4.2" stroke-linecap="round"/>
<line x1="2638.1" y1="2234.3" x2="2658.1" y2="2234.3" stroke="#000" stroke-width="4.2" stroke-linecap="round"/>
<path d="M2602.4,2181.0 C2605.1,2182.5 2612.3,2188.9 2619.0,2190.5 C2625.8,2192.1 2635.3,2191.7 2642.8,2190.5 C2650.4,2189.3 2659.4,2186.9 2664.3,2183.3 C2669.2,2179.8 2671.0,2171.4 2672.4,2169.0" fill="none" stroke="#000" stroke-width="4.2" stroke-linecap="round"/>
<path d="M2569.0,2061.9 C2569.8,2057.5 2572.6,2052.4 2576.2,2050.0 C2579.8,2047.6 2587.7,2049.4 2590.5,2047.6 C2593.2,2045.8 2585.7,2039.7 2592.8,2039.0 C2600.0,2038.4 2621.0,2043.3 2633.3,2043.8 C2645.6,2044.3 2655.5,2039.0 2666.7,2041.9 C2677.8,2044.8 2691.3,2052.9 2700.0,2061.0 C2708.7,2069.0 2715.1,2080.0 2719.0,2090.5 C2723.0,2101.0 2724.2,2112.7 2723.8,2123.8 C2723.4,2134.9 2719.4,2149.4 2716.7,2157.1 C2713.9,2164.8 2711.5,2170.6 2707.1,2170.0 C2702.8,2169.4 2691.7,2159.4 2690.5,2153.3 C2689.3,2147.2 2698.7,2139.4 2700.0,2133.3 C2701.3,2127.2 2700.5,2120.6 2698.1,2116.7 C2695.7,2112.7 2689.7,2109.1 2685.7,2109.5 C2681.7,2109.9 2677.1,2114.1 2674.3,2119.0 C2671.5,2124.0 2670.9,2140.2 2669.0,2139.0 C2667.1,2137.9 2667.2,2120.2 2662.8,2111.9 C2658.5,2103.6 2650.1,2093.7 2642.8,2089.0 C2635.5,2084.4 2625.4,2082.8 2619.0,2083.8 C2612.7,2084.8 2607.9,2093.7 2604.8,2095.2 C2601.6,2096.7 2604.0,2094.4 2600.0,2092.9 C2596.0,2091.3 2585.7,2088.5 2580.9,2085.7 C2576.2,2082.9 2573.4,2080.2 2571.4,2076.2 C2569.4,2072.2 2568.2,2066.3 2569.0,2061.9Z" fill="#000"/>
<circle cx="2658" cy="2092.9" r="19" fill="#D0343B"/>
<circle cx="2637" cy="2214.3" r="19" fill="#D0343B"/>
<circle cx="2670" cy="2360.5" r="19" fill="#D0343B"/>
<circle cx="2653.8" cy="2441.4" r="19" fill="#D0343B"/>
<path d="M3668.7,229.4 C3682.5,229.9 3686.8,231.8 3698.4,239.3 C3710.0,246.8 3709.6,251.2 3718.3,261.6 C3726.9,272.0 3724.0,275.2 3735.6,283.9 C3747.2,292.6 3751.1,293.6 3767.9,298.8 C3784.6,304.0 3791.3,301.0 3807.5,306.2 C3823.7,311.5 3823.4,311.9 3837.3,321.1 C3851.2,330.4 3853.2,333.8 3867.1,345.9 C3881.0,358.1 3884.1,358.2 3896.8,373.2 C3909.6,388.3 3910.1,394.2 3921.6,410.4 C3933.2,426.6 3934.9,429.3 3946.4,442.7 C3958.0,456.0 3961.4,452.4 3971.2,467.5 C3981.1,482.5 3983.7,488.6 3988.6,507.1 C3993.5,525.7 3992.1,526.0 3992.1,546.8 C3992.1,567.7 3990.6,579.1 3988.6,596.4 C3986.6,613.8 3979.6,608.5 3983.6,621.2 C3987.7,634.0 3998.4,635.9 4006.0,651.0 C4013.5,666.0 4013.0,668.4 4015.9,685.7 C4018.8,703.1 4020.7,714.4 4018.4,725.4 C4016.0,736.4 4015.8,730.8 4006.0,732.8 C3996.1,734.9 3990.1,735.1 3976.2,734.3 C3962.3,733.5 3952.2,733.2 3946.4,729.4 C3940.6,725.5 3947.3,721.8 3951.4,718.0 C3955.4,714.1 3962.6,719.4 3963.8,713.0 C3964.9,706.6 3962.7,699.4 3956.3,690.7 C3950.0,682.0 3948.1,685.1 3936.5,675.8 C3924.9,666.5 3917.2,662.6 3906.7,651.0 C3896.3,639.4 3897.1,638.9 3891.9,626.2 C3886.7,613.5 3886.2,609.7 3884.4,596.4 C3882.7,583.1 3886.2,574.4 3884.4,569.1 C3882.7,563.9 3880.5,574.1 3877.0,574.1 C3873.5,574.1 3874.2,557.0 3869.5,569.1 C3864.9,581.3 3863.5,601.3 3857.1,626.2 C3850.8,651.1 3848.6,657.3 3842.3,675.8 C3835.9,694.3 3832.4,693.4 3829.9,705.6 C3827.3,717.7 3834.2,720.4 3831.3,727.9 C3828.5,735.4 3830.0,736.1 3817.5,737.8 C3805.0,739.5 3797.5,736.1 3777.8,735.3 C3758.1,734.5 3747.3,736.1 3733.1,734.3 C3719.0,732.6 3717.8,732.9 3717.3,727.9 C3716.7,722.9 3720.6,718.2 3730.7,713.0 C3740.7,707.8 3756.4,716.6 3760.4,705.6 C3764.5,694.6 3753.2,684.4 3748.0,665.9 C3742.8,647.4 3739.3,643.6 3738.1,626.2 C3736.9,608.8 3738.4,607.7 3743.1,591.5 C3747.7,575.3 3760.3,568.3 3757.9,556.7 C3755.6,545.2 3744.1,550.0 3733.1,541.9 C3722.1,533.8 3717.8,517.4 3710.8,522.0 C3703.9,526.7 3706.3,547.8 3703.4,561.7 C3700.5,575.6 3701.3,566.5 3698.4,581.5 C3695.5,596.6 3696.8,607.7 3691.0,626.2 C3685.2,644.7 3682.3,645.9 3673.6,660.9 C3664.9,676.0 3663.6,677.4 3653.8,690.7 C3643.9,704.0 3639.6,708.5 3631.4,718.0 C3623.3,727.4 3623.1,731.9 3619.0,731.3 C3615.0,730.8 3617.0,715.7 3614.1,715.5 C3611.2,715.2 3618.2,726.0 3606.6,730.4 C3595.1,734.8 3577.8,733.2 3564.5,734.3 C3551.2,735.5 3550.2,739.1 3549.6,735.3 C3549.0,731.5 3551.6,726.1 3562.0,718.0 C3572.4,709.9 3583.8,711.6 3594.2,700.6 C3604.7,689.6 3606.6,688.2 3606.6,670.8 C3606.6,653.5 3596.0,648.2 3594.2,626.2 C3592.5,604.2 3594.6,598.6 3599.2,576.6 C3603.8,554.6 3608.3,551.6 3614.1,531.9 C3619.9,512.3 3624.0,510.8 3624.0,492.3 C3624.0,473.7 3614.7,473.4 3614.1,452.6 C3613.5,431.7 3623.3,415.1 3621.5,403.0 C3619.8,390.8 3613.0,403.4 3606.6,400.5 C3600.3,397.6 3598.5,398.1 3594.2,390.6 C3590.0,383.1 3588.9,379.2 3588.3,368.3 C3587.7,357.3 3589.2,353.3 3591.8,343.5 C3594.3,333.6 3600.0,333.0 3599.2,326.1 C3598.4,319.1 3588.3,322.4 3588.3,313.7 C3588.3,305.0 3592.0,302.2 3599.2,288.9 C3606.4,275.6 3609.8,268.8 3619.0,256.6 C3628.3,244.5 3627.3,243.2 3638.9,236.8 C3650.5,230.4 3654.8,228.8 3668.7,229.4Z" fill="#929497"/>
<path d="M4174.6,614.5 C4189.1,614.7 4194.7,616.6 4206.8,622.9 C4219.0,629.3 4220.6,631.9 4226.7,641.8 C4232.8,651.6 4233.0,654.3 4233.1,665.1 C4233.3,675.8 4227.0,679.4 4227.2,687.9 C4227.4,696.3 4227.9,693.5 4234.1,701.3 C4240.4,709.0 4241.2,709.6 4254.0,721.1 C4266.7,732.7 4271.9,734.7 4288.7,750.9 C4305.5,767.1 4310.3,773.2 4325.9,790.6 C4341.5,807.9 4343.3,810.3 4355.7,825.3 C4368.0,840.3 4371.9,839.4 4379.0,855.1 C4386.0,870.7 4384.1,875.5 4385.9,892.3 C4387.8,909.0 4387.8,910.8 4386.9,927.0 C4386.0,943.2 4385.2,949.9 4381.9,961.7 C4378.7,973.5 4382.0,972.3 4373.0,977.6 C4364.0,982.9 4356.6,983.4 4343.3,984.5 C4329.9,985.7 4327.3,985.3 4316.0,982.5 C4304.6,979.8 4295.2,976.6 4294.6,972.6 C4294.1,968.7 4303.3,968.8 4313.5,965.7 C4323.7,962.5 4331.3,963.6 4338.3,959.2 C4345.2,954.8 4349.0,952.6 4343.3,946.8 C4337.5,941.0 4328.5,937.9 4313.5,934.4 C4298.4,931.0 4288.0,925.6 4278.8,931.9 C4269.5,938.3 4281.9,952.4 4273.8,961.7 C4265.7,971.0 4257.9,969.9 4244.0,971.6 C4230.2,973.4 4224.7,968.6 4214.3,969.1 C4203.9,969.7 4204.6,975.8 4199.4,974.1 C4194.2,972.4 4188.5,966.9 4192.0,961.7 C4195.4,956.5 4205.6,959.9 4214.3,951.8 C4223.0,943.7 4222.8,939.7 4229.2,927.0 C4235.5,914.3 4242.7,897.2 4241.6,897.2 C4240.4,897.2 4232.9,913.1 4224.2,927.0 C4215.5,940.9 4213.6,945.2 4204.4,956.7 C4195.1,968.3 4193.8,969.6 4184.5,976.6 C4175.3,983.5 4172.8,979.0 4164.7,986.5 C4156.6,994.0 4155.0,1003.0 4149.8,1008.8 C4144.6,1014.6 4144.7,1014.2 4142.4,1011.3 C4140.0,1008.4 4142.2,998.7 4139.9,996.4 C4137.6,994.1 4135.7,1002.5 4132.4,1001.4 C4129.2,1000.2 4126.0,997.3 4126.0,991.5 C4126.0,985.7 4133.8,981.2 4132.4,976.6 C4131.1,972.0 4128.7,972.6 4120.0,971.6 C4111.4,970.7 4104.7,973.8 4095.2,972.6 C4085.7,971.5 4079.4,969.8 4079.4,966.7 C4079.4,963.5 4084.6,962.1 4095.2,959.2 C4105.9,956.3 4113.4,958.3 4125.0,954.3 C4136.6,950.2 4139.1,952.9 4144.8,941.9 C4150.6,930.9 4146.3,924.5 4149.8,907.1 C4153.3,889.8 4158.6,884.8 4159.7,867.5 C4160.9,850.1 4160.5,848.9 4154.8,832.7 C4149.0,816.5 4143.0,814.2 4134.9,798.0 C4126.8,781.8 4122.9,779.5 4120.0,763.3 C4117.1,747.1 4119.0,742.5 4122.5,728.6 C4126.0,714.7 4132.6,715.3 4134.9,703.8 C4137.2,692.2 4135.9,688.8 4132.4,679.0 C4129.0,669.1 4123.7,669.7 4120.0,661.6 C4116.3,653.5 4115.4,651.2 4116.6,644.2 C4117.7,637.3 4118.4,637.1 4125.0,631.8 C4131.6,626.6 4133.3,626.0 4144.8,621.9 C4156.4,617.9 4160.1,614.3 4174.6,614.5Z" fill="#929497"/>
<path d="M4378.0,917.1 C4384.6,920.2 4405.7,937.6 4417.7,935.9 C4429.6,934.3 4446.6,920.2 4449.9,907.1 C4453.2,894.1 4444.9,873.7 4437.5,857.5 C4430.1,841.4 4411.5,824.1 4405.3,810.4 C4399.1,796.8 4398.4,785.2 4400.3,775.7 C4402.2,766.2 4410.2,757.5 4416.7,753.4 C4423.1,749.2 4435.3,751.3 4439.0,750.9" fill="none" stroke="#929497" stroke-width="19" stroke-linecap="round"/>
<path d="M4217.8,847.6 C4213.9,857.1 4202.9,885.2 4194.4,904.7 C4186.0,924.1 4171.7,954.3 4167.2,964.2" fill="none" stroke="#fff" stroke-width="4" stroke-linecap="round"/>
<path d="M3648.2,1090.6 C3648.8,1088.2 3651.3,1080.2 3652.7,1077.1 C3654.2,1073.9 3658.9,1067.3 3660.6,1063.6 C3662.3,1060.0 3666.0,1050.1 3667.3,1045.7 C3668.6,1041.2 3670.5,1029.7 3671.8,1025.5 C3673.1,1021.3 3675.9,1013.4 3678.5,1009.8 C3681.2,1006.1 3689.8,996.9 3694.3,994.1 C3698.7,991.2 3711.5,987.2 3716.7,985.1 C3721.9,983.0 3733.9,978.2 3739.1,976.1 C3744.4,974.0 3755.6,969.2 3761.6,967.1 C3767.6,965.0 3783.9,959.1 3790.8,958.2 C3797.6,957.2 3813.4,958.7 3819.9,959.3 C3826.5,959.8 3842.1,962.0 3846.9,962.6 C3851.6,963.3 3855.1,966.2 3860.3,964.9 C3865.6,963.6 3884.1,953.8 3891.7,951.4 C3899.3,949.1 3917.5,945.7 3925.4,944.7 C3933.3,943.6 3952.8,940.3 3959.1,942.4 C3965.4,944.5 3975.1,957.7 3979.3,962.6 C3983.5,967.6 3991.3,979.8 3995.0,985.1 C3998.6,990.3 4012.3,1004.6 4010.7,1007.5 C4009.1,1010.4 3981.2,1007.1 3981.5,1009.8 C3981.8,1012.4 4010.8,1025.8 4012.9,1030.0 C4015.0,1034.2 4000.0,1041.7 3999.5,1045.7 C3998.9,1049.6 4008.2,1059.4 4008.4,1063.6 C4008.7,1067.8 4000.9,1077.4 4001.7,1081.6 C4002.5,1085.8 4014.9,1095.3 4015.2,1099.5 C4015.4,1103.7 4002.6,1113.3 4003.9,1117.5 C4005.3,1121.7 4021.4,1130.7 4026.4,1135.4 C4031.4,1140.2 4046.6,1154.2 4046.6,1157.9 C4046.6,1161.5 4031.9,1166.1 4026.4,1166.9 C4020.9,1167.6 4006.0,1164.1 3999.5,1164.6 C3992.9,1165.1 3977.6,1171.1 3970.3,1171.3 C3963.0,1171.6 3943.7,1168.4 3936.6,1166.9 C3929.6,1165.3 3913.9,1156.8 3909.7,1157.9 C3905.5,1158.9 3902.6,1171.8 3900.7,1175.8 C3898.9,1179.9 3897.7,1190.0 3894.0,1192.7 C3890.3,1195.3 3875.3,1198.0 3869.3,1198.3 C3863.3,1198.5 3846.8,1196.5 3842.4,1194.9 C3837.9,1193.3 3830.9,1187.0 3831.1,1184.8 C3831.4,1182.6 3842.5,1179.0 3844.6,1175.8 C3846.7,1172.7 3851.5,1161.0 3849.1,1157.9 C3846.7,1154.7 3828.9,1148.9 3824.4,1148.9 C3820.0,1148.9 3814.1,1154.7 3811.0,1157.9 C3807.8,1161.0 3800.4,1172.8 3797.5,1175.8 C3794.6,1178.8 3789.7,1182.9 3786.3,1183.7 C3782.9,1184.5 3771.7,1184.0 3768.3,1182.6 C3764.9,1181.1 3757.4,1174.0 3757.1,1171.3 C3756.8,1168.7 3766.1,1163.3 3766.1,1160.1 C3766.1,1157.0 3759.7,1148.3 3757.1,1144.4 C3754.5,1140.5 3747.3,1130.4 3743.6,1126.5 C3740.0,1122.5 3729.9,1113.2 3725.7,1110.8 C3721.5,1108.3 3711.9,1104.9 3707.7,1105.1 C3703.5,1105.4 3694.2,1111.8 3689.8,1113.0 C3685.3,1114.2 3673.5,1115.8 3669.6,1115.2 C3665.6,1114.7 3658.6,1110.6 3656.1,1108.5 C3653.6,1106.4 3649.2,1099.4 3648.2,1097.3 C3647.3,1095.2 3647.7,1092.9 3648.2,1090.6Z" fill="#929497"/>
<path d="M3848.2,971.6 L3903.2,952.5 L3846.5,965.6Z" fill="#929497"/>
<path d="M3857.9,966.6 L3914.7,953.8 L3856.9,960.2Z" fill="#929497"/>
<path d="M3869.9,965.7 L3915.4,943.2 L3867.4,959.6Z" fill="#929497"/>
<path d="M3879.0,958.4 L3939.8,944.2 L3878.1,954.1Z" fill="#929497"/>
<path d="M3890.3,957.4 L3933.4,945.0 L3889.1,952.1Z" fill="#929497"/>
<path d="M3901.1,954.5 L3938.7,945.8 L3900.3,949.9Z" fill="#929497"/>
<path d="M3912.9,954.0 L3973.6,937.2 L3911.6,948.0Z" fill="#929497"/>
<path d="M3923.9,953.6 L3981.5,937.9 L3922.9,949.3Z" fill="#929497"/>
<path d="M3934.4,951.8 L3975.6,946.6 L3934.0,947.8Z" fill="#929497"/>
<path d="M3945.6,951.2 L3989.4,949.8 L3945.7,946.6Z" fill="#929497"/>
<path d="M3951.4,955.7 L4013.0,958.1 L3951.8,950.9Z" fill="#929497"/>
<path d="M3957.2,961.2 L4009.9,963.3 L3957.8,955.3Z" fill="#929497"/>
<path d="M3963.9,969.0 L4026.8,960.5 L3963.3,963.1Z" fill="#929497"/>
<path d="M3967.8,972.7 L4029.7,979.6 L3968.5,967.9Z" fill="#929497"/>
<path d="M3972.4,981.8 L4015.1,979.9 L3972.5,977.4Z" fill="#929497"/>
<path d="M3977.2,990.8 L4023.2,985.7 L3976.9,985.2Z" fill="#929497"/>
<path d="M3980.1,997.8 L4036.4,992.9 L3979.9,992.8Z" fill="#929497"/>
<path d="M3982.8,1003.9 L4043.0,1005.3 L3983.2,998.6Z" fill="#929497"/>
<path d="M3985.8,1011.4 L4036.9,1013.4 L3986.3,1005.5Z" fill="#929497"/>
<path d="M3986.7,1018.6 L4051.1,1019.7 L3986.9,1014.5Z" fill="#929497"/>
<path d="M3987.4,1023.0 L4046.7,1037.2 L3988.5,1019.0Z" fill="#929497"/>
<path d="M3988.0,1030.8 L4034.7,1042.6 L3989.7,1025.5Z" fill="#929497"/>
<path d="M3988.1,1040.3 L4027.5,1042.5 L3988.6,1035.8Z" fill="#929497"/>
<path d="M3988.1,1044.5 L4029.3,1058.8 L3990.5,1038.9Z" fill="#929497"/>
<path d="M3988.4,1051.4 L4047.4,1075.1 L3990.4,1046.9Z" fill="#929497"/>
<path d="M3987.9,1061.2 L4038.9,1073.0 L3989.7,1055.3Z" fill="#929497"/>
<path d="M3987.9,1069.2 L4045.2,1080.3 L3989.4,1063.2Z" fill="#929497"/>
<path d="M3988.2,1073.8 L4024.5,1088.9 L3991.3,1068.0Z" fill="#929497"/>
<path d="M3988.7,1083.4 L4034.9,1094.2 L3990.4,1077.9Z" fill="#929497"/>
<path d="M3990.0,1087.7 L4032.1,1109.5 L3993.4,1082.1Z" fill="#929497"/>
<path d="M3990.8,1095.6 L4033.5,1114.5 L3993.0,1091.3Z" fill="#929497"/>
<path d="M3990.7,1103.9 L4028.7,1117.2 L3992.3,1099.8Z" fill="#929497"/>
<path d="M3991.4,1109.1 L4047.6,1141.7 L3993.7,1105.3Z" fill="#929497"/>
<path d="M3990.5,1119.2 L4051.0,1142.3 L3992.7,1114.1Z" fill="#929497"/>
<path d="M3992.4,1123.5 L4032.2,1143.7 L3995.3,1118.6Z" fill="#929497"/>
<path d="M3994.8,1127.4 L4035.8,1156.9 L3998.0,1123.4Z" fill="#929497"/>
<path d="M3995.6,1135.5 L4052.1,1163.0 L3997.5,1131.8Z" fill="#929497"/>
<path d="M3994.8,1139.7 L4045.1,1173.8 L3997.4,1136.1Z" fill="#929497"/>
<path d="M3993.5,1145.0 L4043.1,1185.1 L3997.3,1140.7Z" fill="#929497"/>
<path d="M3992.4,1150.4 L4023.8,1177.0 L3996.1,1146.7Z" fill="#929497"/>
<path d="M3984.1,1153.6 L4035.3,1186.7 L3986.9,1149.6Z" fill="#929497"/>
<path d="M3977.0,1154.3 L4027.8,1195.0 L3981.2,1149.5Z" fill="#929497"/>
<path d="M3971.0,1153.5 L4004.5,1191.2 L3975.2,1150.2Z" fill="#929497"/>
<path d="M3963.4,1154.6 L3998.8,1191.4 L3967.1,1151.4Z" fill="#929497"/>
<path d="M3955.4,1156.1 L3986.9,1184.1 L3959.0,1152.5Z" fill="#929497"/>
<path d="M3949.2,1155.1 L3987.3,1206.5 L3953.9,1151.9Z" fill="#929497"/>
<path d="M3941.3,1155.0 L3973.6,1189.6 L3944.6,1152.2Z" fill="#929497"/>
<path d="M3932.8,1155.4 L3975.2,1196.8 L3937.5,1151.1Z" fill="#929497"/>
<path d="M3925.7,1154.0 L3965.9,1197.7 L3930.4,1150.0Z" fill="#929497"/>
<path d="M3919.4,1150.5 L3952.3,1195.9 L3924.5,1147.2Z" fill="#929497"/>
<path d="M3911.8,1148.6 L3947.9,1192.9 L3915.7,1145.7Z" fill="#929497"/>
<path d="M3970.2,995.8 L4048.8,999.0 L3970.4,992.3Z" fill="#929497"/>
<path d="M3980.9,1029.4 L4066.8,1060.3 L3982.1,1026.0Z" fill="#929497"/>
<path d="M3984.9,1091.9 L4093.7,1179.2 L3987.1,1089.2Z" fill="#929497"/>
<path d="M4002.8,1132.3 L4051.1,1170.2 L4005.1,1129.6Z" fill="#929497"/>
<path d="M3858.5,968.9 L3968.0,940.6 L3857.7,965.4Z" fill="#929497"/>
<path d="M3880.7,964.4 L3972.5,951.4 L3880.3,960.9Z" fill="#929497"/>
<path d="M3903.0,966.7 L3981.5,961.5 L3902.9,963.1Z" fill="#929497"/>
<path d="M3925.5,973.4 L3981.5,968.2 L3925.3,969.8Z" fill="#929497"/>
<path d="M3757.5,973.4 L3824.4,955.9 L3756.7,969.9Z" fill="#929497"/>
<path d="M3790.8,964.4 L3853.6,961.5 L3790.7,960.8Z" fill="#929497"/>
<path d="M3980.9,1065.3 L4015.2,1074.8 L3982.1,1061.9Z" fill="#929497"/>
<path d="M3992.3,1007.0 L4017.4,1010.9 L3993.1,1003.5Z" fill="#929497"/>
<path d="M3969.2,1145.9 L4026.4,1184.8 L3971.3,1143.0Z" fill="#929497"/>
<path d="M3935.4,1154.7 L3968.0,1182.6 L3937.8,1152.1Z" fill="#929497"/>
<path d="M3912.9,1159.1 L3950.1,1196.0 L3915.5,1156.7Z" fill="#929497"/>
<path d="M3908.4,1163.6 L3936.6,1189.3 L3911.0,1161.1Z" fill="#929497"/>
<path d="M4003.4,1150.6 L4053.3,1164.6 L4004.5,1147.2Z" fill="#929497"/>
<path d="M3958.8,986.9 L4026.4,994.1 L3959.3,983.3Z" fill="#929497"/>
<path d="M3985.6,1047.4 L4017.4,1052.4 L3986.4,1043.9Z" fill="#929497"/>
<path d="M3994.4,1114.7 L4021.9,1122.0 L3995.5,1111.3Z" fill="#929497"/>
<path d="M3651.6,1086.1 C3650.1,1083.1 3649.0,1074.3 3642.6,1068.1 C3636.3,1061.9 3618.3,1052.2 3613.5,1049.0" fill="none" stroke="#929497" stroke-width="1.8" stroke-linecap="round"/>
<path d="M3653.9,1077.1 C3653.5,1072.6 3650.9,1058.4 3651.6,1050.2 C3652.4,1041.9 3657.2,1031.5 3658.3,1027.7" fill="none" stroke="#929497" stroke-width="1.8" stroke-linecap="round"/>
<path d="M3650.5,1088.3 C3648.8,1086.4 3645.1,1079.5 3640.4,1077.1 C3635.7,1074.7 3625.4,1074.3 3622.4,1073.7" fill="none" stroke="#929497" stroke-width="1.8" stroke-linecap="round"/>
<path d="M3648.2,1090.6 C3647.3,1090.0 3645.1,1088.1 3642.6,1087.2 C3640.2,1086.3 3635.2,1085.3 3633.7,1084.9" fill="none" stroke="#929497" stroke-width="1.8" stroke-linecap="round"/>
<path d="M3652.1,1081.6 C3649.7,1078.6 3643.1,1067.9 3638.2,1063.6 C3633.2,1059.3 3625.1,1057.1 3622.4,1055.8" fill="none" stroke="#929497" stroke-width="1.8" stroke-linecap="round"/>
<path d="M3977.2,1309.7 C3977.2,1301.6 3980.9,1300.0 3991.1,1298.8 C4001.3,1297.7 4008.1,1300.1 4020.8,1304.8 C4033.6,1309.4 4036.4,1316.6 4045.6,1318.7 C4054.9,1320.7 4051.8,1315.4 4060.5,1313.7 C4069.2,1312.0 4075.3,1309.5 4082.8,1311.2 C4090.4,1312.9 4085.2,1321.9 4092.8,1321.1 C4100.3,1320.3 4102.9,1312.6 4115.1,1307.7 C4127.2,1302.9 4134.1,1301.5 4144.8,1300.3 C4155.6,1299.1 4158.3,1297.3 4161.2,1302.8 C4164.1,1308.2 4162.2,1314.1 4157.2,1323.6 C4152.3,1333.1 4148.6,1336.5 4139.9,1343.5 C4131.2,1350.4 4127.6,1350.8 4120.0,1353.4 C4112.5,1355.9 4108.8,1350.9 4107.6,1354.4 C4106.5,1357.8 4109.3,1361.0 4115.1,1368.3 C4120.9,1375.5 4123.2,1379.8 4132.4,1385.6 C4141.7,1391.4 4142.6,1392.5 4154.8,1393.1 C4166.9,1393.6 4172.9,1391.3 4184.5,1388.1 C4196.1,1384.9 4192.8,1378.6 4204.4,1379.2 C4215.9,1379.7 4217.9,1386.8 4234.1,1390.6 C4250.3,1394.4 4255.3,1396.7 4273.8,1395.5 C4292.3,1394.4 4297.3,1390.2 4313.5,1385.6 C4329.7,1381.0 4330.5,1378.6 4343.3,1375.7 C4356.0,1372.8 4356.5,1372.6 4368.1,1373.2 C4379.6,1373.8 4381.3,1373.5 4392.9,1378.2 C4404.4,1382.8 4406.1,1383.8 4417.7,1393.1 C4429.2,1402.3 4433.8,1406.3 4442.5,1417.9 C4451.1,1429.4 4451.2,1429.9 4454.9,1442.7 C4458.6,1455.4 4458.3,1452.7 4458.3,1472.4 C4458.3,1492.1 4454.5,1506.2 4454.9,1527.0 C4455.2,1547.8 4456.3,1545.5 4459.8,1561.7 C4463.3,1577.9 4468.6,1581.4 4469.7,1596.4 C4470.9,1611.5 4464.8,1608.8 4464.8,1626.2 C4464.8,1643.6 4466.6,1653.5 4469.7,1670.8 C4472.9,1688.2 4478.2,1686.1 4478.2,1700.6 C4478.2,1715.1 4474.6,1723.9 4469.7,1732.8 C4464.9,1741.7 4463.7,1737.6 4457.3,1738.8 C4451.0,1739.9 4445.4,1740.9 4442.5,1737.8 C4439.6,1734.7 4442.6,1732.9 4444.9,1725.4 C4447.3,1717.9 4451.2,1717.1 4452.4,1705.6 C4453.5,1694.0 4452.8,1690.8 4449.9,1675.8 C4447.0,1660.7 4443.5,1657.3 4440.0,1641.1 C4436.5,1624.9 4439.1,1605.2 4435.0,1606.3 C4431.0,1607.5 4426.7,1629.8 4422.6,1646.0 C4418.6,1662.2 4422.9,1663.1 4417.7,1675.8 C4412.5,1688.5 4407.2,1690.2 4400.3,1700.6 C4393.4,1711.0 4393.7,1714.6 4387.9,1720.4 C4382.1,1726.2 4378.7,1726.0 4375.5,1725.4 C4372.3,1724.8 4371.1,1724.9 4374.0,1718.0 C4376.9,1711.0 4382.9,1707.8 4387.9,1695.6 C4392.9,1683.5 4393.0,1682.1 4395.3,1665.9 C4397.7,1649.7 4398.4,1642.4 4397.8,1626.2 C4397.2,1610.0 4398.6,1610.3 4392.9,1596.4 C4387.1,1582.5 4384.6,1581.7 4373.0,1566.7 C4361.4,1551.6 4357.1,1537.7 4343.3,1531.9 C4329.4,1526.2 4329.7,1538.4 4313.5,1541.9 C4297.3,1545.3 4293.5,1545.7 4273.8,1546.8 C4254.1,1548.0 4240.7,1539.9 4229.2,1546.8 C4217.6,1553.8 4226.5,1560.4 4224.2,1576.6 C4221.9,1592.8 4221.6,1600.1 4219.2,1616.3 C4216.9,1632.5 4214.9,1629.8 4214.3,1646.0 C4213.7,1662.2 4217.3,1669.5 4216.8,1685.7 C4216.2,1701.9 4214.1,1703.3 4211.8,1715.5 C4209.5,1727.6 4211.5,1731.2 4206.8,1737.8 C4202.2,1744.4 4198.3,1742.8 4192.0,1743.8 C4185.6,1744.7 4181.3,1745.5 4179.6,1741.8 C4177.8,1738.1 4181.1,1735.2 4184.5,1727.9 C4188.0,1720.6 4191.6,1722.7 4194.4,1710.5 C4197.3,1698.4 4195.8,1693.2 4196.9,1675.8 C4198.1,1658.4 4200.0,1636.1 4199.4,1636.1 C4198.8,1636.1 4196.2,1659.6 4194.4,1675.8 C4192.7,1692.0 4195.4,1694.0 4192.0,1705.6 C4188.5,1717.1 4185.9,1719.6 4179.6,1725.4 C4173.2,1731.2 4169.9,1730.4 4164.7,1730.4 C4159.5,1730.4 4156.7,1730.0 4157.2,1725.4 C4157.8,1720.8 4162.5,1719.8 4167.2,1710.5 C4171.8,1701.3 4174.2,1700.8 4177.1,1685.7 C4180.0,1670.7 4180.1,1663.4 4179.6,1646.0 C4179.0,1628.7 4178.1,1629.8 4174.6,1611.3 C4171.1,1592.8 4169.3,1585.2 4164.7,1566.7 C4160.1,1548.1 4161.1,1545.8 4154.8,1531.9 C4148.4,1518.1 4143.2,1519.9 4137.4,1507.1 C4131.6,1494.4 4137.5,1489.0 4130.0,1477.4 C4122.4,1465.8 4116.7,1468.0 4105.2,1457.5 C4093.6,1447.1 4089.0,1443.7 4080.4,1432.7 C4071.7,1421.7 4073.7,1415.0 4068.0,1410.4 C4062.2,1405.8 4061.3,1413.5 4055.6,1412.9 C4049.8,1412.3 4047.2,1412.0 4043.2,1407.9 C4039.1,1403.9 4037.6,1401.3 4038.2,1395.5 C4038.8,1389.7 4044.5,1389.5 4045.6,1383.1 C4046.8,1376.8 4045.5,1375.2 4043.2,1368.3 C4040.8,1361.3 4043.2,1358.0 4035.7,1353.4 C4028.2,1348.7 4021.3,1353.0 4010.9,1348.4 C4000.5,1343.8 3998.9,1342.6 3991.1,1333.5 C3983.2,1324.5 3977.2,1317.8 3977.2,1309.7Z" fill="#929497"/>
<path d="M4449.9,1467.5 C4449.1,1474.1 4444.9,1493.9 4444.9,1507.1 C4444.9,1520.4 4447.0,1536.1 4449.9,1546.8 C4452.8,1557.6 4458.2,1565.2 4462.3,1571.6 C4466.4,1578.1 4472.6,1583.2 4474.7,1585.5" fill="none" stroke="#929497" stroke-width="11" stroke-linecap="butt"/>
<path d="M4454.9,1546.8 L4467.3,1571.6 L4476.2,1585.5 L4462.3,1580.6 L4451.4,1569.1 L4444.9,1549.3Z" fill="#929497"/>
<path d="M4063.7,1313.8 C4061.6,1303.4 4054.0,1301.3 4039.5,1289.4 C4025.0,1277.5 4019.5,1280.1 4009.5,1269.3 C3999.5,1258.4 4003.4,1260.9 4002.0,1248.8 C4000.6,1236.7 4006.7,1234.8 4004.3,1223.9 C4001.9,1212.9 4000.1,1214.7 3993.1,1207.8 C3986.0,1200.8 3982.2,1200.1 3977.8,1197.8 C3973.4,1195.6 3973.6,1195.8 3976.6,1199.4 C3979.6,1203.0 3984.0,1204.5 3989.1,1211.3 C3994.2,1218.1 3995.4,1214.7 3995.7,1224.9 C3996.0,1235.2 3989.6,1235.3 3990.0,1249.6 C3990.5,1264.0 3987.6,1264.5 3997.5,1278.8 C4007.3,1293.1 4013.7,1290.0 4027.0,1303.3 C4040.3,1316.5 4037.6,1325.7 4047.4,1328.5 C4057.2,1331.3 4065.8,1324.2 4063.7,1313.8Z" fill="#929497"/>
<path d="M4097.5,1326.4 C4105.7,1322.3 4098.5,1311.9 4109.2,1300.6 C4119.8,1289.2 4126.2,1294.7 4137.3,1283.9 C4148.4,1273.1 4148.7,1273.9 4150.7,1260.2 C4152.8,1246.5 4144.2,1245.6 4145.2,1232.5 C4146.1,1219.4 4147.7,1220.7 4154.4,1211.2 C4161.1,1201.7 4166.3,1201.2 4170.3,1196.9 C4174.2,1192.7 4174.4,1192.4 4169.0,1195.3 C4163.7,1198.3 4158.9,1198.3 4150.2,1207.9 C4141.6,1217.4 4139.6,1217.8 4136.6,1231.2 C4133.6,1244.6 4141.3,1247.2 4138.9,1258.0 C4136.5,1268.9 4139.0,1264.3 4127.6,1272.1 C4116.2,1279.8 4109.4,1275.5 4096.2,1287.1 C4083.0,1298.8 4077.8,1305.4 4078.1,1315.9 C4078.5,1326.3 4089.2,1330.5 4097.5,1326.4Z" fill="#929497"/>
<defs><pattern id="dots" width="16" height="26" patternUnits="userSpaceOnUse" patternTransform="translate(738,1790)"><rect width="16" height="26" fill="#44665F"/><circle cx="4" cy="6" r="3.7" fill="#D5E0DE"/><circle cx="12" cy="19" r="3.7" fill="#D5E0DE"/></pattern></defs>
<path d="M385.1,1845.8 C385.1,1784.6 432.0,1744.7 501.4,1744.7 L1084.8,1744.7 C1170.5,1744.7 1231.7,1813.2 1231.7,1899.7 C1231.7,1988.6 1170.5,2056.0 1084.8,2056.0 L501.4,2056.0 C432.0,2056.0 385.1,2017.2 385.1,1956.0 Z" fill="#4A3241" stroke="#000" stroke-width="3.4"/>
<path d="M731.9,1744.7 L1084.8,1744.7 C1170.5,1744.7 1231.7,1813.2 1231.7,1900.9 C1195.0,1935.6 1141.9,1966.2 1080.7,1972.3 L658.4,1972.3 C640.1,1878.5 656.4,1796.9 731.9,1744.7 Z" fill="#fff" stroke="#000" stroke-width="3.4" stroke-linejoin="round"/>
<clipPath id="wclip"><path d="M733.9,1759.3 L1084.8,1759.3 C1158.2,1759.3 1213.3,1821.4 1213.3,1896.8 C1182.7,1927.4 1137.8,1949.9 1080.7,1956.0 L672.7,1956.0 C652.3,1878.5 668.6,1801.0 733.9,1759.3 Z"/></clipPath>
<path d="M733.9,1759.3 L1084.8,1759.3 C1158.2,1759.3 1213.3,1821.4 1213.3,1896.8 C1182.7,1927.4 1137.8,1949.9 1080.7,1956.0 L672.7,1956.0 C652.3,1878.5 668.6,1801.0 733.9,1759.3 Z" fill="#fff"/>
<g clip-path="url(#wclip)">
<path d="M668.6,1960.1 C649.1,1938.3 660.3,1917.6 662.5,1878.5 C664.7,1839.3 665.4,1840.4 676.8,1813.2 C688.2,1786.0 689.0,1790.8 705.4,1776.5 C721.7,1762.1 709.7,1763.2 738.0,1759.3 C766.3,1755.5 782.1,1756.0 811.4,1762.2 C840.8,1768.4 850.3,1776.1 848.2,1782.6 C846.0,1789.1 826.1,1778.5 803.3,1786.7 C780.4,1794.8 778.8,1795.2 762.5,1813.2 C746.2,1831.2 749.7,1830.1 742.1,1854.0 C734.5,1877.9 735.5,1874.7 733.9,1903.0 C732.3,1931.2 753.4,1944.8 736.0,1960.1 C718.5,1975.3 688.2,1981.8 668.6,1960.1Z" fill="#A8AD2D" stroke="#000" stroke-width="3.4"/>
<path d="M707.4,1776.5 C706.7,1784.0 700.9,1805.7 703.3,1821.4 C705.7,1837.0 719.3,1847.9 721.7,1870.3 C724.1,1892.8 718.3,1941.7 717.6,1956.0" fill="none" stroke="#000" stroke-width="3.4"/>
<path d="M664.6,1898.9 C668.6,1903.6 679.5,1917.9 689.0,1927.4 C698.6,1937.0 716.2,1951.2 721.7,1956.0" fill="none" stroke="#000" stroke-width="3.4"/>
<path d="M778.8,1764.2 C772.0,1770.4 747.9,1784.6 738.0,1801.0 C728.1,1817.3 722.0,1836.3 719.6,1862.2 C717.3,1888.0 723.0,1940.4 723.7,1956.0" fill="none" stroke="#000" stroke-width="3.4"/>
<path d="M736.0,1960.1 C725.8,1862.2 754.3,1786.7 815.5,1784.6 L950.2,1784.6 C1007.3,1788.7 1023.6,1862.2 1023.6,1960.1 Z" fill="url(#dots)"/>
<path d="M736.0,1960.1 C725.8,1862.2 754.3,1786.7 815.5,1784.6" fill="none" stroke="#000" stroke-width="3.4"/>
<path d="M864.5,1960.1 C856.3,1862.2 884.9,1792.8 942.0,1792.8 C1007.3,1792.8 1023.6,1862.2 1023.6,1960.1 Z" fill="#B9CFCC" fill-opacity="0.62"/>
<path d="M895.1,1812.4 C942.0,1811.2 966.5,1845.8 966.5,1956.0" fill="none" stroke="#000" stroke-width="8.5" stroke-linecap="round"/>
<path d="M1004.0,1956.0 C999.1,1870.3 1015.4,1813.2 1084.8,1810.3 S1146.0,1825.4 1170.5,1848.7" fill="none" stroke="#000" stroke-width="8.5" stroke-linecap="round"/>
<line x1="895.1" y1="1813.2" x2="899.2" y2="1847.9" stroke="#000" stroke-width="4.4" stroke-linecap="round"/>
<line x1="929.8" y1="1829.5" x2="915.5" y2="1858.1" stroke="#000" stroke-width="4.4" stroke-linecap="round"/>
<line x1="958.3" y1="1860.1" x2="927.7" y2="1874.4" stroke="#000" stroke-width="4.4" stroke-linecap="round"/>
<line x1="964.4" y1="1890.7" x2="923.6" y2="1892.8" stroke="#000" stroke-width="4.4" stroke-linecap="round"/>
<line x1="964.4" y1="1922.5" x2="921.6" y2="1922.5" stroke="#000" stroke-width="4.4" stroke-linecap="round"/>
<line x1="965.7" y1="1949.9" x2="923.6" y2="1949.1" stroke="#000" stroke-width="4.4" stroke-linecap="round"/>
<line x1="1005.2" y1="1949.9" x2="1048.1" y2="1949.1" stroke="#000" stroke-width="4.4" stroke-linecap="round"/>
<line x1="1005.2" y1="1922.5" x2="1050.1" y2="1924.2" stroke="#000" stroke-width="4.4" stroke-linecap="round"/>
<line x1="1005.2" y1="1890.7" x2="1048.1" y2="1892.8" stroke="#000" stroke-width="4.4" stroke-linecap="round"/>
<line x1="1011.4" y1="1860.1" x2="1044.0" y2="1874.4" stroke="#000" stroke-width="4.4" stroke-linecap="round"/>
<line x1="1039.9" y1="1829.5" x2="1055.4" y2="1858.1" stroke="#000" stroke-width="4.4" stroke-linecap="round"/>
<line x1="1076.6" y1="1817.3" x2="1073.4" y2="1847.9" stroke="#000" stroke-width="4.4" stroke-linecap="round"/>
<line x1="1113.4" y1="1823.4" x2="1100.3" y2="1852.0" stroke="#000" stroke-width="4.4" stroke-linecap="round"/>
<line x1="1150.1" y1="1835.6" x2="1126.4" y2="1858.1" stroke="#000" stroke-width="4.4" stroke-linecap="round"/>
</g>
<path d="M733.9,1759.3 L1084.8,1759.3 C1158.2,1759.3 1213.3,1821.4 1213.3,1896.8 C1182.7,1927.4 1137.8,1949.9 1080.7,1956.0 L672.7,1956.0 C652.3,1878.5 668.6,1801.0 733.9,1759.3 Z" fill="none" stroke="#000" stroke-width="3.4" stroke-linejoin="round"/>
<line x1="731.9" y1="1744.7" x2="733.9" y2="1759.3" stroke="#000" stroke-width="3.4"/>
<line x1="658.4" y1="1972.3" x2="672.7" y2="1956.0" stroke="#000" stroke-width="3.4"/>
<line x1="1231.7" y1="1899.7" x2="1213.3" y2="1896.8" stroke="#000" stroke-width="3.4"/>
<line x1="499.3" y1="1727.5" x2="499.3" y2="1748.5" stroke="#000" stroke-width="3.4"/><circle cx="489.8" cy="1724.5" r="10" fill="#A8326B" stroke="#000" stroke-width="3.4"/><circle cx="508.8" cy="1724.5" r="10" fill="#A8326B" stroke="#000" stroke-width="3.4"/><circle cx="499.3" cy="1716.5" r="10" fill="#A8326B" stroke="#000" stroke-width="3.4"/>
<line x1="499.3" y1="2074.3" x2="499.3" y2="2053.3" stroke="#000" stroke-width="3.4"/><circle cx="508.8" cy="2077.3" r="10" fill="#A8326B" stroke="#000" stroke-width="3.4"/><circle cx="489.8" cy="2077.3" r="10" fill="#A8326B" stroke="#000" stroke-width="3.4"/><circle cx="499.3" cy="2085.3" r="10" fill="#A8326B" stroke="#000" stroke-width="3.4"/>
<line x1="603.4" y1="1727.5" x2="603.4" y2="1748.5" stroke="#000" stroke-width="3.4"/><circle cx="593.9" cy="1724.5" r="10" fill="#A8326B" stroke="#000" stroke-width="3.4"/><circle cx="612.9" cy="1724.5" r="10" fill="#A8326B" stroke="#000" stroke-width="3.4"/><circle cx="603.4" cy="1716.5" r="10" fill="#A8326B" stroke="#000" stroke-width="3.4"/>
<line x1="603.4" y1="2074.3" x2="603.4" y2="2053.3" stroke="#000" stroke-width="3.4"/><circle cx="612.9" cy="2077.3" r="10" fill="#A8326B" stroke="#000" stroke-width="3.4"/><circle cx="593.9" cy="2077.3" r="10" fill="#A8326B" stroke="#000" stroke-width="3.4"/><circle cx="603.4" cy="2085.3" r="10" fill="#A8326B" stroke="#000" stroke-width="3.4"/>
<line x1="707.4" y1="1727.5" x2="707.4" y2="1748.5" stroke="#000" stroke-width="3.4"/><circle cx="697.9" cy="1724.5" r="10" fill="#A8326B" stroke="#000" stroke-width="3.4"/><circle cx="716.9" cy="1724.5" r="10" fill="#A8326B" stroke="#000" stroke-width="3.4"/><circle cx="707.4" cy="1716.5" r="10" fill="#A8326B" stroke="#000" stroke-width="3.4"/>
<line x1="707.4" y1="2074.3" x2="707.4" y2="2053.3" stroke="#000" stroke-width="3.4"/><circle cx="716.9" cy="2077.3" r="10" fill="#A8326B" stroke="#000" stroke-width="3.4"/><circle cx="697.9" cy="2077.3" r="10" fill="#A8326B" stroke="#000" stroke-width="3.4"/><circle cx="707.4" cy="2085.3" r="10" fill="#A8326B" stroke="#000" stroke-width="3.4"/>
<line x1="812.3" y1="1727.5" x2="812.3" y2="1748.5" stroke="#000" stroke-width="3.4"/><circle cx="802.8" cy="1724.5" r="10" fill="#A8326B" stroke="#000" stroke-width="3.4"/><circle cx="821.8" cy="1724.5" r="10" fill="#A8326B" stroke="#000" stroke-width="3.4"/><circle cx="812.3" cy="1716.5" r="10" fill="#A8326B" stroke="#000" stroke-width="3.4"/>
<line x1="812.3" y1="2074.3" x2="812.3" y2="2053.3" stroke="#000" stroke-width="3.4"/><circle cx="821.8" cy="2077.3" r="10" fill="#A8326B" stroke="#000" stroke-width="3.4"/><circle cx="802.8" cy="2077.3" r="10" fill="#A8326B" stroke="#000" stroke-width="3.4"/><circle cx="812.3" cy="2085.3" r="10" fill="#A8326B" stroke="#000" stroke-width="3.4"/>
<line x1="917.5" y1="1727.5" x2="917.5" y2="1748.5" stroke="#000" stroke-width="3.4"/><circle cx="908.0" cy="1724.5" r="10" fill="#A8326B" stroke="#000" stroke-width="3.4"/><circle cx="927.0" cy="1724.5" r="10" fill="#A8326B" stroke="#000" stroke-width="3.4"/><circle cx="917.5" cy="1716.5" r="10" fill="#A8326B" stroke="#000" stroke-width="3.4"/>
<line x1="917.5" y1="2074.3" x2="917.5" y2="2053.3" stroke="#000" stroke-width="3.4"/><circle cx="927.0" cy="2077.3" r="10" fill="#A8326B" stroke="#000" stroke-width="3.4"/><circle cx="908.0" cy="2077.3" r="10" fill="#A8326B" stroke="#000" stroke-width="3.4"/><circle cx="917.5" cy="2085.3" r="10" fill="#A8326B" stroke="#000" stroke-width="3.4"/>
<line x1="1021.6" y1="1727.5" x2="1021.6" y2="1748.5" stroke="#000" stroke-width="3.4"/><circle cx="1012.1" cy="1724.5" r="10" fill="#A8326B" stroke="#000" stroke-width="3.4"/><circle cx="1031.1" cy="1724.5" r="10" fill="#A8326B" stroke="#000" stroke-width="3.4"/><circle cx="1021.6" cy="1716.5" r="10" fill="#A8326B" stroke="#000" stroke-width="3.4"/>
<line x1="1021.6" y1="2074.3" x2="1021.6" y2="2053.3" stroke="#000" stroke-width="3.4"/><circle cx="1031.1" cy="2077.3" r="10" fill="#A8326B" stroke="#000" stroke-width="3.4"/><circle cx="1012.1" cy="2077.3" r="10" fill="#A8326B" stroke="#000" stroke-width="3.4"/><circle cx="1021.6" cy="2085.3" r="10" fill="#A8326B" stroke="#000" stroke-width="3.4"/>
<line x1="1162.3" y1="1752.0" x2="1150.3" y2="1769.2" stroke="#000" stroke-width="3.4"/><circle cx="1156.3" cy="1744.1" r="10" fill="#A8326B" stroke="#000" stroke-width="3.4"/><circle cx="1171.8" cy="1755.0" r="10" fill="#A8326B" stroke="#000" stroke-width="3.4"/><circle cx="1168.6" cy="1743.0" r="10" fill="#A8326B" stroke="#000" stroke-width="3.4"/>
<line x1="1229.6" y1="1815.2" x2="1211.4" y2="1825.7" stroke="#000" stroke-width="3.4"/><circle cx="1227.5" cy="1805.5" r="10" fill="#A8326B" stroke="#000" stroke-width="3.4"/><circle cx="1237.0" cy="1822.0" r="10" fill="#A8326B" stroke="#000" stroke-width="3.4"/><circle cx="1239.2" cy="1809.7" r="10" fill="#A8326B" stroke="#000" stroke-width="3.4"/>
<line x1="1254.1" y1="1899.7" x2="1233.1" y2="1899.7" stroke="#000" stroke-width="3.4"/><circle cx="1257.1" cy="1890.2" r="10" fill="#A8326B" stroke="#000" stroke-width="3.4"/><circle cx="1257.1" cy="1909.2" r="10" fill="#A8326B" stroke="#000" stroke-width="3.4"/><circle cx="1265.1" cy="1899.7" r="10" fill="#A8326B" stroke="#000" stroke-width="3.4"/>
<line x1="1229.6" y1="1984.6" x2="1211.4" y2="1974.1" stroke="#000" stroke-width="3.4"/><circle cx="1237.0" cy="1977.8" r="10" fill="#A8326B" stroke="#000" stroke-width="3.4"/><circle cx="1227.5" cy="1994.3" r="10" fill="#A8326B" stroke="#000" stroke-width="3.4"/><circle cx="1239.2" cy="1990.1" r="10" fill="#A8326B" stroke="#000" stroke-width="3.4"/>
<line x1="1162.3" y1="2051.9" x2="1150.3" y2="2034.7" stroke="#000" stroke-width="3.4"/><circle cx="1171.8" cy="2048.9" r="10" fill="#A8326B" stroke="#000" stroke-width="3.4"/><circle cx="1156.3" cy="2059.8" r="10" fill="#A8326B" stroke="#000" stroke-width="3.4"/><circle cx="1168.6" cy="2060.9" r="10" fill="#A8326B" stroke="#000" stroke-width="3.4"/>
<line x1="425.9" y1="1762.2" x2="440.7" y2="1777.0" stroke="#000" stroke-width="3.4"/><circle cx="417.0" cy="1766.8" r="10" fill="#A8326B" stroke="#000" stroke-width="3.4"/><circle cx="430.5" cy="1753.4" r="10" fill="#A8326B" stroke="#000" stroke-width="3.4"/><circle cx="418.1" cy="1754.4" r="10" fill="#A8326B" stroke="#000" stroke-width="3.4"/>
<line x1="391.2" y1="1825.4" x2="410.2" y2="1834.3" stroke="#000" stroke-width="3.4"/><circle cx="384.5" cy="1832.8" r="10" fill="#A8326B" stroke="#000" stroke-width="3.4"/><circle cx="392.5" cy="1815.6" r="10" fill="#A8326B" stroke="#000" stroke-width="3.4"/><circle cx="381.2" cy="1820.8" r="10" fill="#A8326B" stroke="#000" stroke-width="3.4"/>
<line x1="381.0" y1="1899.7" x2="402.0" y2="1899.7" stroke="#000" stroke-width="3.4"/><circle cx="378.0" cy="1909.2" r="10" fill="#A8326B" stroke="#000" stroke-width="3.4"/><circle cx="378.0" cy="1890.2" r="10" fill="#A8326B" stroke="#000" stroke-width="3.4"/><circle cx="370.0" cy="1899.7" r="10" fill="#A8326B" stroke="#000" stroke-width="3.4"/>
<line x1="391.2" y1="1974.4" x2="410.2" y2="1965.5" stroke="#000" stroke-width="3.4"/><circle cx="392.5" cy="1984.2" r="10" fill="#A8326B" stroke="#000" stroke-width="3.4"/><circle cx="384.5" cy="1967.0" r="10" fill="#A8326B" stroke="#000" stroke-width="3.4"/><circle cx="381.2" cy="1979.0" r="10" fill="#A8326B" stroke="#000" stroke-width="3.4"/>
<line x1="425.9" y1="2039.6" x2="440.7" y2="2024.8" stroke="#000" stroke-width="3.4"/><circle cx="430.5" cy="2048.5" r="10" fill="#A8326B" stroke="#000" stroke-width="3.4"/><circle cx="417.0" cy="2035.0" r="10" fill="#A8326B" stroke="#000" stroke-width="3.4"/><circle cx="418.1" cy="2047.4" r="10" fill="#A8326B" stroke="#000" stroke-width="3.4"/>
<line x1="548.3" y1="1762.2" x2="563.1" y2="1777.0" stroke="#000" stroke-width="3.4"/><circle cx="539.4" cy="1766.8" r="10" fill="#A8326B" stroke="#000" stroke-width="3.4"/><circle cx="552.9" cy="1753.4" r="10" fill="#A8326B" stroke="#000" stroke-width="3.4"/><circle cx="540.5" cy="1754.4" r="10" fill="#A8326B" stroke="#000" stroke-width="3.4"/>
<line x1="654.4" y1="1762.2" x2="669.2" y2="1777.0" stroke="#000" stroke-width="3.4"/><circle cx="645.5" cy="1766.8" r="10" fill="#A8326B" stroke="#000" stroke-width="3.4"/><circle cx="659.0" cy="1753.4" r="10" fill="#A8326B" stroke="#000" stroke-width="3.4"/><circle cx="646.6" cy="1754.4" r="10" fill="#A8326B" stroke="#000" stroke-width="3.4"/>
<line x1="483.0" y1="1825.4" x2="502.0" y2="1834.3" stroke="#000" stroke-width="3.4"/><circle cx="476.3" cy="1832.8" r="10" fill="#A8326B" stroke="#000" stroke-width="3.4"/><circle cx="484.3" cy="1815.6" r="10" fill="#A8326B" stroke="#000" stroke-width="3.4"/><circle cx="473.0" cy="1820.8" r="10" fill="#A8326B" stroke="#000" stroke-width="3.4"/>
<line x1="589.1" y1="1825.4" x2="608.1" y2="1834.3" stroke="#000" stroke-width="3.4"/><circle cx="582.3" cy="1832.8" r="10" fill="#A8326B" stroke="#000" stroke-width="3.4"/><circle cx="590.4" cy="1815.6" r="10" fill="#A8326B" stroke="#000" stroke-width="3.4"/><circle cx="579.1" cy="1820.8" r="10" fill="#A8326B" stroke="#000" stroke-width="3.4"/>
<line x1="470.8" y1="1899.7" x2="491.8" y2="1899.7" stroke="#000" stroke-width="3.4"/><circle cx="467.8" cy="1909.2" r="10" fill="#A8326B" stroke="#000" stroke-width="3.4"/><circle cx="467.8" cy="1890.2" r="10" fill="#A8326B" stroke="#000" stroke-width="3.4"/><circle cx="459.8" cy="1899.7" r="10" fill="#A8326B" stroke="#000" stroke-width="3.4"/>
<line x1="574.8" y1="1899.7" x2="595.8" y2="1899.7" stroke="#000" stroke-width="3.4"/><circle cx="571.8" cy="1909.2" r="10" fill="#A8326B" stroke="#000" stroke-width="3.4"/><circle cx="571.8" cy="1890.2" r="10" fill="#A8326B" stroke="#000" stroke-width="3.4"/><circle cx="563.8" cy="1899.7" r="10" fill="#A8326B" stroke="#000" stroke-width="3.4"/>
<line x1="483.0" y1="1974.4" x2="502.0" y2="1965.5" stroke="#000" stroke-width="3.4"/><circle cx="484.3" cy="1984.2" r="10" fill="#A8326B" stroke="#000" stroke-width="3.4"/><circle cx="476.3" cy="1967.0" r="10" fill="#A8326B" stroke="#000" stroke-width="3.4"/><circle cx="473.0" cy="1979.0" r="10" fill="#A8326B" stroke="#000" stroke-width="3.4"/>
<line x1="589.1" y1="1974.4" x2="608.1" y2="1965.5" stroke="#000" stroke-width="3.4"/><circle cx="590.4" cy="1984.2" r="10" fill="#A8326B" stroke="#000" stroke-width="3.4"/><circle cx="582.3" cy="1967.0" r="10" fill="#A8326B" stroke="#000" stroke-width="3.4"/><circle cx="579.1" cy="1979.0" r="10" fill="#A8326B" stroke="#000" stroke-width="3.4"/>
<line x1="548.3" y1="2039.6" x2="563.1" y2="2024.8" stroke="#000" stroke-width="3.4"/><circle cx="552.9" cy="2048.5" r="10" fill="#A8326B" stroke="#000" stroke-width="3.4"/><circle cx="539.4" cy="2035.0" r="10" fill="#A8326B" stroke="#000" stroke-width="3.4"/><circle cx="540.5" cy="2047.4" r="10" fill="#A8326B" stroke="#000" stroke-width="3.4"/>
<line x1="654.4" y1="2039.6" x2="669.2" y2="2024.8" stroke="#000" stroke-width="3.4"/><circle cx="659.0" cy="2048.5" r="10" fill="#A8326B" stroke="#000" stroke-width="3.4"/><circle cx="645.5" cy="2035.0" r="10" fill="#A8326B" stroke="#000" stroke-width="3.4"/><circle cx="646.6" cy="2047.4" r="10" fill="#A8326B" stroke="#000" stroke-width="3.4"/>
<line x1="760.4" y1="2039.6" x2="775.3" y2="2024.8" stroke="#000" stroke-width="3.4"/><circle cx="765.0" cy="2048.5" r="10" fill="#A8326B" stroke="#000" stroke-width="3.4"/><circle cx="751.6" cy="2035.0" r="10" fill="#A8326B" stroke="#000" stroke-width="3.4"/><circle cx="752.7" cy="2047.4" r="10" fill="#A8326B" stroke="#000" stroke-width="3.4"/>
<line x1="862.4" y1="2039.6" x2="877.3" y2="2024.8" stroke="#000" stroke-width="3.4"/><circle cx="867.0" cy="2048.5" r="10" fill="#A8326B" stroke="#000" stroke-width="3.4"/><circle cx="853.6" cy="2035.0" r="10" fill="#A8326B" stroke="#000" stroke-width="3.4"/><circle cx="854.7" cy="2047.4" r="10" fill="#A8326B" stroke="#000" stroke-width="3.4"/>
<line x1="972.6" y1="2039.6" x2="987.4" y2="2024.8" stroke="#000" stroke-width="3.4"/><circle cx="977.2" cy="2048.5" r="10" fill="#A8326B" stroke="#000" stroke-width="3.4"/><circle cx="963.8" cy="2035.0" r="10" fill="#A8326B" stroke="#000" stroke-width="3.4"/><circle cx="964.8" cy="2047.4" r="10" fill="#A8326B" stroke="#000" stroke-width="3.4"/>
<line x1="1076.6" y1="2039.6" x2="1091.5" y2="2024.8" stroke="#000" stroke-width="3.4"/><circle cx="1081.2" cy="2048.5" r="10" fill="#A8326B" stroke="#000" stroke-width="3.4"/><circle cx="1067.8" cy="2035.0" r="10" fill="#A8326B" stroke="#000" stroke-width="3.4"/><circle cx="1068.9" cy="2047.4" r="10" fill="#A8326B" stroke="#000" stroke-width="3.4"/>
<line x1="1160.3" y1="1974.4" x2="1142.1" y2="1963.9" stroke="#000" stroke-width="3.4"/><circle cx="1167.6" cy="1967.6" r="10" fill="#A8326B" stroke="#000" stroke-width="3.4"/><circle cx="1158.1" cy="1984.1" r="10" fill="#A8326B" stroke="#000" stroke-width="3.4"/><circle cx="1169.8" cy="1979.9" r="10" fill="#A8326B" stroke="#000" stroke-width="3.4"/>
<line x1="497.0" y1="1625.6" x2="738.0" y2="1784.6" stroke="#000" stroke-width="4" stroke-linecap="round"/>
<line x1="801.0" y1="1503.2" x2="801.0" y2="1813.2" stroke="#000" stroke-width="4" stroke-linecap="round"/>
<line x1="1084.2" y1="1636.2" x2="1027.7" y2="1821.4" stroke="#000" stroke-width="4" stroke-linecap="round"/>
<line x1="654.5" y1="2041.7" x2="654.5" y2="2170.2" stroke="#000" stroke-width="4" stroke-linecap="round"/>
<line x1="1109.0" y1="1998.8" x2="1109.0" y2="2170.2" stroke="#000" stroke-width="4" stroke-linecap="round"/>
<line x1="441.6" y1="2309.7" x2="550.7" y2="2103.0" stroke="#000" stroke-width="4" stroke-linecap="round"/>
<line x1="550.7" y1="2103.0" x2="531.0" y2="2113.0" stroke="#000" stroke-width="4" stroke-linecap="round"/>
<line x1="550.7" y1="2103.0" x2="553.5" y2="2124.0" stroke="#000" stroke-width="4" stroke-linecap="round"/>
<defs><filter id="bl8" x="-20%" y="-20%" width="140%" height="140%"><feGaussianBlur stdDeviation="14"/></filter><filter id="bl2" x="-10%" y="-10%" width="120%" height="120%"><feGaussianBlur stdDeviation="2.4"/></filter><filter id="bl5" x="-20%" y="-20%" width="140%" height="140%"><feGaussianBlur stdDeviation="6"/></filter><filter id="grain" x="0" y="0" width="100%" height="100%"><feTurbulence type="fractalNoise" baseFrequency="0.06" numOctaves="2" seed="7" result="n"/><feColorMatrix in="n" type="matrix" values="0 0 0 0 0  0 0 0 0 0  0 0 0 0 0  2.4 0 0 0 -0.95"/><feComposite in2="SourceGraphic" operator="in"/></filter><filter id="grain2" x="0" y="0" width="100%" height="100%"><feTurbulence type="fractalNoise" baseFrequency="0.035" numOctaves="2" seed="4" result="n"/><feColorMatrix in="n" type="matrix" values="0 0 0 0 0  0 0 0 0 0  0 0 0 0 0  2.6 0 0 0 -1.0"/><feComposite in2="SourceGraphic" operator="in"/></filter></defs>
<path d="M342.8,2507.6 C349.6,2491.6 372.4,2490.0 392.6,2489.0 C412.8,2487.9 441.8,2492.1 464.1,2501.4 C486.4,2510.7 503.5,2543.9 526.3,2544.9 C549.1,2546.0 575.5,2518.0 600.9,2507.6 C626.3,2497.3 652.7,2487.4 678.6,2482.7 C704.5,2478.1 734.0,2474.5 756.3,2479.6 C778.6,2484.8 799.3,2498.8 812.3,2513.8 C825.2,2528.9 831.4,2550.1 834.0,2569.8 C836.6,2589.5 833.0,2613.3 827.8,2632.0 C822.6,2650.6 817.5,2669.3 802.9,2681.7 C788.4,2694.1 761.5,2704.5 740.8,2706.6 C720.0,2708.6 701.9,2694.7 678.6,2694.1 C655.3,2693.6 629.4,2699.3 600.9,2703.5 C572.4,2707.6 536.1,2718.5 507.6,2719.0 C479.1,2719.5 450.6,2716.9 429.9,2706.6 C409.2,2696.2 396.2,2677.0 383.3,2656.8 C370.3,2636.6 358.9,2610.2 352.2,2585.3 C345.4,2560.5 336.1,2523.7 342.8,2507.6Z" fill="#D4D4D4" filter="url(#bl8)"/>
<clipPath id="cloudclip"><path d="M342.8,2507.6 C349.6,2491.6 372.4,2490.0 392.6,2489.0 C412.8,2487.9 441.8,2492.1 464.1,2501.4 C486.4,2510.7 503.5,2543.9 526.3,2544.9 C549.1,2546.0 575.5,2518.0 600.9,2507.6 C626.3,2497.3 652.7,2487.4 678.6,2482.7 C704.5,2478.1 734.0,2474.5 756.3,2479.6 C778.6,2484.8 799.3,2498.8 812.3,2513.8 C825.2,2528.9 831.4,2550.1 834.0,2569.8 C836.6,2589.5 833.0,2613.3 827.8,2632.0 C822.6,2650.6 817.5,2669.3 802.9,2681.7 C788.4,2694.1 761.5,2704.5 740.8,2706.6 C720.0,2708.6 701.9,2694.7 678.6,2694.1 C655.3,2693.6 629.4,2699.3 600.9,2703.5 C572.4,2707.6 536.1,2718.5 507.6,2719.0 C479.1,2719.5 450.6,2716.9 429.9,2706.6 C409.2,2696.2 396.2,2677.0 383.3,2656.8 C370.3,2636.6 358.9,2610.2 352.2,2585.3 C345.4,2560.5 336.1,2523.7 342.8,2507.6Z"/></clipPath>
<g filter="url(#bl5)"><path d="M342.8,2507.6 C349.6,2491.6 372.4,2490.0 392.6,2489.0 C412.8,2487.9 441.8,2492.1 464.1,2501.4 C486.4,2510.7 503.5,2543.9 526.3,2544.9 C549.1,2546.0 575.5,2518.0 600.9,2507.6 C626.3,2497.3 652.7,2487.4 678.6,2482.7 C704.5,2478.1 734.0,2474.5 756.3,2479.6 C778.6,2484.8 799.3,2498.8 812.3,2513.8 C825.2,2528.9 831.4,2550.1 834.0,2569.8 C836.6,2589.5 833.0,2613.3 827.8,2632.0 C822.6,2650.6 817.5,2669.3 802.9,2681.7 C788.4,2694.1 761.5,2704.5 740.8,2706.6 C720.0,2708.6 701.9,2694.7 678.6,2694.1 C655.3,2693.6 629.4,2699.3 600.9,2703.5 C572.4,2707.6 536.1,2718.5 507.6,2719.0 C479.1,2719.5 450.6,2716.9 429.9,2706.6 C409.2,2696.2 396.2,2677.0 383.3,2656.8 C370.3,2636.6 358.9,2610.2 352.2,2585.3 C345.4,2560.5 336.1,2523.7 342.8,2507.6Z" fill="#6a6a6a" filter="url(#grain)" opacity="0.42"/></g>
<clipPath id="mbox"><rect x="312.4" y="2309.3" width="183.40000000000003" height="183.39999999999964"/></clipPath>
<rect x="312.4" y="2309.3" width="183.40000000000003" height="183.39999999999964" fill="#DADADA"/>
<g clip-path="url(#mbox)"><rect x="312.4" y="2309.3" width="183.40000000000003" height="183.39999999999964" fill="#555" filter="url(#grain2)" opacity="0.7"/>
<g filter="url(#bl5)">
<path d="M389.5,2327.3 C390.3,2331.5 393.6,2337.7 394.1,2352.2 C394.7,2366.7 392.1,2390.5 392.6,2414.4 C393.1,2438.2 396.5,2481.7 397.3,2495.2" fill="none" stroke="#141414" stroke-width="52" stroke-linecap="round"/>
<path d="M436.1,2370.8 C438.7,2376.0 450.1,2390.5 451.7,2401.9 C453.2,2413.3 445.4,2426.8 445.4,2439.2 C445.4,2451.7 450.6,2470.3 451.7,2476.5" fill="none" stroke="#1a1a1a" stroke-width="36" stroke-linecap="round"/>
<path d="M349.1,2401.9 L364.6,2408.1" fill="none" stroke="#333" stroke-width="20" stroke-linecap="round"/>
</g>
<rect x="386.5" y="2357" width="25" height="150" rx="12" fill="#F6F6F6" filter="url(#bl2)"/>
</g>
<g filter="url(#bl2)">
<path d="M397.3,2489.0 C397.6,2493.1 398.1,2505.5 399.4,2513.8 C400.7,2522.1 402.8,2530.9 405.0,2538.7 C407.3,2546.5 409.7,2553.7 412.8,2560.5 C415.9,2567.2 418.8,2573.4 423.7,2579.1 C428.6,2584.8 435.6,2590.5 442.3,2594.7 C449.1,2598.8 456.3,2602.0 464.1,2604.0 C471.9,2606.0 480.7,2606.5 489.0,2606.5 C497.3,2606.5 505.0,2605.9 513.8,2604.0 C522.6,2602.1 532.5,2598.4 541.8,2595.3 C551.1,2592.2 559.9,2588.6 569.8,2585.3 C579.6,2582.0 590.5,2578.5 600.9,2575.4 C611.2,2572.3 620.0,2570.2 632.0,2566.7 C643.9,2563.2 665.6,2556.3 672.4,2554.2" fill="none" stroke="#0e0e0e" stroke-width="42" stroke-linecap="round" stroke-linejoin="round"/>
<path d="M557.4,2569.8 C560.5,2568.2 569.8,2561.5 576.0,2560.5 C582.2,2559.4 591.6,2563.1 594.7,2563.6" fill="none" stroke="#0e0e0e" stroke-width="34" stroke-linecap="round"/>
<path d="M672.4,2554.2 C676.0,2551.1 685.3,2538.7 694.1,2535.6 C702.9,2532.5 717.5,2532.0 725.2,2535.6 C733.0,2539.2 736.6,2549.1 740.8,2557.4 C744.9,2565.6 745.4,2578.1 750.1,2585.3 C754.8,2592.6 764.6,2595.2 768.8,2600.9 C772.9,2606.6 777.0,2615.4 775.0,2619.5 C772.9,2623.7 762.0,2627.8 756.3,2625.7 C750.6,2623.7 747.0,2613.3 740.8,2607.1 C734.6,2600.9 727.8,2594.1 719.0,2588.4 C710.2,2582.7 695.7,2577.6 687.9,2572.9 C680.2,2568.2 675.0,2562.5 672.4,2560.5" fill="none" stroke="#0e0e0e" stroke-width="30" stroke-linecap="round"/>
<path d="M672.4,2569.8 C671.3,2575.0 665.6,2590.5 666.2,2600.9 C666.7,2611.2 670.8,2624.2 675.5,2632.0 C680.2,2639.7 689.0,2647.5 694.1,2647.5 C699.3,2647.5 705.0,2638.2 706.6,2632.0 C708.1,2625.7 706.6,2617.5 703.5,2610.2 C700.4,2603.0 690.5,2592.1 687.9,2588.4" fill="none" stroke="#0e0e0e" stroke-width="26" stroke-linecap="round"/>
<path d="M725.2,2644.4 C725.2,2648.5 722.6,2663.1 725.2,2669.3 C727.8,2675.5 735.1,2680.2 740.8,2681.7 C746.5,2683.3 756.3,2679.1 759.4,2678.6" fill="none" stroke="#0e0e0e" stroke-width="14" stroke-linecap="round"/>
<path d="M694.1,2557.4 C699.3,2558.4 716.4,2556.3 725.2,2563.6 C734.0,2570.8 739.2,2592.6 747.0,2600.9 C754.8,2609.2 765.1,2608.1 771.9,2613.3 C778.6,2618.5 784.8,2628.9 787.4,2632.0" fill="none" stroke="#0e0e0e" stroke-width="40" stroke-linecap="round"/>
<path d="M397.3,2489.0 C397.6,2493.1 398.1,2505.5 399.4,2513.8 C400.7,2522.1 402.8,2530.9 405.0,2538.7 C407.3,2546.5 409.7,2553.7 412.8,2560.5 C415.9,2567.2 418.8,2573.4 423.7,2579.1 C428.6,2584.8 435.6,2590.5 442.3,2594.7 C449.1,2598.8 456.3,2602.0 464.1,2604.0 C471.9,2606.0 480.7,2606.5 489.0,2606.5 C497.3,2606.5 505.0,2605.9 513.8,2604.0 C522.6,2602.1 532.5,2598.4 541.8,2595.3 C551.1,2592.2 559.9,2588.6 569.8,2585.3 C579.6,2582.0 590.5,2578.5 600.9,2575.4 C611.2,2572.3 620.0,2570.2 632.0,2566.7 C643.9,2563.2 665.6,2556.3 672.4,2554.2" fill="none" stroke="#EDEDED" stroke-width="11" stroke-linecap="round" stroke-linejoin="round" stroke-dasharray="10 2.5"/>
<path d="M672.4,2554.2 C676.0,2551.1 685.3,2538.7 694.1,2535.6 C702.9,2532.5 717.5,2532.0 725.2,2535.6 C733.0,2539.2 736.6,2549.1 740.8,2557.4 C744.9,2565.6 745.4,2578.1 750.1,2585.3 C754.8,2592.6 764.6,2595.2 768.8,2600.9 C772.9,2606.6 777.0,2615.4 775.0,2619.5 C772.9,2623.7 762.0,2627.8 756.3,2625.7 C750.6,2623.7 747.0,2613.3 740.8,2607.1 C734.6,2600.9 727.8,2594.1 719.0,2588.4 C710.2,2582.7 695.7,2577.6 687.9,2572.9 C680.2,2568.2 675.0,2562.5 672.4,2560.5" fill="none" stroke="#EDEDED" stroke-width="8" stroke-linecap="round" stroke-dasharray="9 2.5"/>
<path d="M672.4,2569.8 C671.3,2575.0 665.6,2590.5 666.2,2600.9 C666.7,2611.2 670.8,2624.2 675.5,2632.0 C680.2,2639.7 689.0,2647.5 694.1,2647.5 C699.3,2647.5 705.0,2638.2 706.6,2632.0 C708.1,2625.7 706.6,2617.5 703.5,2610.2 C700.4,2603.0 690.5,2592.1 687.9,2588.4" fill="none" stroke="#EDEDED" stroke-width="7.5" stroke-linecap="round" stroke-dasharray="9 2.5"/>
<path d="M725.2,2644.4 C725.2,2648.5 722.6,2663.1 725.2,2669.3 C727.8,2675.5 735.1,2680.2 740.8,2681.7 C746.5,2683.3 756.3,2679.1 759.4,2678.6" fill="none" stroke="#EDEDED" stroke-width="5" stroke-linecap="round" stroke-dasharray="9 2.5"/>
</g>
<rect x="312.4" y="2309.3" width="183.40000000000003" height="183.39999999999964" fill="none" stroke="#000" stroke-width="4"/>
<text x="351.0" y="781.0" font-size="63" font-weight="bold" fill="#fff" textLength="166.0" lengthAdjust="spacingAndGlyphs" text-anchor="start" >El virus</text>
<text x="285.6" y="843.8" font-size="42" font-weight="bold" fill="#fff" textLength="951.1" lengthAdjust="spacingAndGlyphs" text-anchor="start" >El virus, para reproducirse, debe infectar una célula animal,</text>
<text x="285.6" y="904.6" font-size="42" font-weight="bold" fill="#fff" textLength="240.4" lengthAdjust="spacingAndGlyphs" text-anchor="start" >habitualmente:</text>
<text x="285.6" y="965.9" font-size="42" font-weight="bold" fill="#fff" textLength="523.4" lengthAdjust="spacingAndGlyphs" text-anchor="start" >- Células del sistema inmunitario</text>
<text x="285.6" y="1027.0" font-size="42" font-weight="bold" fill="#fff" textLength="919.4" lengthAdjust="spacingAndGlyphs" text-anchor="start" >- Fibroblastos (bajo la piel y en torno a todos los órganos)</text>
<text x="285.6" y="1087.5" font-size="42" font-weight="bold" fill="#fff" textLength="819.4" lengthAdjust="spacingAndGlyphs" text-anchor="start" >- Células endoteliales (paredes de venas y arterías)</text>
<text x="285.6" y="1148.0" font-size="42" font-weight="bold" fill="#fff" textLength="485.4" lengthAdjust="spacingAndGlyphs" text-anchor="start" >- Células de hígado y del riñón.</text>
<text x="1797.7" y="499.1" font-size="62" font-weight="bold" fill="#fff" textLength="554.9" lengthAdjust="spacingAndGlyphs" text-anchor="start" >Origen de la enfermedad</text>
<text x="1800.6" y="569.1" font-size="42" font-weight="bold" fill="#fff" textLength="574.9" lengthAdjust="spacingAndGlyphs" text-anchor="start" >Posiblemente el huésped natural del</text>
<text x="1800.0" y="629.9" font-size="42" font-weight="bold" fill="#fff" textLength="596.9" lengthAdjust="spacingAndGlyphs" text-anchor="start" >virus sean los murciélagos frugívoros</text>
<text x="1800.6" y="689.9" font-size="42" font-weight="bold" fill="#fff" textLength="192.4" lengthAdjust="spacingAndGlyphs" text-anchor="start" >de la familia</text>
<text x="2005.6" y="689.9" font-size="42" font-weight="bold" fill="#fff" textLength="212.8" lengthAdjust="spacingAndGlyphs" font-style="italic" text-anchor="start" >Pteropodidae.</text>
<text x="2462.6" y="498.7" font-size="62" font-weight="bold" fill="#000" textLength="434.1" lengthAdjust="spacingAndGlyphs" text-anchor="start" >Brotes en animales</text>
<text x="2459.5" y="570.6" font-size="42" font-weight="bold" fill="#000" textLength="977.1" lengthAdjust="spacingAndGlyphs" text-anchor="start" >Los murciélagos pasan la enfermedad a otros animales como</text>
<text x="2459.5" y="630.3" font-size="42" font-weight="bold" fill="#000" textLength="943.5" lengthAdjust="spacingAndGlyphs" text-anchor="start" >chimpancés, monos, macacos, pequeños antílopes, gorilas,</text>
<text x="2459.5" y="690.8" font-size="42" font-weight="bold" fill="#000" textLength="648.5" lengthAdjust="spacingAndGlyphs" text-anchor="start" >puercoespines y roedores como ratones.</text>
<text x="1464.0" y="932.0" font-size="62" font-weight="bold" fill="#fff" textLength="206.7" lengthAdjust="spacingAndGlyphs" text-anchor="start" >Epidemia</text>
<text x="1421.0" y="1000.4" font-size="42" font-weight="bold" fill="#fff" textLength="248.0" lengthAdjust="spacingAndGlyphs" text-anchor="start" >Se contagia por</text>
<text x="1406.9" y="1061.6" font-size="42" font-weight="bold" fill="#fff" textLength="262.1" lengthAdjust="spacingAndGlyphs" text-anchor="start" >contacto directo</text>
<text x="1380.4" y="1122.7" font-size="42" font-weight="bold" fill="#fff" textLength="288.6" lengthAdjust="spacingAndGlyphs" text-anchor="start" >con secreciones o</text>
<text x="1424.4" y="1183.9" font-size="42" font-weight="bold" fill="#fff" textLength="244.6" lengthAdjust="spacingAndGlyphs" text-anchor="start" >sangre. El virus</text>
<text x="1467.4" y="1244.4" font-size="42" font-weight="bold" fill="#fff" textLength="201.6" lengthAdjust="spacingAndGlyphs" text-anchor="start" >entra por las</text>
<text x="1517.9" y="1305.5" font-size="42" font-weight="bold" fill="#fff" textLength="151.1" lengthAdjust="spacingAndGlyphs" text-anchor="start" >mucosas.</text>
<text x="1322.6" y="1519.6" font-size="62" font-weight="bold" fill="#fff" textLength="244.4" lengthAdjust="spacingAndGlyphs" text-anchor="start" >¿Hay cura?</text>
<text x="1325.2" y="1600.0" font-size="42" font-weight="bold" fill="#fff" textLength="345.2" lengthAdjust="spacingAndGlyphs" text-anchor="start" >La casa farmacéutica</text>
<text x="1325.2" y="1661.1" font-size="42" font-weight="bold" fill="#fff" textLength="424.1" lengthAdjust="spacingAndGlyphs" text-anchor="start" >MAPP BIOPHARMACEUTICAL</text>
<text x="1360.4" y="1722.2" font-size="42" font-weight="bold" fill="#fff" textLength="364.8" lengthAdjust="spacingAndGlyphs" text-anchor="start" >está desarrollando una</text>
<text x="1378.9" y="1782.6" font-size="42" font-weight="bold" fill="#fff" textLength="310.4" lengthAdjust="spacingAndGlyphs" text-anchor="start" >droga experimental</text>
<text x="1405.6" y="1843.7" font-size="42" font-weight="bold" fill="#fff" textLength="352.9" lengthAdjust="spacingAndGlyphs" text-anchor="start" >llamada ZMAPP a base</text>
<text x="1433.7" y="1904.8" font-size="42" font-weight="bold" fill="#fff" textLength="236.7" lengthAdjust="spacingAndGlyphs" text-anchor="start" >de anticuerpos</text>
<text x="1460.4" y="1965.9" font-size="42" font-weight="bold" fill="#fff" textLength="228.9" lengthAdjust="spacingAndGlyphs" text-anchor="start" >monoclonales.</text>
<text x="3122.3" y="1742.1" font-size="62" font-weight="bold" fill="#000" textLength="459.2" lengthAdjust="spacingAndGlyphs" text-anchor="start" >Contagio a humanos</text>
<text x="3125.0" y="1812.0" font-size="42" font-weight="bold" fill="#000" textLength="597.4" lengthAdjust="spacingAndGlyphs" text-anchor="start" >El virus pasa a humanos por contacto</text>
<text x="3124.4" y="1873.0" font-size="42" font-weight="bold" fill="#000" textLength="549.0" lengthAdjust="spacingAndGlyphs" text-anchor="start" >con sangre o fluidos corporales de</text>
<text x="3124.4" y="1934.0" font-size="42" font-weight="bold" fill="#000" textLength="330.3" lengthAdjust="spacingAndGlyphs" text-anchor="start" >animales infectados.</text>
<text x="1955.3" y="2080.8" font-size="62" font-weight="bold" fill="#000" textLength="457.6" lengthAdjust="spacingAndGlyphs" text-anchor="start" >Segunda fase aguda</text>
<text x="1952.2" y="2150.1" font-size="42" font-weight="bold" fill="#000" textLength="149.2" lengthAdjust="spacingAndGlyphs" text-anchor="start" >• Vómitos</text>
<text x="1952.2" y="2211.6" font-size="42" font-weight="bold" fill="#000" textLength="355.0" lengthAdjust="spacingAndGlyphs" text-anchor="start" >• Erupciones cutáneas</text>
<text x="1952.2" y="2272.9" font-size="42" font-weight="bold" fill="#000" textLength="455.4" lengthAdjust="spacingAndGlyphs" text-anchor="start" >• Disfunción hepática y renal</text>
<text x="1952.2" y="2334.1" font-size="42" font-weight="bold" fill="#000" textLength="544.6" lengthAdjust="spacingAndGlyphs" text-anchor="start" >• Hemorragias internas y externas</text>
<text x="1952.2" y="2395.0" font-size="42" font-weight="bold" fill="#000" textLength="137.4" lengthAdjust="spacingAndGlyphs" text-anchor="start" >• Diarrea</text>
<text x="2779.7" y="2080.8" font-size="62" font-weight="bold" fill="#000" textLength="443.3" lengthAdjust="spacingAndGlyphs" text-anchor="start" >Primera fase aguda</text>
<text x="2776.6" y="2150.1" font-size="42" font-weight="bold" fill="#000" textLength="386.4" lengthAdjust="spacingAndGlyphs" text-anchor="start" >• Dolor de cabeza, fiebre</text>
<text x="2776.6" y="2211.6" font-size="42" font-weight="bold" fill="#000" textLength="304.0" lengthAdjust="spacingAndGlyphs" text-anchor="start" >• Dolor de garganta</text>
<text x="2776.6" y="2272.9" font-size="42" font-weight="bold" fill="#000" textLength="261.1" lengthAdjust="spacingAndGlyphs" text-anchor="start" >• Dolor muscular</text>
<text x="2776.6" y="2334.1" font-size="42" font-weight="bold" fill="#000" textLength="294.7" lengthAdjust="spacingAndGlyphs" text-anchor="start" >• Debilidad intensa</text>
<text x="3520.7" y="2150.8" font-size="62" font-weight="bold" fill="#fff" textLength="503.0" lengthAdjust="spacingAndGlyphs" text-anchor="start" >Periodo de Incubación</text>
<text x="3523.3" y="2213.5" font-size="42" font-weight="bold" fill="#fff" textLength="645.7" lengthAdjust="spacingAndGlyphs" text-anchor="start" >Varía entre 2 a 21 días. El paciente puede</text>
<text x="3523.3" y="2274.7" font-size="42" font-weight="bold" fill="#fff" textLength="628.0" lengthAdjust="spacingAndGlyphs" text-anchor="start" >estar infectado sin presentar síntomas.</text>
<text x="3523.3" y="2335.9" font-size="42" font-weight="bold" fill="#fff" textLength="700.5" lengthAdjust="spacingAndGlyphs" text-anchor="start" >En esta etapa la infección no es contagiosa.</text>
<text x="4010.9" y="507.1" font-size="62" font-weight="bold" fill="#000" textLength="277.8" lengthAdjust="spacingAndGlyphs" text-anchor="start" >Chimpancés</text>
<text x="3743.0" y="804.8" font-size="62" font-weight="bold" fill="#000" textLength="205.9" lengthAdjust="spacingAndGlyphs" text-anchor="start" >Macacos,</text>
<text x="3743.0" y="874.2" font-size="62" font-weight="bold" fill="#000" textLength="275.4" lengthAdjust="spacingAndGlyphs" text-anchor="start" >Otros Monos</text>
<text x="4056.5" y="1117.0" font-size="62" font-weight="bold" fill="#000" textLength="333.9" lengthAdjust="spacingAndGlyphs" text-anchor="start" >Puercoespines</text>
<text x="3671.0" y="1531.9" font-size="62" font-weight="bold" fill="#000" textLength="219.4" lengthAdjust="spacingAndGlyphs" text-anchor="start" >Pequeños</text>
<text x="3671.0" y="1602.4" font-size="62" font-weight="bold" fill="#000" textLength="403.4" lengthAdjust="spacingAndGlyphs" text-anchor="start" >antilopes (duiker)</text>
<text x="2400.0" y="1631.3" font-size="77" font-weight="normal" fill="#fff" textLength="357.0" lengthAdjust="spacingAndGlyphs" text-anchor="start" >Mortalidad</text>
<text x="2400.0" y="1690.3" font-size="77" font-weight="normal" fill="#fff" textLength="357.0" lengthAdjust="spacingAndGlyphs" text-anchor="start" >ha llegado a</text>
<text x="2392.0" y="1852.9" font-size="198" font-weight="normal" fill="#fff" textLength="373.0" lengthAdjust="spacingAndGlyphs" text-anchor="start" >90%</text>
<text x="580.7" y="1335.0" font-size="43" font-weight="bold" fill="#000" textLength="155.9" lengthAdjust="spacingAndGlyphs" text-anchor="start" >Nucleoide</text>
<text x="580.7" y="1396.3" font-size="43" font-weight="bold" fill="#000" textLength="479.3" lengthAdjust="spacingAndGlyphs" text-anchor="start" >Con proteínas para multiplicar</text>
<text x="580.7" y="1456.7" font-size="43" font-weight="bold" fill="#000" textLength="308.9" lengthAdjust="spacingAndGlyphs" text-anchor="start" >el genoma del virus</text>
<text x="337.5" y="1533.8" font-size="43" font-weight="bold" fill="#000" textLength="123.7" lengthAdjust="spacingAndGlyphs" text-anchor="start" >Cápside</text>
<text x="337.5" y="1595.0" font-size="43" font-weight="bold" fill="#000" textLength="251.0" lengthAdjust="spacingAndGlyphs" text-anchor="start" >Forma de hélice</text>
<text x="992.4" y="1603.0" font-size="43" font-weight="bold" fill="#000" textLength="225.6" lengthAdjust="spacingAndGlyphs" text-anchor="start" >Genoma (ARN)</text>
<text x="316.7" y="2170.2" font-size="43" font-weight="bold" fill="#000" textLength="143.5" lengthAdjust="spacingAndGlyphs" text-anchor="start" >Diámetro</text>
<text x="316.7" y="2231.4" font-size="43" font-weight="bold" fill="#000" textLength="112.6" lengthAdjust="spacingAndGlyphs" text-anchor="start" >80 nm*</text>
<text x="555.2" y="2228.9" font-size="43" font-weight="bold" fill="#000" textLength="208.0" lengthAdjust="spacingAndGlyphs" text-anchor="start" >Glicoproteína</text>
<text x="555.2" y="2289.0" font-size="43" font-weight="bold" fill="#000" textLength="391.6" lengthAdjust="spacingAndGlyphs" text-anchor="start" >Une el virus a las células</text>
<text x="555.2" y="2349.8" font-size="43" font-weight="bold" fill="#000" textLength="268.3" lengthAdjust="spacingAndGlyphs" text-anchor="start" >que va a infectar</text>
<text x="1015.4" y="2223.0" font-size="43" font-weight="bold" fill="#000" textLength="149.3" lengthAdjust="spacingAndGlyphs" text-anchor="start" >Envoltura</text>
<text x="1015.4" y="2283.7" font-size="43" font-weight="bold" fill="#000" textLength="358.9" lengthAdjust="spacingAndGlyphs" text-anchor="start" >Membrana de la última</text>
<text x="1015.4" y="2344.0" font-size="43" font-weight="bold" fill="#000" textLength="370.1" lengthAdjust="spacingAndGlyphs" text-anchor="start" >célula que ha infectado</text>
<text x="863.6" y="2506.5" font-size="62" font-weight="bold" fill="#000" textLength="490.1" lengthAdjust="spacingAndGlyphs" text-anchor="start" >Cepa Zaire Ebolavirus</text>
<text x="860.2" y="2684.2" font-size="43" font-weight="bold" fill="#000" textLength="331.8" lengthAdjust="spacingAndGlyphs" text-anchor="start" >* con información de</text>
<text x="1203.9" y="2684.2" font-size="43" font-weight="bold" fill="#000" textLength="112.6" lengthAdjust="spacingAndGlyphs" font-style="italic" text-anchor="start" >EL PAIS</text>
</svg>
</body></html>
